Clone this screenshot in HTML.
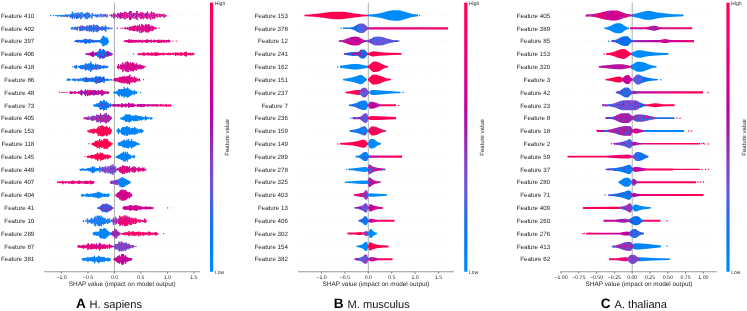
<!DOCTYPE html>
<html><head><meta charset="utf-8"><style>
html,body{margin:0;padding:0;background:#fff;}
svg{display:block;font-family:"Liberation Sans",sans-serif;text-rendering:geometricPrecision;}
#wrap{width:747px;height:311px;overflow:hidden;will-change:transform;}
</style></head><body>
<div id="wrap"><svg width="747" height="311" viewBox="0 0 747 311">
<defs><linearGradient id="cbar" x1="0" x2="0" y1="0" y2="1"><stop offset="0.00" stop-color="#ff0051"/><stop offset="0.10" stop-color="#f90067"/><stop offset="0.20" stop-color="#e9007c"/><stop offset="0.30" stop-color="#d5008f"/><stop offset="0.40" stop-color="#bb00a0"/><stop offset="0.50" stop-color="#9b23ad"/><stop offset="0.60" stop-color="#8443c6"/><stop offset="0.70" stop-color="#6359da"/><stop offset="0.80" stop-color="#236cea"/><stop offset="0.90" stop-color="#007cf5"/><stop offset="1.00" stop-color="#008bfb"/></linearGradient>
<linearGradient id="g0" gradientUnits="userSpaceOnUse" x1="304.5" x2="418.0" y1="0" y2="0"><stop offset="0.000" stop-color="#ff0051"/><stop offset="0.555" stop-color="#ff0051"/><stop offset="0.559" stop-color="#008bfb"/><stop offset="1.000" stop-color="#008bfb"/></linearGradient>
<linearGradient id="g1" gradientUnits="userSpaceOnUse" x1="343.0" x2="448.0" y1="0" y2="0"><stop offset="0.000" stop-color="#0084f9"/><stop offset="0.071" stop-color="#0084f9"/><stop offset="0.076" stop-color="#0080f7"/><stop offset="0.081" stop-color="#0080f7"/><stop offset="0.086" stop-color="#007cf5"/><stop offset="0.090" stop-color="#007cf5"/><stop offset="0.095" stop-color="#0078f3"/><stop offset="0.105" stop-color="#0078f3"/><stop offset="0.110" stop-color="#0074f0"/><stop offset="0.114" stop-color="#0074f0"/><stop offset="0.119" stop-color="#0070ed"/><stop offset="0.129" stop-color="#0070ed"/><stop offset="0.133" stop-color="#236cea"/><stop offset="0.138" stop-color="#236cea"/><stop offset="0.143" stop-color="#3b68e7"/><stop offset="0.148" stop-color="#3b68e7"/><stop offset="0.152" stop-color="#4b63e3"/><stop offset="0.162" stop-color="#4b63e3"/><stop offset="0.167" stop-color="#585edf"/><stop offset="0.171" stop-color="#585edf"/><stop offset="0.176" stop-color="#6359da"/><stop offset="0.181" stop-color="#6359da"/><stop offset="0.186" stop-color="#6c54d6"/><stop offset="0.195" stop-color="#6c54d6"/><stop offset="0.200" stop-color="#754fd1"/><stop offset="0.205" stop-color="#754fd1"/><stop offset="0.210" stop-color="#7d49cb"/><stop offset="0.219" stop-color="#7d49cb"/><stop offset="0.224" stop-color="#8443c6"/><stop offset="0.229" stop-color="#8443c6"/><stop offset="0.233" stop-color="#8b3cc0"/><stop offset="0.238" stop-color="#8b3cc0"/><stop offset="0.243" stop-color="#9135ba"/><stop offset="0.243" stop-color="#9135ba"/><stop offset="0.248" stop-color="#e00086"/><stop offset="0.300" stop-color="#e00086"/><stop offset="0.305" stop-color="#e50081"/><stop offset="0.410" stop-color="#e50081"/><stop offset="0.414" stop-color="#e9007c"/><stop offset="0.524" stop-color="#e9007c"/><stop offset="0.529" stop-color="#ee0077"/><stop offset="0.633" stop-color="#ee0077"/><stop offset="0.638" stop-color="#f20072"/><stop offset="0.743" stop-color="#f20072"/><stop offset="0.748" stop-color="#f5006c"/><stop offset="0.852" stop-color="#f5006c"/><stop offset="0.857" stop-color="#f90067"/><stop offset="0.967" stop-color="#f90067"/><stop offset="0.971" stop-color="#fc0062"/><stop offset="1.000" stop-color="#fc0062"/></linearGradient>
<linearGradient id="g2" gradientUnits="userSpaceOnUse" x1="339.5" x2="398.0" y1="0" y2="0"><stop offset="0.000" stop-color="#e9007c"/><stop offset="0.009" stop-color="#e9007c"/><stop offset="0.017" stop-color="#c80098"/><stop offset="0.453" stop-color="#c80098"/><stop offset="0.462" stop-color="#6359da"/><stop offset="1.000" stop-color="#6359da"/></linearGradient>
<linearGradient id="g3" gradientUnits="userSpaceOnUse" x1="344.0" x2="401.5" y1="0" y2="0"><stop offset="0.000" stop-color="#6359da"/><stop offset="0.026" stop-color="#6359da"/><stop offset="0.035" stop-color="#0074f0"/><stop offset="0.409" stop-color="#0074f0"/><stop offset="0.417" stop-color="#ff0051"/><stop offset="1.000" stop-color="#ff0051"/></linearGradient>
<linearGradient id="g4" gradientUnits="userSpaceOnUse" x1="340.0" x2="388.0" y1="0" y2="0"><stop offset="0.000" stop-color="#008bfb"/><stop offset="0.583" stop-color="#008bfb"/><stop offset="0.594" stop-color="#ff0051"/><stop offset="1.000" stop-color="#ff0051"/></linearGradient>
<linearGradient id="g5" gradientUnits="userSpaceOnUse" x1="345.5" x2="400.5" y1="0" y2="0"><stop offset="0.000" stop-color="#ff0051"/><stop offset="0.255" stop-color="#ff0051"/><stop offset="0.264" stop-color="#754fd1"/><stop offset="0.427" stop-color="#754fd1"/><stop offset="0.436" stop-color="#008bfb"/><stop offset="1.000" stop-color="#008bfb"/></linearGradient>
<linearGradient id="g6" gradientUnits="userSpaceOnUse" x1="349.5" x2="396.0" y1="0" y2="0"><stop offset="0.000" stop-color="#0084f9"/><stop offset="0.398" stop-color="#0084f9"/><stop offset="0.409" stop-color="#e9007c"/><stop offset="0.409" stop-color="#e9007c"/><stop offset="0.419" stop-color="#9b23ad"/><stop offset="0.419" stop-color="#9b23ad"/><stop offset="0.430" stop-color="#a31daa"/><stop offset="0.441" stop-color="#a31daa"/><stop offset="0.452" stop-color="#ab15a7"/><stop offset="0.462" stop-color="#ab15a7"/><stop offset="0.473" stop-color="#b30ba3"/><stop offset="0.484" stop-color="#b30ba3"/><stop offset="0.495" stop-color="#bb00a0"/><stop offset="0.516" stop-color="#bb00a0"/><stop offset="0.527" stop-color="#c2009c"/><stop offset="0.538" stop-color="#c2009c"/><stop offset="0.548" stop-color="#c80098"/><stop offset="0.559" stop-color="#c80098"/><stop offset="0.570" stop-color="#cf0093"/><stop offset="0.581" stop-color="#cf0093"/><stop offset="0.591" stop-color="#d5008f"/><stop offset="0.613" stop-color="#d5008f"/><stop offset="0.624" stop-color="#da008a"/><stop offset="0.634" stop-color="#da008a"/><stop offset="0.645" stop-color="#e00086"/><stop offset="0.645" stop-color="#e00086"/><stop offset="0.656" stop-color="#f5006c"/><stop offset="0.667" stop-color="#f5006c"/><stop offset="0.677" stop-color="#f90067"/><stop offset="0.731" stop-color="#f90067"/><stop offset="0.742" stop-color="#fc0062"/><stop offset="0.806" stop-color="#fc0062"/><stop offset="0.817" stop-color="#fe005c"/><stop offset="0.882" stop-color="#fe005c"/><stop offset="0.892" stop-color="#ff0057"/><stop offset="0.957" stop-color="#ff0057"/><stop offset="0.968" stop-color="#ff0051"/><stop offset="1.000" stop-color="#ff0051"/></linearGradient>
<linearGradient id="g7" gradientUnits="userSpaceOnUse" x1="352.5" x2="396.0" y1="0" y2="0"><stop offset="0.000" stop-color="#6359da"/><stop offset="0.161" stop-color="#6359da"/><stop offset="0.172" stop-color="#754fd1"/><stop offset="0.356" stop-color="#754fd1"/><stop offset="0.368" stop-color="#ff0051"/><stop offset="1.000" stop-color="#ff0051"/></linearGradient>
<linearGradient id="g8" gradientUnits="userSpaceOnUse" x1="349.5" x2="386.0" y1="0" y2="0"><stop offset="0.000" stop-color="#0084f9"/><stop offset="0.493" stop-color="#0084f9"/><stop offset="0.507" stop-color="#ff0051"/><stop offset="1.000" stop-color="#ff0051"/></linearGradient>
<linearGradient id="g9" gradientUnits="userSpaceOnUse" x1="340.0" x2="381.0" y1="0" y2="0"><stop offset="0.000" stop-color="#ff0051"/><stop offset="0.671" stop-color="#ff0051"/><stop offset="0.683" stop-color="#008bfb"/><stop offset="1.000" stop-color="#008bfb"/></linearGradient>
<linearGradient id="g10" gradientUnits="userSpaceOnUse" x1="355.5" x2="402.0" y1="0" y2="0"><stop offset="0.000" stop-color="#0084f9"/><stop offset="0.280" stop-color="#0084f9"/><stop offset="0.290" stop-color="#bb00a0"/><stop offset="0.301" stop-color="#bb00a0"/><stop offset="0.312" stop-color="#c2009c"/><stop offset="0.355" stop-color="#c2009c"/><stop offset="0.366" stop-color="#c80098"/><stop offset="0.398" stop-color="#c80098"/><stop offset="0.409" stop-color="#cf0093"/><stop offset="0.441" stop-color="#cf0093"/><stop offset="0.452" stop-color="#d5008f"/><stop offset="0.484" stop-color="#d5008f"/><stop offset="0.495" stop-color="#da008a"/><stop offset="0.527" stop-color="#da008a"/><stop offset="0.538" stop-color="#e00086"/><stop offset="0.570" stop-color="#e00086"/><stop offset="0.581" stop-color="#e50081"/><stop offset="0.624" stop-color="#e50081"/><stop offset="0.634" stop-color="#e9007c"/><stop offset="0.667" stop-color="#e9007c"/><stop offset="0.677" stop-color="#ee0077"/><stop offset="0.710" stop-color="#ee0077"/><stop offset="0.720" stop-color="#f20072"/><stop offset="0.753" stop-color="#f20072"/><stop offset="0.763" stop-color="#f5006c"/><stop offset="0.796" stop-color="#f5006c"/><stop offset="0.806" stop-color="#f90067"/><stop offset="0.839" stop-color="#f90067"/><stop offset="0.849" stop-color="#fc0062"/><stop offset="0.892" stop-color="#fc0062"/><stop offset="0.903" stop-color="#fe005c"/><stop offset="0.935" stop-color="#fe005c"/><stop offset="0.946" stop-color="#ff0057"/><stop offset="0.978" stop-color="#ff0057"/><stop offset="0.989" stop-color="#ff0051"/><stop offset="1.000" stop-color="#ff0051"/></linearGradient>
<linearGradient id="g11" gradientUnits="userSpaceOnUse" x1="348.5" x2="385.0" y1="0" y2="0"><stop offset="0.000" stop-color="#008bfb"/><stop offset="0.521" stop-color="#008bfb"/><stop offset="0.534" stop-color="#754fd1"/><stop offset="0.534" stop-color="#754fd1"/><stop offset="0.548" stop-color="#7d49cb"/><stop offset="0.562" stop-color="#7d49cb"/><stop offset="0.575" stop-color="#8443c6"/><stop offset="0.589" stop-color="#8443c6"/><stop offset="0.603" stop-color="#8b3cc0"/><stop offset="0.616" stop-color="#8b3cc0"/><stop offset="0.630" stop-color="#9135ba"/><stop offset="0.644" stop-color="#9135ba"/><stop offset="0.658" stop-color="#962db3"/><stop offset="0.671" stop-color="#962db3"/><stop offset="0.685" stop-color="#9b23ad"/><stop offset="0.699" stop-color="#9b23ad"/><stop offset="0.712" stop-color="#a31daa"/><stop offset="0.726" stop-color="#a31daa"/><stop offset="0.740" stop-color="#ab15a7"/><stop offset="0.753" stop-color="#ab15a7"/><stop offset="0.767" stop-color="#b30ba3"/><stop offset="0.781" stop-color="#b30ba3"/><stop offset="0.795" stop-color="#bb00a0"/><stop offset="0.808" stop-color="#bb00a0"/><stop offset="0.822" stop-color="#c2009c"/><stop offset="0.836" stop-color="#c2009c"/><stop offset="0.849" stop-color="#c80098"/><stop offset="0.849" stop-color="#c80098"/><stop offset="0.863" stop-color="#cf0093"/><stop offset="0.877" stop-color="#cf0093"/><stop offset="0.890" stop-color="#d5008f"/><stop offset="0.904" stop-color="#d5008f"/><stop offset="0.918" stop-color="#da008a"/><stop offset="0.932" stop-color="#da008a"/><stop offset="0.945" stop-color="#e00086"/><stop offset="0.959" stop-color="#e00086"/><stop offset="0.973" stop-color="#e50081"/><stop offset="0.986" stop-color="#e50081"/><stop offset="1.000" stop-color="#e9007c"/><stop offset="1.000" stop-color="#e9007c"/></linearGradient>
<linearGradient id="g12" gradientUnits="userSpaceOnUse" x1="346.0" x2="380.5" y1="0" y2="0"><stop offset="0.000" stop-color="#008bfb"/><stop offset="0.623" stop-color="#008bfb"/><stop offset="0.638" stop-color="#8b3cc0"/><stop offset="0.638" stop-color="#8b3cc0"/><stop offset="0.652" stop-color="#9135ba"/><stop offset="0.652" stop-color="#9135ba"/><stop offset="0.667" stop-color="#962db3"/><stop offset="0.667" stop-color="#962db3"/><stop offset="0.681" stop-color="#9b23ad"/><stop offset="0.681" stop-color="#9b23ad"/><stop offset="0.696" stop-color="#a31daa"/><stop offset="0.710" stop-color="#a31daa"/><stop offset="0.725" stop-color="#ab15a7"/><stop offset="0.725" stop-color="#ab15a7"/><stop offset="0.739" stop-color="#b30ba3"/><stop offset="0.739" stop-color="#b30ba3"/><stop offset="0.754" stop-color="#bb00a0"/><stop offset="0.754" stop-color="#bb00a0"/><stop offset="0.768" stop-color="#c2009c"/><stop offset="0.768" stop-color="#c2009c"/><stop offset="0.783" stop-color="#c80098"/><stop offset="0.783" stop-color="#c80098"/><stop offset="0.797" stop-color="#cf0093"/><stop offset="0.797" stop-color="#cf0093"/><stop offset="0.812" stop-color="#d5008f"/><stop offset="0.812" stop-color="#d5008f"/><stop offset="0.826" stop-color="#da008a"/><stop offset="0.826" stop-color="#da008a"/><stop offset="0.841" stop-color="#e00086"/><stop offset="0.841" stop-color="#e00086"/><stop offset="0.855" stop-color="#e50081"/><stop offset="0.855" stop-color="#e50081"/><stop offset="0.870" stop-color="#e9007c"/><stop offset="0.884" stop-color="#e9007c"/><stop offset="0.899" stop-color="#ee0077"/><stop offset="0.899" stop-color="#ee0077"/><stop offset="0.913" stop-color="#f20072"/><stop offset="0.913" stop-color="#f20072"/><stop offset="0.928" stop-color="#f5006c"/><stop offset="0.928" stop-color="#f5006c"/><stop offset="0.942" stop-color="#f90067"/><stop offset="0.942" stop-color="#f90067"/><stop offset="0.957" stop-color="#fc0062"/><stop offset="0.957" stop-color="#fc0062"/><stop offset="0.971" stop-color="#fe005c"/><stop offset="0.971" stop-color="#fe005c"/><stop offset="0.986" stop-color="#ff0057"/><stop offset="0.986" stop-color="#ff0057"/><stop offset="1.000" stop-color="#ff0051"/><stop offset="1.000" stop-color="#ff0051"/></linearGradient>
<linearGradient id="g13" gradientUnits="userSpaceOnUse" x1="354.0" x2="387.0" y1="0" y2="0"><stop offset="0.000" stop-color="#e9007c"/><stop offset="0.258" stop-color="#e9007c"/><stop offset="0.273" stop-color="#9135ba"/><stop offset="0.424" stop-color="#9135ba"/><stop offset="0.439" stop-color="#008bfb"/><stop offset="1.000" stop-color="#008bfb"/></linearGradient>
<linearGradient id="g14" gradientUnits="userSpaceOnUse" x1="354.5" x2="382.5" y1="0" y2="0"><stop offset="0.000" stop-color="#6359da"/><stop offset="0.482" stop-color="#6359da"/><stop offset="0.500" stop-color="#c80098"/><stop offset="1.000" stop-color="#c80098"/></linearGradient>
<linearGradient id="g15" gradientUnits="userSpaceOnUse" x1="358.5" x2="394.5" y1="0" y2="0"><stop offset="0.000" stop-color="#007cf5"/><stop offset="0.278" stop-color="#007cf5"/><stop offset="0.292" stop-color="#d5008f"/><stop offset="0.514" stop-color="#d5008f"/><stop offset="0.528" stop-color="#f5006c"/><stop offset="0.597" stop-color="#f5006c"/><stop offset="0.611" stop-color="#f90067"/><stop offset="0.681" stop-color="#f90067"/><stop offset="0.694" stop-color="#fc0062"/><stop offset="0.778" stop-color="#fc0062"/><stop offset="0.792" stop-color="#fe005c"/><stop offset="0.861" stop-color="#fe005c"/><stop offset="0.875" stop-color="#ff0057"/><stop offset="0.958" stop-color="#ff0057"/><stop offset="0.972" stop-color="#ff0051"/><stop offset="1.000" stop-color="#ff0051"/></linearGradient>
<linearGradient id="g16" gradientUnits="userSpaceOnUse" x1="347.5" x2="377.0" y1="0" y2="0"><stop offset="0.000" stop-color="#ff0051"/><stop offset="0.220" stop-color="#ff0051"/><stop offset="0.237" stop-color="#fe005c"/><stop offset="0.492" stop-color="#fe005c"/><stop offset="0.508" stop-color="#ff0051"/><stop offset="0.508" stop-color="#ff0051"/><stop offset="0.525" stop-color="#9135ba"/><stop offset="0.695" stop-color="#9135ba"/><stop offset="0.712" stop-color="#008bfb"/><stop offset="1.000" stop-color="#008bfb"/></linearGradient>
<linearGradient id="g17" gradientUnits="userSpaceOnUse" x1="356.5" x2="388.5" y1="0" y2="0"><stop offset="0.000" stop-color="#008bfb"/><stop offset="0.359" stop-color="#008bfb"/><stop offset="0.375" stop-color="#ff0051"/><stop offset="1.000" stop-color="#ff0051"/></linearGradient>
<linearGradient id="g18" gradientUnits="userSpaceOnUse" x1="354.5" x2="392.5" y1="0" y2="0"><stop offset="0.000" stop-color="#754fd1"/><stop offset="0.355" stop-color="#754fd1"/><stop offset="0.368" stop-color="#e00086"/><stop offset="0.382" stop-color="#e00086"/><stop offset="0.395" stop-color="#d5008f"/><stop offset="0.605" stop-color="#d5008f"/><stop offset="0.618" stop-color="#f20072"/><stop offset="0.645" stop-color="#f20072"/><stop offset="0.658" stop-color="#f5006c"/><stop offset="0.711" stop-color="#f5006c"/><stop offset="0.724" stop-color="#f90067"/><stop offset="0.776" stop-color="#f90067"/><stop offset="0.789" stop-color="#fc0062"/><stop offset="0.842" stop-color="#fc0062"/><stop offset="0.855" stop-color="#fe005c"/><stop offset="0.895" stop-color="#fe005c"/><stop offset="0.908" stop-color="#ff0057"/><stop offset="0.961" stop-color="#ff0057"/><stop offset="0.974" stop-color="#ff0051"/><stop offset="1.000" stop-color="#ff0051"/></linearGradient>
<linearGradient id="g19" gradientUnits="userSpaceOnUse" x1="586.0" x2="683.5" y1="0" y2="0"><stop offset="0.000" stop-color="#c80098"/><stop offset="0.041" stop-color="#c80098"/><stop offset="0.046" stop-color="#cf0093"/><stop offset="0.446" stop-color="#cf0093"/><stop offset="0.451" stop-color="#c80098"/><stop offset="0.451" stop-color="#c80098"/><stop offset="0.456" stop-color="#cf0093"/><stop offset="0.472" stop-color="#cf0093"/><stop offset="0.477" stop-color="#008bfb"/><stop offset="1.000" stop-color="#008bfb"/></linearGradient>
<linearGradient id="g20" gradientUnits="userSpaceOnUse" x1="630.0" x2="692.0" y1="0" y2="0"><stop offset="0.000" stop-color="#e00086"/><stop offset="0.056" stop-color="#e00086"/><stop offset="0.065" stop-color="#e50081"/><stop offset="0.185" stop-color="#e50081"/><stop offset="0.194" stop-color="#e9007c"/><stop offset="0.266" stop-color="#e9007c"/><stop offset="0.274" stop-color="#9b23ad"/><stop offset="0.484" stop-color="#9b23ad"/><stop offset="0.492" stop-color="#f20072"/><stop offset="0.565" stop-color="#f20072"/><stop offset="0.573" stop-color="#f5006c"/><stop offset="0.685" stop-color="#f5006c"/><stop offset="0.694" stop-color="#f90067"/><stop offset="0.815" stop-color="#f90067"/><stop offset="0.823" stop-color="#fc0062"/><stop offset="0.935" stop-color="#fc0062"/><stop offset="0.944" stop-color="#fe005c"/><stop offset="1.000" stop-color="#fe005c"/></linearGradient>
<linearGradient id="g21" gradientUnits="userSpaceOnUse" x1="611.5" x2="694.0" y1="0" y2="0"><stop offset="0.000" stop-color="#008bfb"/><stop offset="0.030" stop-color="#008bfb"/><stop offset="0.036" stop-color="#0074f0"/><stop offset="0.255" stop-color="#0074f0"/><stop offset="0.261" stop-color="#9135ba"/><stop offset="0.279" stop-color="#9135ba"/><stop offset="0.285" stop-color="#962db3"/><stop offset="0.327" stop-color="#962db3"/><stop offset="0.333" stop-color="#9b23ad"/><stop offset="0.376" stop-color="#9b23ad"/><stop offset="0.382" stop-color="#a31daa"/><stop offset="0.418" stop-color="#a31daa"/><stop offset="0.424" stop-color="#ab15a7"/><stop offset="0.467" stop-color="#ab15a7"/><stop offset="0.473" stop-color="#b30ba3"/><stop offset="0.509" stop-color="#b30ba3"/><stop offset="0.515" stop-color="#bb00a0"/><stop offset="0.558" stop-color="#bb00a0"/><stop offset="0.564" stop-color="#c2009c"/><stop offset="0.588" stop-color="#c2009c"/><stop offset="0.594" stop-color="#e00086"/><stop offset="0.703" stop-color="#e00086"/><stop offset="0.709" stop-color="#d5008f"/><stop offset="0.745" stop-color="#d5008f"/><stop offset="0.752" stop-color="#da008a"/><stop offset="0.788" stop-color="#da008a"/><stop offset="0.794" stop-color="#e00086"/><stop offset="0.836" stop-color="#e00086"/><stop offset="0.842" stop-color="#e50081"/><stop offset="0.879" stop-color="#e50081"/><stop offset="0.885" stop-color="#e9007c"/><stop offset="0.927" stop-color="#e9007c"/><stop offset="0.933" stop-color="#ee0077"/><stop offset="0.976" stop-color="#ee0077"/><stop offset="0.982" stop-color="#f20072"/><stop offset="1.000" stop-color="#f20072"/></linearGradient>
<linearGradient id="g22" gradientUnits="userSpaceOnUse" x1="606.0" x2="668.0" y1="0" y2="0"><stop offset="0.000" stop-color="#ff0051"/><stop offset="0.403" stop-color="#ff0051"/><stop offset="0.411" stop-color="#008bfb"/><stop offset="1.000" stop-color="#008bfb"/></linearGradient>
<linearGradient id="g23" gradientUnits="userSpaceOnUse" x1="599.0" x2="656.5" y1="0" y2="0"><stop offset="0.000" stop-color="#ab15a7"/><stop offset="0.548" stop-color="#ab15a7"/><stop offset="0.557" stop-color="#008bfb"/><stop offset="1.000" stop-color="#008bfb"/></linearGradient>
<linearGradient id="g24" gradientUnits="userSpaceOnUse" x1="605.5" x2="658.0" y1="0" y2="0"><stop offset="0.000" stop-color="#ff0051"/><stop offset="0.314" stop-color="#ff0051"/><stop offset="0.324" stop-color="#c80098"/><stop offset="0.505" stop-color="#c80098"/><stop offset="0.514" stop-color="#754fd1"/><stop offset="0.514" stop-color="#754fd1"/><stop offset="0.524" stop-color="#6c54d6"/><stop offset="0.552" stop-color="#6c54d6"/><stop offset="0.562" stop-color="#6359da"/><stop offset="0.590" stop-color="#6359da"/><stop offset="0.600" stop-color="#585edf"/><stop offset="0.619" stop-color="#585edf"/><stop offset="0.629" stop-color="#4b63e3"/><stop offset="0.657" stop-color="#4b63e3"/><stop offset="0.667" stop-color="#3b68e7"/><stop offset="0.695" stop-color="#3b68e7"/><stop offset="0.705" stop-color="#236cea"/><stop offset="0.733" stop-color="#236cea"/><stop offset="0.743" stop-color="#0070ed"/><stop offset="0.762" stop-color="#0070ed"/><stop offset="0.771" stop-color="#0074f0"/><stop offset="0.800" stop-color="#0074f0"/><stop offset="0.810" stop-color="#0078f3"/><stop offset="0.838" stop-color="#0078f3"/><stop offset="0.848" stop-color="#007cf5"/><stop offset="0.876" stop-color="#007cf5"/><stop offset="0.886" stop-color="#0080f7"/><stop offset="0.905" stop-color="#0080f7"/><stop offset="0.914" stop-color="#0084f9"/><stop offset="0.943" stop-color="#0084f9"/><stop offset="0.952" stop-color="#0087fa"/><stop offset="0.981" stop-color="#0087fa"/><stop offset="0.990" stop-color="#008bfb"/><stop offset="1.000" stop-color="#008bfb"/></linearGradient>
<linearGradient id="g25" gradientUnits="userSpaceOnUse" x1="616.0" x2="703.0" y1="0" y2="0"><stop offset="0.000" stop-color="#236cea"/><stop offset="0.178" stop-color="#236cea"/><stop offset="0.184" stop-color="#9b23ad"/><stop offset="0.259" stop-color="#9b23ad"/><stop offset="0.264" stop-color="#bb00a0"/><stop offset="0.293" stop-color="#bb00a0"/><stop offset="0.299" stop-color="#c2009c"/><stop offset="0.339" stop-color="#c2009c"/><stop offset="0.345" stop-color="#c80098"/><stop offset="0.385" stop-color="#c80098"/><stop offset="0.391" stop-color="#cf0093"/><stop offset="0.431" stop-color="#cf0093"/><stop offset="0.437" stop-color="#d5008f"/><stop offset="0.477" stop-color="#d5008f"/><stop offset="0.483" stop-color="#da008a"/><stop offset="0.523" stop-color="#da008a"/><stop offset="0.529" stop-color="#e00086"/><stop offset="0.569" stop-color="#e00086"/><stop offset="0.575" stop-color="#e50081"/><stop offset="0.609" stop-color="#e50081"/><stop offset="0.615" stop-color="#e9007c"/><stop offset="0.655" stop-color="#e9007c"/><stop offset="0.661" stop-color="#ee0077"/><stop offset="0.701" stop-color="#ee0077"/><stop offset="0.707" stop-color="#f20072"/><stop offset="0.747" stop-color="#f20072"/><stop offset="0.753" stop-color="#f5006c"/><stop offset="0.793" stop-color="#f5006c"/><stop offset="0.799" stop-color="#f90067"/><stop offset="0.839" stop-color="#f90067"/><stop offset="0.845" stop-color="#fc0062"/><stop offset="0.885" stop-color="#fc0062"/><stop offset="0.891" stop-color="#fe005c"/><stop offset="0.931" stop-color="#fe005c"/><stop offset="0.937" stop-color="#ff0057"/><stop offset="0.977" stop-color="#ff0057"/><stop offset="0.983" stop-color="#ff0051"/><stop offset="1.000" stop-color="#ff0051"/></linearGradient>
<linearGradient id="g26" gradientUnits="userSpaceOnUse" x1="602.0" x2="674.5" y1="0" y2="0"><stop offset="0.000" stop-color="#9135ba"/><stop offset="0.097" stop-color="#9135ba"/><stop offset="0.103" stop-color="#754fd1"/><stop offset="0.517" stop-color="#754fd1"/><stop offset="0.524" stop-color="#0074f0"/><stop offset="0.586" stop-color="#0074f0"/><stop offset="0.593" stop-color="#ff0051"/><stop offset="1.000" stop-color="#ff0051"/></linearGradient>
<linearGradient id="g27" gradientUnits="userSpaceOnUse" x1="605.5" x2="674.5" y1="0" y2="0"><stop offset="0.000" stop-color="#9b23ad"/><stop offset="0.384" stop-color="#9b23ad"/><stop offset="0.391" stop-color="#9135ba"/><stop offset="0.717" stop-color="#9135ba"/><stop offset="0.725" stop-color="#236cea"/><stop offset="1.000" stop-color="#236cea"/></linearGradient>
<linearGradient id="g28" gradientUnits="userSpaceOnUse" x1="597.0" x2="684.0" y1="0" y2="0"><stop offset="0.000" stop-color="#bb00a0"/><stop offset="0.103" stop-color="#bb00a0"/><stop offset="0.109" stop-color="#9b23ad"/><stop offset="0.408" stop-color="#9b23ad"/><stop offset="0.414" stop-color="#d5008f"/><stop offset="0.534" stop-color="#d5008f"/><stop offset="0.540" stop-color="#0084f9"/><stop offset="1.000" stop-color="#0084f9"/></linearGradient>
<linearGradient id="g29" gradientUnits="userSpaceOnUse" x1="614.0" x2="700.0" y1="0" y2="0"><stop offset="0.000" stop-color="#4b63e3"/><stop offset="0.215" stop-color="#4b63e3"/><stop offset="0.221" stop-color="#bb00a0"/><stop offset="0.297" stop-color="#bb00a0"/><stop offset="0.302" stop-color="#e50081"/><stop offset="0.331" stop-color="#e50081"/><stop offset="0.337" stop-color="#e9007c"/><stop offset="0.407" stop-color="#e9007c"/><stop offset="0.413" stop-color="#ee0077"/><stop offset="0.488" stop-color="#ee0077"/><stop offset="0.494" stop-color="#f20072"/><stop offset="0.564" stop-color="#f20072"/><stop offset="0.570" stop-color="#f5006c"/><stop offset="0.645" stop-color="#f5006c"/><stop offset="0.651" stop-color="#f90067"/><stop offset="0.721" stop-color="#f90067"/><stop offset="0.727" stop-color="#fc0062"/><stop offset="0.802" stop-color="#fc0062"/><stop offset="0.808" stop-color="#fe005c"/><stop offset="0.878" stop-color="#fe005c"/><stop offset="0.884" stop-color="#ff0057"/><stop offset="0.959" stop-color="#ff0057"/><stop offset="0.965" stop-color="#ff0051"/><stop offset="1.000" stop-color="#ff0051"/></linearGradient>
<linearGradient id="g30" gradientUnits="userSpaceOnUse" x1="567.5" x2="648.5" y1="0" y2="0"><stop offset="0.000" stop-color="#ff0051"/><stop offset="0.463" stop-color="#ff0051"/><stop offset="0.469" stop-color="#f20072"/><stop offset="0.796" stop-color="#f20072"/><stop offset="0.802" stop-color="#6359da"/><stop offset="0.809" stop-color="#6359da"/><stop offset="0.815" stop-color="#585edf"/><stop offset="0.827" stop-color="#585edf"/><stop offset="0.833" stop-color="#4b63e3"/><stop offset="0.846" stop-color="#4b63e3"/><stop offset="0.852" stop-color="#3b68e7"/><stop offset="0.870" stop-color="#3b68e7"/><stop offset="0.877" stop-color="#236cea"/><stop offset="0.889" stop-color="#236cea"/><stop offset="0.895" stop-color="#0070ed"/><stop offset="0.907" stop-color="#0070ed"/><stop offset="0.914" stop-color="#0074f0"/><stop offset="0.926" stop-color="#0074f0"/><stop offset="0.932" stop-color="#0078f3"/><stop offset="0.944" stop-color="#0078f3"/><stop offset="0.951" stop-color="#007cf5"/><stop offset="0.969" stop-color="#007cf5"/><stop offset="0.975" stop-color="#0080f7"/><stop offset="0.988" stop-color="#0080f7"/><stop offset="0.994" stop-color="#0084f9"/><stop offset="1.000" stop-color="#0084f9"/></linearGradient>
<linearGradient id="g31" gradientUnits="userSpaceOnUse" x1="605.5" x2="700.0" y1="0" y2="0"><stop offset="0.000" stop-color="#007cf5"/><stop offset="0.286" stop-color="#007cf5"/><stop offset="0.291" stop-color="#bb00a0"/><stop offset="0.423" stop-color="#bb00a0"/><stop offset="0.429" stop-color="#f5006c"/><stop offset="0.471" stop-color="#f5006c"/><stop offset="0.476" stop-color="#f90067"/><stop offset="0.524" stop-color="#f90067"/><stop offset="0.529" stop-color="#fc0062"/><stop offset="0.577" stop-color="#fc0062"/><stop offset="0.582" stop-color="#fe005c"/><stop offset="0.630" stop-color="#fe005c"/><stop offset="0.635" stop-color="#ff0057"/><stop offset="0.683" stop-color="#ff0057"/><stop offset="0.688" stop-color="#ff0051"/><stop offset="1.000" stop-color="#ff0051"/></linearGradient>
<linearGradient id="g32" gradientUnits="userSpaceOnUse" x1="618.5" x2="696.0" y1="0" y2="0"><stop offset="0.000" stop-color="#0084f9"/><stop offset="0.174" stop-color="#0084f9"/><stop offset="0.181" stop-color="#9b23ad"/><stop offset="0.239" stop-color="#9b23ad"/><stop offset="0.245" stop-color="#f20072"/><stop offset="0.245" stop-color="#f20072"/><stop offset="0.252" stop-color="#f5006c"/><stop offset="0.381" stop-color="#f5006c"/><stop offset="0.387" stop-color="#f90067"/><stop offset="0.516" stop-color="#f90067"/><stop offset="0.523" stop-color="#fc0062"/><stop offset="0.652" stop-color="#fc0062"/><stop offset="0.658" stop-color="#fe005c"/><stop offset="0.794" stop-color="#fe005c"/><stop offset="0.800" stop-color="#ff0057"/><stop offset="0.929" stop-color="#ff0057"/><stop offset="0.935" stop-color="#ff0051"/><stop offset="1.000" stop-color="#ff0051"/></linearGradient>
<linearGradient id="g33" gradientUnits="userSpaceOnUse" x1="608.5" x2="703.5" y1="0" y2="0"><stop offset="0.000" stop-color="#007cf5"/><stop offset="0.247" stop-color="#007cf5"/><stop offset="0.253" stop-color="#bb00a0"/><stop offset="0.326" stop-color="#bb00a0"/><stop offset="0.332" stop-color="#e50081"/><stop offset="0.363" stop-color="#e50081"/><stop offset="0.368" stop-color="#e9007c"/><stop offset="0.437" stop-color="#e9007c"/><stop offset="0.442" stop-color="#ee0077"/><stop offset="0.511" stop-color="#ee0077"/><stop offset="0.516" stop-color="#f20072"/><stop offset="0.584" stop-color="#f20072"/><stop offset="0.589" stop-color="#f5006c"/><stop offset="0.663" stop-color="#f5006c"/><stop offset="0.668" stop-color="#f90067"/><stop offset="0.737" stop-color="#f90067"/><stop offset="0.742" stop-color="#fc0062"/><stop offset="0.811" stop-color="#fc0062"/><stop offset="0.816" stop-color="#fe005c"/><stop offset="0.884" stop-color="#fe005c"/><stop offset="0.889" stop-color="#ff0057"/><stop offset="0.958" stop-color="#ff0057"/><stop offset="0.963" stop-color="#ff0051"/><stop offset="1.000" stop-color="#ff0051"/></linearGradient>
<linearGradient id="g34" gradientUnits="userSpaceOnUse" x1="583.0" x2="651.0" y1="0" y2="0"><stop offset="0.000" stop-color="#ff0051"/><stop offset="0.544" stop-color="#ff0051"/><stop offset="0.551" stop-color="#9135ba"/><stop offset="0.721" stop-color="#9135ba"/><stop offset="0.728" stop-color="#008bfb"/><stop offset="1.000" stop-color="#008bfb"/></linearGradient>
<linearGradient id="g35" gradientUnits="userSpaceOnUse" x1="603.5" x2="660.5" y1="0" y2="0"><stop offset="0.000" stop-color="#c80098"/><stop offset="0.193" stop-color="#c80098"/><stop offset="0.202" stop-color="#9b23ad"/><stop offset="0.430" stop-color="#9b23ad"/><stop offset="0.439" stop-color="#0074f0"/><stop offset="0.684" stop-color="#0074f0"/><stop offset="0.693" stop-color="#f90067"/><stop offset="1.000" stop-color="#f90067"/></linearGradient>
<linearGradient id="g36" gradientUnits="userSpaceOnUse" x1="586.0" x2="644.0" y1="0" y2="0"><stop offset="0.000" stop-color="#e9007c"/><stop offset="0.043" stop-color="#e9007c"/><stop offset="0.052" stop-color="#e50081"/><stop offset="0.138" stop-color="#e50081"/><stop offset="0.147" stop-color="#e00086"/><stop offset="0.233" stop-color="#e00086"/><stop offset="0.241" stop-color="#da008a"/><stop offset="0.328" stop-color="#da008a"/><stop offset="0.336" stop-color="#d5008f"/><stop offset="0.422" stop-color="#d5008f"/><stop offset="0.431" stop-color="#cf0093"/><stop offset="0.517" stop-color="#cf0093"/><stop offset="0.526" stop-color="#c80098"/><stop offset="0.569" stop-color="#c80098"/><stop offset="0.578" stop-color="#bb00a0"/><stop offset="0.733" stop-color="#bb00a0"/><stop offset="0.741" stop-color="#236cea"/><stop offset="1.000" stop-color="#236cea"/></linearGradient>
<linearGradient id="g37" gradientUnits="userSpaceOnUse" x1="612.5" x2="661.0" y1="0" y2="0"><stop offset="0.000" stop-color="#9b23ad"/><stop offset="0.041" stop-color="#9b23ad"/><stop offset="0.052" stop-color="#9135ba"/><stop offset="0.412" stop-color="#9135ba"/><stop offset="0.423" stop-color="#0084f9"/><stop offset="1.000" stop-color="#0084f9"/></linearGradient>
<linearGradient id="g38" gradientUnits="userSpaceOnUse" x1="609.0" x2="670.0" y1="0" y2="0"><stop offset="0.000" stop-color="#f90067"/><stop offset="0.131" stop-color="#f90067"/><stop offset="0.139" stop-color="#e9007c"/><stop offset="0.295" stop-color="#e9007c"/><stop offset="0.303" stop-color="#8443c6"/><stop offset="0.467" stop-color="#8443c6"/><stop offset="0.475" stop-color="#0084f9"/><stop offset="1.000" stop-color="#0084f9"/></linearGradient></defs>
<rect width="747" height="311" fill="#fff"/>
<line x1="44.3" x2="200.2" y1="15.45" y2="15.45" stroke="#e8e8e8" stroke-width="0.4" stroke-dasharray="0.8 1.0"/>
<line x1="44.3" x2="200.2" y1="28.28" y2="28.28" stroke="#e8e8e8" stroke-width="0.4" stroke-dasharray="0.8 1.0"/>
<line x1="44.3" x2="200.2" y1="41.11" y2="41.11" stroke="#e8e8e8" stroke-width="0.4" stroke-dasharray="0.8 1.0"/>
<line x1="44.3" x2="200.2" y1="53.94" y2="53.94" stroke="#e8e8e8" stroke-width="0.4" stroke-dasharray="0.8 1.0"/>
<line x1="44.3" x2="200.2" y1="66.77" y2="66.77" stroke="#e8e8e8" stroke-width="0.4" stroke-dasharray="0.8 1.0"/>
<line x1="44.3" x2="200.2" y1="79.60" y2="79.60" stroke="#e8e8e8" stroke-width="0.4" stroke-dasharray="0.8 1.0"/>
<line x1="44.3" x2="200.2" y1="92.43" y2="92.43" stroke="#e8e8e8" stroke-width="0.4" stroke-dasharray="0.8 1.0"/>
<line x1="44.3" x2="200.2" y1="105.26" y2="105.26" stroke="#e8e8e8" stroke-width="0.4" stroke-dasharray="0.8 1.0"/>
<line x1="44.3" x2="200.2" y1="118.09" y2="118.09" stroke="#e8e8e8" stroke-width="0.4" stroke-dasharray="0.8 1.0"/>
<line x1="44.3" x2="200.2" y1="130.92" y2="130.92" stroke="#e8e8e8" stroke-width="0.4" stroke-dasharray="0.8 1.0"/>
<line x1="44.3" x2="200.2" y1="143.75" y2="143.75" stroke="#e8e8e8" stroke-width="0.4" stroke-dasharray="0.8 1.0"/>
<line x1="44.3" x2="200.2" y1="156.58" y2="156.58" stroke="#e8e8e8" stroke-width="0.4" stroke-dasharray="0.8 1.0"/>
<line x1="44.3" x2="200.2" y1="169.41" y2="169.41" stroke="#e8e8e8" stroke-width="0.4" stroke-dasharray="0.8 1.0"/>
<line x1="44.3" x2="200.2" y1="182.24" y2="182.24" stroke="#e8e8e8" stroke-width="0.4" stroke-dasharray="0.8 1.0"/>
<line x1="44.3" x2="200.2" y1="195.07" y2="195.07" stroke="#e8e8e8" stroke-width="0.4" stroke-dasharray="0.8 1.0"/>
<line x1="44.3" x2="200.2" y1="207.90" y2="207.90" stroke="#e8e8e8" stroke-width="0.4" stroke-dasharray="0.8 1.0"/>
<line x1="44.3" x2="200.2" y1="220.73" y2="220.73" stroke="#e8e8e8" stroke-width="0.4" stroke-dasharray="0.8 1.0"/>
<line x1="44.3" x2="200.2" y1="233.56" y2="233.56" stroke="#e8e8e8" stroke-width="0.4" stroke-dasharray="0.8 1.0"/>
<line x1="44.3" x2="200.2" y1="246.39" y2="246.39" stroke="#e8e8e8" stroke-width="0.4" stroke-dasharray="0.8 1.0"/>
<line x1="44.3" x2="200.2" y1="259.22" y2="259.22" stroke="#e8e8e8" stroke-width="0.4" stroke-dasharray="0.8 1.0"/>
<line x1="114.45" x2="114.45" y1="2.62" y2="271.75" stroke="#999999" stroke-width="0.8"/>
<path d="M74.1 14.09h0M64.92 15.45h0M75.36 13.41h0M72.06 18.85h0M102.44 80.7h0M91.81 79.05h0M101.37 81.25h0M87.32 80.7h0M89.42 79.05h0M125.11 243.85h0M124.09 245.75h0M117.56 247.03h0M121.8 244.48h0M127.23 245.75h0M124.61 246.39h0M127.41 245.12h0M123.92 248.93h0M122.33 245.12h0M120.13 245.75h0M126.01 243.85h0M122.22 247.03h0M128.96 243.85h0M113.84 246.39h0M124.06 244.48h0" stroke="#008bfb" stroke-width="1.36" stroke-linecap="round" fill="none"/>
<path d="M53.51 15.45h0M50.61 15.45h0M104.68 41.43h0M106.35 42.39h0M102.56 42.72h0M103.07 38.22h0M107.57 42.07h0M103.95 43.04h0M106.32 42.07h0M102.81 44.64h0M102.82 41.43h0M102.8 41.75h0M103.49 44.96h0M101.52 42.07h0M103.45 43.04h0M102.4 42.07h0M103.08 43.68h0M105.71 40.47h0M102.19 42.39h0M106.93 41.43h0M105.46 42.72h0M106.13 38.86h0M104.21 36.94h0M101.53 41.75h0M103.9 38.22h0M103.84 37.26h0M105.55 39.5h0M106.91 40.15h0M105.77 42.07h0M106.67 44.32h0M106.29 37.9h0M101.03 41.43h0M105.82 38.54h0M105 41.75h0M102.9 44.32h0M101.19 42.39h0M103.53 36.94h0M102.48 38.86h0M103.16 42.07h0M104.87 39.18h0M105.68 43.36h0M103.27 42.39h0M102.87 45.28h0M100.76 40.47h0M100.64 41.75h0M106.85 43.68h0M106.35 40.47h0M101.94 38.54h0M103.51 39.83h0M104.8 44.96h0M103.71 36.41h0M102.5 43.68h0M101.66 41.11h0M105.92 43.68h0M104.76 38.86h0M100.96 40.79h0M130.71 93.95h0M134.2 90.91h0M136.18 93.44h0M121.08 92.43h0M120.6 90.4h0M130.54 91.42h0M119.64 90.91h0M124.13 96.99h0M120.57 90.91h0M128.15 93.44h0M128.52 90.91h0M126.68 92.94h0M125.76 95.47h0M128.7 90.4h0M115.08 91.92h0M115.8 92.94h0M121.41 93.95h0M118.42 94.96h0M131.43 92.43h0M130.51 91.92h0M122.1 90.91h0M120.02 93.44h0M123.63 89.39h0M126.72 90.91h0M128.87 92.94h0M119.44 92.43h0M129.66 93.44h0M134.13 91.42h0M128.84 90.4h0M124.63 91.42h0M134.05 94.46h0M134.3 90.4h0M136.06 92.94h0M128.95 94.46h0M125.15 94.46h0M132.33 91.92h0M125.01 89.9h0M128.59 89.39h0M125.3 93.44h0M127.71 93.44h0M119.11 93.44h0M122.98 90.4h0M126.46 91.42h0M126.08 93.95h0M126.51 94.46h0M123.23 94.46h0M121.41 94.96h0M126.05 92.43h0M124.09 97.33h0M119.53 91.42h0M126.48 95.47h0M130.49 93.44h0M130 93.95h0M128.58 94.96h0M128.54 93.95h0M121.81 94.96h0M128.53 88.88h0M133.78 91.92h0M131.87 93.95h0M123.64 94.96h0M134.06 92.43h0M126.6 91.92h0M126.8 94.96h0M122.81 92.94h0M119.43 91.92h0M124.27 94.46h0M126.2 94.46h0M129.16 93.44h0M126.04 91.92h0M122.33 94.96h0M124.32 89.39h0M131.35 92.94h0M129.17 95.47h0M123.95 94.96h0M122.98 92.43h0M122.02 91.92h0M127.5 94.96h0M135.1 91.92h0M119.63 94.96h0M125.47 90.4h0M116.96 91.92h0M127.19 88.88h0M132.32 93.44h0M121.45 93.44h0M130.07 94.96h0M141.87 119.38h0M143.26 118.09h0M126.64 116.8h0M132.47 116.8h0M139.24 118.73h0M151.03 117.45h0M135.37 120.66h0M122.19 118.09h0M128.25 119.38h0M136.91 118.09h0M126.28 120.02h0M136.87 116.16h0M131.25 120.02h0M135.8 115.52h0M127.25 117.45h0M129.83 117.45h0M126.05 120.66h0M126.9 120.66h0M128.32 116.16h0M134.74 116.8h0M126.97 119.38h0M146.54 118.73h0M136.34 119.38h0M129.56 116.8h0M126.65 116.16h0M140.48 117.45h0M125.85 120.66h0M123.56 119.38h0M138.9 116.8h0M130.09 119.38h0M121.55 118.09h0M123.4 118.09h0M130.2 120.66h0M129.85 115.52h0M128.85 115.52h0M134.53 120.02h0M145.8 118.09h0M128.5 121.3h0M128.86 118.73h0M126.16 118.73h0M130.03 121.3h0M129.36 119.38h0M136.45 118.09h0M146.15 119.38h0M128.89 118.09h0M136.13 118.73h0M139.15 118.09h0M130.27 117.45h0M147.84 118.09h0M129.8 121.95h0M145.45 116.16h0M133.92 120.02h0M134.04 118.73h0M133.84 120.66h0M148.21 117.45h0M136.95 120.02h0M139.91 116.8h0M123.02 118.73h0M135.26 120.02h0M128.32 116.8h0M129 120.66h0M130.91 118.09h0M133.73 116.8h0M150.42 118.73h0M145.34 117.45h0M125.72 114.88h0M138.48 118.09h0M131.05 118.73h0M138.78 118.73h0M135.64 116.8h0M122.68 119.38h0M145.42 120.02h0M135.98 120.66h0M140.79 119.38h0M146.27 117.45h0M133.32 116.16h0M151.11 118.09h0M130.98 116.8h0M127.31 120.66h0M137.92 116.16h0M134.2 119.38h0M131.81 118.09h0M126.81 114.88h0M121.47 118.73h0M125.01 128.32h0M128.08 128.32h0M121.75 128.32h0M122.28 132.65h0M133.61 129.19h0M132.02 133.52h0M126.26 132.65h0M125.43 131.79h0M118.44 129.19h0M125.7 130.05h0M129.48 130.92h0M127.67 130.05h0M130.79 130.92h0M124.18 131.79h0M118.54 130.05h0M129.63 134.39h0M126.36 133.52h0M125.19 132.65h0M133.23 130.05h0M138.49 130.92h0M142.46 130.92h0M135.43 130.05h0M135.5 128.32h0M123.14 130.92h0M119.17 131.79h0M124.71 130.92h0M131.23 129.19h0M132.07 131.79h0M130.15 130.92h0M139.05 132.65h0M131.82 133.52h0M130.18 132.65h0M120.51 131.79h0M141.71 130.92h0M124.04 132.65h0M140.84 130.05h0M124.49 133.52h0M125.17 129.19h0M118.08 130.92h0M135.11 130.92h0M127.75 128.32h0M124.07 127.45h0M123.07 129.19h0M140.71 131.79h0M140.35 130.92h0M135.66 131.79h0M129.52 129.19h0M124.84 133.52h0M127.34 130.05h0M134.67 134.39h0M126.21 131.79h0M137.39 130.05h0M118.81 130.05h0M128.76 129.19h0M132.14 128.32h0M126.8 132.65h0M124.91 134.39h0M131.91 132.65h0M134.56 130.05h0M131.52 130.05h0M136.17 130.92h0M122.86 132.65h0M117.74 131.79h0M127.8 135.25h0M126.16 130.05h0M123.39 133.52h0M126.82 130.92h0M134.92 132.65h0M129.3 130.05h0M137.34 129.19h0M127.09 126.59h0M122.78 127.45h0M122.32 131.79h0M129.73 130.05h0M127.33 133.52h0M140.1 130.05h0M135.73 133.52h0M126.55 127.45h0M132.93 131.79h0M121.5 133.52h0M131.66 130.92h0M136.28 131.79h0M136.1 130.05h0M131.81 129.19h0M139.37 131.79h0M125.55 130.92h0M141.73 130.05h0M130.89 133.52h0M133.09 131.79h0M133.22 129.19h0M122.93 131.79h0M141.3 131.79h0M121.56 129.19h0M130.58 144.48h0M124.29 141.55h0M131.28 143.02h0M130.14 143.75h0M129.01 143.02h0M126.99 146.68h0M120.2 143.75h0M128.4 143.75h0M122.81 146.68h0M124.67 146.68h0M123.81 145.22h0M135.43 144.48h0M135.36 143.02h0M120.98 145.22h0M131.94 143.75h0M118.64 144.48h0M123.67 142.28h0M124.73 145.95h0M120.15 144.48h0M122.56 144.48h0M131.89 141.55h0M120.57 143.75h0M127.95 144.48h0M122.05 143.02h0M134.94 142.28h0M129.57 142.28h0M124.23 145.95h0M137.58 144.48h0M127.89 141.55h0M135.6 143.75h0M130.7 143.02h0M139.08 144.48h0M130.04 146.68h0M132.86 143.02h0M120.68 144.48h0M122.72 143.02h0M119.84 143.02h0M123.68 141.55h0M131.43 145.95h0M127.01 140.09h0M128.25 143.75h0M119.65 143.75h0M126.4 147.41h0M127.7 145.22h0M131.47 145.22h0M119.24 144.48h0M137.88 143.75h0M136.71 143.02h0M123.36 143.02h0M125.27 143.02h0M131.11 143.75h0M124.33 143.75h0M136.67 143.75h0M126.37 142.28h0M125.37 142.28h0M132.04 146.68h0M129.55 143.75h0M124.91 144.48h0M130.1 142.28h0M120.92 142.28h0M132.04 144.48h0M126.76 144.48h0M134.56 145.22h0M135.23 144.48h0M123.51 140.82h0M123.2 141.55h0M123.2 140.82h0M126.22 145.22h0M138.95 143.75h0M122.88 145.95h0M119.81 145.22h0M133.52 143.75h0M128.68 140.09h0M128.11 140.09h0M126.93 143.75h0M126.6 145.95h0M132.22 145.95h0M125.6 144.48h0M133.33 146.68h0M124.66 145.22h0M128.03 142.28h0M120.76 154.39h0M121.68 156.58h0M121.51 155.48h0M119.3 157.68h0M123.68 159.32h0M130.25 157.68h0M126.82 155.48h0M125.07 155.48h0M129.61 157.68h0M124.55 155.48h0M129.35 156.58h0M126.79 154.94h0M120.07 156.58h0M123.27 156.03h0M125.61 158.77h0M127.15 153.29h0M123.47 155.48h0M119.35 155.48h0M125.85 159.32h0M122.84 154.94h0M126.02 157.68h0M116.99 156.58h0M129.79 155.48h0M126.16 157.68h0M122.48 159.32h0M120.44 155.48h0M125.89 156.03h0M124.57 157.68h0M120.8 154.94h0M120.98 156.58h0M120.01 158.22h0M121.34 156.03h0M127.35 160.96h0M123.68 156.58h0M133.92 157.13h0M127.04 152.2h0M122.11 158.22h0M122.13 153.84h0M129.31 156.03h0M122.91 153.84h0M127.5 152.75h0M118.25 156.58h0M125.28 152.75h0M127.86 157.13h0M117.87 156.03h0M122.93 156.58h0M134.04 156.58h0M130.4 157.13h0M123.44 156.58h0M129.29 157.13h0M133.69 156.58h0M121.19 159.32h0M125.36 158.77h0M120.01 157.68h0M133.36 156.58h0M125.44 157.13h0M128.74 157.68h0M121.09 158.77h0M126.84 158.22h0M120.54 158.22h0M125.52 153.29h0M122.94 153.29h0M118.3 157.13h0M132.09 156.03h0M123.74 159.87h0M128.39 156.03h0M123.47 158.22h0M119.43 156.58h0M126.71 156.58h0M123.38 158.77h0M122.55 154.94h0M119.9 156.03h0M125.64 158.22h0M128.55 155.48h0M121.92 154.94h0M125.25 156.58h0M126.53 154.39h0M122.41 181.18h0M123.25 181.53h0M128.49 183.3h0M123.66 181.18h0M126.03 182.95h0M128.39 181.53h0M121.72 182.95h0M118.99 181.89h0M120.14 183.3h0M126.99 182.95h0M122.33 185.78h0M125.86 180.47h0M124.51 178.7h0M119.11 181.53h0M125.35 184.01h0M119.55 181.18h0M129.52 181.53h0M120.29 178.7h0M122.01 183.3h0M127 180.12h0M123.13 179.41h0M127.56 182.59h0M119.61 182.24h0M121.7 181.89h0M125.34 180.47h0M129.69 182.59h0M125.59 183.65h0M125.6 185.07h0M121.61 180.47h0M122.85 182.95h0M124.54 179.76h0M122.74 186.48h0M123.5 185.42h0M124.05 179.41h0M122.51 186.84h0M119.39 182.95h0M129.82 182.59h0M120.38 181.53h0M126.5 181.53h0M122.17 185.07h0M121.7 178.7h0M119.44 183.65h0M120.44 182.95h0M125.66 184.01h0M123.01 186.13h0M122.22 180.83h0M128.33 182.59h0M124.35 184.36h0M122.55 178.35h0M121.84 184.36h0M124.68 182.59h0M118.32 182.95h0M123.77 185.07h0M118.67 181.53h0M121.91 178.7h0M122.33 187.03h0M121.04 179.76h0M123.54 183.65h0M124.22 183.3h0M126.71 183.65h0M122.92 180.12h0M127.27 180.47h0M123.54 179.41h0M126.2 184.01h0M127.33 182.24h0M126.99 181.18h0M122.93 179.76h0M120.24 178.35h0M129 182.24h0M121.97 186.13h0M124.97 183.65h0M122.81 184.36h0M123.59 181.89h0M121.49 181.53h0M123.91 180.12h0M121.25 184.36h0M124.39 180.47h0M121.56 179.41h0M124.56 185.42h0M124.53 186.13h0M127.92 182.24h0M119.21 182.59h0M127.18 184.01h0M123.33 179.76h0M100.15 196.24h0M100.16 197.4h0M96.96 194.49h0M90.26 195.65h0M92.84 196.82h0M105.05 195.07h0M99.19 196.82h0M85.73 195.07h0M108.79 195.07h0M107.51 194.49h0M106.55 195.65h0M91.01 196.24h0M102.06 194.49h0M90.88 194.49h0M95.99 196.24h0M100.28 195.65h0M99.5 193.9h0M97.54 194.49h0M86.79 194.49h0M93.63 195.07h0M97.47 197.4h0M95.44 196.82h0M93.53 195.65h0M97.46 195.65h0M90.68 194.49h0M102.86 195.07h0M103.32 195.65h0M100.19 195.07h0M101.33 193.9h0M98.25 195.65h0M95.88 195.65h0M83.54 195.07h0M95.06 196.24h0M101 196.24h0M100.84 195.07h0M96.7 194.49h0M90.47 195.07h0M86.96 195.65h0M92 195.07h0M100.73 196.24h0M88.06 196.24h0M81.79 195.65h0M96.38 196.24h0M101.05 193.9h0M94.34 195.65h0M87.96 195.65h0M102.53 194.49h0M95.22 194.49h0M105.26 196.24h0M95.07 193.32h0M102.4 195.07h0M84.89 195.65h0M90.43 196.24h0M98.26 195.07h0M84.67 195.07h0M98.88 193.9h0M93.29 196.24h0M94.79 195.65h0M88.67 196.24h0M87.78 194.49h0M93.77 193.9h0M98.81 192.74h0M93.21 194.49h0M81.5 195.65h0M108.48 195.65h0M97.87 197.99h0M93.2 193.9h0M93.37 193.9h0M106.12 195.07h0M104.49 195.65h0M99.18 195.65h0M97.46 196.82h0M106.61 194.49h0M100.96 194.49h0M94.39 195.07h0M94.08 195.07h0M98.24 195.07h0M90.12 195.07h0M81.4 195.07h0M99.6 221.62h0M94.5 225.17h0M102.47 218.95h0M104 223.39h0M95.62 225.63h0M89.19 220.73h0M100.62 218.95h0M97.31 219.84h0M96.14 221.62h0M102.65 218.07h0M97.51 217.18h0M91.84 223.39h0M95.46 218.07h0M97.59 224.28h0M101.58 216.29h0M99.96 221.62h0M108.35 219.84h0M87.91 223.39h0M98.2 222.51h0M91.33 218.07h0M96.01 222.51h0M105.05 220.73h0M95.09 220.73h0M94.88 220.73h0M98.01 225.17h0M101.27 223.39h0M100.2 224.28h0M108.59 220.73h0M90.27 221.62h0M97.68 222.51h0M94.55 218.95h0M99.57 220.73h0M96.11 217.18h0M91.67 223.39h0M94.01 218.07h0M88.14 221.62h0M95.8 218.95h0M107.53 223.39h0M100.97 218.07h0M109.77 222.51h0M99.89 225.17h0M102.41 223.39h0M93.33 221.62h0M94.2 218.95h0M98.22 219.84h0M93.89 220.73h0M99.67 224.28h0M107.22 221.62h0M96.15 219.84h0M101.5 225.63h0M103.53 224.28h0M87.75 222.51h0M105.14 218.95h0M98.93 224.28h0M96.77 222.51h0M95.61 219.84h0M91.4 221.62h0M103.96 218.07h0M94.54 221.62h0M108.03 222.51h0M103.92 221.62h0M97.45 223.39h0M104.48 223.39h0M104.02 219.84h0M105.13 223.39h0M91.83 222.51h0M92.49 221.62h0M100.19 218.07h0M107.87 219.84h0M95.06 223.39h0M106.55 220.73h0M90.92 221.62h0M104.53 220.73h0M101.13 221.62h0M98.6 218.95h0M103.34 219.84h0M99 223.39h0M109.34 220.73h0M102.84 220.73h0M109.57 220.73h0M97.09 222.51h0M94.24 219.84h0M87.95 219.84h0M107.22 219.84h0M98.68 225.17h0M99.95 219.84h0M91.8 219.84h0M91.62 218.95h0M97.64 220.73h0M101.2 236.26h0M99.78 231.94h0M101.71 235.18h0M98.01 233.56h0M103.94 233.56h0M102.51 235.18h0M104.71 231.94h0M104.45 229.24h0M110.57 234.64h0M103.39 233.02h0M95.54 233.56h0M106.12 234.64h0M104.36 237.34h0M101.7 231.94h0M96.65 233.56h0M104.7 233.56h0M107.15 235.72h0M105.57 232.48h0M104.01 230.32h0M99.21 232.48h0M107.15 236.26h0M94.64 234.1h0M106.12 229.24h0M103.03 236.8h0M109.73 233.02h0M95.26 233.02h0M98.85 234.64h0M104.14 231.94h0M106.13 233.56h0M104.52 236.8h0M97.1 234.1h0M100.66 229.78h0M105 232.48h0M103.32 232.48h0M108.83 232.48h0M102.22 230.86h0M100.12 230.32h0M103.23 234.64h0M100.77 234.1h0M100.39 235.72h0M100.21 235.18h0M103.21 237.88h0M106.67 234.64h0M93.27 233.56h0M107.07 234.64h0M104.54 235.72h0M103.78 234.64h0M106.3 230.86h0M102.96 233.56h0M99.52 234.64h0M101.48 233.02h0M96.17 233.02h0M104.07 228.7h0M101.25 236.8h0M106.53 232.48h0M94.19 233.02h0M96.13 234.1h0M100.92 237.34h0M101.97 236.8h0M98.27 234.1h0M104.84 234.1h0M102.09 229.78h0M105.57 231.4h0M100.09 234.1h0M102.6 230.32h0M104.54 234.64h0M102.34 231.94h0M100.87 231.94h0M95.17 232.48h0M104.01 234.1h0M107.27 232.48h0M104.16 228.7h0M98.02 234.64h0M101.75 229.78h0M103.7 230.86h0M94.6 262.75h0M101.72 258.63h0M104.55 259.81h0M97.44 258.63h0M93.86 260.4h0M103.63 259.81h0M98.27 260.99h0M103.76 258.63h0M83.46 258.63h0M97.79 257.45h0M106.83 259.22h0M92.76 257.45h0M95.64 260.99h0M110.09 259.81h0M85.73 258.63h0M91.04 258.04h0M108.97 258.63h0M100.52 258.63h0M82.54 258.63h0M84.46 258.63h0M90.48 260.4h0M90.67 259.81h0M96.36 259.22h0M101.25 258.63h0M90.62 258.04h0M102.99 260.4h0M95.5 258.63h0M89.32 259.81h0M99.96 260.4h0M98.11 259.81h0M97.32 258.04h0M102.38 260.4h0M87.8 258.63h0M95.86 259.22h0M82.82 259.81h0M99.78 260.99h0M107.71 258.04h0M101.95 260.4h0M92.08 259.22h0M98.96 259.22h0M99.41 259.22h0M101.2 259.81h0M88.51 259.22h0M86.07 258.04h0M105.07 258.63h0M85.24 259.22h0M95.35 259.22h0M94.09 259.22h0M99.44 260.4h0M87.13 259.81h0M106.31 259.81h0M87.91 257.45h0M101.22 258.04h0M86.46 260.4h0M92.76 260.4h0M83.16 259.81h0M98.49 261.57h0M103.65 258.63h0M95.85 260.4h0M99.34 258.63h0M100.25 259.81h0M97.77 260.99h0M105.24 260.4h0M107.22 258.63h0M109.22 259.22h0M99.45 259.81h0M107.07 259.81h0M97.96 258.04h0M98.9 259.81h0M92.67 260.99h0M85.78 259.81h0M100.87 261.57h0M101.64 258.04h0M110.16 259.22h0M102.46 260.99h0M109.81 258.63h0M92.3 258.63h0M84 259.22h0M95.04 259.81h0M105.87 259.22h0M88.3 260.99h0M102.77 258.04h0M94.44 256.87h0M90.73 259.22h0M101.48 259.81h0M91.93 258.04h0M93.71 259.22h0M87.47 259.81h0M97.02 258.63h0M98.57 256.28h0M103.83 258.04h0M96.8 258.63h0M93.69 259.81h0M88.59 259.81h0M98.79 258.04h0M91.36 258.63h0M98.67 262.75h0" stroke="#0084f9" stroke-width="1.36" stroke-linecap="round" fill="none"/>
<path d="M59.14 15.45h0M75.29 41.11h0M92.02 64.72h0M94.42 68.82h0M101.18 67.45h0M88.83 67.45h0M83.87 66.09h0M93.92 66.09h0M92.17 66.09h0M97.13 67.45h0M85.91 68.82h0M89.12 67.45h0M89.08 68.82h0M91.76 68.14h0M87.42 65.4h0M95.65 66.09h0M76.26 66.09h0M85.64 69.5h0M104.18 66.09h0M83.15 67.45h0M88.78 65.4h0M76.09 67.45h0M94.2 67.45h0M105.87 66.77h0M85.04 68.82h0M82.79 66.77h0M84.08 68.14h0M88.17 65.4h0M103.52 66.77h0M98.58 66.77h0M93.45 68.14h0M85.54 66.09h0M85.45 70.18h0M95.67 64.72h0M75.25 67.45h0M99.45 66.77h0M104.4 66.77h0M96.86 65.4h0M81.18 68.14h0M91.13 70.87h0M89.61 64.04h0M97.4 68.82h0M86.27 68.82h0M88.2 66.09h0M82.03 66.09h0M99.06 66.09h0M83.34 67.45h0M96.85 67.45h0M103.22 66.77h0M91.85 66.77h0M82.48 65.4h0M102.36 66.09h0M76.64 65.4h0M88.51 68.14h0M102.28 66.77h0M85.89 64.04h0M100.09 67.45h0M89.73 65.4h0M97.19 66.77h0M88.18 68.14h0M88.37 66.09h0M89.73 68.14h0M107.68 66.09h0M72.77 66.77h0M87.17 66.77h0M91.2 63.36h0M85.14 66.77h0M84.32 66.09h0M81.61 67.45h0M89.23 64.72h0M90.09 68.14h0M80.54 66.77h0M75.85 68.14h0M86.23 67.45h0M87.52 68.14h0M99.57 65.4h0M74.07 79.6h0M70.7 79.6h0M109.75 80.15h0M78.58 79.6h0M78.59 80.15h0M76.72 79.6h0M74.69 79.6h0M110.18 79.6h0M81.14 79.6h0M77.57 80.15h0M77.25 79.6h0M110.42 79.6h0M102.98 104.86h0M101.98 108.08h0M100.83 103.65h0M101.29 102.44h0M106.51 107.68h0M101.73 104.45h0M102.3 108.48h0M101.18 102.84h0M98.36 104.05h0M102.3 103.65h0M104.62 104.05h0M102.23 106.47h0M100.43 105.26h0M103.6 104.86h0M106.24 101.64h0M106.53 102.44h0M105 104.86h0M97.93 106.07h0M102.76 105.66h0M100.31 106.87h0M101.95 102.04h0M104.25 105.26h0M97.1 106.47h0M107.55 103.25h0M103.79 100.46h0M104.5 109.29h0M103.69 107.27h0M107.69 106.47h0M98.59 105.26h0M101.17 108.88h0M98.41 106.07h0M104.11 100.83h0M103.57 109.29h0M105.28 105.66h0M98.66 105.66h0M106.56 102.84h0M95.42 105.66h0M100.93 101.64h0M105.8 102.44h0M103.61 106.47h0M107.51 106.07h0M102.03 102.44h0M101.54 104.86h0M103.63 102.04h0M109.81 106.07h0M100.81 105.26h0M104.8 108.48h0M99.59 104.45h0M101.59 105.26h0M99.41 105.66h0M106.88 106.47h0M99.74 102.84h0M101.11 102.44h0M95.68 105.26h0M103.7 102.84h0M104.51 108.08h0M104.63 106.87h0M110.14 105.66h0M103.9 108.88h0M101.79 103.65h0M105.48 103.25h0M97.21 105.26h0M102.11 102.04h0M108.31 105.26h0M101.4 106.47h0M103.57 110.06h0M106.3 106.87h0M106.34 103.25h0M102.93 108.08h0M96.93 106.07h0M94.96 106.07h0M102 107.68h0M106.52 102.04h0M101.53 108.48h0M100.2 106.47h0M100.31 104.45h0M101.03 106.87h0M102.19 107.68h0M103.6 110.06h0M102.7 103.25h0M105.21 106.47h0M101.4 106.87h0M100.78 106.47h0M81.86 170.1h0M94.88 170.1h0M90.96 170.1h0M82.43 170.1h0M96.47 168.72h0M92.56 170.79h0M95.37 169.41h0M97.03 168.72h0M92.27 171.48h0M90.55 168.03h0M109.59 167.34h0M99.85 171.48h0M114 167.34h0M93.36 171.48h0M96.87 170.1h0M89.75 170.1h0M80.48 169.41h0M100.67 168.72h0M89.34 170.1h0M98.18 168.72h0M93.29 168.03h0M80.02 169.41h0M93.86 170.1h0M90.66 169.41h0M94.89 168.72h0M93.76 167.34h0M96.06 170.1h0M89.59 168.72h0M93.43 172.17h0M91.99 170.79h0M88.96 168.72h0M92.08 168.03h0M93.12 170.79h0M91.79 170.1h0M94.46 168.72h0M92.23 172.86h0M83.49 169.41h0M100.66 170.1h0M92.05 169.41h0M99.85 167.34h0M109.59 171.48h0M84.6 169.41h0M94.43 169.41h0" stroke="#007cf5" stroke-width="1.36" stroke-linecap="round" fill="none"/>
<path d="M77.18 16.81h0M81.39 16.81h0M74.3 18.17h0M80.57 18.85h0M81.13 13.41h0M83.83 15.45h0M78.72 14.77h0M65.66 16.13h0M73.15 16.81h0M83.47 14.77h0M80.94 12.73h0M78.84 13.41h0M80.78 15.45h0M85.09 17.49h0M78.89 15.45h0M75.27 15.45h0M75.14 16.13h0M85.09 16.81h0M61.77 16.13h0M72.52 17.49h0M75.85 13.41h0M60.03 15.45h0M85.43 14.77h0M77.39 16.13h0M70.8 16.13h0M76.4 18.17h0M84.51 14.77h0M75.87 16.81h0M78.34 12.73h0M79.44 15.45h0M76.33 16.13h0M82.82 16.81h0M83.32 14.09h0M63.2 16.13h0M95.79 15.45h0M74.02 15.45h0M86.24 16.81h0M71.74 14.09h0M96.95 15.45h0M83.19 16.13h0M112.02 28.28h0M71.54 28.85h0M84.36 40.79h0M98.87 40.79h0M98.33 41.43h0M79.98 41.11h0M85.03 40.15h0M77.91 40.47h0M85.95 43.04h0M86.44 41.11h0M76.48 41.43h0M81.19 41.43h0M90.79 41.43h0M93.22 41.43h0M79.3 41.75h0M97.21 41.75h0M99.85 42.07h0M84.56 42.07h0M86.32 41.75h0M90.08 42.07h0M87.87 41.43h0M95.4 40.79h0M85.85 40.15h0M90.03 40.47h0M87.99 41.75h0M77.44 40.15h0M83.99 41.11h0M87.27 41.11h0M87.1 39.83h0M93.93 41.75h0M80.01 41.43h0M93.48 40.79h0M81.81 41.11h0M91.64 41.43h0M93.81 40.79h0M78.32 41.11h0M90.93 41.11h0M84.53 42.39h0M96.95 40.79h0M97.07 41.43h0M78.79 40.47h0M82.62 41.11h0M95.24 41.43h0M90.02 42.72h0M95.02 41.75h0M84.84 41.43h0M86.55 42.07h0M111.19 55.36h0M103.31 54.65h0M95.8 53.94h0M101.6 55.36h0M105.52 53.23h0M100.32 56.42h0M106.19 52.88h0M99.26 54.29h0M98.2 56.07h0M105.7 56.42h0M98.15 53.59h0M102.8 55.71h0M104.86 51.46h0M102.86 53.94h0M102.83 53.23h0M102.82 56.42h0M102.36 54.29h0M99.99 57.13h0M102.13 52.88h0M96 54.29h0M98.61 53.59h0M95.1 55.36h0M103.77 51.1h0M102.67 51.81h0M106.11 52.17h0M102.41 50.39h0M105.04 51.81h0M97.88 55.71h0M103.37 49.68h0M100.13 57.49h0M105.26 53.94h0M96.81 52.88h0M100.72 53.94h0M98.73 52.17h0M96.51 55.36h0M100.85 55.36h0M102.78 52.52h0M98.29 52.52h0M95.82 52.88h0M99.07 55.71h0M102.45 53.94h0M105.56 53.59h0M100.47 55.71h0M102.51 53.59h0M101.98 52.17h0M98.6 56.78h0M100.97 51.46h0M101.1 52.88h0M99.19 51.46h0M111.12 54.65h0M95.95 52.52h0M103.1 57.13h0M102.04 55h0M98.19 55.36h0M98.24 80.7h0M100.05 82.35h0M92.82 80.15h0M93.64 80.15h0M105.38 79.6h0M101.39 80.15h0M107.8 79.05h0M95.64 79.6h0M98.66 78.5h0M85.24 81.25h0M87.35 79.6h0M95.58 78.5h0M88.9 81.25h0M93.93 79.05h0M82.37 79.6h0M100.45 80.7h0M94.8 79.6h0M102.38 77.95h0M102.44 81.8h0M99.39 77.4h0M103.23 80.7h0M95.43 77.4h0M92.18 79.05h0M99.8 81.8h0M95.5 80.15h0M89.76 79.6h0M100.2 80.15h0M86.22 77.95h0M107 79.6h0M98.46 79.6h0M103.66 77.4h0M91.91 79.6h0M96.39 76.85h0M104.31 80.7h0M96.2 83.44h0M88.27 80.15h0M90.03 78.5h0M97.51 78.5h0M82.75 78.5h0M86.45 80.7h0M86.09 78.5h0M98.78 79.05h0M95.02 80.15h0M85.76 80.15h0M102.8 80.15h0M93.21 81.25h0M100.24 77.4h0M86.06 81.8h0M97.08 77.4h0M100.75 78.5h0M96.28 81.8h0M105.94 79.6h0M96.16 81.25h0M84.3 79.6h0M84.61 79.6h0M104.94 79.6h0M95.97 78.5h0M86.31 79.05h0M98.72 80.15h0M92.44 77.95h0M95.24 81.25h0M97.38 80.15h0M103.65 80.15h0M83.55 79.6h0M94.55 105.26h0M93.92 105.26h0" stroke="#0074f0" stroke-width="1.36" stroke-linecap="round" fill="none"/>
<path d="M87.76 18.17h0M87.26 14.77h0M89.54 14.77h0M86.29 14.09h0M87.7 17.49h0M89 14.77h0M87.9 13.41h0M89.53 16.13h0M89.2 13.41h0M91.62 17.49h0M92.74 14.77h0M86.29 17.49h0M92.62 13.41h0M89.75 16.81h0M92.06 18.17h0M87.38 26.57h0M91.8 31.13h0M90.17 28.28h0M75.84 28.28h0M97.75 27.71h0M95.66 27.71h0M74.03 28.85h0M87.48 26h0M103.95 29.42h0M99.34 27.14h0M92.25 28.28h0M105.93 31.13h0M78.85 27.14h0M87.93 27.71h0M110.25 28.28h0M90.22 26.57h0M74.04 28.28h0M82.55 29.99h0M83.61 29.42h0M92.93 27.71h0M87.82 29.42h0M72.71 28.28h0M79.81 28.85h0M83.83 27.71h0M89.42 27.71h0M104.27 27.71h0M94.79 29.42h0M75.03 27.14h0M97.33 25.43h0M85.91 29.42h0M86.64 27.14h0M92.88 27.14h0M105.29 28.85h0M82.19 28.85h0M86.45 26.57h0M87.73 29.99h0M105.89 29.42h0M86.35 29.99h0M81.11 28.85h0M89.63 26h0M103.87 28.28h0M76.7 27.71h0M91.2 29.99h0M90.97 26h0M96.87 28.85h0M84.92 28.85h0M98.02 27.14h0M97.88 28.28h0M98.95 28.85h0M72.74 27.71h0M80.38 29.42h0M98.62 28.28h0M105.68 28.28h0M86.93 28.28h0M93.54 31.13h0M85.15 28.85h0M91.75 26.57h0M98.87 29.42h0M94.58 26.57h0M106.43 27.71h0M90.71 28.28h0M85.26 29.42h0M81.91 29.42h0M97.41 26h0M94.15 28.28h0M100.89 28.28h0M100.35 29.42h0M99.92 28.85h0M80.52 27.71h0M88.43 28.28h0M82.04 27.71h0M80.06 29.99h0M90.2 29.42h0M104.57 28.85h0M92.01 28.85h0M96.77 120.02h0M103.37 120.66h0M94.99 116.16h0M101.83 116.16h0M106.44 119.38h0M90.46 118.09h0M109.65 118.09h0M99.82 120.66h0M108.22 117.45h0M98.15 120.02h0M103.64 120.66h0M110.3 118.73h0M97.45 120.02h0M106.76 121.95h0M92.98 116.16h0M90.69 119.38h0M108.43 118.73h0M105.48 116.16h0M99.45 120.02h0M97.78 208.28h0M102.28 208.28h0M105.49 206.77h0M106.45 209.78h0M104.76 205.64h0M104.07 205.64h0M106.12 206.77h0M107.72 210.16h0M101.61 209.78h0M106.62 208.65h0M104.4 209.78h0M111.03 209.03h0M105.39 206.39h0M102.7 209.03h0M105.21 209.03h0M106.69 206.02h0M102.65 210.54h0M111.34 207.52h0M104.27 209.41h0M103.52 207.52h0M108.52 209.03h0M111.09 207.9h0M103.21 208.65h0M101.22 206.39h0M102.69 211.67h0M109.76 209.78h0M103.8 206.77h0M107.3 206.02h0M111.7 208.65h0M107.31 211.29h0M108.16 208.28h0M102.52 204.51h0M102.04 208.65h0M108.66 207.9h0M101.1 207.15h0M104.32 206.02h0M105.85 209.03h0M101.14 208.65h0M100.55 207.15h0M102.48 208.28h0M110.62 207.15h0M105.91 209.41h0M108.7 205.64h0M110.18 207.52h0M106.29 208.28h0M100.67 209.41h0M105.67 209.78h0M106.75 211.67h0M109.08 210.91h0M108.03 207.52h0M105.28 208.65h0M109.09 209.41h0M106.53 206.77h0M108.88 209.03h0M107.38 209.41h0M108.93 208.28h0" stroke="#236cea" stroke-width="1.36" stroke-linecap="round" fill="none"/>
<path d="M105.58 14.77h0M107.18 16.13h0M100.25 14.77h0M101.81 16.13h0M101.62 16.81h0M106.59 16.81h0M100.22 16.13h0M99.7 16.81h0M100.21 15.45h0" stroke="#4b63e3" stroke-width="1.36" stroke-linecap="round" fill="none"/>
<path d="M100.15 91.42h0M89.69 91.92h0M101.61 94.96h0M101.96 92.43h0M79.4 92.94h0M85.55 94.96h0M85.94 91.92h0M88.01 93.95h0M86.81 92.43h0M93.24 92.43h0M80.06 91.92h0M92.2 92.43h0M91.59 90.91h0M84.23 91.42h0M103.91 92.43h0M78.6 92.94h0" stroke="#6359da" stroke-width="1.36" stroke-linecap="round" fill="none"/>
<path d="M111.25 168.03h0M113.62 170.79h0M114.53 170.1h0M115.6 172.17h0M105.19 169.41h0M112.74 168.72h0M112.84 167.34h0M104.82 168.03h0M110.4 170.1h0M111.91 168.03h0M116.73 170.1h0M105.87 170.79h0M108.68 167.34h0M102.78 168.03h0M110.31 168.72h0M115.9 170.1h0M114.17 168.03h0M112.33 172.86h0M107.99 168.03h0M107.21 169.41h0M114.08 169.41h0M113.26 165.28h0M113.3 169.41h0M102.53 169.41h0M100.8 168.72h0M112.13 165.96h0M114.94 169.41h0M112.5 171.48h0M113.33 171.48h0M114.93 168.72h0M102.07 170.79h0M110.59 167.34h0M115.8 171.48h0M108.06 168.03h0M107.95 166.65h0M112.85 164.61h0M101.56 170.79h0M109.81 169.41h0M103.13 168.72h0M102.48 168.72h0M112.39 170.1h0M113.12 165.96h0M101.57 170.1h0M112.18 167.34h0M105.76 168.72h0M106.07 170.1h0M111.08 167.34h0M106.14 168.72h0M116.61 169.41h0M105.59 167.34h0M107.36 170.1h0M111.06 166.65h0M111.78 170.1h0M102.59 171.48h0M111.44 169.41h0M107.55 169.41h0M111.57 172.17h0M103.35 170.1h0M111.37 167.34h0M103.33 170.79h0M107.42 168.72h0M115.28 166.65h0M109.02 172.86h0M104.03 169.41h0M115.48 170.1h0M115.61 181.53h0M117.62 181.18h0M114.28 180.83h0M117.68 184.01h0M115.63 183.3h0M116.52 181.89h0M116.45 180.83h0M112.29 182.95h0M117.19 181.18h0M117.49 182.95h0M114.66 182.24h0M112.85 182.24h0M116.03 180.47h0M112.6 181.89h0M115.38 184.01h0M117.04 182.59h0M114.38 183.65h0M116.66 182.24h0M111.07 183.3h0M111.04 182.59h0M117.32 183.3h0M111.43 182.24h0M117.44 182.95h0M117.39 182.24h0M114.9 183.65h0M117.55 181.89h0M115.46 182.95h0M111.25 181.18h0M103.19 218.95h0M103.38 218.07h0M92.2 220.73h0M94.04 223.39h0M109.43 221.62h0M101.43 218.95h0M101.54 220.73h0M91.87 221.62h0M98.49 218.07h0M126.94 258.04h0M130.62 259.22h0M119.42 263.34h0M122.97 258.63h0M125.45 259.81h0M126.5 260.4h0M114.58 259.22h0M119.9 257.45h0M128.1 260.4h0" stroke="#754fd1" stroke-width="1.36" stroke-linecap="round" fill="none"/>
<path d="M74.9 66.09h0M100.49 65.4h0M84.56 65.4h0M94.57 68.14h0M92.63 69.5h0M74.8 66.77h0M93.12 65.4h0M92.84 66.77h0M103.1 68.14h0M88.63 69.5h0M82.27 68.82h0M95.89 65.4h0M127.33 197.4h0M128.36 193.32h0M119.89 198.57h0M116.73 195.65h0M119.66 197.99h0M126.13 192.15h0M118.66 195.07h0M122.64 196.82h0M115.76 217.18h0M116.66 218.95h0M114.4 220.73h0M115.93 223.39h0M113.39 218.95h0M116.68 222.51h0M117.44 220.73h0M111.79 220.73h0M113.54 221.62h0M114.13 221.62h0M113.26 224.28h0M116.2 218.95h0M114.46 222.51h0M116.36 219.84h0M122.38 244.48h0M122.24 243.85h0M132.43 246.39h0M128.85 246.39h0M121.43 250.21h0M119.19 250.21h0M120.78 243.85h0M125.52 247.66h0M128.36 246.39h0M122.81 245.75h0M118.99 246.39h0M122.69 249.57h0M118.38 245.12h0M123.75 246.39h0M121.47 243.21h0M121.08 242.57h0M121.78 249.57h0M132.94 247.03h0M114.93 245.75h0M126.77 247.03h0M123.64 247.66h0M125.48 243.21h0M120.56 246.39h0M118.87 246.39h0M112.9 246.39h0M117.41 245.75h0M123.39 247.66h0M118.98 245.12h0M120.12 245.12h0M124.79 244.48h0M120.1 247.03h0M123.76 243.21h0M125.01 248.3h0M121.66 247.66h0M114.77 245.75h0M116.96 244.48h0M116.48 245.75h0M125.58 249.57h0M119.39 247.03h0M119.52 250.79h0M128.17 246.39h0M122.88 248.3h0M124.74 245.12h0M116.67 248.93h0M126.2 249.57h0M127.33 247.03h0M121.47 242.57h0M124.66 245.12h0M129.14 248.93h0M124.43 244.48h0M123.6 248.3h0M125.5 250.21h0M123.31 246.39h0M124.34 247.03h0M116.09 246.39h0M123.24 247.03h0M129.28 245.75h0M126.53 245.12h0M117.92 245.75h0M128.07 245.75h0M121.79 246.39h0M119.47 248.93h0M129.89 246.39h0M121.66 250.79h0M127.24 247.66h0M124.36 247.66h0" stroke="#8443c6" stroke-width="1.36" stroke-linecap="round" fill="none"/>
<path d="M131.08 17.49h0M113.56 17.49h0M136.7 17.49h0M135.97 17.49h0M72.69 18.17h0M123.95 16.13h0M118.04 15.45h0M159.86 15.45h0M161.27 16.13h0M155.96 14.77h0M74.59 16.81h0M110.95 15.45h0M122.98 17.49h0M130.08 19.15h0M128.2 16.81h0M129.75 11.75h0M114.18 16.13h0M134.54 15.45h0M156.36 14.77h0M126.93 17.49h0M157.18 14.09h0M134.29 14.09h0M132.57 16.81h0M133.21 17.49h0M146.58 13.41h0M81.76 17.49h0M147.97 18.85h0M157.75 16.13h0M138.84 15.45h0M148.06 13.41h0M143.8 16.13h0M136.14 16.13h0M139.74 14.09h0M150.67 18.17h0M148.19 14.09h0M72.48 16.13h0M113.22 14.77h0M79.43 28.28h0M79.19 27.71h0M87.99 28.85h0M103.96 27.14h0M98.97 28.28h0M97.96 30.56h0M87.42 30.56h0M91.83 29.42h0M89.37 25.43h0M101.44 27.71h0M80.8 28.28h0M99.24 27.71h0M105.82 26h0M85.99 28.85h0M81.45 28.28h0M105.73 30.56h0M98.3 26.57h0M73.47 28.85h0M128.37 63.36h0M141.47 65.4h0M133.37 69.5h0M133.67 66.09h0M137.55 65.4h0M133.95 64.04h0M123.76 67.45h0M127.62 66.77h0M139.28 66.77h0M125.14 68.14h0M121.08 67.45h0M137.24 68.82h0M126.11 68.14h0M132.04 70.18h0M122.82 71.55h0M128.73 62.67h0M140.8 65.4h0M113.94 79.6h0M126.55 76.85h0M128.42 79.05h0M132.09 81.25h0M135.15 80.7h0M123.19 80.7h0M106.76 103.65h0M102.05 104.05h0M140.72 105.26h0M116.12 105.26h0M153.63 105.26h0M152.09 106.07h0M110.67 105.66h0M156.6 105.66h0M112.82 106.07h0M143.29 105.66h0M105.97 103.65h0M141.41 104.86h0M154.31 105.66h0M97.71 104.45h0M133.38 104.86h0M129.86 105.26h0M104.38 106.07h0M113.01 104.86h0M105.6 105.26h0M97.56 117.45h0M104.83 117.45h0M96.67 119.38h0M103.29 119.38h0M97.74 121.3h0M87.17 119.38h0M108.1 118.09h0M101.31 118.73h0M95.11 116.8h0M107.99 118.73h0M103.77 120.02h0M99.43 116.8h0M104.62 120.02h0M106.87 116.16h0M100.68 113.59h0M109.46 118.09h0M111.01 118.73h0M106.93 115.52h0M98.89 118.73h0M95.82 118.09h0M105.92 117.45h0M105.03 113.59h0M95.03 117.45h0M100.79 119.38h0M88.36 117.45h0M89.74 118.09h0M105.08 120.02h0M97.45 118.73h0M97.88 116.8h0M98.7 120.66h0M88.94 119.38h0M104.69 118.09h0M107.77 120.02h0M103.17 118.09h0M108.58 116.16h0M93.05 118.73h0M107.37 117.45h0M100.1 120.66h0M101.49 118.09h0M108.97 120.02h0M105.94 120.66h0M97.74 120.66h0M103.49 121.3h0M110.85 116.8h0M102.27 118.09h0M104.51 118.73h0M100.5 115.52h0M84.42 118.09h0M102.91 116.16h0M109.94 119.38h0M93.25 118.73h0M103.94 118.73h0M101.8 118.73h0M105.78 121.3h0M108.85 120.66h0M105.02 120.66h0M91.89 118.09h0M107.76 117.45h0M107.25 116.8h0M92.84 117.45h0M98.81 119.38h0M93.78 116.8h0M108.68 119.38h0M110.22 119.38h0M94.16 118.73h0M91.2 117.45h0M93.12 116.8h0M140.11 207.15h0M126.33 207.9h0M146.94 207.15h0M140.49 208.65h0M147.27 207.9h0M138.01 209.03h0M129.5 209.41h0M127.63 209.41h0M127.47 209.03h0M129.98 208.65h0M134.13 208.65h0" stroke="#9135ba" stroke-width="1.36" stroke-linecap="round" fill="none"/>
<path d="M154.82 28.85h0M143.36 29.99h0M136.68 27.14h0M125.91 28.28h0M139.6 25.43h0M141.75 30.56h0M139.66 27.14h0M139.32 26h0M149.01 31.13h0M127.23 28.85h0M148.67 31.13h0M141.32 32.18h0M152.4 29.99h0M127.91 28.28h0M132.86 28.28h0M138.17 27.71h0M132.59 26.57h0M148.94 26.57h0M152.34 27.14h0M141.06 28.28h0M148.12 26.57h0M136.75 30.56h0M148.43 27.71h0M141.68 29.99h0M151.65 41.11h0M89.21 39.5h0M87.11 41.43h0M166.5 40.79h0M88.74 42.39h0M77.72 42.07h0M158.78 42.07h0M96.34 41.75h0M88.43 41.11h0M145.48 40.47h0M159.37 40.79h0M166.6 40.47h0M151.31 41.43h0M74.94 79.05h0M119.08 170.1h0M132.63 170.1h0M135.53 169.41h0M134.9 169.41h0M124.02 165.96h0M144.01 168.03h0M120.17 168.03h0M124.55 168.03h0M145.46 169.41h0M121.41 170.79h0M100.58 208.28h0M101.21 206.77h0M103.33 206.39h0M103.06 206.02h0M101.77 207.9h0M103.99 207.9h0M102.68 206.77h0M104.56 209.78h0M106.67 211.29h0M107.22 209.78h0M103.4 208.28h0M105.61 205.64h0M107.89 207.9h0M102.99 208.65h0M102.51 209.78h0M103.61 206.77h0M106.28 208.65h0M127.16 225.17h0M119.93 224.28h0M118.58 223.39h0M121.83 220.73h0M127.92 218.07h0M140.69 221.62h0M125.52 217.18h0M134.75 220.73h0M127.83 218.95h0M127.97 222.51h0M121.63 218.07h0M115.18 231.4h0M116.61 230.86h0M114.31 231.4h0M117.02 233.56h0M115.05 234.1h0M113.34 234.1h0M118.96 233.02h0M110.8 234.1h0M115.06 233.56h0M116.55 231.94h0M113.55 233.02h0M113.06 235.18h0M115.78 234.1h0M112.81 233.02h0M114.06 233.02h0M114.15 234.64h0M112.32 234.64h0M111.35 234.1h0M115.24 230.32h0M115.46 235.18h0M113.78 235.18h0M117.29 235.72h0M111.75 233.02h0M115.36 233.02h0M119.77 234.1h0M116.73 237.88h0M117.67 235.18h0M114.07 232.48h0M112.91 231.4h0M117.79 231.94h0M112.96 233.56h0M120.08 234.64h0M117.44 232.48h0M116.81 233.02h0M113.74 232.48h0M118.46 232.48h0M118.1 234.1h0M113.08 235.72h0M100.05 246.39h0M96.36 244.48h0M98.69 247.03h0M84.8 246.39h0M86.72 245.12h0M97.4 247.66h0M107.4 247.66h0M107.97 247.03h0M102.94 246.39h0M91.62 246.39h0M111.03 246.39h0M100.95 245.75h0M107.95 247.03h0M99.5 247.03h0M103.25 245.75h0M90.92 245.75h0M95.87 248.3h0M88.38 245.75h0" stroke="#9b23ad" stroke-width="1.36" stroke-linecap="round" fill="none"/>
<path d="M114.05 14.09h0M112.88 15.45h0M113.07 16.13h0M114.03 18.17h0M101.22 79.6h0M94.66 79.05h0M102.18 79.05h0M92.08 80.7h0M103.66 79.6h0M103.71 77.95h0M83.91 80.15h0M104.11 82.35h0M96.98 79.05h0M82.06 79.05h0M95.55 81.8h0M101.07 80.15h0M90.31 80.7h0M104.06 167.34h0M112.91 174.21h0M103.01 169.41h0M110.8 168.72h0M106.57 170.79h0M110.58 172.17h0" stroke="#ab15a7" stroke-width="1.36" stroke-linecap="round" fill="none"/>
<path d="M116.49 16.13h0M121.24 18.17h0M126.15 12.73h0M120.17 17.49h0M124.88 12.73h0M117.82 13.41h0M120.37 16.81h0M125.83 18.17h0M127.21 16.13h0M121.01 16.13h0M117.5 17.49h0M126.38 14.09h0M122.37 15.45h0M120.27 16.13h0M125.94 17.49h0M119.18 16.81h0M119.91 18.17h0M120.05 15.45h0M117.67 14.77h0M92.27 52.88h0M94.55 53.94h0M109.82 55h0M106.96 52.52h0M108.7 55.36h0M100.35 50.04h0M100.29 49.34h0M106.84 55.71h0M96.25 54.29h0M95.39 53.59h0M106.06 52.52h0M93.6 54.29h0M88.61 53.94h0M107.98 51.46h0M110.82 53.23h0M86.87 53.59h0M107.27 55.71h0M91.27 53.59h0M99.49 49.68h0M109.12 54.29h0M93.24 52.52h0M90.2 53.23h0M90.59 55h0M92.69 53.94h0M91.35 55.36h0M90.39 54.29h0M110.01 52.88h0M91.85 55h0M92.33 52.52h0M105.11 54.29h0M100.34 56.78h0M98.64 54.65h0M91.61 54.65h0M92.43 56.07h0M94.67 54.65h0M92.63 53.59h0M104.32 55h0M93.28 56.42h0M105.54 55.71h0M91.7 54.29h0M100.52 54.65h0M93.57 54.65h0M92.29 52.17h0M99.52 52.17h0M89.13 54.29h0M102.72 94.96h0M98.31 91.42h0M92.81 91.92h0M102.94 91.42h0M104.99 91.92h0M85.57 90.4h0M97.17 93.95h0M91.54 91.92h0M80.25 91.42h0M97.34 91.92h0M81.59 93.44h0M93.1 91.92h0M87.89 94.46h0M71.2 92.94h0M98.56 93.44h0M94.71 92.94h0M89.87 90.91h0M77.15 92.94h0M107.02 91.92h0M81.26 92.43h0M84.97 90.91h0M87.39 95.47h0M101.59 91.92h0M75.98 92.43h0M100.19 92.43h0M70.91 92.94h0M95.05 93.95h0M89.77 92.94h0M104.33 91.92h0M93.18 93.95h0M87.29 92.43h0M87.16 93.95h0M94.69 94.46h0M81.68 91.92h0M98.71 92.43h0M82.8 91.92h0M88.28 92.43h0M72.82 92.43h0M81.22 93.95h0M79.56 92.43h0M90.22 93.95h0M90.78 92.94h0M89.85 92.43h0M76.26 92.94h0M95.24 90.91h0M102.09 90.91h0M85.52 94.46h0M102.54 91.92h0M85.41 92.43h0M104.53 92.43h0M85.41 95.47h0M94.31 93.95h0M105.81 91.92h0M88.91 94.46h0M72.88 92.94h0M85.39 93.95h0M93.91 93.44h0M71.57 93.44h0M86.73 91.92h0M89.91 94.46h0M85.39 89.9h0M82.99 93.44h0M115.91 219.84h0M155.69 232.48h0M148.91 235.18h0M134.35 232.48h0M122.62 263.72h0M127.73 259.81h0M127.18 258.04h0M121.64 254.72h0M115.55 259.81h0M126.87 259.81h0M119.12 258.04h0M121.12 258.63h0M125.86 261.57h0M122.42 261.57h0M124.96 258.04h0M123.94 260.4h0M122.21 262.16h0M123.22 259.22h0M125.18 256.87h0M125.75 260.4h0M116.53 259.81h0M125.13 260.99h0M125.8 258.04h0M124.94 259.81h0M126.41 260.99h0M124.15 259.81h0M123.27 254.72h0M117.46 258.04h0M121.72 259.81h0M119.12 262.75h0M127.33 260.99h0M120.28 259.22h0M115.01 259.22h0M117.71 258.63h0M117.5 259.81h0M125.37 263.34h0M122.49 256.28h0M114.47 258.63h0M125.12 255.69h0M121.91 260.4h0M123.2 258.04h0M116.91 259.22h0M115.31 258.63h0M123.15 263.72h0M117.39 257.45h0M121.65 256.28h0M121.77 257.45h0M119.45 260.99h0M119.72 260.99h0M121.02 259.81h0M125.64 257.45h0M118.75 259.22h0M120.43 258.04h0M119.69 260.4h0M118.36 257.45h0M120.63 260.99h0M120.2 261.57h0M125.93 256.28h0M121.61 258.04h0M119.73 256.87h0M120.33 258.63h0M125.09 258.63h0M122.81 258.04h0M117.47 262.16h0M125.73 258.63h0M128.57 259.81h0M131.42 259.81h0M128.4 259.81h0M122.99 254.72h0M126.19 258.04h0M121.62 261.57h0M125.07 260.4h0" stroke="#bb00a0" stroke-width="1.36" stroke-linecap="round" fill="none"/>
<path d="M136.65 14.09h0M129.72 16.81h0M129.14 12.73h0M131.26 12.05h0M137.74 13.41h0M130.83 13.41h0M129.74 11.75h0M129.79 15.45h0M136.05 18.17h0M131.71 16.81h0M131.18 18.85h0M136.71 16.13h0M128.29 16.13h0M127.88 14.09h0M129.61 14.77h0M134.36 104.86h0M123.26 106.07h0M121.3 106.87h0M131.95 104.86h0M129.39 104.45h0M123.46 105.66h0M121.24 104.86h0M131.05 104.45h0M128.6 103.25h0M133.5 104.45h0M116.82 105.26h0M147.35 104.86h0M144.01 104.86h0M121.06 105.26h0M124.39 105.66h0M144.95 104.86h0M150.08 105.26h0M115.75 105.66h0M129.11 106.47h0M140.76 104.86h0M139.02 105.26h0M138.94 106.47h0M142.52 104.86h0M114.09 106.07h0M128.95 106.07h0M130.76 104.86h0M127.05 104.86h0M122.16 105.26h0M145.44 105.26h0M122.56 106.47h0M140.56 104.45h0M146.44 105.26h0M123.19 104.86h0M113.75 105.66h0M126.29 105.26h0M119.77 105.26h0M146.55 105.66h0M147.74 104.86h0M132.19 104.86h0M118.19 105.66h0M141.65 105.66h0M128.86 106.47h0M132.74 105.66h0M115.7 105.26h0M144.61 105.66h0M117.27 105.66h0M148.8 105.66h0M147.61 106.07h0M113.43 105.66h0M136.24 105.66h0M122.23 105.66h0M127.21 104.45h0M128.85 103.65h0M126.48 105.66h0M120.13 105.66h0M127.5 105.26h0M138.87 104.86h0M112.01 104.86h0M142.58 106.07h0M142.81 105.66h0M117.13 196.82h0M123.22 197.4h0M122.62 199.15h0M126.45 196.24h0M129.64 192.15h0M128.35 196.24h0M126.69 192.15h0M125.68 197.4h0M122.5 195.65h0M123.23 190.17h0M126.56 194.49h0M119.58 193.32h0M121.13 191.57h0M130.11 195.65h0M122.45 194.49h0M128.85 196.24h0M124.92 198.57h0M122.33 199.15h0M129.77 194.49h0M128.09 196.82h0M122.43 196.24h0M123.32 199.97h0M122.3 191.57h0M121.93 194.49h0M117.22 193.9h0M121.46 197.4h0M119.97 193.9h0M127.84 196.24h0M120.17 196.82h0M129.16 195.07h0M116.13 195.65h0M127.91 197.4h0M125.13 197.4h0M121.37 193.9h0M124.55 195.07h0M122.89 190.41h0M122.94 199.73h0M122.53 190.99h0M116.49 195.07h0M126.26 195.07h0M117.92 195.65h0M121.12 190.99h0M124.92 196.24h0M119.23 192.74h0M116.88 196.24h0M123.14 191.57h0M116.99 194.49h0M124.7 196.24h0M130.36 196.24h0M130.45 195.07h0M124.43 195.65h0M118.44 192.74h0M121.49 196.24h0M123.52 195.65h0M125.3 192.74h0M128.67 195.07h0M124.8 199.15h0M128.51 195.65h0M123.19 194.49h0M121.37 197.4h0M119.01 195.07h0M122.57 197.4h0M122.16 195.65h0M120.43 193.32h0M126.23 192.74h0M124.3 190.99h0M125.65 195.07h0M122.11 190.99h0M126.99 192.15h0M125.34 199.73h0M122.84 192.15h0" stroke="#c80098" stroke-width="1.36" stroke-linecap="round" fill="none"/>
<path d="M143.01 13.41h0M147.83 18.17h0M140.46 17.49h0M140.28 14.77h0M141.77 15.45h0M147.7 15.45h0M144.57 14.77h0M141.12 14.09h0M149.23 17.49h0M147.44 12.73h0M140.97 18.85h0M147.27 16.13h0M142.8 16.81h0M141.2 16.13h0M142.1 14.09h0M139.92 15.45h0M145.69 14.77h0M146.67 18.17h0M131.58 64.72h0M134.18 65.4h0M133.44 66.77h0M131.25 68.14h0M139.73 66.77h0M127.21 66.09h0M122.56 70.18h0M120.64 66.09h0M120.49 65.4h0M130.58 68.14h0M130.62 66.77h0M132.47 68.14h0M132.82 70.87h0M130.86 69.5h0M133.68 68.82h0M129.34 68.82h0M142.38 67.45h0M128.43 64.04h0M121.36 66.77h0M122.81 64.72h0M125.66 63.36h0M128.51 68.14h0M129.43 69.5h0M127.05 67.45h0M135.99 66.09h0M132.82 66.09h0M137.9 66.09h0M141.79 66.09h0M132.87 67.45h0M129.24 68.14h0M141.64 68.14h0M132.18 68.82h0M124.9 67.45h0M131.12 65.4h0M131.13 66.77h0M127.08 71.55h0M137.3 65.4h0M141.18 68.82h0M125.28 62.67h0M142 68.14h0M117.52 67.45h0M118.06 68.14h0M121.52 65.4h0M124.32 65.4h0M127.2 61.99h0M138.29 65.4h0M122.44 65.4h0M120.97 66.09h0M132.89 66.77h0M119.59 66.77h0M133.78 63.36h0M130.72 67.45h0M134.99 66.09h0M134.34 68.82h0M122.46 66.77h0M130.6 68.82h0M121.04 68.82h0M136.01 66.77h0M123.59 68.82h0M118.62 68.82h0M128.66 71.55h0M122.39 69.5h0M136.24 67.45h0M119.28 66.77h0M139.2 67.45h0M132.53 65.4h0M127.18 64.04h0M126.59 70.18h0M148.24 207.52h0M131.98 208.65h0M130.29 209.03h0M142.15 207.52h0M143.63 207.9h0M135.22 208.65h0M138.07 208.65h0M135.59 205.64h0M132.92 207.52h0M123.01 207.9h0M140.74 207.9h0M145.73 208.28h0M133.86 207.9h0M129.82 207.52h0M129.93 209.78h0M125.77 208.28h0M130.92 208.28h0M127.6 209.03h0M135.35 206.39h0M138.96 208.28h0M135.65 209.03h0M137.81 209.03h0M145.82 207.9h0M129.53 209.78h0M127.81 206.77h0M124.29 209.03h0M125.71 206.77h0M138.31 209.41h0M131.56 206.77h0M150.06 207.9h0M137.06 209.03h0M144.86 207.9h0M139.17 207.9h0M133.86 209.03h0M126.09 207.52h0M142.77 207.9h0M149.79 207.9h0M129.58 208.65h0M138.66 207.52h0M128.64 207.52h0M145.48 208.65h0M126.81 207.15h0M131.57 208.28h0M136.65 206.77h0M152.39 208.28h0M123.43 208.65h0M128.46 207.15h0M131.23 207.15h0M133.21 208.28h0M149.34 207.52h0M142.32 208.28h0M134.56 207.9h0M129.13 207.15h0M140.39 206.39h0M142.81 208.65h0M148.64 207.9h0M130.24 206.02h0M135.76 206.77h0M146.66 208.28h0M132.57 209.41h0M124.65 206.77h0M137.57 207.9h0M134.69 207.52h0M123.43 207.9h0M131.18 207.52h0M130.45 207.52h0M136.58 206.77h0M132.04 209.03h0M136.25 207.52h0M151.92 207.9h0M127.39 208.28h0M149.7 207.15h0M134.87 206.39h0M137.15 207.15h0M128.07 207.15h0M130.98 208.65h0M140.88 208.28h0M134.14 206.39h0M121.22 244.48h0M119.45 243.85h0M130.02 247.03h0M117.51 244.48h0M127.47 246.39h0M114.94 247.03h0M114.93 247.66h0M131.51 245.75h0M119.26 249.57h0M114.46 246.39h0M127.89 247.66h0" stroke="#d5008f" stroke-width="1.36" stroke-linecap="round" fill="none"/>
<path d="M150.74 17.49h0M150.67 14.09h0M150.96 19.15h0M149.91 14.77h0M154.78 13.41h0M157.22 16.81h0M153.82 15.45h0M145.52 29.99h0M146.87 25.43h0M148.35 28.85h0M142.83 31.7h0M149.42 26h0M148.67 24.38h0M147.13 26.57h0M152.8 29.42h0M149.13 29.42h0M151.18 27.71h0M143.44 27.14h0M147.4 27.14h0M131.3 27.71h0M151.31 27.14h0M137.59 28.28h0M151.68 28.28h0M129.61 27.71h0M150.05 28.28h0M145.04 27.14h0M136.28 29.42h0M132.09 29.99h0M134.12 30.56h0M150.57 27.14h0M141.84 24.86h0M132.86 29.99h0M149 27.14h0M147.85 30.56h0M153.65 28.28h0M139.01 29.99h0M148.16 24.86h0M138.66 27.71h0M132.49 27.71h0M145.44 29.42h0M141.72 31.7h0M134.56 26h0M127.91 28.85h0M141.64 27.71h0M139.53 24.86h0M137.32 31.13h0M138.78 28.28h0M133.23 30.56h0M137.26 28.85h0M143.08 25.43h0M142.23 27.14h0M145.01 28.85h0M147.77 31.13h0M148.31 25.43h0M153.52 28.85h0M152.18 30.56h0M134.22 26.57h0M136.3 28.85h0M141.76 41.75h0M129.05 41.11h0M130.79 40.47h0M139.69 41.11h0M131.27 40.47h0M138.82 40.15h0M129.77 41.43h0M130.36 41.11h0M140.45 41.43h0M136.87 40.47h0M142.06 40.15h0M130.84 40.79h0M131.83 42.07h0M138.33 40.79h0M124.53 40.79h0M129.71 40.79h0M138.81 41.11h0M131.16 40.15h0M127.65 40.79h0M129.03 39.83h0M135.52 42.07h0M129.41 41.75h0M132.64 41.11h0M134.26 41.43h0M129.01 42.07h0M124.28 41.43h0M126.88 40.79h0M138.6 42.07h0M127.83 41.11h0M124.5 41.11h0M139.55 80.15h0M124.44 80.7h0M129.3 77.4h0M119.06 77.95h0M123.98 78.5h0M124.17 82.89h0M129.14 79.6h0M127.7 80.7h0M125.43 80.7h0M123.89 80.15h0M127.55 77.95h0M131.34 80.7h0M132.55 79.6h0M129.49 76.85h0M135.61 78.5h0M126.4 80.7h0M139.09 79.6h0M119.34 80.15h0M126.15 81.25h0M125.77 78.5h0M119.17 79.05h0M134.72 78.5h0M116.18 78.5h0M129 82.35h0M114.53 80.15h0M122.67 81.25h0M122.61 81.8h0M122.48 82.35h0M124.63 77.4h0M123.71 82.89h0M115.29 79.6h0M135.14 79.6h0M118.8 81.25h0M115.25 78.5h0M121.82 82.89h0M127.6 81.8h0M136.15 80.15h0M122.42 76.85h0M131.12 80.15h0M135.77 81.25h0M122.39 80.15h0M127.22 80.15h0M118.5 80.15h0M131.98 80.15h0M125.64 80.7h0M126.12 79.6h0M121.94 79.6h0M113.63 80.15h0M121.29 77.95h0M116.72 80.15h0M134.21 80.15h0M133.14 79.05h0M134.45 80.7h0M123.18 79.6h0M124.26 77.95h0M132.71 80.15h0M121.6 78.5h0M131.61 81.8h0M138.58 80.15h0M121.02 80.7h0M136.92 79.6h0M134.34 81.8h0M132.28 81.8h0M119.75 81.8h0M132.63 77.95h0M120.84 79.6h0M127.3 81.25h0M119.57 77.4h0M115.67 79.6h0M124.15 81.25h0M128.25 80.15h0M126.95 80.15h0M133.56 79.6h0M132.2 79.6h0M129.9 75.76h0M123.37 81.25h0M128.11 167.34h0M129.2 170.79h0M124.76 167.34h0M132.85 168.72h0M130.86 168.72h0M126.83 168.72h0M139.73 170.1h0M122.68 165.96h0M130.48 170.1h0M138.14 170.1h0M125.78 166.65h0M125.31 170.79h0M118.16 169.41h0M122.64 167.34h0M122.92 166.65h0M131.17 170.1h0M123.82 166.65h0M132.72 169.41h0M126.78 166.65h0M145.85 170.1h0M127.51 172.17h0M122.38 168.72h0M126.61 170.1h0M133.15 169.41h0M133.91 170.79h0M140.41 168.72h0M126.86 169.41h0M123.72 167.34h0M134.96 170.1h0M129.51 169.41h0M132.3 167.34h0M131.31 168.72h0M128.5 169.41h0M138.66 170.79h0M142.02 169.41h0M123.25 171.48h0M124.63 172.17h0M119.96 171.48h0M137.23 169.41h0M130.47 170.79h0M137.76 168.72h0M125.72 171.48h0M121.16 171.48h0M128.96 168.72h0M126.41 167.34h0M139.03 168.03h0M129.42 171.48h0M129.63 166.65h0M127.67 168.72h0M118.16 170.1h0M127.24 166.65h0M122.66 170.79h0M145.54 169.41h0M129.64 168.03h0M125.01 169.41h0M117.79 170.1h0M117.34 168.72h0M123.88 172.17h0M132.11 168.03h0M128.41 170.79h0M128.04 171.48h0" stroke="#e00086" stroke-width="1.36" stroke-linecap="round" fill="none"/>
<path d="M164.01 17.49h0M165.44 15.45h0M164.04 16.81h0M162.22 15.45h0M163.53 14.77h0M162.61 14.77h0M163.74 15.45h0M155.69 27.71h0M156.18 28.28h0M147.6 41.43h0M145.5 40.79h0M152.95 41.11h0M166.39 41.11h0M149.45 41.75h0M159 40.15h0M146.56 42.39h0M155.44 40.47h0M159.71 41.11h0M164.24 41.11h0M157.89 42.07h0M168.25 41.11h0M148.01 40.15h0M148.27 40.79h0M168.6 40.47h0M162.47 40.79h0M161.02 40.79h0M151.43 40.47h0M158.94 41.75h0M169.95 41.11h0M159.52 41.43h0M167.72 40.79h0M160.56 41.75h0M143.28 41.43h0M159.55 41.11h0M157.73 41.11h0M147.31 39.83h0M146.48 40.15h0M146.97 40.79h0M150.18 40.79h0M148.94 41.75h0M146.19 41.43h0M143.43 40.79h0M161.51 42.39h0M167.12 40.79h0M154.44 40.79h0M155.32 105.26h0M153.69 104.86h0M150.71 104.86h0M156.03 104.86h0M66.91 182.24h0M75.69 181.89h0M77.56 181.89h0M90.61 183.65h0M80.93 182.24h0M68.17 182.24h0M62.56 181.53h0M62.64 181.18h0M84.99 181.53h0M77.77 181.89h0M73.79 183.3h0M74.14 181.53h0M93.2 182.95h0M78.95 182.95h0M85.96 182.95h0M71.24 182.59h0M83.53 182.24h0M73.31 182.95h0M74.38 182.59h0M83.37 181.89h0M92.62 182.59h0M74.19 181.89h0M71.49 182.95h0M76.71 182.59h0M77.8 182.59h0M72.15 181.18h0M70.29 182.59h0M88.57 182.95h0M70.97 182.24h0M93.75 181.89h0M86.51 181.89h0M91.03 181.53h0M89.14 182.59h0M64.94 182.59h0M87.04 183.3h0M72.1 183.65h0M85.59 182.24h0M64.57 182.24h0M87.41 182.95h0M85.79 182.24h0M79.68 182.24h0M88.85 182.24h0M76.75 182.24h0M80.1 181.89h0M73.44 181.18h0M90.41 182.95h0M79.34 182.59h0M73.69 181.89h0M71.85 181.89h0M73.97 181.53h0M83.42 182.24h0M90.59 181.89h0M81.46 182.24h0M91.37 183.65h0M69.07 182.59h0M78.71 182.59h0M84.62 182.24h0M83.51 182.59h0M66.72 182.59h0M59.88 182.24h0M68.82 182.59h0M79.89 181.53h0M60.34 181.89h0M85.21 183.3h0M83.9 181.89h0M140.18 220.73h0M126.44 219.84h0M136.66 219.84h0M120.75 222.51h0M132.92 219.84h0M124.5 218.95h0M138.86 219.84h0M135.34 218.95h0M118.77 219.84h0M133.23 223.39h0M123.13 217.18h0M135.74 220.73h0M121.93 224.28h0M131.63 224.28h0M123.6 218.07h0M123.59 221.62h0M138.16 219.84h0M120.86 221.62h0M125.36 220.73h0M127.22 218.07h0M124.03 221.62h0M123 222.51h0M124.45 224.28h0M133.42 222.51h0M133.91 222.51h0M125.13 218.95h0M135.6 221.62h0M127.1 223.39h0M120.77 219.84h0M120.07 221.62h0M126.12 218.95h0M130.31 221.62h0M134.14 223.39h0M119.17 222.51h0M145.49 219.84h0M123.79 220.73h0M132.57 221.62h0M124.19 218.07h0M134.51 221.62h0M119.86 222.51h0M120.36 224.28h0M120.59 222.51h0M128.08 217.18h0M124.26 222.51h0M125.71 219.84h0M126.18 217.18h0M122.21 219.84h0M144.85 220.73h0M136.24 221.62h0M136.77 221.62h0M123.26 222.51h0M145.11 222.51h0M118.82 219.84h0M132.51 222.51h0M123 219.84h0M126.35 218.95h0M126.64 222.51h0M127.61 219.84h0M120.3 223.39h0M126.45 223.39h0M125.65 225.63h0M122.62 224.28h0M119.61 219.84h0M119.76 220.73h0M138.7 221.62h0M121.26 223.39h0M144.32 221.62h0M127.27 219.84h0M121.42 218.95h0M140.18 221.62h0M125.06 217.18h0M128.26 223.39h0M131.63 220.73h0M110.29 246.39h0M93.95 245.12h0M81.8 245.75h0M104.48 247.03h0M87.9 249.57h0M104.09 247.66h0M90.75 245.12h0M108.08 245.75h0M84.99 245.75h0M88.15 243.85h0M111.51 246.39h0M99.97 247.03h0M92.4 247.03h0M110.16 247.03h0M92.03 247.03h0M81.73 247.66h0M89.76 245.75h0M98.45 245.12h0M91.58 248.93h0M86.27 247.66h0M88.67 247.03h0M95.53 245.75h0M106.87 245.12h0M105.39 246.39h0M104.34 246.39h0M93.92 245.75h0M78.58 246.39h0M98.78 245.75h0M96.52 247.03h0M100.75 248.93h0M81.06 247.03h0M91.57 247.66h0M97.19 245.75h0M96.61 246.39h0M94.99 245.75h0M109.32 247.03h0M100.61 243.85h0M101.5 246.39h0M92.72 247.66h0M105.34 245.12h0M103.6 247.66h0M98.92 247.66h0M108.67 246.39h0M93.6 246.39h0M79.93 245.75h0M89.54 246.39h0M107 247.03h0M81.58 246.39h0M94.01 247.03h0M82.62 246.39h0M80.17 246.39h0M105.46 248.3h0M88.34 244.48h0M103 248.3h0M95.4 246.39h0M80.24 246.39h0M100.28 247.66h0M88.87 248.3h0M93.76 248.3h0M96.59 245.12h0M104.48 245.12h0M80.9 246.39h0M111.95 247.03h0M97.25 247.03h0M98.71 247.66h0M84.78 247.03h0M87.89 248.3h0M87.75 245.75h0M88.97 245.75h0M102.55 245.75h0M91.17 244.48h0M83.48 246.39h0M107.96 245.12h0M87.39 246.39h0M98.99 246.39h0M91.68 248.3h0M90.78 248.93h0M91.43 247.03h0M86.25 247.03h0" stroke="#e9007c" stroke-width="1.36" stroke-linecap="round" fill="none"/>
<path d="M173 41.11h0M160.55 54.65h0M158.9 53.59h0M156.36 52.88h0M159.91 53.94h0M141.03 54.29h0M144.05 53.94h0M154.63 53.23h0M152.33 54.29h0M156.19 53.59h0M139.5 53.94h0M154.3 53.23h0M149.83 53.94h0M144.43 53.59h0M156.4 53.94h0M157.92 55h0M154.22 54.65h0M150.67 53.94h0M142.61 53.59h0M155.66 55h0M149.64 54.29h0M168.63 54.29h0M142.68 54.65h0M140.54 53.94h0M148.4 53.94h0M155.07 53.59h0M164.94 54.29h0M165.08 53.59h0M140.92 53.59h0M145.17 54.29h0M151.41 53.23h0M157.72 52.88h0M146.28 53.59h0M169.25 53.59h0M147.28 54.65h0M149.91 53.59h0M143.5 55h0M152.85 54.65h0M167.94 54.65h0M157.53 53.94h0M151.91 54.29h0M138.94 54.29h0M157.8 53.59h0M159.77 54.29h0M157.56 54.29h0M162.86 53.59h0M145.24 53.94h0M150.58 54.65h0M160.91 54.29h0M167.95 53.59h0M160.36 104.45h0M160.62 105.66h0M164.22 106.07h0M162.04 105.26h0M165.29 105.26h0M166.07 104.45h0M157.98 105.26h0M159.81 105.26h0M157.54 105.66h0M159.86 105.66h0M59.41 182.59h0M57.86 181.89h0M58.56 182.24h0" stroke="#f20072" stroke-width="1.36" stroke-linecap="round" fill="none"/>
<path d="M192.92 54.65h0M184.4 53.59h0M184.8 53.59h0M177.3 54.29h0M186.44 53.59h0M181.47 54.29h0M186.59 52.17h0M175.43 54.29h0M184.8 53.94h0M178 53.23h0M184.64 52.88h0M177.37 53.94h0M186.62 55h0M188.54 54.29h0M179.59 53.59h0M170.14 53.59h0M171.07 54.65h0M176.24 54.65h0M180.51 52.88h0M176.83 53.59h0M190.49 53.94h0M172.47 53.94h0M175.76 53.94h0M184.67 55.36h0M173.53 53.94h0M181.98 52.88h0M180.35 55.36h0M178.02 52.88h0M190.11 53.23h0M188.53 54.65h0M186.28 52.52h0M179.94 54.29h0M184.71 54.65h0M179.1 54.29h0M185.83 55.71h0M143.5 79.6h0M85.57 91.92h0M104.11 93.44h0M98.39 92.94h0M103.27 92.43h0M88.54 93.44h0M98.33 90.4h0M100.7 92.94h0M61.84 92.43h0M102.44 91.42h0M70.23 91.92h0M82.3 92.43h0M101.32 93.44h0M80.52 90.91h0M96.48 91.42h0M168.56 105.26h0M166.35 106.07h0M166.31 105.26h0M101.6 116.8h0M102.05 119.38h0M85.93 118.09h0M86.69 118.73h0M99.64 118.73h0M109.63 118.73h0M92.6 120.02h0M108.46 116.8h0M95.05 118.73h0M99.89 119.38h0M109.82 120.02h0M107.79 121.3h0M85.32 118.09h0M100.59 114.23h0M107.4 119.38h0M107.28 118.09h0M95.97 118.09h0M91.45 183.3h0M79.22 183.3h0M155.76 233.56h0M133.36 234.1h0M156.32 233.02h0M138.71 233.02h0M126.58 233.02h0M155.3 233.56h0M124.15 234.1h0M143.34 234.1h0M150.02 234.64h0M147.94 233.56h0M150.01 232.48h0M146.68 233.56h0M126.78 234.1h0M136.93 233.56h0M145.71 233.56h0M131.58 233.02h0M136.14 234.64h0M134.73 234.64h0M123.59 234.1h0M137.22 234.1h0M127.83 233.56h0M153.21 233.56h0M131.74 235.18h0M154.55 234.1h0M142.45 234.1h0M129.27 231.94h0M128.9 233.02h0M148.87 232.48h0M132.01 231.94h0M155.53 233.02h0M140.55 234.1h0M128.85 234.1h0M146.55 234.1h0M129.12 235.18h0M150.62 234.64h0M140.82 234.1h0M124 234.64h0M147.3 234.1h0M135.72 233.56h0M144.79 233.02h0M127.5 233.02h0M122.91 234.1h0M133.2 231.94h0M129.1 232.48h0M155.69 234.64h0M128.58 233.56h0M134.17 232.48h0M124.13 233.56h0M152.87 234.64h0M133.79 233.02h0M128.8 234.64h0M156.68 234.1h0M148.98 233.56h0M149.91 234.1h0M130.22 233.56h0M142.82 233.02h0M135.03 233.02h0M154.09 233.56h0M136.36 232.48h0M123.34 260.99h0M116.79 258.04h0M128.01 258.04h0M123.8 259.22h0M122.76 262.75h0M124.71 259.22h0M118.4 259.81h0M125.89 259.81h0M123.35 260.4h0M119.28 262.16h0M121.52 259.22h0M131.29 259.22h0M117.86 260.99h0M117.35 261.57h0" stroke="#f90067" stroke-width="1.36" stroke-linecap="round" fill="none"/>
<path d="M151.81 16.81h0M148.98 16.13h0M130.4 18.85h0M124.04 14.77h0M144.54 16.81h0M123.37 15.45h0M141.72 16.81h0M124.34 13.41h0M156.2 16.81h0M142.43 12.73h0M135.84 16.81h0M143.61 17.49h0M136.99 15.45h0M147.34 29.42h0M148.89 29.99h0M147.86 26.57h0M148.51 31.7h0M145.62 30.56h0M131.61 27.14h0M141.03 28.85h0M137.46 26h0M139.73 66.09h0M118.16 66.09h0M126.71 70.18h0M125.18 64.72h0M134.57 68.14h0M121.94 66.77h0M132.85 64.04h0M135.03 66.77h0M130.82 66.09h0M118.68 78.5h0M119.52 79.05h0M127.66 82.89h0M128.63 78.5h0M118.55 80.7h0M130.21 78.5h0M127.71 76.85h0M134.67 77.4h0M124.15 169.41h0M127.66 169.41h0M127.29 170.1h0M121.92 172.86h0M120.56 170.79h0M133.07 170.1h0M122.6 168.03h0M138.96 168.72h0M135.93 170.1h0M128.46 193.32h0M129.32 196.24h0M122.11 198.57h0M127.96 195.65h0M119.93 199.15h0M117.13 193.32h0M119.9 197.99h0M121.69 195.07h0M119.24 193.9h0M130.24 195.07h0M122.86 199.73h0M123.09 196.82h0M122.29 199.73h0M119.12 193.32h0M131.63 195.07h0" stroke="#fe005c" stroke-width="1.36" stroke-linecap="round" fill="none"/>
<path d="M104.43 129.19h0M90.35 130.92h0M103.65 128.32h0M106.91 128.32h0M106.83 127.45h0M103.09 135.25h0M105.23 131.79h0M104.33 127.45h0M106.23 129.19h0M106.91 134.39h0M111.01 131.79h0M108.31 129.19h0M103.88 134.39h0M103.52 128.32h0M98.76 133.52h0M94.69 131.79h0M100.51 130.05h0M99.05 126.59h0M104.1 135.25h0M103.14 129.19h0M98.39 130.92h0M102.6 129.19h0M110.67 133.52h0M100.11 128.32h0M100.07 134.39h0M105.55 133.52h0M98.62 135.25h0M108.02 131.79h0M96.1 131.79h0M106.64 130.92h0M109.33 128.32h0M100.01 130.05h0M107.76 130.05h0M106.88 135.82h0M96.85 129.19h0M91.13 130.05h0M94.78 130.92h0M105.61 130.92h0M100.07 129.19h0M104.31 133.52h0M98.68 127.45h0M98.69 128.32h0M101.77 130.92h0M107.89 129.19h0M102.42 127.45h0M93.31 130.92h0M88.81 130.92h0M101.9 134.39h0M100.28 134.39h0M101.77 127.45h0M104.21 130.92h0M97.43 130.92h0M103.2 130.05h0M103.39 131.79h0M100 130.92h0M107.72 133.52h0M107.42 130.92h0M103.09 134.39h0M96.81 131.79h0M92.16 130.92h0M98.2 132.65h0M103.21 126.59h0M106.35 127.45h0M101.56 129.19h0M108.06 131.79h0M107.24 135.25h0M107.43 130.05h0M107.31 127.45h0M98.84 130.05h0M106.74 130.05h0M92 130.05h0M103.88 130.05h0M107.21 132.65h0M106.67 131.79h0M97.51 130.92h0M109.4 131.79h0M101.57 132.65h0M91.82 130.92h0M91.78 131.79h0M100.32 133.52h0M93.13 133.52h0M111.25 130.05h0M106.32 132.65h0M100.63 127.45h0M100.37 130.92h0M100.87 130.05h0M105.51 127.45h0M96.57 132.65h0M89.88 131.79h0M97.45 143.02h0M105.79 141.55h0M103.98 145.22h0M110.53 144.48h0M97.57 145.22h0M103.46 145.95h0M106.08 145.22h0M94.64 143.75h0M108.69 142.28h0M104.55 144.48h0M106.49 144.48h0M100.96 143.02h0M103.18 144.48h0M101.8 145.95h0M100.32 145.22h0M109.25 143.75h0M93.23 143.75h0M102.13 142.28h0M104.86 139.45h0M101.61 145.22h0M98.29 144.48h0M99.38 143.75h0M105.28 144.48h0M101.8 146.68h0M107.63 147.41h0M103.79 143.75h0M106.37 140.09h0M97.23 143.75h0M96.8 143.02h0M110.61 143.02h0M97.69 143.75h0M106.24 144.48h0M102.57 142.28h0M100.7 142.28h0M107.51 140.09h0M106.79 147.41h0M105.03 142.28h0M100.45 141.55h0M108.56 145.22h0M104.62 141.55h0M106.96 145.95h0M105.23 148.05h0M105.13 144.48h0M95.51 144.48h0M101.16 143.75h0M104.44 140.82h0M110.99 143.75h0M97.49 145.95h0M106.78 139.45h0M95.49 141.55h0M107.39 143.02h0M95.18 144.48h0M100.39 144.48h0M104.71 139.45h0M93.35 143.75h0M106.5 140.82h0M109.38 144.48h0M95.44 145.95h0M103.65 145.22h0M101.88 145.22h0M107.36 139.45h0M102.53 145.22h0M104.12 144.48h0M96.42 145.22h0M108.83 142.28h0M101.4 145.95h0M105.12 145.22h0M105.18 139.45h0M102.93 143.75h0M99.55 143.02h0M108.58 144.48h0M102.9 145.95h0M108.67 143.75h0M98.67 145.22h0M110.2 143.75h0M104.32 140.09h0M106.31 145.22h0M93.7 144.48h0M104.33 145.22h0M96.32 141.55h0M112.13 143.75h0M101.24 144.48h0M99.45 141.55h0M97.38 146.68h0M108.06 141.55h0M106.07 143.75h0M101.33 143.02h0M109.72 142.28h0M104.76 143.75h0M99.43 144.48h0M98.58 143.02h0M104.8 148.05h0M106.1 145.95h0M96.66 143.75h0M108.98 145.95h0M105.15 147.41h0M99.51 145.22h0M107.16 143.75h0M103.6 143.02h0M105.27 148.05h0M105.49 142.28h0M105.13 143.02h0M106.03 157.13h0M93.92 157.13h0M91.04 157.13h0M90.33 156.03h0M97.7 158.77h0M95.5 154.94h0M101.72 157.68h0M98 155.48h0M96.9 156.58h0M92.96 157.68h0M92.1 157.68h0M97.39 156.58h0M100.3 158.22h0M93.1 155.48h0M101.06 158.22h0M105.39 158.22h0M107.63 155.48h0M99.17 155.48h0M100.69 156.58h0M101.57 158.77h0M95.19 154.94h0M95.26 156.03h0M100.26 153.29h0M110.2 156.03h0M94.92 157.68h0M105.12 156.03h0M97.98 158.22h0M91.36 157.13h0M98.57 156.03h0M106.17 156.58h0M97.2 156.03h0M90.22 156.58h0M90.77 157.13h0M102.46 154.94h0M99.67 156.58h0M100.81 154.39h0M105.49 156.58h0M105.89 156.03h0M101.87 156.58h0M96.38 157.68h0M102.89 154.39h0M97.72 153.29h0M100.85 159.32h0M105.56 155.48h0M104.77 156.58h0M99.15 158.22h0M96.8 155.48h0M92.38 156.03h0M99.27 155.48h0M104.14 157.13h0M102.29 154.39h0M97.31 153.84h0M102.09 154.94h0M106.98 156.58h0M109.36 156.58h0M96.99 157.68h0M102.82 158.22h0M96.72 156.03h0M103.54 155.48h0M95.82 157.13h0M108.2 157.13h0M103.1 158.77h0M97.96 157.68h0M99.99 157.68h0M95.76 158.22h0M106.35 157.68h0M95.28 155.48h0M93.82 156.03h0M107.59 157.68h0M105.68 156.03h0M102.46 157.13h0M99.91 154.94h0M107.81 157.68h0M104.91 157.13h0M99.72 157.13h0M101.57 157.13h0M99.18 156.58h0M102.57 156.58h0M90.22 157.13h0M105.24 154.94h0M107.74 154.94h0M88.75 157.13h0M108.63 156.58h0M102.95 157.13h0M94.77 156.03h0M106.3 156.58h0M106.79 157.13h0M97.73 158.22h0M107.97 158.77h0M92.03 155.48h0M108.16 156.03h0M106.37 155.48h0M100.9 157.68h0M97.36 155.48h0M100.72 156.03h0M138.12 220.73h0M130.72 223.39h0M135.23 218.07h0M119.75 221.62h0M139.9 222.51h0M122.37 223.39h0M129.18 222.51h0M124.69 224.28h0M128.34 220.73h0M133.87 220.73h0M125.55 223.39h0M138.26 221.62h0M136.75 220.73h0" stroke="#ff0051" stroke-width="1.36" stroke-linecap="round" fill="none"/>
<path d="M80.98 18.17h0M77.8 14.09h0M81.31 15.45h0M95.99 80.7h0M104.49 81.25h0M93.77 78.5h0M93.56 80.7h0M87.09 81.25h0M125.86 248.93h0M123.93 247.03h0M120.71 245.75h0M126.37 246.39h0M127.68 245.12h0M118.22 248.3h0M130.54 247.03h0M116.67 247.66h0M121.54 250.79h0M117.61 248.3h0M125.33 244.48h0M124.77 249.57h0" stroke="#008bfb" stroke-width="1.36" stroke-linecap="round" fill="none"/>
<path d="M57.82 16.13h0M106.46 39.18h0M103.33 45.61h0M103.62 36.41h0M102 39.83h0M108.17 41.43h0M101.86 43.36h0M106.58 41.43h0M107.08 39.5h0M107.72 41.75h0M104.39 39.18h0M105.69 44.32h0M101.98 41.75h0M107.37 38.86h0M102.61 43.04h0M103.47 42.72h0M107.62 42.72h0M104.07 42.39h0M106.3 43.36h0M107.61 39.18h0M102.53 41.43h0M105.68 41.11h0M104.42 44h0M103.18 38.86h0M104.36 38.54h0M104.19 43.36h0M103.31 38.54h0M103.78 37.9h0M106.21 44h0M101.75 39.83h0M101.62 39.5h0M105.74 41.43h0M105.19 40.79h0M106.63 41.75h0M103.09 40.79h0M102.37 38.22h0M107.65 39.83h0M104.9 44h0M105.23 38.54h0M105.42 38.22h0M104.4 44.32h0M106.93 41.11h0M107.14 38.54h0M106.5 43.04h0M104.57 43.68h0M104.46 40.47h0M105.29 43.04h0M104.4 42.07h0M105.97 42.72h0M102.92 39.5h0M102.97 39.18h0M102.77 44h0M106.58 40.15h0M135.4 92.43h0M122.01 91.42h0M136.37 92.94h0M122.71 89.9h0M118.37 93.95h0M130.21 91.92h0M122.87 94.46h0M120.32 92.43h0M134.82 93.44h0M128.4 91.92h0M122.41 93.95h0M120.87 91.92h0M129.82 90.4h0M125.77 95.98h0M124.7 92.43h0M128.46 92.43h0M124.16 92.94h0M123.3 91.42h0M126.77 92.43h0M135.76 91.92h0M118.13 92.43h0M121.96 89.9h0M127.99 95.47h0M124.35 95.47h0M127.89 96.48h0M116.48 91.92h0M128.94 93.95h0M121.7 94.46h0M126.15 93.44h0M122.12 95.47h0M119.37 89.39h0M116.89 93.44h0M129.62 92.94h0M118.38 89.9h0M132.53 92.43h0M127.72 89.39h0M119.9 91.42h0M121.18 90.91h0M128.73 96.48h0M127.56 96.99h0M134.02 92.94h0M129.8 94.46h0M124.9 90.91h0M128.73 89.9h0M124.12 95.98h0M121.36 94.46h0M124.18 96.48h0M134.24 93.95h0M127.83 93.95h0M122.41 90.91h0M124.39 88.88h0M127.39 92.43h0M130.75 90.91h0M127.85 94.46h0M118.24 91.42h0M127.86 95.98h0M124.25 90.4h0M130.38 90.91h0M119.07 90.4h0M125.23 92.43h0M125.99 89.9h0M126.54 90.4h0M135.06 92.43h0M118.28 91.92h0M128.03 92.94h0M127.22 91.42h0M127.27 92.94h0M127.82 89.9h0M118.64 90.91h0M130.56 94.46h0M114.05 92.43h0M122.32 93.44h0M133.08 92.43h0M120.08 91.92h0M131.13 92.43h0M122.39 91.42h0M125.16 91.92h0M126.09 90.4h0M123.44 89.9h0M121.67 90.4h0M120.39 93.95h0M117.22 91.42h0M119.13 95.47h0M123.42 92.43h0M124.45 90.91h0M124.4 88.38h0M127.54 91.92h0M126.61 117.45h0M127.77 116.16h0M139.73 118.73h0M140.68 118.73h0M132.75 118.09h0M125.37 119.38h0M126.33 115.52h0M135.32 119.38h0M128.37 120.66h0M128.03 115.52h0M145.86 118.73h0M149.08 118.09h0M126.82 121.3h0M132.37 118.73h0M134.33 116.8h0M137.51 116.8h0M124.68 116.8h0M151.2 118.73h0M132.97 119.38h0M125 118.73h0M125.37 118.73h0M126.86 118.73h0M129.24 120.02h0M133.46 117.45h0M132.06 119.38h0M125.31 118.09h0M140.16 119.38h0M137.82 117.45h0M135.58 118.09h0M143.41 117.45h0M137.74 120.66h0M137.47 119.38h0M124.96 117.45h0M128.49 118.09h0M131.79 119.38h0M141.86 116.8h0M123.95 119.38h0M130.99 116.16h0M134.13 118.73h0M133.19 118.73h0M133.71 116.16h0M140.11 117.45h0M125.32 120.02h0M131.5 116.8h0M123.54 118.73h0M126.22 119.38h0M133.12 116.8h0M125.96 116.8h0M129.38 116.16h0M124.11 120.02h0M125.74 116.16h0M133.34 120.66h0M134.3 118.09h0M129.59 114.88h0M124.19 118.73h0M128.64 116.8h0M147.63 118.09h0M128.8 116.16h0M124.51 116.16h0M146.48 118.09h0M141.77 118.09h0M148.12 118.73h0M127.88 116.8h0M145.25 118.73h0M130.44 118.73h0M125.69 121.3h0M126.39 121.3h0M140.39 116.8h0M125.92 117.45h0M131.34 120.66h0M151.96 118.73h0M152.1 118.09h0M135.66 118.73h0M125.08 119.38h0M144.66 118.09h0M136.9 118.73h0M141.1 118.73h0M127.05 115.52h0M146.8 117.45h0M145.07 118.09h0M134 119.38h0M130.68 119.38h0M127.18 120.02h0M133.2 117.45h0M142.75 118.09h0M129.47 120.66h0M130.4 116.8h0M127.92 119.38h0M150.98 118.09h0M130.53 116.16h0M134.86 116.16h0M128.07 120.02h0M120.87 118.73h0M136.78 116.8h0M137.52 120.02h0M127.38 120.02h0M138.05 118.73h0M137.52 130.92h0M132.74 128.32h0M118.48 128.32h0M134.85 131.79h0M121.38 130.05h0M138.18 130.05h0M131.91 128.32h0M122.64 128.32h0M129.57 133.52h0M127.08 135.25h0M135.75 130.92h0M131.97 130.05h0M128.92 133.52h0M132.3 130.92h0M122.06 130.92h0M126.34 129.19h0M119.63 130.92h0M118.22 133.52h0M140.24 130.92h0M126.69 131.79h0M124.25 132.65h0M116.7 130.92h0M128.32 130.05h0M131.75 134.39h0M129.51 128.32h0M132.91 130.92h0M123.86 134.39h0M127.89 127.45h0M126.78 135.25h0M118.37 131.79h0M129.31 127.45h0M134.62 131.79h0M136.62 131.79h0M128.23 130.92h0M124.63 128.32h0M126.65 128.32h0M126.71 130.05h0M134.57 132.65h0M133.21 132.65h0M125.13 127.45h0M127.44 128.32h0M140.38 130.05h0M122.39 130.05h0M130.22 133.52h0M125.27 132.65h0M131.62 131.79h0M133.5 128.32h0M125.03 130.05h0M141.44 129.19h0M132.35 132.65h0M118.9 131.79h0M141.83 132.65h0M120.1 131.79h0M136.66 130.92h0M140.17 131.79h0M133.68 130.05h0M137.01 133.52h0M126.39 129.19h0M118.81 130.92h0M122.77 134.39h0M141.66 131.79h0M126.69 133.52h0M127.93 130.92h0M128.12 133.52h0M124.96 135.25h0M124.56 130.05h0M127.06 130.92h0M137.09 130.92h0M127.18 129.19h0M132.96 130.05h0M126.35 130.92h0M134 133.52h0M126.08 128.32h0M128.1 129.19h0M128.6 130.05h0M133.91 131.79h0M121.87 132.65h0M124.56 129.19h0M117.6 130.05h0M135.31 132.65h0M131.08 130.92h0M127.19 132.65h0M123.34 132.65h0M129.65 132.65h0M127.35 127.45h0M130.04 128.32h0M130.15 129.19h0M127.88 129.19h0M136.76 133.52h0M139.65 130.05h0M117.15 130.92h0M129.34 131.79h0M136.28 144.48h0M122.26 145.95h0M130.16 145.22h0M127.86 143.02h0M121.78 142.28h0M127.16 147.41h0M124.19 142.28h0M126.14 144.48h0M131.57 140.09h0M134.34 144.48h0M128.83 145.22h0M128.74 146.68h0M128.32 144.48h0M135.94 143.02h0M118.82 143.02h0M120.89 144.48h0M125.27 142.28h0M127.65 143.02h0M130.91 144.48h0M119.47 143.02h0M128.05 145.22h0M133.03 146.68h0M133.86 143.02h0M130.97 145.22h0M130.62 142.28h0M133.37 145.22h0M128.9 141.55h0M131.7 147.41h0M127.13 143.02h0M121.65 144.48h0M127.31 145.22h0M130.76 145.22h0M124.47 144.48h0M133.62 142.28h0M126.5 143.02h0M129 142.28h0M125.45 143.75h0M132.25 142.28h0M124.39 140.82h0M128.35 148.05h0M127.86 140.82h0M125.04 143.75h0M137.92 144.48h0M133.53 145.95h0M125.56 143.02h0M119.33 145.22h0M127.88 146.68h0M131.65 139.45h0M128.4 140.82h0M132.86 144.48h0M121.47 145.22h0M123.22 143.75h0M129.74 144.48h0M128.96 145.95h0M122.15 142.28h0M132.95 145.22h0M119.5 144.48h0M125.13 141.55h0M135.05 143.75h0M131.35 140.82h0M123.55 145.22h0M131.37 144.48h0M137.32 143.75h0M130.87 145.95h0M126.72 141.55h0M127.76 142.28h0M130.91 142.28h0M124.75 143.02h0M130.2 145.95h0M134.01 145.22h0M126.01 143.02h0M129.52 143.02h0M136.48 144.48h0M129.5 145.95h0M137.36 143.75h0M125.7 145.95h0M135.48 145.22h0M125.66 145.22h0M128.67 145.95h0M127.69 144.48h0M132.22 145.22h0M126.84 142.28h0M129.7 145.22h0M126.75 143.75h0M122.88 143.02h0M124.54 140.09h0M124.17 144.48h0M132.42 144.48h0M122.25 153.29h0M125.63 154.39h0M122.42 156.03h0M118.38 156.03h0M124.93 155.48h0M118.8 156.58h0M128.83 154.94h0M127.41 159.87h0M121.01 156.03h0M129.82 158.22h0M122.25 158.77h0M128.88 156.58h0M127.52 157.13h0M124.27 158.22h0M123.81 158.22h0M125.74 157.13h0M128.37 158.77h0M131.35 157.13h0M123.79 153.29h0M122.4 155.48h0M127.73 155.48h0M121.71 157.13h0M116.29 157.13h0M127.11 159.32h0M122.34 157.13h0M124.84 158.22h0M121.01 157.13h0M124.31 156.58h0M130.14 156.58h0M123.84 158.77h0M127.08 157.68h0M127.73 156.03h0M123.69 152.2h0M121.35 157.68h0M126.37 156.03h0M126.05 158.22h0M125.47 160.41h0M121.81 158.77h0M122.44 154.39h0M118.56 157.68h0M120.29 157.13h0M124.2 157.13h0M132.26 157.13h0M125.73 154.94h0M125.03 157.13h0M123.67 152.75h0M122.6 159.32h0M131.07 156.58h0M128.15 157.13h0M117.21 156.58h0M118.53 155.48h0M128.36 155.48h0M124.2 154.39h0M124.04 160.41h0M116.86 157.13h0M118.7 155.48h0M127.41 154.94h0M127.58 157.68h0M118.3 158.22h0M126.2 159.32h0M122.23 157.68h0M124.06 156.03h0M120.41 156.58h0M125.29 159.32h0M128.62 158.22h0M120.31 157.68h0M121.86 155.48h0M124.18 154.94h0M121.63 158.22h0M125.38 152.2h0M124.95 156.58h0M130.35 155.48h0M126.48 157.13h0M127.19 158.77h0M122.72 157.68h0M127.75 156.58h0M123.98 157.68h0M125.2 160.96h0M124.38 158.77h0M130.14 156.03h0M122.91 158.77h0M122.41 159.87h0M126.51 155.48h0M121.69 157.68h0M120.38 154.94h0M130.42 158.22h0M125.15 158.22h0M122.01 156.03h0M117.65 157.13h0M132.16 156.58h0M125.57 153.84h0M121.45 154.94h0M125.35 154.94h0M122.68 158.22h0M128.69 156.03h0M127.51 160.41h0M127.2 156.58h0M127 157.68h0M121.84 182.24h0M124.05 182.95h0M123.12 179.06h0M120.12 185.78h0M123.87 178.7h0M124.02 181.53h0M120.21 181.18h0M120.63 183.3h0M119.78 182.59h0M120.49 185.07h0M122.51 182.95h0M126.05 181.18h0M120.25 184.36h0M120.92 184.36h0M121.09 180.47h0M126.3 180.47h0M119.01 180.83h0M121.24 183.65h0M125.14 181.18h0M119.73 181.53h0M124.03 185.78h0M123.76 182.24h0M125.25 183.3h0M124.66 184.72h0M126.23 180.83h0M122.27 180.12h0M121.51 180.12h0M123.84 181.53h0M122.41 185.42h0M119.79 180.12h0M123.3 186.13h0M122.36 178h0M123.18 181.89h0M126.96 181.53h0M121.2 180.83h0M125.3 181.89h0M121.23 183.3h0M130.13 182.24h0M126.07 181.89h0M122.53 179.76h0M128.26 181.53h0M124.74 182.24h0M125.02 182.95h0M127.28 180.83h0M122.97 182.24h0M123.79 180.83h0M122.93 184.01h0M123.92 184.01h0M125.19 184.36h0M122.11 184.72h0M120.16 186.48h0M126.91 183.3h0M121.95 179.06h0M126.76 181.89h0M123.44 184.36h0M122.48 181.89h0M126.43 181.18h0M119.94 186.13h0M123.52 182.59h0M124.16 179.06h0M126.62 182.24h0M120.01 180.83h0M126.55 182.95h0M120.59 181.89h0M118.35 182.59h0M123.06 183.65h0M122.2 182.59h0M121.22 185.42h0M120.45 180.12h0M122.22 180.47h0M122.09 179.41h0M121.48 185.78h0M120.2 185.07h0M127.85 182.95h0M121.75 181.18h0M121.18 184.72h0M121.83 181.53h0M120.33 182.95h0M125.69 182.59h0M127.47 184.36h0M118.58 181.89h0M120.46 182.59h0M122.93 184.72h0M120.19 184.72h0M123.09 183.3h0M124.11 180.12h0M119.69 179.76h0M103.55 196.24h0M103.98 195.65h0M92.52 195.65h0M86.67 194.49h0M95.56 193.9h0M106.75 196.24h0M92.67 195.07h0M97.59 193.9h0M102.01 196.24h0M89.19 195.65h0M108.06 195.07h0M90.06 194.49h0M96.83 196.24h0M82.36 194.49h0M102.6 195.65h0M97.76 196.24h0M102.06 193.9h0M98.77 195.07h0M109.21 195.07h0M100.73 194.49h0M93.58 194.49h0M84.78 195.07h0M95.01 195.07h0M98.16 195.65h0M94.97 196.82h0M105.29 195.07h0M99.83 194.49h0M103.68 194.49h0M101.49 195.07h0M96.15 193.32h0M103.88 194.49h0M97.92 196.82h0M98.48 197.4h0M91.19 193.9h0M98.64 196.24h0M101.89 193.32h0M104.34 195.07h0M96.55 195.07h0M101.33 196.24h0M87.25 195.07h0M94.88 193.9h0M89.47 195.07h0M95.56 195.65h0M97.93 194.49h0M97.52 196.24h0M83.93 195.07h0M97.76 192.74h0M91.02 195.07h0M85.81 195.65h0M93.87 195.65h0M107.3 196.24h0M82.47 195.07h0M104.58 193.9h0M89.81 195.65h0M96.8 195.07h0M96.19 196.82h0M98.77 194.49h0M101.77 196.82h0M103.28 195.07h0M94.27 193.9h0M88.2 195.07h0M101.61 194.49h0M96.44 193.9h0M95.67 195.07h0M88.62 194.49h0M108.79 194.49h0M91 195.65h0M89.04 195.07h0M99.83 193.9h0M95.77 194.49h0M83.61 195.65h0M104.7 194.49h0M98 197.4h0M99.89 218.07h0M100.02 223.39h0M87.94 220.73h0M106.77 221.62h0M104.88 222.51h0M95.52 223.39h0M90.1 220.73h0M102.33 218.95h0M103.41 221.62h0M89.63 220.73h0M89.48 221.62h0M94.46 224.28h0M104.17 220.73h0M85.83 221.62h0M93.25 219.84h0M111.08 220.73h0M109.51 219.84h0M109.11 219.84h0M98.27 217.18h0M106.42 222.51h0M101.76 218.07h0M97.82 218.07h0M99.49 219.84h0M103 219.84h0M99.31 225.63h0M100.99 225.17h0M96.03 216.29h0M101.59 225.17h0M109.94 218.95h0M95.76 220.73h0M98.96 218.07h0M102.21 220.73h0M104.12 218.95h0M103.61 222.51h0M94.03 222.51h0M96.28 221.62h0M110.95 221.62h0M91.15 222.51h0M108.96 221.62h0M97.83 219.84h0M108.56 221.62h0M94.44 222.51h0M99.06 219.84h0M86.06 219.84h0M105.1 219.84h0M100.68 219.84h0M98.16 224.28h0M98.95 220.73h0M94.87 218.07h0M98.88 222.51h0M102.73 222.51h0M88.92 221.62h0M94.69 223.39h0M98.98 217.18h0M98.81 216.29h0M98.76 218.95h0M88.12 220.73h0M99.52 222.51h0M98.29 220.73h0M94.34 219.84h0M97.69 216.29h0M100.78 217.18h0M98.6 221.62h0M97.33 223.39h0M92.12 218.95h0M100.3 231.4h0M101.01 231.4h0M107.09 233.02h0M105.39 234.64h0M104.37 235.18h0M105.77 234.1h0M108.46 233.02h0M101.1 230.32h0M94.34 233.56h0M101.82 231.4h0M98.31 232.48h0M108.74 235.18h0M105.1 235.72h0M96.41 234.64h0M105.92 235.72h0M103.14 235.18h0M104.01 232.48h0M102.39 236.26h0M99.7 233.56h0M99.76 233.02h0M101.77 235.72h0M97.28 233.56h0M107.37 231.4h0M106.78 234.1h0M100.39 229.78h0M108.36 234.64h0M93.51 234.64h0M106.26 231.4h0M100.33 231.94h0M105.13 231.94h0M107.46 231.94h0M101.14 235.72h0M94.47 234.64h0M102.05 236.8h0M109.37 233.56h0M98.75 234.1h0M98.63 233.02h0M105.75 235.18h0M100.58 236.26h0M98.08 231.94h0M106.37 235.72h0M99.48 236.26h0M103.87 233.02h0M99.39 235.18h0M104.39 233.02h0M105.25 233.02h0M103.46 235.72h0M106.08 236.26h0M107.8 233.56h0M105.5 230.86h0M103.09 237.34h0M93.78 233.56h0M100.45 236.8h0M102.49 234.64h0M104.44 238.46h0M106.26 235.18h0M104.73 228.66h0M98.86 233.56h0M100.57 234.64h0M100.37 237.34h0M107.01 235.18h0M103.96 237.34h0M100.27 232.48h0M104.67 230.32h0M103.58 231.4h0M105.56 233.02h0M103.67 229.78h0M104.47 231.4h0M101.59 237.88h0M105.56 229.78h0M103.49 236.8h0M107.12 230.86h0M101.05 233.02h0M105.77 237.88h0M101.29 235.18h0M106.93 233.56h0M100.63 234.64h0M102.98 236.26h0M102.09 234.1h0M105.74 231.94h0M93.47 233.02h0M97.66 232.48h0M104.94 231.4h0M104.28 236.26h0M108.83 231.94h0M109.5 234.1h0M102.34 233.56h0M96.11 233.56h0M97.33 234.1h0M94.07 234.1h0M100.68 230.86h0M103.33 234.1h0M105.3 234.1h0M101.17 233.56h0M103.08 235.72h0M104.19 230.86h0M103.97 259.22h0M84.53 259.22h0M108.01 260.99h0M93.01 259.81h0M93.4 258.63h0M98.87 260.4h0M108.09 260.4h0M96.41 259.81h0M88.62 258.63h0M95.53 258.04h0M102.67 259.22h0M100.98 259.22h0M94.49 259.22h0M105.66 259.22h0M92.1 260.99h0M107.89 258.63h0M92.45 259.22h0M104.31 260.4h0M94.28 260.4h0M103.79 260.4h0M98.55 260.4h0M101.06 260.99h0M109.11 259.81h0M87.13 259.22h0M104.85 260.4h0M87.79 260.4h0M99.64 261.57h0M109.89 260.4h0M98.42 259.81h0M104.17 260.99h0M103.36 260.4h0M102.48 258.63h0M103.96 257.45h0M98.31 258.63h0M94.56 261.57h0M87.46 259.22h0M94.78 260.99h0M91.04 260.4h0M97.85 260.4h0M102.87 258.63h0M101.93 258.63h0M95.41 259.22h0M100.43 259.22h0M101.68 260.99h0M104.55 259.22h0M89.51 258.63h0M82.95 259.22h0M94.84 259.81h0M105.92 258.63h0M94.41 260.4h0M99.18 258.63h0M102.68 261.57h0M94.44 257.45h0M97.19 260.4h0M101.83 258.04h0M83.25 259.22h0M99.79 257.45h0M93.07 259.22h0M109.11 259.22h0M100.19 258.63h0M97.5 258.04h0M101.02 257.45h0M99.74 256.87h0M91.54 259.81h0M89.15 260.4h0M88.09 259.81h0M88.1 260.4h0M91.14 259.22h0M96.3 259.81h0M108.75 260.4h0M86.25 259.81h0M90.98 259.81h0M98.64 262.16h0M82.28 259.22h0M99.81 258.04h0M94.07 258.63h0M105.95 259.81h0M101.05 260.4h0M92.3 259.81h0M94.6 258.63h0" stroke="#0084f9" stroke-width="1.36" stroke-linecap="round" fill="none"/>
<path d="M57.95 15.45h0M74.89 41.43h0M98.87 68.14h0M100.32 66.77h0M90.92 69.5h0M98.65 65.4h0M98.19 66.77h0M79.34 66.09h0M82.73 65.4h0M84.85 66.09h0M94.22 66.77h0M81.45 66.77h0M87.22 64.72h0M91.01 68.82h0M84.32 68.82h0M103.21 67.45h0M86.89 69.5h0M90.94 68.14h0M85.65 66.77h0M97.12 68.14h0M82.2 66.77h0M100.9 66.77h0M86.38 65.4h0M83.96 65.4h0M105.12 66.77h0M98.63 68.82h0M107.75 66.77h0M93.45 68.82h0M95.51 68.14h0M86.68 68.14h0M86.04 68.14h0M95.71 64.04h0M87.68 67.45h0M81 68.82h0M86.8 69.5h0M93.2 68.82h0M95.47 65.4h0M99.57 68.14h0M86.15 64.72h0M86.41 64.04h0M89.04 70.18h0M105.09 66.09h0M95.14 68.82h0M92.74 66.09h0M99.72 67.45h0M92.09 68.82h0M75.36 66.09h0M89.06 69.5h0M80.72 67.45h0M106.54 67.45h0M94.36 65.4h0M99.93 68.82h0M104.83 67.45h0M76.31 66.77h0M96.91 68.14h0M90.86 66.09h0M89.58 66.09h0M83.91 66.77h0M92.51 66.77h0M100.27 66.09h0M75.51 66.77h0M91.39 64.04h0M91.24 68.82h0M88.54 64.72h0M90.29 65.4h0M77.01 66.77h0M103.86 67.45h0M101.64 67.45h0M88.62 66.77h0M81.46 66.09h0M78.09 80.7h0M108.51 79.6h0M80.36 78.5h0M67.36 79.6h0M74.84 80.7h0M80.02 80.7h0M69.8 79.6h0M73.11 79.6h0M73.41 79.05h0M77.71 79.6h0M68.01 79.05h0M67.71 80.15h0M81.35 80.15h0M75.67 80.15h0M68.76 80.15h0M70.07 79.6h0M111.21 79.6h0M67.22 80.15h0M80.18 79.05h0M108.51 80.15h0M68.38 79.6h0M74.52 80.15h0M104 100.46h0M101.84 103.25h0M97.46 105.26h0M98.4 106.47h0M99.79 104.05h0M102.63 104.86h0M100.06 107.27h0M109.41 105.26h0M104.81 104.45h0M108.62 105.66h0M100.72 106.07h0M108.78 107.27h0M96.22 105.26h0M110.31 104.45h0M100.66 108.48h0M108.36 104.45h0M104.76 106.47h0M100.59 108.08h0M105.13 106.07h0M104.26 108.08h0M102.78 104.45h0M100.83 105.66h0M104.54 102.44h0M110.2 104.05h0M104.67 107.27h0M105.11 107.68h0M106.05 104.05h0M103.05 102.44h0M109.49 104.86h0M108.03 104.45h0M100.37 107.68h0M107.69 106.87h0M105.37 103.65h0M106.23 106.07h0M104.13 101.64h0M105.24 108.08h0M104.37 101.64h0M109.01 105.66h0M102.97 106.87h0M103.53 108.48h0M107.04 104.86h0M100.69 107.68h0M103.79 107.68h0M100.71 103.25h0M106.25 106.47h0M101.77 104.05h0M102.34 105.26h0M107.53 103.65h0M104.87 105.26h0M100.63 104.86h0M96.18 104.45h0M107.67 105.66h0M100 108.48h0M101.08 107.27h0M104.28 103.25h0M101.8 105.66h0M96.53 105.66h0M102.38 107.27h0M96.81 104.05h0M111.39 105.26h0M106.4 104.45h0M99.34 105.26h0M104.67 102.84h0M99.55 106.07h0M103.4 106.47h0M103.07 104.05h0M98.44 104.86h0M103.99 104.45h0M106.38 109.29h0M104.4 107.68h0M87.21 168.72h0M98.47 169.41h0M92.77 166.65h0M110.76 171.48h0M81.66 169.41h0M93.1 167.34h0M99.62 170.1h0M99.65 166.65h0M96.05 169.41h0M97.57 168.72h0M92.82 168.72h0M86.26 170.1h0M98.77 170.1h0M93.53 171.48h0M104.04 168.72h0M88.56 168.72h0M97.18 169.41h0M80.87 170.1h0M94.11 168.03h0M99.49 170.79h0M81.79 169.41h0M88.63 170.79h0M90.57 170.79h0M89.16 169.41h0M84.15 169.41h0M94.35 168.03h0M110.87 172.86h0M100.72 169.41h0M110.79 169.41h0M90.34 170.1h0M92.74 167.34h0M88.88 170.1h0M82.79 169.41h0M89.84 169.41h0M113.54 172.17h0M99.75 169.41h0M93.26 168.72h0M90.47 168.72h0M136 246.39h0" stroke="#007cf5" stroke-width="1.36" stroke-linecap="round" fill="none"/>
<path d="M64.38 16.13h0M77 17.49h0M85.87 15.45h0M73.29 14.77h0M85.64 14.09h0M72.52 15.45h0M78.28 16.13h0M69.07 15.45h0M61.96 15.45h0M77.74 18.17h0M81.91 16.13h0M79.47 16.13h0M94.76 15.45h0M65.23 15.45h0M84.7 15.45h0M81.55 18.17h0M85.34 13.41h0M63.22 15.45h0M74.37 14.09h0M80.23 16.13h0M80.16 14.77h0M85.17 16.13h0M71.35 28.28h0M80.68 41.75h0M85.97 42.72h0M82.36 42.07h0M85.16 41.11h0M92.26 41.75h0M94.62 41.43h0M92.5 42.39h0M86.24 39.83h0M77.88 41.43h0M81.31 40.79h0M86.66 42.72h0M84.83 42.72h0M89.89 39.83h0M83.15 41.43h0M92.54 40.47h0M82.48 40.47h0M80.14 41.75h0M82.24 40.15h0M92.08 39.83h0M92.23 40.15h0M85.53 40.79h0M76.36 41.11h0M95.99 41.43h0M84.56 41.75h0M96.22 40.79h0M99.94 41.43h0M86.22 42.39h0M93.34 41.11h0M86.48 40.79h0M99.98 40.47h0M99.28 41.43h0M90.34 41.11h0M85.13 39.83h0M79.01 40.79h0M89.35 41.11h0M91.69 41.11h0M79.84 40.79h0M89.63 41.75h0M99.1 52.52h0M104.67 50.75h0M101.02 55h0M102.49 54.65h0M97.08 54.65h0M104.41 57.13h0M104.27 53.59h0M100.41 51.81h0M105.23 56.07h0M99.88 58.54h0M106.24 54.29h0M99.64 58.2h0M103.09 52.88h0M99.84 55.36h0M102.25 56.42h0M105.27 52.88h0M101.69 55.71h0M104.15 53.23h0M103.59 57.49h0M94.88 53.59h0M98.64 56.07h0M104.24 53.94h0M97.09 55h0M97.2 53.94h0M110.51 54.29h0M98.86 52.88h0M104.69 55.71h0M97.35 53.94h0M99.94 55.71h0M103.97 54.65h0M101.83 53.23h0M97.5 54.65h0M104.59 51.81h0M106.71 54.65h0M97.84 52.88h0M106.09 53.23h0M102.6 56.78h0M100.31 53.94h0M102.49 57.13h0M100.99 53.23h0M100.2 51.1h0M104.73 55.36h0M102.53 50.75h0M98.45 53.94h0M98.66 53.23h0M105.52 54.65h0M103.95 56.42h0M101.66 51.46h0M101.1 51.1h0M97.02 53.59h0M99.44 54.65h0M102.56 52.52h0M103.32 55h0M104.04 52.17h0M97.67 53.23h0M100.02 50.75h0M100.84 52.52h0M102.51 57.49h0M99.59 53.23h0M110.34 52.88h0M100.28 52.88h0M102.77 58.2h0M101.35 56.07h0M110.4 53.94h0M96.11 77.4h0M102.97 79.05h0M81.97 79.6h0M84.05 77.95h0M97 79.6h0M101.02 81.25h0M86.15 79.6h0M92.61 78.5h0M87.64 79.05h0M102.33 78.5h0M97.59 79.05h0M93.91 79.6h0M106.49 80.15h0M94.74 80.7h0M100.08 77.95h0M99.27 78.5h0M96.12 79.6h0M103.69 80.7h0M98.34 77.4h0M101.8 78.5h0M102.38 80.15h0M87.55 81.25h0M104.65 78.5h0M86.42 81.25h0M91.07 80.7h0M98.05 79.6h0M90.07 80.15h0M100.76 79.05h0M97.19 81.8h0M100.14 79.05h0M103.43 79.6h0M99.13 81.25h0M90.61 78.5h0M103.9 76.85h0M100.27 76.85h0M101.64 80.7h0M84.21 79.05h0M99.39 79.05h0M107.65 79.6h0M84.02 80.7h0M84.2 81.25h0M83.7 78.5h0M104.66 79.05h0M97.1 78.5h0M97.86 77.4h0M105.48 80.15h0M88.6 79.6h0M102.01 81.25h0M91.82 80.15h0" stroke="#0074f0" stroke-width="1.36" stroke-linecap="round" fill="none"/>
<path d="M93.36 15.45h0M91.11 16.13h0M88.58 16.13h0M89.2 17.49h0M87.28 14.09h0M91.9 16.13h0M87.02 16.13h0M88.68 16.81h0M87.53 12.73h0M87.06 18.85h0M94.89 28.85h0M96.62 26h0M72.07 27.71h0M109.33 28.28h0M102.55 27.71h0M98.37 29.99h0M96.05 27.14h0M91.44 28.28h0M93.46 26.57h0M104.76 27.14h0M72.2 28.28h0M101.6 27.71h0M83.44 28.85h0M100.62 28.28h0M94.04 28.85h0M101.93 30.56h0M93.33 26h0M105.93 27.71h0M88.35 26.57h0M77.36 28.85h0M95.05 29.99h0M80.68 30.56h0M90.73 27.14h0M94.78 27.14h0M82.58 27.14h0M91.59 30.56h0M96.5 30.56h0M103.73 28.85h0M96.79 25.43h0M105.53 27.14h0M85.17 27.14h0M74.68 29.42h0M97.89 26.57h0M98.28 30.56h0M96.48 26.57h0M90.61 27.71h0M80.97 27.14h0M102.01 29.42h0M94.97 30.56h0M93.39 25.43h0M92.22 29.42h0M85.15 27.71h0M101.05 29.42h0M90.22 29.99h0M75.08 27.71h0M98.08 29.99h0M91.46 27.14h0M79.7 28.28h0M87.47 27.71h0M87.05 29.42h0M93.79 29.42h0M89.41 29.42h0M96.32 28.85h0M105.89 29.99h0M89.02 28.28h0M107.81 28.28h0M97.07 28.28h0M89.11 27.14h0M89.43 31.13h0M93.32 28.28h0M79.77 27.14h0M88.14 27.14h0M76.4 29.42h0M90.06 29.99h0M93.34 24.86h0M108.95 28.85h0M95.42 27.71h0M92.95 28.85h0M82.33 27.71h0M88.68 117.45h0M105.55 119.38h0M107.65 115.52h0M105.16 116.8h0M93.97 117.45h0M106.48 117.45h0M107.87 120.66h0M87.93 119.38h0M85.64 118.73h0M100.91 120.66h0M103.05 120.02h0M106.47 113.59h0M105.56 114.88h0M99.67 118.09h0M100.08 119.38h0M91.6 116.8h0M105.87 204.13h0M106.18 211.67h0M99.61 208.28h0M108.66 207.15h0M106.62 209.03h0M104.7 207.15h0M102.91 205.64h0M107.42 208.28h0M105.02 204.51h0M112.8 208.28h0M108.73 210.16h0M105.86 207.52h0M107.05 209.41h0M106.13 210.54h0M99.27 208.28h0M106.7 206.39h0M104.73 209.41h0M110.13 208.28h0M106.37 211.29h0M108.74 206.39h0M109.75 206.39h0M107.47 208.65h0M108.01 210.91h0M102.74 206.39h0M107.84 210.54h0M100.75 207.9h0M108.11 209.41h0M110.01 209.03h0M106.08 210.91h0M102.91 207.15h0M110.79 206.77h0M108.1 207.9h0M98.08 207.9h0M109.45 208.65h0M104.63 210.54h0M105.7 205.26h0M105.34 207.52h0M110.15 209.41h0M102.92 210.91h0M103.77 205.26h0M105.26 210.91h0M105 209.03h0M101.81 205.64h0M109.33 207.52h0M101.94 206.77h0M106.97 207.9h0M107.43 207.52h0M107.43 210.91h0M108.32 205.64h0M106.61 207.15h0M106.75 207.52h0M109.47 208.28h0M109.13 206.02h0M101.86 210.54h0M104.59 211.29h0M104.82 205.26h0M106.1 204.51h0M108.45 208.65h0M110.52 207.9h0M106.98 204.13h0M102.14 207.52h0M107.71 206.77h0M107.75 207.15h0M100.26 206.39h0M104.64 208.28h0M104.97 207.9h0M104.79 206.02h0M109.59 206.02h0" stroke="#236cea" stroke-width="1.36" stroke-linecap="round" fill="none"/>
<path d="M101.25 14.09h0M97.84 14.77h0M105.67 15.45h0M97.94 16.13h0M107.03 15.45h0M103.05 15.45h0M101.91 14.77h0M103.88 15.45h0" stroke="#4b63e3" stroke-width="1.36" stroke-linecap="round" fill="none"/>
<path d="M99.74 91.92h0M89.97 94.96h0M88.46 92.94h0M100.32 93.44h0M88.11 91.92h0M96.03 93.44h0M101.72 92.94h0M105.38 92.43h0M99.05 91.92h0M93.3 92.94h0M93.2 94.96h0M98.26 94.46h0M99.71 92.94h0M97.51 92.43h0M103.51 93.44h0M80.17 92.43h0M80 92.94h0" stroke="#6359da" stroke-width="1.36" stroke-linecap="round" fill="none"/>
<path d="M102.44 167.34h0M109.99 169.41h0M105.89 172.17h0M108.87 168.03h0M115.2 170.79h0M105.45 171.48h0M109.12 169.41h0M104.26 168.03h0M113.85 170.1h0M102.63 168.03h0M101.61 168.03h0M108.1 168.72h0M111.6 170.79h0M105.54 168.03h0M103.43 168.03h0M112.13 168.03h0M102.39 170.1h0M108.72 168.72h0M108.78 170.1h0M108.93 166.65h0M108.22 171.48h0M108.68 171.48h0M105.71 172.86h0M110.16 171.48h0M107.83 171.48h0M107.42 172.17h0M112.05 168.72h0M108.03 169.41h0M112.57 170.79h0M104.8 170.1h0M114.31 168.72h0M111.16 172.17h0M111.56 182.95h0M117.44 181.53h0M111.61 181.53h0M112.87 182.95h0M117.58 184.36h0M117.43 180.83h0M113.07 183.3h0M114.32 182.24h0M117.56 180.12h0M112.21 181.18h0M117.48 182.59h0M112.96 182.59h0M113.19 181.18h0M114.39 182.59h0M112.63 181.53h0M112.12 183.3h0M116.43 182.95h0M114.23 182.95h0M116.73 182.59h0M115.75 183.65h0M116.15 181.18h0M116.69 180.47h0M112.32 181.89h0M115.18 182.59h0M114.16 181.53h0M114.9 181.53h0M111.51 181.89h0M116.24 184.36h0M115.33 181.89h0M117.87 180.83h0M113.76 182.95h0M115.98 182.59h0M111.83 181.53h0M95.06 218.95h0M92.79 222.51h0M99.81 218.95h0M106.18 220.73h0M98.52 225.17h0M108.08 220.73h0M97.91 218.95h0M122.07 258.63h0M127.31 258.63h0M126.87 257.45h0M128.74 258.63h0M123 260.99h0M118.63 259.81h0M126.4 259.81h0M129.07 258.63h0M122.28 263.72h0M122.79 263.72h0M120.85 258.04h0M120.21 260.4h0" stroke="#754fd1" stroke-width="1.36" stroke-linecap="round" fill="none"/>
<path d="M82.69 68.14h0M75.42 67.45h0M91.01 67.45h0M98.55 67.45h0M84.31 67.45h0M84.99 67.45h0M98.27 66.09h0M122.22 196.24h0M120.23 192.74h0M123.81 194.49h0M129.74 193.32h0M128.01 195.07h0M129.69 196.82h0M118.31 194.49h0M123.27 193.9h0M121.28 194.49h0M126.13 191.57h0M131.06 195.07h0M123.94 197.99h0M120.08 191.57h0M122.81 195.07h0M115.1 221.62h0M116.25 221.62h0M115.64 220.73h0M113.39 222.51h0M113.33 219.84h0M115.03 222.51h0M116.33 221.62h0M114.18 220.73h0M113.06 220.73h0M113.43 220.73h0M117.22 221.62h0M115.02 221.62h0M117.43 219.84h0M123.16 245.75h0M118.25 247.66h0M122.66 246.39h0M126.69 245.75h0M124.54 245.75h0M117.51 245.12h0M113.4 246.39h0M117.54 248.93h0M114.47 247.03h0M122.54 247.03h0M120.65 247.03h0M123.65 243.85h0M121.82 243.85h0M120.24 247.66h0M123.35 248.3h0M126.93 244.48h0M121.23 246.39h0M124.53 248.3h0M121.47 248.93h0M125.95 245.75h0M126.83 247.66h0M119.03 241.99h0M131.01 246.39h0M122.34 245.75h0M118.69 244.48h0M128.51 245.75h0M120.36 248.93h0M130.2 245.75h0M115.87 246.39h0M116.8 246.39h0M128.57 245.12h0M126.25 245.12h0M119.7 245.75h0M118 247.03h0M122.88 243.21h0M115.7 247.66h0M121.36 250.79h0M132.86 246.39h0M119.6 248.3h0M121.25 248.93h0M119.36 242.57h0M122.99 250.21h0M120.87 247.03h0M121.03 243.21h0M129.17 247.03h0M126.17 247.66h0M118.8 248.93h0M132.47 245.75h0M132.91 247.66h0M121.03 248.3h0M118.93 249.57h0M120.99 245.12h0M116.29 247.03h0M125.97 244.48h0M121.39 245.12h0M116.67 248.3h0M118.77 248.3h0M120.88 250.21h0M118.05 245.12h0M123.58 249.57h0M125.29 246.39h0M128.84 248.3h0M118.57 247.66h0M123.27 245.12h0M121.47 241.99h0M116.91 245.75h0M115.5 245.75h0M119.15 250.79h0M119.69 246.39h0M131.15 247.03h0" stroke="#8443c6" stroke-width="1.36" stroke-linecap="round" fill="none"/>
<path d="M152.59 13.41h0M115.67 16.13h0M157.72 15.45h0M118.1 16.13h0M140.5 15.45h0M146.05 14.09h0M124.87 18.85h0M150.55 16.81h0M136.53 14.77h0M125.91 13.41h0M109.76 15.45h0M71.86 14.77h0M149.51 16.13h0M118.72 14.77h0M143.72 13.41h0M145.85 16.13h0M77.68 15.45h0M151.86 14.09h0M124.84 17.49h0M143.02 14.09h0M78.35 17.49h0M131.87 18.17h0M147.35 12.05h0M114.12 15.45h0M130.15 12.73h0M135.35 16.81h0M123.13 14.09h0M126.23 15.45h0M123.22 16.13h0M153.48 14.09h0M135.13 14.77h0M156.05 16.13h0M131.2 16.13h0M129.95 14.77h0M80.23 17.49h0M76.98 28.28h0M96.06 29.42h0M95.81 26.57h0M82.41 26.57h0M82.45 26h0M77.68 27.14h0M101.63 28.85h0M93.29 29.42h0M93.39 31.7h0M96.56 27.71h0M97.87 29.42h0M96.52 29.42h0M99.37 29.42h0M98.58 27.71h0M125.74 66.77h0M133.41 64.72h0M129.65 66.09h0M127.88 70.18h0M133.47 65.4h0M128.85 64.72h0M138.75 67.45h0M126.24 69.5h0M127.84 71.55h0M129.97 64.72h0M128.58 65.4h0M129.69 68.14h0M125.87 77.4h0M120.29 77.4h0M127.29 77.4h0M139.4 79.05h0M134.57 76.85h0M131.24 82.35h0M123.7 81.8h0M127.61 79.05h0M135.42 79.05h0M121.74 77.4h0M119.22 79.6h0M135.54 81.8h0M129.28 79.05h0M122.54 77.95h0M108.03 107.27h0M103.74 103.65h0M109.73 104.86h0M135.8 105.66h0M124.58 104.45h0M133.5 105.66h0M133.34 105.26h0M161.48 105.66h0M107.03 107.27h0M102.37 106.07h0M117.92 105.26h0M125.14 106.07h0M103.85 104.05h0M106.38 108.48h0M100.86 109.29h0M158.93 105.26h0M128.65 107.27h0M105.07 103.65h0M123.75 104.86h0M105.38 104.05h0M121.71 106.47h0M114.87 104.86h0M164.79 105.26h0M107.48 104.05h0M103.08 103.65h0M153.82 106.07h0M137.57 104.86h0M103.98 106.07h0M124.72 105.26h0M99.6 117.45h0M109.05 118.73h0M96.66 116.8h0M104.77 118.73h0M100.5 120.02h0M98.56 118.09h0M103.38 116.8h0M99.21 116.16h0M93.95 119.38h0M103.92 117.45h0M106.24 114.23h0M110.1 117.45h0M100.44 114.88h0M105.29 122.59h0M106.58 120.02h0M96.76 116.16h0M106.03 115.52h0M87.28 118.09h0M104.8 121.95h0M102.56 115.52h0M98.01 120.66h0M98.57 116.16h0M106.25 114.88h0M104.96 114.88h0M100.9 120.02h0M101.49 115.52h0M92.83 119.38h0M106.19 116.8h0M96.78 121.3h0M106.27 113.39h0M103.27 117.45h0M106.73 118.73h0M103.76 116.16h0M103.78 119.38h0M101.37 121.3h0M90.56 118.73h0M90.6 118.09h0M104.29 116.8h0M100.57 121.3h0M107.08 120.66h0M99.18 118.09h0M90.63 117.45h0M96.87 114.88h0M93.4 119.38h0M108.48 121.3h0M91.7 118.73h0M107.68 116.16h0M102.18 120.66h0M99.9 115.52h0M99.95 116.16h0M97.25 118.09h0M105.23 114.23h0M108.98 116.8h0M105.3 116.16h0M101.94 119.38h0M106.74 122.59h0M100.8 117.45h0M84 118.73h0M109.35 116.16h0M110.95 117.45h0M99.24 117.45h0M94.01 118.09h0M108.64 114.88h0M103.96 114.88h0M148.79 207.52h0M131.08 207.9h0M144.64 208.28h0M127.33 207.9h0M132.77 207.15h0M134.08 207.52h0M125.98 208.65h0M148.27 207.9h0M125.97 207.15h0" stroke="#9135ba" stroke-width="1.36" stroke-linecap="round" fill="none"/>
<path d="M149.21 27.71h0M144.87 28.28h0M150.58 27.71h0M139.42 28.28h0M129.48 28.85h0M129.93 27.14h0M134.61 29.99h0M130.7 28.28h0M144.85 30.56h0M139.07 30.56h0M126.9 28.28h0M131.42 27.71h0M142.17 31.13h0M137.77 28.85h0M142.94 27.71h0M142.11 26h0M135.14 27.14h0M139.93 27.71h0M135.89 28.28h0M152.57 28.85h0M140.74 27.14h0M158.89 40.47h0M92.13 40.79h0M77.9 41.75h0M162.59 41.43h0M147.44 41.75h0M97.94 41.11h0M77.52 40.79h0M75.99 40.79h0M168.57 42.07h0M143.8 41.75h0M77.13 40.79h0M85.4 43.04h0M93.82 41.11h0M82.59 42.07h0M125.88 170.1h0M127.23 168.03h0M122.61 169.41h0M122.24 166.65h0M124.59 166.65h0M144.29 170.1h0M121.98 170.79h0M143.11 169.41h0M127.81 169.41h0M129.85 169.41h0M106.01 206.39h0M102.1 210.16h0M108.62 210.16h0M103.97 209.03h0M102.7 206.02h0M109.2 209.78h0M105.98 206.02h0M101.63 208.28h0M104.07 206.39h0M103.21 207.15h0M105.74 208.28h0M104.58 206.77h0M110.91 206.02h0M103.26 205.64h0M108.61 204.89h0M111.72 207.52h0M103.48 209.41h0M111.16 208.65h0M110.43 206.77h0M103.14 205.26h0M106.47 207.9h0M127.47 218.95h0M123.81 218.95h0M132.94 222.51h0M143.2 221.62h0M123.05 220.73h0M145.01 221.62h0M119.57 217.18h0M110.93 233.02h0M115.27 237.34h0M115.78 234.64h0M119.99 233.02h0M114.7 229.24h0M119.08 233.56h0M115.09 235.18h0M118.42 233.02h0M114.85 229.78h0M114.27 231.94h0M119.61 233.56h0M116.1 229.78h0M114.75 230.86h0M116.53 237.34h0M118.68 234.1h0M114.98 237.88h0M113.07 234.64h0M116.15 230.32h0M115.69 233.56h0M117.57 233.56h0M116.75 232.48h0M116.75 233.02h0M112.5 233.56h0M115.12 235.72h0M116.12 231.4h0M116.15 236.8h0M114.37 234.1h0M114.9 236.26h0M117.9 232.48h0M104.85 245.75h0M102.24 247.03h0M101.73 245.12h0M78.2 246.39h0M91.64 244.48h0" stroke="#9b23ad" stroke-width="1.36" stroke-linecap="round" fill="none"/>
<path d="M111.47 14.77h0M115.58 14.77h0M113.91 13.41h0M111.77 15.45h0M111.74 16.81h0M103.54 78.5h0M99.25 79.6h0M89.83 79.05h0M95.47 80.7h0M105.85 166.65h0M109.93 168.72h0M103.92 170.1h0M108.15 170.79h0M107.68 172.86h0M105.97 169.41h0M114.57 171.48h0M112.33 182.24h0M113.57 183.65h0M113.59 182.59h0" stroke="#ab15a7" stroke-width="1.36" stroke-linecap="round" fill="none"/>
<path d="M122.61 13.41h0M125.53 14.09h0M122.22 16.13h0M126.21 15.45h0M121.1 13.41h0M118.7 15.45h0M121.74 14.09h0M123.57 13.41h0M124.81 12.05h0M120.08 13.41h0M120.65 17.49h0M117.81 14.09h0M124.98 16.81h0M108.23 53.59h0M91.52 53.94h0M106.2 53.59h0M93.91 55.36h0M92.3 54.65h0M86.99 54.29h0M98.61 51.81h0M91.02 53.23h0M91.08 55h0M95.78 53.23h0M103.13 50.04h0M101.32 57.49h0M109.33 53.23h0M108.06 54.65h0M109.51 54.65h0M109.33 53.59h0M107.63 53.94h0M92.18 55.71h0M107.27 54.65h0M111.75 53.59h0M107.99 52.17h0M99.43 53.59h0M110.66 55h0M106.76 55h0M108.9 52.88h0M93.25 53.59h0M94.51 54.29h0M90.97 52.88h0M107.18 52.88h0M107.33 55h0M93.06 55h0M104.72 57.49h0M112.19 54.29h0M92.64 55.36h0M101.08 51.81h0M107.23 56.07h0M86.92 93.44h0M95.64 93.95h0M83.28 91.92h0M107.89 93.44h0M97.03 93.95h0M108.54 92.94h0M90.59 93.44h0M91.35 91.42h0M83.61 92.94h0M94.15 90.4h0M70.46 93.44h0M98.99 92.94h0M84.98 93.44h0M80.54 93.95h0M98.21 90.91h0M89.86 91.42h0M98.6 91.92h0M93 90.91h0M82.59 92.43h0M91.02 92.43h0M89.37 91.42h0M100.67 92.43h0M77.79 92.43h0M74.17 92.94h0M78.6 91.42h0M101.2 94.46h0M89.58 90.91h0M78.64 91.92h0M104.84 92.94h0M84.1 92.94h0M73.78 92.43h0M100.5 91.42h0M85.59 92.94h0M74.57 91.92h0M87.73 94.96h0M81.59 90.4h0M106.98 92.94h0M93.89 92.94h0M93.22 91.42h0M92.51 93.95h0M82.08 90.91h0M91.1 93.95h0M95.44 91.92h0M72.18 92.43h0M86.4 92.43h0M95.87 92.43h0M93.4 94.46h0M74.69 92.94h0M102.28 92.94h0M97.18 93.44h0M77.12 92.43h0M87.89 93.44h0M71.22 91.92h0M94.36 90.91h0M96.41 92.94h0M101.45 93.95h0M87.52 90.91h0M102.82 91.92h0M89.02 92.43h0M84.08 92.43h0M107.75 91.92h0M90.3 91.92h0M81.25 91.42h0M115.25 218.95h0M112.65 221.62h0M131.85 233.56h0M123.51 233.56h0M128.59 234.64h0M133.52 233.02h0M141.14 234.64h0M135.17 234.64h0M124.79 233.56h0M151.1 234.1h0M125.78 262.75h0M123.11 263.72h0M123.53 256.87h0M116.26 259.22h0M122.35 255.69h0M122.28 260.4h0M126.43 259.22h0M123.23 259.81h0M119.14 257.45h0M119.99 261.57h0M129.92 259.81h0M125.76 256.87h0M121.88 263.34h0M125.29 262.75h0M123.16 255.1h0M129.89 259.22h0M121.98 255.69h0M116.61 258.63h0M131.21 258.63h0M123.65 258.04h0M115.09 258.63h0M126.8 258.63h0M123.3 255.69h0M128.06 260.99h0M118.75 260.4h0M120.44 259.81h0M120.77 259.22h0M127.14 260.4h0M116.27 258.04h0M126.95 259.22h0M130.74 258.63h0M125.27 258.04h0M125.19 257.45h0M123.35 258.63h0M123.04 256.87h0M119.58 259.81h0M117.95 259.81h0M124.26 258.04h0M116.24 260.99h0M121.05 260.4h0M121.46 259.81h0M122.86 256.28h0M122.12 262.75h0M122.82 263.34h0M121.65 262.75h0M122.98 255.69h0M121.56 256.87h0M124.86 258.63h0M121.17 260.99h0M124.35 260.99h0M124 259.81h0M122.79 262.16h0M117.01 260.4h0M122.61 255.1h0M118.51 259.22h0M125.5 262.16h0M117.98 259.22h0M118.5 256.87h0M127.93 259.22h0M122.2 263.34h0M121.89 260.99h0M123.8 261.57h0M120.75 260.4h0" stroke="#bb00a0" stroke-width="1.36" stroke-linecap="round" fill="none"/>
<path d="M133.15 14.09h0M130.64 14.09h0M135.27 14.09h0M137.93 16.13h0M137.68 16.81h0M130.58 17.49h0M127.91 14.77h0M131.49 14.09h0M138.07 16.81h0M130.73 12.05h0M131.77 15.45h0M136.62 11.75h0M134.73 13.41h0M136.87 12.05h0M136.4 15.45h0M130.65 16.13h0M130.98 13.41h0M132.46 16.13h0M137.73 19.15h0M136.44 13.41h0M137.49 14.77h0M132.93 15.45h0M130.38 11.75h0M133.23 15.45h0M129.42 14.09h0M131.61 14.77h0M138.52 105.66h0M138.61 105.26h0M115.68 104.86h0M125.77 105.26h0M121.54 105.66h0M133.29 104.05h0M141.12 106.47h0M117.5 104.86h0M129.64 105.26h0M116.08 104.86h0M125.55 104.86h0M144.95 104.45h0M121.53 104.05h0M134.54 105.26h0M137.69 105.26h0M148.71 104.86h0M133.67 105.66h0M117.98 105.66h0M128.35 104.86h0M121.14 105.66h0M139.84 105.26h0M129.02 105.66h0M119.58 104.86h0M147.19 105.66h0M140.47 105.66h0M137.29 105.26h0M129.91 104.86h0M123.32 105.26h0M144.1 106.47h0M128.4 105.26h0M118.54 104.86h0M128.02 105.66h0M131.33 105.26h0M114.25 105.26h0M144.02 105.26h0M139.65 104.86h0M135.35 105.26h0M143.65 106.07h0M132.14 104.05h0M138.74 106.07h0M132.42 105.26h0M149.45 105.26h0M129.56 104.05h0M129.95 105.66h0M112.57 105.26h0M137.85 104.45h0M118.34 106.07h0M143.04 105.26h0M121.3 104.86h0M143.76 104.45h0M119.04 105.26h0M148.72 105.26h0M125 104.86h0M141.6 105.26h0M128.8 105.66h0M114.86 105.26h0M113.99 104.45h0M132.65 106.47h0M117.52 106.07h0M120.33 192.15h0M123.13 196.24h0M126.27 198.57h0M126.58 195.65h0M127.23 196.24h0M123.08 193.32h0M120.82 192.74h0M121.67 193.9h0M126.86 193.9h0M127.8 193.32h0M118.76 196.24h0M121.85 197.99h0M127.02 195.65h0M125.87 197.99h0M125.35 196.82h0M125.24 191.57h0M121.49 192.15h0M126.12 196.82h0M125.94 194.49h0M119.06 194.49h0M118.58 193.9h0M119.35 196.82h0M129.41 195.07h0M117.54 194.49h0M123.13 190.99h0M119.6 192.74h0M124.23 198.57h0M120.63 196.24h0M123.94 197.4h0M126.06 197.99h0M125.05 192.15h0M122.19 197.99h0M120.4 193.9h0M123.05 198.57h0M127.95 194.49h0M127.21 194.49h0M123.99 192.15h0M129.49 197.99h0M124.46 192.15h0M127.24 195.07h0M118.9 196.24h0M125.07 190.41h0M119.7 195.07h0M131.12 194.49h0M120.58 197.99h0M126.87 192.74h0M125.28 197.99h0M125.72 192.74h0M122.95 195.65h0M118.27 196.24h0M126.51 195.07h0M126.24 199.15h0M122.23 193.32h0M117.35 195.07h0M127.49 193.9h0M129.51 195.65h0M125.07 195.07h0M126.14 193.32h0M119.89 193.32h0M127.47 194.49h0M124.67 196.82h0M121.92 192.74h0M121.97 197.4h0M124.42 197.99h0M125.63 196.82h0M129.64 192.74h0M117.67 193.9h0M121.63 193.32h0M121.01 196.24h0M122.46 198.57h0M124.28 196.24h0M125.94 190.99h0M124.29 195.07h0M121.14 190.41h0M129.88 193.9h0M129.95 194.49h0M120.02 195.07h0M125.91 193.9h0M118.72 196.82h0M119.84 196.24h0M119.01 195.65h0M129.32 193.9h0M126.53 197.4h0M124.57 193.9h0M123.78 192.74h0M123.42 192.15h0M128.16 192.74h0" stroke="#c80098" stroke-width="1.36" stroke-linecap="round" fill="none"/>
<path d="M143.01 17.49h0M139.01 16.81h0M142.21 17.49h0M146.85 16.13h0M145.79 13.41h0M145.36 14.09h0M145.88 15.45h0M142.07 14.77h0M138.53 14.09h0M142.87 16.13h0M141.41 16.13h0M148.26 15.45h0M145.56 15.45h0M140.15 13.41h0M143.06 14.77h0M139.98 17.49h0M146.66 14.77h0M147.87 16.81h0M141.53 13.41h0M117.27 66.77h0M130.53 70.87h0M132.27 65.4h0M133.47 70.87h0M126.36 65.4h0M133.47 64.04h0M124.16 66.77h0M123.2 64.72h0M125.77 67.45h0M136.3 66.77h0M140.01 64.72h0M134.09 69.5h0M126.18 63.36h0M134.47 66.77h0M127.61 66.09h0M132.38 64.04h0M128.22 70.87h0M120.69 66.77h0M124.01 69.5h0M125.94 64.04h0M133.74 67.45h0M134.45 67.45h0M140.48 68.14h0M125.49 65.4h0M128.14 66.77h0M137.93 66.77h0M125.75 64.04h0M127.81 70.87h0M132.39 69.5h0M130.95 70.18h0M134.77 65.4h0M135.14 69.5h0M124.66 68.82h0M123.44 65.4h0M124.16 68.14h0M118.45 64.72h0M126.47 64.72h0M134.73 67.45h0M130.36 63.36h0M132.67 63.36h0M141.32 67.45h0M143.27 68.14h0M125.3 68.82h0M136.79 64.72h0M125.43 70.87h0M127.92 69.5h0M131.61 70.18h0M132.35 64.72h0M121.93 67.45h0M132.11 66.09h0M130.92 65.4h0M125.13 66.77h0M136.57 68.82h0M136.02 66.09h0M125.98 68.82h0M133.85 66.09h0M124.04 66.09h0M138.62 66.09h0M128.65 68.82h0M122.85 70.87h0M118.46 65.4h0M140.67 67.45h0M124.32 68.82h0M136.03 209.78h0M149.48 208.28h0M147.92 207.15h0M143.12 208.28h0M129.62 208.28h0M136.08 209.41h0M145.32 208.28h0M126.47 208.28h0M127.88 207.9h0M141.57 207.9h0M150.57 208.65h0M129.14 206.39h0M151.75 207.52h0M133.75 206.39h0M136.57 207.9h0M135.52 207.15h0M125.5 209.41h0M141.54 208.65h0M140.15 207.52h0M142.58 207.52h0M133.35 209.41h0M130.83 206.39h0M134.17 209.78h0M137.97 208.65h0M134.84 206.77h0M136.51 210.16h0M137.13 207.52h0M132 207.15h0M133.19 206.77h0M132.76 206.39h0M130.07 205.64h0M135.77 207.52h0M126.64 207.15h0M137.76 207.15h0M130.1 206.77h0M148.44 208.65h0M135.99 209.03h0M129.75 207.9h0M127.46 208.65h0M129 206.77h0M148.63 208.65h0M132.85 208.28h0M140.32 209.41h0M134.05 209.41h0M131.47 208.65h0M147.43 208.28h0M133.71 206.02h0M124.18 208.28h0M125.1 207.52h0M137.66 208.28h0M126.82 207.52h0M151.62 208.28h0M144.11 207.52h0M125.41 209.03h0M132.38 207.9h0M151.2 207.9h0M138.11 206.77h0M136.96 209.41h0M124.3 208.65h0M134.12 207.15h0M139.44 208.28h0M130.92 207.9h0M137.16 208.65h0M143.08 207.9h0M135.5 207.9h0M136.34 207.15h0M133.32 209.03h0M128.25 209.03h0M131.15 209.78h0M131.41 206.39h0M138.39 208.28h0M130.9 207.15h0M134.5 209.03h0M146.09 207.52h0M150.46 207.52h0M129.83 209.41h0M130.29 210.16h0M124.6 207.52h0M115.69 244.48h0M134.08 246.39h0M130.27 247.66h0M121.24 247.66h0M122.79 247.66h0M126.44 247.03h0M125.1 245.75h0M125.51 247.03h0M120.07 248.93h0M126.18 248.93h0M126.97 246.39h0" stroke="#d5008f" stroke-width="1.36" stroke-linecap="round" fill="none"/>
<path d="M153.48 17.49h0M159.64 14.77h0M154.35 16.81h0M152.61 17.49h0M157.16 16.13h0M149.34 16.81h0M154.02 16.13h0M159.58 16.13h0M151.26 12.73h0M149.27 14.77h0M149.84 15.45h0M156.83 15.45h0M159.2 15.45h0M150.42 17.49h0M152.45 15.45h0M154.7 17.49h0M154.74 15.45h0M146.87 29.42h0M153.92 27.71h0M146.8 31.13h0M141.71 27.14h0M142.43 29.99h0M150.09 29.42h0M133.48 27.14h0M152.81 29.99h0M149.77 30.56h0M135.17 29.42h0M142.62 26.57h0M131.99 28.28h0M133.75 28.85h0M145.54 24.86h0M145.86 31.13h0M140.78 29.42h0M147.3 28.85h0M147.82 26h0M146.47 27.14h0M130.44 28.28h0M144.7 27.71h0M133.8 27.71h0M136.6 27.71h0M134.44 27.14h0M133.85 28.28h0M140.02 29.42h0M133.01 27.14h0M125.13 28.85h0M145.02 29.42h0M142.26 27.71h0M141.72 25.43h0M143.48 26h0M146.8 30.56h0M137.88 30.56h0M130.67 29.99h0M149.35 25.43h0M138.08 26h0M135.18 30.56h0M150.94 29.99h0M143.64 29.42h0M147.9 28.28h0M135.13 28.85h0M151.52 30.56h0M146.98 27.71h0M145.9 27.71h0M151.23 28.28h0M129.46 29.99h0M145.74 28.28h0M150.77 29.42h0M131.97 28.85h0M140.27 29.99h0M133.69 29.99h0M137.07 29.99h0M134.4 27.71h0M152.67 27.14h0M148.64 26h0M142.99 28.85h0M150.78 26.57h0M130.02 29.42h0M149.15 28.85h0M139.16 28.85h0M127.69 27.71h0M139.59 28.85h0M149.96 29.99h0M141.33 29.42h0M148.1 32.18h0M148.25 29.42h0M126.91 41.11h0M142.29 42.39h0M137.34 41.11h0M128.47 41.43h0M135.53 41.75h0M138.61 41.43h0M141.32 40.79h0M139.05 40.47h0M141.34 40.47h0M132.38 41.43h0M133.5 42.07h0M130.55 41.75h0M129.29 40.15h0M131.49 41.11h0M139.24 41.75h0M126.02 40.79h0M133.76 40.79h0M134.45 41.11h0M137.03 42.07h0M132.61 40.79h0M135.29 41.11h0M130.08 40.47h0M139.81 41.43h0M125.69 41.43h0M139.47 41.75h0M128.19 40.79h0M141.1 41.11h0M134.46 40.79h0M140.21 40.79h0M131.87 41.75h0M128.5 41.75h0M126.22 41.75h0M119.6 80.7h0M122.53 77.4h0M128.44 77.95h0M129.27 82.89h0M121.97 77.4h0M117.7 79.05h0M119.51 77.95h0M126.9 77.95h0M132.9 78.5h0M133.59 80.15h0M115.45 80.7h0M126.37 82.89h0M129.72 81.25h0M117.81 80.7h0M125.39 81.25h0M124.15 80.15h0M124.53 78.5h0M129.01 80.7h0M133.02 81.25h0M124.6 76.85h0M126.16 80.15h0M129.99 82.35h0M130.59 79.6h0M126.93 81.25h0M139.76 80.7h0M137.24 80.7h0M136.2 77.95h0M129.26 76.85h0M137.12 80.15h0M138.43 79.6h0M119.69 81.25h0M126.54 77.4h0M117.6 79.6h0M121.74 79.05h0M134 79.6h0M123.75 76.85h0M123.59 77.4h0M118.12 79.6h0M130.52 80.15h0M129.57 80.7h0M131.07 77.95h0M130.7 79.05h0M117.71 80.15h0M129.69 82.89h0M124.64 81.8h0M132.08 80.7h0M126 82.35h0M114.49 79.05h0M127.74 82.35h0M126.98 81.8h0M129.59 79.6h0M120.07 79.6h0M122.26 81.8h0M124.53 82.35h0M133.71 79.05h0M129.68 76.31h0M120.07 80.15h0M123.69 79.05h0M133.36 81.25h0M127.18 76.31h0M130.96 79.6h0M140.53 170.1h0M138.89 168.72h0M127.06 167.34h0M135.68 170.79h0M129.02 170.1h0M126.74 168.03h0M133.91 171.48h0M120.62 172.17h0M142.43 170.79h0M144.52 169.41h0M121.27 169.41h0M123.05 170.1h0M124.16 173.54h0M125.68 168.03h0M127.82 168.72h0M122.22 170.1h0M117.96 168.72h0M122.83 168.72h0M136.15 168.72h0M134.48 171.48h0M119.28 169.41h0M132.5 170.79h0M119.81 171.48h0M121.92 168.03h0M138.5 169.41h0M123.25 168.03h0M142.51 169.41h0M142.11 170.1h0M133.71 168.72h0M134.73 168.72h0M120.59 167.34h0M141.4 169.41h0M125.85 168.03h0M119.49 170.79h0M123.43 168.72h0M129.62 170.1h0M133.58 170.79h0M122.42 167.34h0M139.03 170.79h0M122.08 172.17h0M124.17 172.86h0M127.17 171.48h0M132.06 168.72h0M123.14 172.17h0M126.08 171.48h0M141.73 168.72h0M126.1 168.72h0M143.94 169.41h0M135.43 170.79h0M124.4 168.03h0M126.8 172.17h0M142.2 168.03h0M124.82 168.72h0M142.41 170.1h0M138.47 167.34h0M125.86 170.79h0M120.22 170.79h0M130.58 169.41h0M120.74 169.41h0M135.4 170.1h0M143.84 170.1h0M134.85 170.79h0M134.49 168.03h0M133.82 168.03h0" stroke="#e00086" stroke-width="1.36" stroke-linecap="round" fill="none"/>
<path d="M166.05 15.45h0M160.46 16.81h0M166.02 16.13h0M161.43 15.45h0M164.92 16.13h0M164.23 14.09h0M160.48 14.77h0M161.16 14.77h0M168.05 41.75h0M156.66 40.79h0M165.15 41.75h0M157.69 40.79h0M157.93 42.39h0M167.32 41.43h0M147.09 42.07h0M158.13 41.75h0M145.5 41.75h0M161.23 40.47h0M144.79 41.43h0M168.53 40.15h0M145.2 41.11h0M143.37 41.43h0M148.36 40.47h0M157.19 41.11h0M151.09 42.07h0M164.47 41.75h0M154.93 41.11h0M145.57 41.11h0M156.61 41.43h0M158.42 40.47h0M164.44 40.79h0M147.36 41.11h0M165.29 40.79h0M149.69 41.11h0M159.25 42.39h0M151.06 41.11h0M158.19 41.43h0M154.18 41.75h0M160.17 41.43h0M166.55 41.75h0M169.74 41.43h0M163.16 41.43h0M149.08 41.43h0M155.06 41.75h0M164.74 41.43h0M169.23 41.11h0M156.26 41.11h0M148.9 40.79h0M151.05 105.66h0M155.46 104.86h0M152.06 104.86h0M150.8 105.26h0M153.01 105.26h0M75.83 182.24h0M68.86 182.95h0M72.6 181.89h0M85.17 182.95h0M72.1 182.59h0M71.53 183.3h0M59.89 182.59h0M63.26 182.59h0M68.68 181.89h0M91.71 181.53h0M63.08 181.89h0M71.07 182.59h0M82.37 181.89h0M90.69 181.53h0M88.44 182.59h0M87.45 181.53h0M86.61 182.24h0M91.2 182.24h0M85.81 182.59h0M62.46 182.24h0M91.9 181.89h0M72.69 182.59h0M78.04 182.24h0M91.07 182.95h0M69.79 182.95h0M74.51 182.95h0M70.22 181.89h0M72.24 183.3h0M84.18 182.95h0M89.73 182.24h0M82.21 182.24h0M86.48 182.95h0M93.05 181.89h0M88.79 181.89h0M92.78 181.89h0M61.23 182.59h0M79.07 181.89h0M88.46 181.89h0M84.96 181.18h0M71.47 181.53h0M77.34 182.24h0M78.77 181.18h0M80.7 181.89h0M88.06 182.24h0M74.32 182.24h0M74.88 182.59h0M89.31 182.59h0M76.17 182.59h0M64.8 182.24h0M79.3 182.95h0M69.44 182.24h0M87.58 181.89h0M72.39 181.53h0M72.84 182.24h0M80.2 182.59h0M71.77 182.24h0M81 182.59h0M92.16 182.59h0M65.54 182.24h0M62.61 182.95h0M92.54 182.95h0M130.48 224.28h0M144.68 219.84h0M120.32 217.18h0M132.79 218.95h0M121.64 223.39h0M121.37 217.18h0M134.02 220.73h0M124.55 221.62h0M131.15 220.73h0M126.12 220.73h0M128.15 220.73h0M122.57 221.62h0M124.25 218.95h0M131.64 221.62h0M132.1 218.95h0M120.28 219.84h0M122.59 221.62h0M120.18 225.17h0M130.95 221.62h0M127.88 221.62h0M122.91 225.17h0M140.11 219.84h0M135.64 222.51h0M122.36 222.51h0M127.62 224.28h0M129.26 219.84h0M131.8 218.95h0M124.52 219.84h0M129.53 221.62h0M125.71 221.62h0M131.61 219.84h0M124.88 216.29h0M121.84 219.84h0M125.87 223.39h0M132.57 220.73h0M123.95 220.73h0M130.18 218.95h0M144.37 220.73h0M136.6 222.51h0M140.32 220.73h0M137.49 220.73h0M124.51 225.63h0M124.87 218.07h0M146.08 221.62h0M128.34 218.95h0M143.41 220.73h0M128.56 218.07h0M130.31 222.51h0M128.56 221.62h0M145.47 221.62h0M129.06 217.18h0M99.31 247.66h0M88.43 248.93h0M93.98 244.48h0M89.49 247.66h0M103.68 246.39h0M97.38 246.39h0M84.93 247.66h0M100.49 247.66h0M104 244.48h0M100.52 246.39h0M83.18 245.75h0M96.09 247.03h0M94.47 245.12h0M99.54 250.21h0M99.06 247.03h0M107.14 245.75h0M95.68 247.03h0M105.41 247.66h0M79.82 247.03h0M86.11 245.75h0M93.44 247.66h0M94.68 246.39h0M88.52 246.39h0M103.61 247.03h0M80.54 247.03h0M102.2 248.3h0M98.73 245.12h0M110.86 247.03h0M94.89 247.66h0M93.45 245.75h0M109.48 244.48h0M105.47 247.03h0M96.41 247.66h0M86.6 247.03h0M96.96 245.75h0M102.05 248.3h0M93.61 247.66h0M107.51 248.3h0M89.96 247.03h0M94.13 245.75h0M101.96 247.03h0M87.15 245.75h0M96.61 243.85h0M78.3 247.03h0M91.47 245.12h0M110.21 245.75h0M109.66 248.3h0M89.97 245.12h0M98.33 246.39h0M102.84 247.03h0M99.81 249.57h0M99.39 248.93h0M91.72 243.85h0M94.2 247.03h0M90.67 247.66h0M86.54 246.39h0M84.25 246.39h0M85.5 246.39h0M106.23 247.03h0M104.33 245.75h0M92.67 246.39h0M91.99 247.66h0M88.31 243.85h0M90.71 248.3h0M102.08 245.75h0M93.17 244.48h0M86.95 247.66h0M83.56 247.03h0M100.77 244.48h0M99.8 243.85h0M95.96 245.75h0M96.55 248.3h0M94.31 248.3h0M109.68 245.12h0M109.8 247.66h0M88.05 244.48h0M101.31 245.75h0M94.67 246.39h0" stroke="#e9007c" stroke-width="1.36" stroke-linecap="round" fill="none"/>
<path d="M149.57 54.65h0M141.43 54.65h0M160.42 53.59h0M155.53 53.23h0M145.64 53.59h0M159.88 54.29h0M142.11 53.59h0M167.03 53.59h0M139.86 54.29h0M151.9 54.65h0M154.06 54.29h0M157.84 54.29h0M148.52 52.88h0M144.58 55h0M152.99 53.59h0M155.13 53.94h0M155.5 54.65h0M163.84 53.23h0M159.37 54.65h0M146.54 53.94h0M152.2 55.36h0M156.12 55.36h0M158.44 53.94h0M139.49 53.59h0M157.65 53.23h0M158.43 54.65h0M157.06 54.65h0M142.21 53.94h0M151.31 53.94h0M142.07 54.29h0M143.67 52.88h0M139.06 53.94h0M162.6 53.23h0M150.25 54.29h0M157.3 53.59h0M157.76 53.23h0M142.92 53.23h0M143.06 54.29h0M162.58 105.26h0M158.09 104.86h0M157.39 105.66h0M161.19 105.26h0M163.27 105.26h0M163.75 104.86h0M163.93 105.66h0M161.17 104.86h0M156.95 105.26h0M165.98 105.66h0M156.43 105.26h0M160.06 104.86h0M163.89 105.26h0M164.43 105.66h0M162.62 105.66h0M161.72 104.86h0M57.87 182.24h0" stroke="#f20072" stroke-width="1.36" stroke-linecap="round" fill="none"/>
<path d="M192.85 53.94h0M189.91 53.94h0M184.16 53.94h0M178.96 53.23h0M185.18 53.23h0M186.44 54.29h0M173.19 54.65h0M180.84 55h0M180.57 53.59h0M185.88 54.65h0M175.5 54.65h0M182.11 53.23h0M185.28 52.52h0M179.65 53.94h0M191.06 55h0M170.09 54.29h0M181.55 53.94h0M170.95 53.94h0M185.75 52.88h0M183.43 54.29h0M181.06 54.65h0M170.77 53.23h0M176.59 53.23h0M138.17 53.94h0M176.42 54.29h0M174.58 53.94h0M192.93 54.29h0M138.46 54.65h0M191.35 53.94h0M174.94 52.88h0M175.46 55.36h0M173 53.23h0M181.89 53.59h0M193.45 53.59h0M187.13 53.94h0M190.36 54.65h0M178.72 53.94h0M190.28 54.29h0M179.16 53.59h0M181.94 55h0M193.2 53.59h0M170.84 54.29h0M193.8 53.94h0M189.4 54.29h0M177.9 53.59h0M178.94 54.65h0M95.99 92.94h0M101.69 90.91h0M90.88 91.42h0M101.29 90.4h0M72.47 92.94h0M81.86 93.95h0M84.82 93.44h0M102.32 90.4h0M88.89 91.42h0M169.32 105.26h0M168.89 104.86h0M166.62 106.47h0M168.38 106.07h0M170.11 105.66h0M106.3 116.16h0M110.58 118.09h0M108.3 118.09h0M87.64 118.73h0M84.13 118.09h0M100.33 118.73h0M94.9 118.09h0M104.43 117.45h0M106.59 118.09h0M107.11 121.3h0M92.01 120.02h0M93.5 117.45h0M101.46 120.66h0M92.15 182.24h0M155.48 234.1h0M141.09 233.56h0M140.67 233.02h0M145.45 234.1h0M145.47 233.56h0M122.09 233.56h0M149.02 234.64h0M137.92 233.56h0M131.3 234.1h0M149.85 233.02h0M138.94 231.94h0M136.75 234.1h0M134.43 233.56h0M143.35 233.56h0M127.09 234.64h0M129.1 235.72h0M143.53 233.02h0M154.22 233.02h0M143.08 234.64h0M143.99 234.64h0M121.34 233.56h0M133.65 233.56h0M155.92 235.18h0M127.34 234.1h0M140.37 233.02h0M138.36 233.02h0M143.76 234.1h0M146.68 233.02h0M157.44 233.56h0M138.63 233.56h0M156.39 233.56h0M156.81 234.1h0M137.3 234.64h0M148.85 231.94h0M139 235.72h0M153.51 233.56h0M132.5 234.1h0M130.37 234.1h0M134.55 233.02h0M150.68 233.02h0M150.08 233.56h0M134.75 235.18h0M133.46 234.64h0M157.7 234.1h0M142.01 233.02h0M126.02 233.56h0M134 234.1h0M155.01 234.1h0M147.51 233.02h0M124.77 234.1h0M130.99 234.64h0M151.46 233.56h0M150.49 233.56h0M121.55 259.22h0M117.3 260.99h0M121.29 261.57h0M126.31 260.4h0M117.85 257.45h0M116.15 258.63h0" stroke="#f90067" stroke-width="1.36" stroke-linecap="round" fill="none"/>
<path d="M131.95 12.73h0M145.38 16.81h0M153.13 12.73h0M153.2 13.41h0M149.29 16.81h0M122.56 14.77h0M126.22 14.77h0M126.22 16.81h0M139.39 26.57h0M138.84 27.14h0M125.15 27.71h0M150.69 28.85h0M146.64 29.99h0M145.86 28.85h0M129.27 66.09h0M128.79 66.09h0M128.13 70.18h0M119.15 67.45h0M136.97 66.09h0M137.08 67.45h0M136.43 69.5h0M124.2 64.04h0M143.87 66.09h0M127.9 63.36h0M123.99 70.18h0M127.39 64.72h0M136.51 64.72h0M118.49 67.45h0M128.22 81.25h0M131.45 79.05h0M132.94 80.7h0M120.37 81.8h0M133.72 80.7h0M134.25 79.05h0M126.35 78.5h0M125.55 80.15h0M130.32 170.1h0M122.08 169.41h0M123.22 169.41h0M127.53 170.79h0M135.43 167.34h0M124.5 170.1h0M138.17 170.79h0M124.29 194.49h0M125.04 190.99h0M117.8 196.82h0M127.35 197.99h0M118.52 197.4h0M126.23 196.24h0M129.2 195.65h0M120.58 194.49h0M123.68 196.24h0M120.07 196.24h0M117.2 195.65h0M128.54 194.49h0M122.56 192.74h0" stroke="#fe005c" stroke-width="1.36" stroke-linecap="round" fill="none"/>
<path d="M109.47 134.39h0M107.57 128.32h0M99.17 130.05h0M100.13 127.45h0M103.16 133.52h0M104.99 133.52h0M111.14 130.92h0M94.35 130.05h0M94.06 131.79h0M98.74 129.19h0M109.59 127.45h0M104.54 134.39h0M102.48 129.19h0M103.03 128.32h0M105.5 130.05h0M110.63 130.92h0M92.31 132.65h0M109.3 132.65h0M103.22 132.65h0M101.63 131.79h0M94.9 131.79h0M103.86 129.19h0M101.83 126.59h0M102.35 126.59h0M103.71 133.52h0M106.04 133.52h0M99.38 130.92h0M108.75 132.65h0M98.58 131.79h0M97.21 130.05h0M94.27 129.19h0M100.91 129.19h0M109.77 129.19h0M100.75 126.59h0M102.18 135.82h0M91.31 130.92h0M97.13 129.19h0M101.87 126.02h0M93.44 130.05h0M93.75 130.92h0M88.48 131.79h0M106.64 135.25h0M98.11 128.32h0M97.6 128.32h0M103.4 130.92h0M95.97 130.92h0M104.84 130.92h0M101.14 133.52h0M92.68 130.92h0M102.62 130.05h0M110.32 129.19h0M87.76 130.92h0M108.94 130.92h0M98.1 134.39h0M104.95 130.05h0M106.21 131.79h0M109.57 133.52h0M99.53 129.19h0M93.22 131.79h0M108.46 130.05h0M102.32 133.52h0M103.04 131.79h0M97.95 133.52h0M104.59 131.79h0M103.65 127.45h0M100 126.59h0M108.72 130.05h0M102.01 134.39h0M93.15 129.19h0M101.69 130.05h0M101.56 128.32h0M98.41 133.52h0M99.09 132.65h0M102.17 135.82h0M97.41 131.79h0M106.19 134.39h0M90.01 130.92h0M98.58 129.19h0M104.29 128.32h0M98.1 127.45h0M102.19 130.92h0M99.4 131.79h0M110.36 132.65h0M98.19 135.25h0M90.74 131.79h0M94.47 130.92h0M101.12 134.39h0M95.72 131.79h0M108.22 130.92h0M103.8 130.92h0M106.01 130.92h0M106.61 133.52h0M103 130.92h0M99.08 131.79h0M106.45 132.65h0M95.24 130.05h0M106.47 126.59h0M102.24 131.79h0M105.19 132.65h0M107.32 133.52h0M111.45 130.92h0M91.14 131.79h0M110.56 131.79h0M97.97 129.19h0M108.52 128.32h0M102.47 144.48h0M106.37 145.95h0M102.45 143.75h0M108.55 145.95h0M111.43 143.75h0M105.51 141.55h0M101.71 142.28h0M104.7 145.95h0M107.51 145.22h0M96.83 144.48h0M104.3 147.41h0M92.53 143.75h0M101.37 140.82h0M97.43 147.41h0M105.93 140.82h0M99.05 142.28h0M107.64 143.75h0M99.52 140.09h0M92.15 143.75h0M104.23 140.82h0M101.49 146.68h0M104.02 148.05h0M105.32 145.22h0M107.74 140.82h0M107.19 143.02h0M98.8 147.41h0M106.71 147.41h0M100 141.55h0M107.7 144.48h0M103.07 145.22h0M96.03 144.48h0M109.4 143.02h0M96.76 144.48h0M101.86 140.82h0M103.4 143.75h0M92.99 144.48h0M100.84 146.68h0M102.38 146.68h0M97.47 144.48h0M105.16 140.82h0M105.36 143.02h0M97.45 142.28h0M104.39 148.05h0M105.82 148.05h0M98.83 145.22h0M109.64 145.95h0M110.44 143.75h0M97.28 141.55h0M99.26 141.55h0M106.52 142.28h0M103.64 142.28h0M97.13 142.28h0M105.6 140.82h0M103.98 147.41h0M99.24 146.68h0M106.28 143.02h0M107.92 145.22h0M108.2 143.75h0M103.82 143.02h0M103.19 142.28h0M107.83 144.48h0M105.93 142.28h0M99.69 146.68h0M108.98 144.48h0M107.97 142.28h0M95.39 143.02h0M105.19 141.55h0M109.14 145.22h0M93.64 145.22h0M108.32 141.55h0M98.78 143.02h0M107.38 146.68h0M100.59 146.68h0M107.41 145.95h0M100.03 145.22h0M110.13 143.02h0M105.78 143.75h0M111.25 144.48h0M94.66 144.48h0M108.26 145.95h0M101.19 141.55h0M100.27 145.95h0M96.29 143.02h0M101.04 145.95h0M106.8 144.48h0M96.42 145.95h0M105.41 147.41h0M104.47 139.45h0M108.73 146.68h0M100.74 143.02h0M99.34 147.41h0M105.45 146.68h0M98.04 144.48h0M103.96 145.95h0M100.88 142.28h0M98.52 142.28h0M106.12 146.68h0M103.84 156.58h0M98.47 155.48h0M103.91 157.68h0M95.83 158.22h0M101.51 155.48h0M102.2 158.22h0M98.83 157.13h0M100.24 153.84h0M100.29 157.68h0M105.24 158.77h0M102.72 158.77h0M106.72 156.03h0M96.37 156.58h0M92.24 157.13h0M96.29 157.13h0M87.73 156.58h0M100.63 159.87h0M101.23 158.77h0M88.32 156.03h0M91.92 156.03h0M100.61 154.39h0M103.24 154.94h0M96.96 159.32h0M97.09 158.77h0M93.51 156.58h0M100.46 158.77h0M109.66 156.03h0M100.82 159.87h0M102.74 156.03h0M110.65 157.13h0M102.29 156.03h0M108.98 155.48h0M101.68 153.84h0M99.46 157.68h0M109.86 157.13h0M94.09 156.58h0M91.24 155.48h0M105.09 157.68h0M101.97 157.68h0M99.79 156.03h0M103.92 154.94h0M102.16 154.39h0M109.42 157.13h0M101.82 156.03h0M104.5 156.03h0M92.91 156.58h0M108.84 156.03h0M95.54 157.68h0M109.94 156.58h0M104.26 157.68h0M98.24 157.13h0M94.96 158.22h0M95.84 154.94h0M95.38 156.58h0M107.57 156.58h0M89.78 156.58h0M87.85 156.58h0M97.71 157.68h0M99.14 154.39h0M95.34 157.13h0M98.56 157.13h0M100.83 154.94h0M101.53 156.58h0M100.62 159.32h0M97.5 159.32h0M87.27 156.58h0M104.56 157.13h0M94.52 157.68h0M93.73 157.13h0M96.28 158.22h0M108.16 157.13h0M103.39 156.03h0M101.3 154.39h0M98.95 157.68h0M100.12 157.13h0M92.33 157.13h0M97.75 160.41h0M105.51 157.68h0M91.15 157.68h0M91.54 156.03h0M108.99 156.58h0M99.36 154.94h0M100.75 153.29h0M108.83 157.13h0M98.91 156.03h0M106.4 156.03h0M95.21 155.48h0M110.7 156.58h0M100.86 160.41h0M100 156.58h0M106.38 157.13h0M135.15 219.84h0M125.16 222.51h0M134.61 221.62h0M123.15 218.07h0M129.39 224.28h0M126 221.62h0M121.66 221.62h0M123.01 216.29h0M119.1 223.39h0M134.24 218.95h0M119.81 225.17h0M131.88 222.51h0M123.53 223.39h0M131.63 223.39h0M127.28 224.28h0M131.63 218.07h0M126.2 225.17h0M136.72 218.95h0" stroke="#ff0051" stroke-width="1.36" stroke-linecap="round" fill="none"/>
<path d="M82.31 14.77h0M69.82 16.81h0M60.7 15.45h0M74.4 14.77h0M67.4 16.81h0M93.41 79.6h0M86.41 80.15h0M103.87 81.8h0M99.18 80.15h0M98.79 77.95h0M89.1 79.6h0M103.7 81.25h0M115.97 247.03h0M115.05 246.39h0M119.56 245.12h0M126.87 248.93h0M124.07 245.12h0M121.31 248.3h0M128.38 247.03h0M121.53 241.99h0M117.45 247.66h0M119.21 247.66h0M115.71 248.93h0M114.97 245.12h0M128.23 247.66h0M125.77 245.75h0" stroke="#008bfb" stroke-width="1.36" stroke-linecap="round" fill="none"/>
<path d="M55.79 15.45h0M56.24 15.45h0M103.87 45.28h0M105.65 43.68h0M100.37 40.15h0M102.99 45.81h0M107.75 42.39h0M103.26 37.58h0M107.02 40.79h0M100.49 40.79h0M100.34 41.11h0M104.93 40.15h0M103.54 40.15h0M104.04 42.72h0M103.96 41.11h0M107.06 43.04h0M104.37 40.15h0M104.43 39.5h0M103.75 43.36h0M107.19 43.36h0M102.27 40.15h0M108.02 41.75h0M104.34 40.79h0M101.97 39.18h0M103.31 45.81h0M102.61 40.79h0M105.34 39.83h0M102.78 36.61h0M105.81 42.39h0M103.06 44h0M104.27 37.9h0M104.09 39.83h0M102.74 39.5h0M104.46 44.64h0M104.16 37.58h0M102 41.11h0M108.04 40.79h0M106.43 38.22h0M101.09 42.72h0M101.35 40.15h0M106.17 41.11h0M106.44 39.5h0M107.53 40.47h0M108.19 41.11h0M104.58 41.75h0M103.27 37.26h0M106.52 40.79h0M105.2 38.86h0M101.96 40.47h0M102.99 41.11h0M106.32 39.83h0M103.39 40.47h0M119.79 94.46h0M133.01 92.94h0M129.78 91.42h0M124.56 89.9h0M117.39 92.43h0M123.32 93.44h0M121.31 90.4h0M123.81 90.91h0M126.23 92.94h0M131.78 91.42h0M119.74 92.94h0M140.6 92.43h0M133.09 91.92h0M121.86 93.95h0M118.63 93.44h0M118.21 94.46h0M124.39 93.95h0M116.99 92.94h0M129.72 92.43h0M125.43 92.94h0M125.99 90.91h0M136.7 91.92h0M118.17 91.42h0M118.23 92.94h0M125.21 94.96h0M115.52 92.43h0M128.67 95.98h0M129.31 92.43h0M122.47 91.92h0M119.23 93.95h0M131.29 91.92h0M123.42 91.92h0M128.93 91.42h0M126.85 89.39h0M125.5 91.42h0M118.89 92.43h0M123.55 90.4h0M126.94 93.44h0M129.34 91.92h0M126.05 94.96h0M120.85 92.94h0M113.79 92.94h0M121.81 93.44h0M116.07 92.43h0M127.43 88.38h0M129.34 90.91h0M122.83 95.47h0M131.63 93.44h0M126.92 88.88h0M132.2 92.94h0M120.49 92.94h0M128.11 91.42h0M126.29 91.42h0M117.84 93.44h0M115.26 92.94h0M114.41 92.43h0M118.45 90.4h0M120.95 89.9h0M136.85 92.43h0M123.34 95.47h0M130.58 92.94h0M131.6 94.46h0M125.98 89.39h0M125 93.95h0M124.55 93.44h0M117.6 93.95h0M127.56 90.91h0M123.56 92.94h0M134.26 93.44h0M121.57 92.43h0M121.6 89.39h0M117.64 91.92h0M124.42 87.87h0M130.62 90.4h0M134.95 92.94h0M125.72 88.88h0M128.89 89.9h0M127.53 90.4h0M114.94 92.94h0M121 91.42h0M121.49 95.98h0M129.14 94.96h0M127.04 93.95h0M126.73 89.9h0M119.86 94.46h0M121.95 92.94h0M119.76 89.9h0M127.69 95.47h0M127.46 87.87h0M124.08 87.53h0M126.51 96.48h0M119.59 95.98h0M124.58 91.92h0M131.61 90.91h0M128.34 94.46h0M117.79 92.94h0M123.59 93.95h0M130.86 94.96h0M126.86 95.98h0M133.78 118.09h0M142.87 118.73h0M129.02 114.88h0M128.23 118.73h0M141.69 120.02h0M137.07 119.38h0M139.52 120.02h0M145.38 116.8h0M125.62 116.8h0M128.93 117.45h0M148.94 118.09h0M145.43 119.38h0M124.2 117.45h0M143.43 118.73h0M137.57 118.09h0M129.88 118.09h0M127.29 118.09h0M122.8 118.09h0M129.44 118.73h0M140.74 118.09h0M135.04 117.45h0M139.04 120.02h0M135.94 117.45h0M134.34 117.45h0M134.81 118.73h0M130.28 115.52h0M124.16 116.8h0M133.11 120.02h0M122.66 117.45h0M124.15 118.09h0M126.85 118.09h0M130.63 118.09h0M131.83 116.16h0M139.74 118.09h0M123.63 117.45h0M126.03 118.09h0M136.09 119.38h0M125.25 117.45h0M138.86 117.45h0M131.43 117.45h0M139.41 119.38h0M136.19 117.45h0M130.36 120.02h0M141.19 118.09h0M120.52 118.09h0M131.39 120.02h0M137.18 117.45h0M125.52 115.52h0M132.51 118.09h0M144.01 118.09h0M128.84 119.38h0M128.1 117.45h0M129.13 121.3h0M141.24 117.45h0M141.95 118.73h0M127.55 118.73h0M141.99 117.45h0M131.58 118.73h0M135.94 120.02h0M131.26 117.45h0M129.72 120.02h0M143.88 118.73h0M135.23 118.09h0M129.76 121.3h0M132.49 117.45h0M124.58 118.09h0M125.9 116.16h0M136 116.16h0M127.32 115.52h0M123.82 130.05h0M123.62 133.52h0M124.43 134.39h0M128.6 130.92h0M125.26 131.79h0M128.97 131.79h0M134.17 128.32h0M122.73 130.92h0M123.28 131.79h0M138.53 131.79h0M124.38 130.92h0M134.67 127.45h0M139.04 131.79h0M141.99 131.79h0M141.18 130.92h0M119.4 130.05h0M117.87 130.92h0M139.17 130.92h0M123.73 129.19h0M127.56 133.52h0M122.26 128.32h0M133.34 133.52h0M128.31 131.79h0M142.49 130.92h0M133.85 132.65h0M134.2 133.52h0M121.96 129.19h0M136.27 132.65h0M130.42 131.79h0M122.65 129.19h0M128.77 132.65h0M125.71 133.52h0M139.14 130.05h0M123.63 130.92h0M136.85 130.05h0M125.61 129.19h0M127.97 132.65h0M127 131.79h0M134.48 129.19h0M118.5 132.65h0M133.94 130.92h0M135.78 129.19h0M123.11 128.32h0M121.89 130.92h0M133.52 130.92h0M136.88 132.65h0M127.84 131.79h0M132.65 132.65h0M137.42 131.79h0M137.45 132.65h0M120.85 131.79h0M120.4 130.92h0M136.77 129.19h0M128.7 128.32h0M120.9 130.92h0M136.27 129.19h0M130.97 132.65h0M127.5 134.39h0M132.64 129.19h0M122.54 130.05h0M138.88 130.92h0M127.17 134.39h0M122.85 133.52h0M134.87 130.05h0M131.07 131.79h0M126.46 126.59h0M126.9 134.39h0M123.66 128.32h0M123.97 131.79h0M120.26 130.92h0M123.1 130.05h0M132.6 133.52h0M122.37 133.52h0M121.78 131.79h0M129.76 131.79h0M134.37 130.92h0M143.31 130.92h0M131.96 129.19h0M131.25 130.05h0M128.04 132.65h0M127.13 140.82h0M133.42 143.02h0M123.23 145.22h0M124.67 147.41h0M134.12 145.95h0M135.74 142.28h0M126.51 145.22h0M133.02 141.55h0M131.45 148.05h0M123.7 143.75h0M128.43 147.41h0M133.33 141.55h0M134.33 143.75h0M118.88 145.22h0M128.55 142.28h0M121.39 143.02h0M127.1 141.55h0M126.69 146.68h0M122.34 143.75h0M131.39 143.02h0M126.99 144.48h0M118.82 143.75h0M127.95 147.41h0M133.91 143.75h0M133.78 144.48h0M133.13 143.75h0M131.66 146.68h0M131.62 143.75h0M128.57 143.02h0M124.42 141.55h0M126.19 142.28h0M133.26 145.95h0M131.43 141.55h0M121.94 145.22h0M123.79 145.95h0M123.18 144.48h0M120.92 143.75h0M130.77 143.75h0M130.29 144.48h0M126.14 141.55h0M121.95 141.55h0M127.95 145.95h0M134 142.28h0M132.27 143.02h0M129.96 143.02h0M135.09 145.22h0M127.47 143.75h0M131.13 146.68h0M134.62 142.28h0M128.59 139.45h0M133.84 144.48h0M129.11 144.48h0M118.54 143.75h0M122.11 144.48h0M126.66 140.82h0M124.95 145.95h0M134.34 143.02h0M124.6 142.28h0M132.76 143.75h0M125.95 145.95h0M135.03 143.02h0M122.01 143.75h0M136.01 143.75h0M128.6 141.55h0M124.15 143.75h0M130.16 141.55h0M129.13 143.75h0M125.06 145.22h0M121.53 143.75h0M131.32 142.28h0M130.84 141.55h0M133 142.28h0M121.28 143.02h0M129.54 141.55h0M134.82 145.95h0M126.86 145.95h0M123.01 142.28h0M123.64 144.48h0M123.91 143.02h0M125.89 143.75h0M131.29 140.82h0M123.52 146.68h0M128.51 145.22h0M121.95 154.39h0M118.77 157.13h0M119.25 158.22h0M134.02 155.48h0M123.85 157.13h0M128.22 154.39h0M124.05 160.96h0M121.39 156.58h0M121.03 157.68h0M132.83 156.58h0M121.2 153.84h0M119.1 157.13h0M127.53 154.39h0M124.76 156.03h0M125.31 159.87h0M123.95 156.03h0M117.75 157.68h0M119.08 156.03h0M120.02 157.13h0M134.73 156.58h0M118.99 157.68h0M125.73 155.48h0M117.32 157.13h0M121.49 154.39h0M129.87 156.03h0M122.92 155.48h0M118.04 156.58h0M128.95 157.13h0M127.52 155.48h0M134.33 157.13h0M126.3 154.94h0M126.38 158.77h0M128.39 156.58h0M128.96 158.77h0M128.22 158.22h0M122.78 157.13h0M126.88 157.13h0M127.24 156.03h0M127.16 153.84h0M134.03 157.68h0M121.25 157.13h0M126.92 156.03h0M120.76 158.22h0M119.71 155.48h0M125.07 153.84h0M125.61 156.58h0M125.44 157.68h0M120.33 156.03h0M128.03 154.94h0M121.6 159.32h0M125.53 154.39h0M123.34 154.94h0M121.52 158.22h0M123.92 154.94h0M124.08 157.68h0M123.04 159.87h0M129.86 157.13h0M123.11 157.68h0M120.91 158.77h0M123.33 157.13h0M123.04 156.03h0M122.8 154.39h0M127.88 158.22h0M123.71 153.84h0M119.41 156.03h0M126.98 158.77h0M123.74 161.08h0M129.76 156.58h0M122.26 156.58h0M127.2 158.22h0M116.43 156.58h0M120.92 155.48h0M124.03 154.39h0M128.05 157.68h0M126.01 159.87h0M128.71 154.39h0M126.29 156.58h0M123.91 155.48h0M125.25 156.03h0M123.31 154.39h0M129.42 157.68h0M134.23 156.03h0M129.38 182.95h0M127.21 183.65h0M121.24 179.06h0M120.3 183.65h0M119.94 185.42h0M126.6 182.59h0M129.23 181.89h0M124.41 185.07h0M120.06 180.47h0M124.6 181.18h0M122.84 180.47h0M123.73 183.3h0M121.42 184.01h0M122.65 185.78h0M121.75 182.24h0M121.83 186.48h0M123.38 180.47h0M122.9 185.42h0M119.65 182.24h0M123.85 179.06h0M128.1 182.59h0M126.65 183.3h0M125.72 180.12h0M125.94 179.76h0M119.82 179.06h0M124.81 181.53h0M122.9 185.07h0M125.23 180.83h0M123.19 180.83h0M121 183.65h0M125.94 183.3h0M125.19 184.72h0M119.66 181.89h0M124.32 182.24h0M121.2 182.59h0M120.29 179.41h0M126.02 184.72h0M119.36 183.3h0M123.28 184.72h0M125.49 181.53h0M123.14 182.59h0M128.49 181.18h0M123.61 185.78h0M119.9 184.01h0M122.4 184.01h0M128.92 181.89h0M126.12 182.24h0M129.07 182.24h0M124.75 180.12h0M120.75 180.83h0M120.85 184.01h0M122.36 183.65h0M128.29 181.89h0M119.2 184.01h0M127.11 181.89h0M124.3 184.01h0M121.57 185.07h0M121.04 184.72h0M122.99 181.18h0M118.74 182.24h0M128.39 182.95h0M123.28 182.95h0M122.23 177.64h0M121.28 179.76h0M122.68 178.7h0M129.02 183.65h0M125.72 184.36h0M124.45 181.89h0M125.14 182.59h0M124.47 180.83h0M120.45 182.24h0M124.88 179.76h0M124.04 183.65h0M121.09 181.18h0M119 180.47h0M125.5 180.83h0M122.21 178.35h0M82.46 196.24h0M95.41 194.49h0M98.94 196.24h0M104.4 196.24h0M87.11 193.9h0M98.46 193.9h0M93.16 196.24h0M102.21 195.07h0M96.19 195.07h0M92.39 194.49h0M99.59 195.07h0M100.13 193.32h0M101.98 195.65h0M86.63 195.07h0M106.9 195.07h0M106.37 195.07h0M97.69 193.32h0M94.43 194.49h0M94.14 194.49h0M107.63 195.07h0M85.57 195.07h0M94.58 196.24h0M93.97 196.82h0M99.01 193.32h0M82.27 195.65h0M87.21 195.65h0M95.61 196.24h0M88.39 195.65h0M96.3 195.65h0M99.98 196.82h0M100.34 195.07h0M98.14 193.9h0M99.75 194.49h0M86.89 196.24h0M98.54 196.82h0M96.4 196.82h0M92.78 195.07h0M92.04 195.65h0M103.93 195.07h0M99.74 196.24h0M97.01 195.65h0M95.93 193.9h0M93.86 196.24h0M98.15 192.15h0M99.01 197.4h0M108.42 193.9h0M100.75 193.9h0M99.29 196.82h0M86.83 195.07h0M105.06 194.49h0M100.11 192.74h0M92.72 195.65h0M88.03 195.07h0M97.41 192.74h0M100.93 195.65h0M82.03 195.07h0M107.78 195.65h0M100.22 195.65h0M97.7 195.07h0M108.65 196.24h0M98.26 194.49h0M98.51 193.32h0M99.43 195.65h0M86.29 195.65h0M101.75 195.65h0M105.62 195.65h0M98.11 193.32h0M104.87 195.65h0M108.5 222.51h0M107.98 218.95h0M100.04 218.95h0M101.75 221.62h0M101.4 224.28h0M107.85 221.62h0M101.85 221.62h0M107.41 220.73h0M99.38 216.29h0M90.66 220.73h0M101.75 217.18h0M86.94 220.73h0M91.01 219.84h0M96.05 218.07h0M87.45 218.95h0M101.23 219.84h0M100.02 217.18h0M89.9 222.51h0M98.82 221.62h0M97.35 220.73h0M91.46 220.73h0M95.88 225.17h0M101.88 219.84h0M97.94 221.62h0M97.07 221.62h0M100.92 222.51h0M99.07 225.63h0M95.66 224.28h0M100.66 220.73h0M103.91 222.51h0M101.86 222.51h0M101.53 222.51h0M104.78 219.84h0M96.98 218.07h0M93.65 221.62h0M95.07 219.84h0M96.68 218.07h0M100.75 224.28h0M103.15 220.73h0M83.38 221.62h0M100.08 220.73h0M90.02 219.84h0M94.79 217.18h0M103.62 223.39h0M92.97 220.73h0M103.06 221.62h0M96.26 223.39h0M92.62 219.84h0M101.06 223.39h0M100.04 222.51h0M87.88 221.62h0M94.89 221.62h0M93.44 220.73h0M104.89 221.62h0M95 222.51h0M83.25 220.73h0M106.84 219.84h0M96.85 218.95h0M105.34 221.62h0M98.1 223.39h0M104.75 218.95h0M99.45 217.18h0M105.5 222.51h0M102.9 231.94h0M97.3 233.02h0M99.03 235.18h0M110.25 234.1h0M104.68 238.42h0M110.69 233.56h0M103.34 231.4h0M105.61 230.32h0M108.24 233.02h0M105.95 237.34h0M102.4 233.02h0M102.03 233.56h0M95.55 234.64h0M102.56 235.72h0M97.56 235.18h0M110.4 233.56h0M105.31 235.18h0M101.96 237.34h0M102.54 237.34h0M97.48 234.64h0M106.78 231.94h0M108.09 234.64h0M98.5 233.02h0M103.14 229.78h0M101.45 230.32h0M102.28 232.48h0M96.31 232.48h0M106.9 236.8h0M99.3 232.48h0M101.4 234.1h0M108.89 233.56h0M101.87 232.48h0M101.75 234.64h0M108.03 234.1h0M108.43 234.1h0M96.56 233.02h0M95.18 234.1h0M107.59 233.56h0M101.35 230.86h0M104.23 229.78h0M97.87 235.18h0M103.84 237.88h0M101.55 229.24h0M101.83 236.26h0M105.53 236.26h0M106.91 236.26h0M96.06 231.94h0M99.79 235.72h0M102.61 231.4h0M100.56 233.02h0M104.68 237.88h0M94.42 233.02h0M100.56 230.86h0M105.83 236.8h0M106.08 230.86h0M104.74 232.48h0M103.14 230.32h0M103.63 229.24h0M106.4 233.02h0M103.46 236.26h0M101.06 232.48h0M99.72 231.4h0M99.87 234.1h0M103.28 230.86h0M103.65 235.18h0M104.13 238.42h0M107.63 234.1h0M108.04 232.48h0M96.41 235.18h0M93.6 234.1h0M99.99 229.24h0M100.44 237.88h0M100 233.56h0M104.98 233.56h0M109.66 259.81h0M93.01 260.4h0M84.15 259.22h0M95.6 259.81h0M98.7 259.22h0M97.34 259.81h0M107.23 259.22h0M94.48 256.28h0M98.55 256.87h0M87.83 258.04h0M92.77 258.04h0M92.51 258.63h0M100.38 260.4h0M106.58 259.22h0M104.42 258.04h0M102.23 259.22h0M86.1 258.63h0M100.38 259.81h0M97.66 259.22h0M98.09 261.57h0M104.21 261.57h0M86.14 259.22h0M98.67 260.99h0M84.88 259.81h0M104.44 260.99h0M84.35 259.81h0M105.05 259.22h0M84.05 260.4h0M97.3 261.57h0M107.48 259.81h0M97.72 259.81h0M98.42 257.45h0M102.49 257.45h0M107.75 259.81h0M103.03 258.04h0M89.32 258.63h0M98.17 259.22h0M103.01 259.81h0M97.23 259.22h0M87.83 260.99h0M105.68 258.63h0M93.8 258.04h0M103.13 259.22h0M101.3 260.4h0M94.51 258.04h0M104.13 259.81h0M94.67 262.16h0M101.33 259.22h0M105.22 259.81h0M93.24 258.63h0M93.58 257.45h0M88.51 260.4h0M93.82 260.99h0M89.15 258.04h0M85.79 259.22h0M94.31 258.04h0M90.78 258.63h0M83.75 258.63h0M96.17 258.63h0M88.26 259.22h0M97.14 260.99h0M96.97 257.45h0M87.98 258.04h0M97.95 257.45h0M101.96 259.81h0M94.15 259.81h0M88.4 258.63h0M91.74 258.63h0M99.14 258.04h0M89.86 259.22h0M97.38 260.4h0M92.8 259.81h0M107.01 258.63h0M105.61 259.81h0M108.68 259.22h0M107.23 260.4h0M91.42 259.22h0M92.3 260.4h0M98.44 258.63h0M89.69 259.81h0M104.34 258.63h0M83.64 259.81h0M89.05 259.22h0M103.53 259.22h0M102.69 259.81h0M107.77 259.22h0M100.14 259.22h0" stroke="#0084f9" stroke-width="1.36" stroke-linecap="round" fill="none"/>
<path d="M85.23 68.14h0M87.1 67.45h0M99.18 66.09h0M95.28 67.45h0M95.06 66.77h0M95.66 66.77h0M90.87 61.99h0M90.6 64.04h0M80.03 66.77h0M91.01 66.77h0M90.37 66.77h0M93.67 66.77h0M80.87 68.14h0M94.94 66.09h0M88.48 64.04h0M96.31 66.09h0M80.7 65.4h0M91.26 67.45h0M89.76 67.45h0M100.79 68.14h0M78.37 66.77h0M93.43 64.72h0M89.16 66.77h0M79.21 67.45h0M107.29 67.45h0M88.74 68.82h0M86.76 66.09h0M90.86 62.67h0M97.19 66.09h0M85.1 65.4h0M91.43 64.72h0M87.56 68.82h0M95.54 68.14h0M81.96 68.14h0M96.82 66.77h0M86.08 67.45h0M90.58 71.55h0M92.15 65.4h0M96.17 69.5h0M83.72 68.14h0M90.5 70.18h0M87.44 66.09h0M101.62 66.77h0M91.33 65.4h0M80.38 66.09h0M102.55 67.45h0M90.36 64.72h0M91.41 69.5h0M76.61 68.14h0M106.67 66.77h0M91.37 66.09h0M103.44 66.09h0M92.39 67.45h0M84.06 66.77h0M100.3 68.14h0M85.59 64.72h0M83.03 66.09h0M93.65 65.4h0M86.14 65.4h0M79.36 66.77h0M97.43 64.72h0M74.5 66.77h0M89.94 66.09h0M93.42 67.45h0M96.56 68.82h0M88.09 66.77h0M105.4 67.45h0M91.06 65.4h0M93.11 68.14h0M82.32 67.45h0M93.12 67.45h0M94.13 66.09h0M85.25 64.72h0M72.7 80.15h0M111.77 80.15h0M73.08 80.15h0M75.94 79.6h0M69.04 79.05h0M79.25 79.6h0M70.15 80.15h0M79.2 80.15h0M67.62 79.6h0M79.85 79.6h0M72.48 79.6h0M79.88 80.15h0M104.2 101.23h0M99.76 103.65h0M103.26 102.84h0M105.24 106.87h0M109.96 105.26h0M101.5 107.27h0M107.13 106.87h0M103.3 103.25h0M97.09 105.66h0M99.9 106.07h0M96.29 104.86h0M108.41 106.07h0M101.67 102.84h0M103.27 107.68h0M105.65 102.84h0M104.58 103.25h0M108.29 104.05h0M107.37 104.45h0M105.68 104.45h0M108.55 104.86h0M106.2 105.66h0M98.09 104.86h0M108.75 106.87h0M107.55 105.26h0M108.59 103.65h0M98.58 104.45h0M100.02 103.25h0M103.77 106.87h0M96.72 104.86h0M101.93 106.07h0M97.47 105.66h0M94.87 105.66h0M103.09 105.26h0M100.18 102.44h0M100.96 104.05h0M110.68 104.86h0M99.72 108.08h0M98.2 103.65h0M107.03 104.05h0M104.37 105.66h0M106.25 104.86h0M103.03 106.07h0M100.52 101.23h0M98.94 104.86h0M101.06 102.04h0M103.67 102.44h0M107.31 105.66h0M106.39 107.27h0M103.37 107.27h0M108.32 106.47h0M107.02 106.07h0M95.88 106.07h0M104.31 108.48h0M107.59 104.86h0M111.66 105.66h0M102.63 106.87h0M111.15 105.26h0M106.49 105.26h0M105.09 108.88h0M97.2 104.45h0M103.46 105.66h0M102.41 108.08h0M101.16 104.45h0M106.55 108.88h0M102.45 102.84h0M98.9 106.87h0M106.05 108.08h0M104.23 105.66h0M104.54 102.04h0M94.07 168.72h0M93.05 170.1h0M85.05 169.41h0M99.14 170.1h0M109.4 170.1h0M84.42 170.1h0M92.88 169.41h0M99.46 168.72h0M113.23 170.1h0M94.9 168.03h0M92.36 168.03h0M92.22 172.17h0M104.04 170.79h0M91.99 168.72h0M88.49 169.41h0M94.63 170.1h0M99.91 172.17h0M96.2 169.41h0M87.47 169.41h0M92.74 169.41h0M96.26 170.1h0M94.59 170.79h0M85.18 170.1h0M91.14 169.41h0M99.23 168.72h0M87.36 170.1h0M82.86 168.72h0M90.82 171.48h0M99.95 168.03h0M95.38 170.79h0M85.99 169.41h0M94.63 171.48h0M93.69 170.79h0M97.66 170.1h0M97.69 169.41h0M84.13 170.1h0M96.62 170.79h0M93.76 169.41h0M98.87 169.41h0M92.51 170.1h0M86.78 169.41h0M81.08 170.1h0M112.85 173.54h0M110.32 172.86h0" stroke="#007cf5" stroke-width="1.36" stroke-linecap="round" fill="none"/>
<path d="M71.82 16.13h0M80.48 14.09h0M95.3 14.77h0M79.34 16.81h0M95.56 16.13h0M72.98 13.41h0M86.01 13.41h0M70.97 17.49h0M82.13 13.41h0M79.91 14.77h0M70.17 14.77h0M75.84 14.09h0M82.16 12.73h0M72.86 12.73h0M72.39 16.81h0M85.03 18.17h0M80.07 16.81h0M60.89 16.13h0M70.86 16.81h0M71 15.45h0M96.49 16.13h0M77.1 13.41h0M76.57 17.49h0M74.69 17.49h0M97.33 14.77h0M67.95 14.77h0M78.39 16.81h0M68.39 15.45h0M73.6 16.13h0M96.86 16.81h0M66.78 15.45h0M72.83 14.77h0M70.18 15.45h0M65.67 14.77h0M67.38 16.13h0M86.22 16.13h0M77.05 18.17h0M79.23 14.09h0M76.27 14.77h0M72.21 12.05h0M72.11 14.09h0M76.74 14.77h0M111.66 28.85h0M85.51 40.47h0M92.51 42.07h0M79.46 40.47h0M87.63 40.47h0M90.02 40.79h0M97.19 41.11h0M90.44 41.43h0M87.1 40.15h0M87.43 41.75h0M91.16 40.79h0M86.8 40.47h0M89.4 42.07h0M83.42 40.15h0M80.62 42.07h0M79.4 41.11h0M78.58 41.43h0M76.04 41.43h0M98.06 41.75h0M82.96 40.79h0M98.74 41.11h0M81.01 41.11h0M83.56 41.43h0M88.88 40.79h0M94.07 42.07h0M88.84 41.75h0M89.47 41.43h0M89.86 42.39h0M89.22 39.83h0M89.12 42.72h0M98.38 40.79h0M81.79 41.75h0M82.73 40.47h0M95.49 41.11h0M86.74 40.79h0M89.98 39.5h0M96.54 41.11h0M80.8 40.47h0M88.18 40.79h0M89.13 40.15h0M82.08 40.79h0M89.77 40.15h0M82.31 41.43h0M85.78 41.43h0M85.78 39.5h0M86.19 40.47h0M85.49 39.18h0M87.09 42.39h0M88.85 40.47h0M86 42.07h0M76.75 41.11h0M104 51.46h0M103.88 52.88h0M103.56 50.39h0M98.3 56.42h0M100.74 50.75h0M100.14 55h0M97.97 54.29h0M104.44 56.07h0M104.76 52.52h0M100.66 53.59h0M104.9 52.17h0M101.65 51.81h0M98.62 55.36h0M106.27 53.94h0M101.39 52.17h0M98.82 51.1h0M101.39 56.78h0M105.78 55h0M104.6 56.78h0M110.87 53.59h0M111.4 53.94h0M98.55 55h0M99.58 52.52h0M102.98 55.36h0M104.34 54.29h0M100.31 50.39h0M102.07 56.07h0M105.39 52.52h0M97.72 56.42h0M103.45 51.46h0M97.97 52.17h0M106.21 55.36h0M97.46 55h0M103.02 51.1h0M102.69 52.17h0M99.94 57.84h0M101.32 57.13h0M102.66 54.29h0M102.81 56.07h0M98.28 51.81h0M96 55h0M102.55 51.1h0M100.17 51.46h0M95.35 54.65h0M101.02 54.29h0M102.66 50.75h0M91.28 81.25h0M97.04 77.95h0M97.73 81.8h0M97.46 80.7h0M85.15 79.6h0M85.88 77.95h0M95.05 77.95h0M100.41 79.6h0M94.38 81.8h0M87.19 78.5h0M86.15 77.4h0M89.24 80.15h0M107.31 80.15h0M100.32 81.25h0M90.71 80.15h0M92.89 80.7h0M91.06 79.05h0M98.52 76.85h0M98.04 81.25h0M95.16 79.05h0M104.54 80.15h0M92.54 80.15h0M82.85 80.7h0M98.38 82.35h0M91.98 80.7h0M94.45 78.5h0M87.54 80.15h0M92.27 81.25h0M85.22 80.7h0M85.74 79.05h0M87.2 80.15h0M82.79 79.05h0M97.82 77.95h0M98.39 81.25h0M92.61 79.6h0M100.84 77.95h0M96.06 76.31h0M96.21 79.05h0M103.71 79.05h0M88.32 80.7h0M98.9 80.7h0M96.56 82.89h0M97.29 80.7h0M96.07 77.95h0M93.38 79.05h0M88.08 78.5h0M88.95 78.5h0M94.93 81.25h0M84.9 80.15h0M102.34 77.4h0M101.62 77.95h0M89.42 80.7h0M93.62 81.25h0M91.07 79.6h0M93.05 78.5h0M88.15 80.7h0M101.19 79.05h0M88.3 79.05h0M82.71 80.15h0M98.75 81.8h0M96.65 80.15h0M85.24 78.5h0M99.52 82.35h0M95.84 80.15h0M94.39 104.86h0M94.24 105.66h0" stroke="#0074f0" stroke-width="1.36" stroke-linecap="round" fill="none"/>
<path d="M90.5 15.45h0M92.22 16.81h0M87.84 16.81h0M90.43 15.45h0M92.29 15.45h0M86.68 18.17h0M91.62 14.09h0M86.94 14.77h0M89.18 15.45h0M87.92 15.45h0M88.65 14.09h0M89.5 14.09h0M97.27 31.13h0M94.83 31.13h0M84.65 27.14h0M80.19 26.57h0M88.59 27.71h0M77.32 28.28h0M87.18 27.14h0M95.74 29.99h0M103.9 27.71h0M83.11 28.85h0M102.51 28.28h0M91.6 26h0M108.75 27.71h0M87.48 29.99h0M104.84 28.28h0M93.46 30.56h0M103.24 29.42h0M79.3 28.85h0M79.66 29.42h0M94.61 28.28h0M99.13 29.99h0M83.51 26.57h0M102.04 29.99h0M104.45 29.42h0M84.08 29.99h0M99.03 28.85h0M92.3 27.71h0M84.25 29.42h0M76.86 28.85h0M100.14 27.71h0M86.81 28.85h0M85.55 28.28h0M95.59 28.28h0M75.08 28.85h0M77.29 29.42h0M89.1 28.85h0M102.2 26.57h0M89.79 26.57h0M101.95 28.28h0M72.1 28.85h0M98.51 27.14h0M102.11 27.14h0M103.18 28.85h0M104.29 29.99h0M97.44 31.7h0M101.01 28.85h0M88.59 29.42h0M91.66 28.85h0M106.66 28.28h0M85.96 28.28h0M84.04 29.99h0M96.47 31.13h0M81.17 29.42h0M91.22 27.71h0M82.69 28.28h0M75.25 28.28h0M96.74 27.14h0M105.87 26.57h0M89.85 30.56h0M81.24 27.71h0M80.93 26h0M79.83 30.56h0M92.92 29.99h0M106.22 28.85h0M101.16 27.14h0M90.56 30.56h0M84.07 27.71h0M90.63 28.85h0M83.1 29.42h0M95.24 26h0M96.88 29.99h0M86.49 27.71h0M88.16 30.56h0M84.52 28.28h0M83.67 28.28h0M89.65 28.85h0M93.86 27.71h0M91.71 25.43h0M81.42 29.99h0M91.76 119.38h0M101.23 118.09h0M95.76 118.73h0M105.97 114.23h0M94.86 120.02h0M103.88 116.8h0M97.37 115.52h0M109.2 120.66h0M85.42 117.45h0M102.54 116.16h0M103.43 115.52h0M109.07 119.38h0M102.67 116.8h0M99.04 207.52h0M100.36 206.77h0M111.02 209.78h0M110.69 208.65h0M109.96 209.41h0M104.87 207.52h0M104.47 208.65h0M107.3 206.39h0M102.07 207.15h0M103.18 209.78h0M102.89 207.9h0M110.73 206.39h0M107.69 205.64h0M105.78 210.54h0M106.55 204.51h0M101 207.52h0M110.72 210.16h0M104.14 207.15h0M108.51 206.02h0M103.93 208.28h0M103.98 210.54h0M106.27 207.15h0M103.51 210.54h0M107.37 209.03h0M108.86 205.26h0M109.75 207.15h0M105.23 210.16h0M108.54 209.78h0M104.97 206.39h0M107.75 209.78h0M107.68 205.26h0M103.85 204.89h0M98.57 207.9h0M99.46 207.9h0M107.17 205.64h0M104.39 208.65h0M106.79 204.89h0M98.95 208.65h0M104.91 210.91h0M103.61 209.03h0M108.09 207.15h0M101.3 207.9h0M99.76 207.9h0M108.14 206.39h0M98.8 208.28h0M107 210.54h0M107.94 205.26h0M109.7 207.9h0M102.1 209.03h0M112.99 207.9h0M109.8 206.77h0M102.98 211.29h0M104.99 204.89h0M111.57 208.28h0M105.07 211.67h0M100.27 208.65h0M105.9 205.26h0M107.68 204.89h0M102.09 209.41h0M105.68 207.15h0M102.19 209.78h0M111.41 207.15h0M105.84 210.16h0M110.9 208.28h0M104.4 210.16h0M103.28 210.16h0M102.58 207.52h0M105.21 207.9h0M100.26 207.52h0M106.92 205.26h0M105.73 209.41h0M104.38 210.91h0M108.68 206.77h0M106.27 204.89h0M106.88 210.16h0M108.16 206.77h0M103.87 207.52h0M106.62 212.04h0M102.37 210.16h0M100.96 209.03h0M108.47 210.54h0" stroke="#236cea" stroke-width="1.36" stroke-linecap="round" fill="none"/>
<path d="M104.72 15.45h0M104.99 14.77h0M103.71 14.77h0M104.77 16.13h0M101.79 15.45h0M100.73 14.09h0M98.23 15.45h0M97.79 16.81h0M103.25 16.81h0M103.88 16.13h0M106.17 16.13h0M107.59 16.81h0M106.93 14.77h0M99.15 15.45h0" stroke="#4b63e3" stroke-width="1.36" stroke-linecap="round" fill="none"/>
<path d="M84.42 93.95h0M98.91 90.91h0M98.23 93.95h0M94.17 91.92h0M97.79 91.42h0M87.31 92.94h0M93.16 90.4h0M83.17 92.94h0M85.12 91.42h0M82.25 92.94h0M95.79 90.91h0M95.17 91.92h0M94.72 91.42h0M94.42 92.43h0M82.22 91.42h0M94.22 94.46h0M108.94 92.43h0" stroke="#6359da" stroke-width="1.36" stroke-linecap="round" fill="none"/>
<path d="M111.01 165.28h0M109.31 168.03h0M112.3 166.65h0M112.91 168.03h0M110.72 173.54h0M114.71 168.03h0M106.13 168.03h0M101 169.41h0M115.28 168.03h0M113.82 166.65h0M108.45 170.1h0M107.52 170.79h0M101.34 170.1h0M106.43 169.41h0M115.6 169.41h0M109.38 170.79h0M105.19 168.72h0M111.89 166.65h0M111.27 170.79h0M113.05 172.17h0M104.92 170.79h0M112.4 172.17h0M105.48 170.1h0M113.97 170.79h0M110.82 170.1h0M111.57 171.48h0M113.93 172.17h0M101.82 169.41h0M112.76 171.48h0M112.09 169.41h0M115.65 170.79h0M113.64 168.03h0M104.66 170.79h0M109.16 172.17h0M113.04 170.79h0M112.89 172.86h0M110.34 168.03h0M113.66 167.34h0M110.28 166.65h0M102.05 168.72h0M115.2 170.1h0M116.24 169.41h0M107.95 167.34h0M104.36 170.1h0M104.38 172.17h0M112.7 166.65h0M111.12 165.96h0M113.23 169.41h0M115.6 168.72h0M104.4 168.72h0M109.01 170.79h0M115.79 167.34h0M104.5 169.41h0M113.26 181.89h0M114.52 181.18h0M116.69 183.65h0M117.83 184.72h0M110.36 182.24h0M116.94 184.01h0M117.47 183.65h0M114.9 180.83h0M113.48 181.53h0M114.59 181.89h0M116.25 181.53h0M117.58 182.24h0M116.56 183.3h0M117.53 181.53h0M113.41 183.3h0M114.32 181.89h0M113.62 182.24h0M115.19 183.3h0M115.68 181.18h0M118.19 183.65h0M118.03 180.47h0M118.05 179.76h0M114.71 181.18h0M110.86 181.89h0M118 183.3h0M111.74 182.59h0M116.35 184.01h0M114.26 183.3h0M91.42 219.84h0M96.65 218.95h0M99.76 223.39h0M86.05 220.73h0M96.73 220.73h0M102.52 223.39h0M129.8 258.63h0M117.42 258.63h0M124.8 260.4h0M124.27 260.4h0M128.72 259.22h0M122.69 256.87h0M129.24 259.22h0" stroke="#754fd1" stroke-width="1.36" stroke-linecap="round" fill="none"/>
<path d="M97.46 65.4h0M104.38 66.09h0M91.05 64.72h0M88.17 68.82h0M96.19 67.45h0M89.76 68.82h0M95.88 68.82h0M86.84 66.77h0M100.99 66.09h0M79.97 67.45h0M97.87 67.45h0M92.22 68.14h0M131.11 195.65h0M122.93 190.17h0M122.55 193.9h0M123.67 193.9h0M120.46 196.82h0M121.04 192.15h0M119.47 197.4h0M123.24 192.15h0M119.64 196.82h0M122.96 199.97h0M121.29 197.99h0M123.43 197.4h0M122.99 197.99h0M116.23 195.07h0M120.15 195.65h0M129.57 196.24h0M131.12 196.24h0M129.66 197.4h0M115.79 218.07h0M115.78 224.28h0M112.58 219.84h0M111.64 221.62h0M114.19 219.84h0M113.82 222.51h0M115.28 219.84h0M116.28 223.39h0M115.88 222.51h0M111.72 219.84h0M113.36 223.39h0M115.81 220.73h0M115.02 219.84h0M116.57 220.73h0M133.27 245.75h0M132.38 247.03h0M121.81 247.03h0M127.88 248.3h0M126.43 243.21h0M129.38 245.75h0M133.55 246.39h0M124.73 248.93h0M127.87 247.03h0M122.3 249.57h0M117.21 245.12h0M121.58 245.75h0M119.33 244.48h0M122.03 248.3h0M117.6 246.39h0M122.49 248.93h0M114.84 247.66h0M129.35 247.66h0M125.24 247.03h0M119.52 245.75h0M119.71 244.48h0M127.77 244.48h0M126.73 248.3h0M125.49 248.3h0M123.61 250.21h0M117.09 247.03h0M129.22 245.12h0M122.01 248.93h0M115.36 248.3h0M118.56 243.85h0M118.27 246.39h0M118.71 243.21h0M125.1 247.66h0M122.17 243.21h0M119.06 248.3h0M122.88 244.48h0M122.07 247.66h0M119.81 247.66h0M119.06 243.21h0M125.58 246.39h0M115.79 245.12h0M122.15 246.39h0M120.93 249.57h0M118.74 245.75h0M125.74 245.12h0M115.72 248.3h0M131.4 246.39h0M120.41 248.3h0M122.51 245.12h0M120.31 243.85h0M120.46 244.48h0M118.38 247.03h0M125.98 248.3h0M121.57 241.99h0" stroke="#8443c6" stroke-width="1.36" stroke-linecap="round" fill="none"/>
<path d="M129.93 19.15h0M66.47 16.13h0M83.06 15.45h0M152.22 16.13h0M112.05 16.13h0M76.39 15.45h0M147.27 14.77h0M123.74 16.81h0M136.65 12.73h0M81.5 14.09h0M144.27 15.45h0M135.07 16.13h0M160.65 16.13h0M129.02 15.45h0M76.72 14.09h0M137.16 19.15h0M153.55 16.81h0M69.31 16.13h0M143.96 14.09h0M138.97 16.13h0M132.61 14.77h0M129.93 11.75h0M143.5 18.85h0M159.65 16.81h0M164.23 16.13h0M120.65 12.73h0M84.4 16.13h0M97.24 28.85h0M77.69 27.71h0M108.19 28.85h0M86.42 30.56h0M83.81 27.14h0M82.33 30.56h0M77.45 29.99h0M80.73 26.57h0M103.1 27.14h0M94.78 25.43h0M89.79 27.14h0M121.08 68.14h0M136.46 65.4h0M127.01 64.72h0M126.86 63.36h0M140.9 66.77h0M136.43 63.36h0M128.01 64.04h0M123.16 68.14h0M120.81 64.72h0M140.46 66.09h0M132.78 70.18h0M136.23 68.14h0M129.38 65.4h0M142.34 66.77h0M122.81 68.82h0M123.82 64.72h0M120.37 68.14h0M137.33 68.14h0M130.47 64.04h0M122.95 79.05h0M128.04 81.8h0M115.77 80.15h0M128.45 77.4h0M129.51 83.9h0M120.84 81.25h0M123.76 82.35h0M123.15 78.5h0M122.36 81.25h0M141.78 106.07h0M125.53 105.66h0M132 106.07h0M125.19 106.47h0M170.93 104.86h0M143.33 104.86h0M105.29 107.27h0M148.02 105.66h0M100.38 104.86h0M170.48 105.26h0M100.33 105.66h0M110.41 106.47h0M105.73 104.86h0M107.32 105.26h0M103.67 109.69h0M102.09 104.45h0M98.59 121.3h0M96.78 120.66h0M88.79 116.8h0M100.33 122.59h0M98.36 117.45h0M106.29 121.3h0M101 116.8h0M100.19 121.95h0M93.41 120.02h0M92.17 118.73h0M87.92 118.09h0M92.05 117.45h0M96.81 115.52h0M102.57 118.73h0M96.93 117.45h0M107.69 116.8h0M101.21 116.16h0M97.77 116.16h0M100.54 117.45h0M88.73 118.09h0M98.57 115.52h0M92.15 119.38h0M93.3 116.16h0M107.94 119.38h0M106.54 122.79h0M108.82 120.02h0M110.92 118.09h0M97.28 121.95h0M106.39 120.66h0M105.79 118.09h0M102.58 121.3h0M94.02 116.8h0M105.1 121.3h0M91.6 120.02h0M105.73 120.02h0M108.5 115.52h0M99.25 116.8h0M103.15 115.52h0M101.47 117.45h0M96.54 118.73h0M104.2 119.38h0M104.08 118.09h0M106.06 118.73h0M87.13 117.45h0M104.54 116.16h0M98.59 118.73h0M99.08 120.02h0M100.04 116.8h0M111.71 118.09h0M105.62 116.8h0M92.39 116.8h0M93.4 118.09h0M102.07 117.45h0M92.95 118.09h0M100.12 118.09h0M91.81 118.09h0M109.57 116.8h0M87.82 118.73h0M106.02 121.95h0M95.73 117.45h0M106.46 115.52h0M105.21 119.38h0M97.77 118.09h0M89.04 118.73h0M97.34 119.38h0M110.34 117.45h0M98.58 119.38h0M98.05 116.8h0M104.89 118.09h0M136.96 208.28h0M135.32 208.28h0M141.41 207.52h0M128.31 207.9h0M127.94 206.39h0M145.19 207.9h0M125.53 207.9h0M136.28 208.65h0M137.57 206.77h0" stroke="#9135ba" stroke-width="1.36" stroke-linecap="round" fill="none"/>
<path d="M128.88 29.42h0M146.5 24.86h0M139.54 29.99h0M145.49 27.14h0M135.32 26.57h0M138.11 29.42h0M143.26 28.28h0M146.1 26.57h0M137.78 27.14h0M152.59 28.28h0M135.37 28.28h0M139.98 31.7h0M141.31 32.18h0M153.26 26.57h0M129.08 28.28h0M141.92 29.42h0M168.9 41.43h0M149.03 41.11h0M162.85 41.11h0M145.06 41.75h0M162.89 40.79h0M154.64 40.79h0M161.31 40.15h0M84.88 39.5h0M93.75 40.47h0M151.75 40.79h0M83.01 41.75h0M154.33 40.15h0M78.05 79.05h0M131.96 170.79h0M120.54 168.72h0M118.6 169.41h0M133.33 168.72h0M124.24 170.1h0M132.6 168.03h0M135.36 171.48h0M131.86 170.1h0M137.3 170.1h0M126.89 171.48h0M140.48 170.79h0M136.83 169.41h0M125.39 168.72h0M124.97 170.79h0M135.2 168.03h0M108.98 207.52h0M101.46 209.41h0M110.27 209.03h0M105.41 206.02h0M103.08 207.9h0M108.76 208.65h0M102.05 206.39h0M106.79 208.28h0M102.24 206.02h0M112.3 207.9h0M102.7 205.26h0M102.45 209.41h0M107.07 210.91h0M102.79 204.89h0M108.63 210.54h0M111.06 209.41h0M106.5 205.64h0M111.85 207.9h0M104.63 210.16h0M100.38 209.03h0M145.3 220.73h0M120.85 218.95h0M124.49 225.17h0M120.63 220.73h0M127.31 221.62h0M135.41 219.84h0M127.79 223.39h0M126.61 218.07h0M118.57 234.64h0M114.77 234.64h0M114.07 233.56h0M112.57 232.48h0M116.57 235.18h0M112.26 233.02h0M117.3 235.18h0M116.52 234.64h0M119.14 234.64h0M111.42 233.56h0M114.86 236.8h0M116.06 232.48h0M114.78 231.94h0M113.02 231.94h0M113.36 233.56h0M115.25 232.48h0M114.31 235.18h0M117.44 234.1h0M116.6 236.26h0M119.54 234.1h0M117.35 231.94h0M112.92 234.1h0M113.6 234.64h0M118.13 233.02h0M114.29 235.72h0M112.09 234.1h0M118.58 233.56h0M117.51 234.64h0M116.7 234.1h0M116.89 234.64h0M116.3 233.56h0M116.14 235.72h0M118.14 235.72h0M115.97 233.02h0M96.46 244.48h0M99.76 246.39h0M88.22 247.66h0M95.86 246.39h0M92.79 245.12h0M98.33 245.75h0M102.57 246.39h0M100.19 245.75h0M86.72 246.39h0M97.87 247.03h0" stroke="#9b23ad" stroke-width="1.36" stroke-linecap="round" fill="none"/>
<path d="M113.56 16.81h0M115.83 15.45h0M102.07 79.6h0M95.49 77.95h0M96.62 81.25h0M86.91 79.05h0M99.01 77.95h0M99.88 80.7h0M100 79.6h0M88.09 79.6h0M95.9 82.35h0M99.81 78.5h0M99.53 81.8h0M91.46 78.5h0M97.6 82.35h0M107.17 170.1h0M104.71 171.48h0M111.51 168.72h0M111.91 172.86h0M113.46 168.72h0M110.17 170.79h0M104.65 171.48h0M117.43 181.89h0M110.9 182.95h0M110.65 182.59h0M115.71 180.83h0M115.94 182.24h0M114.75 182.95h0" stroke="#ab15a7" stroke-width="1.36" stroke-linecap="round" fill="none"/>
<path d="M125.14 16.13h0M116.87 15.45h0M125.2 18.85h0M119.15 16.13h0M121.58 14.09h0M124.13 14.09h0M118.08 16.81h0M120.09 14.09h0M120.46 14.77h0M122.63 16.81h0M121.01 16.81h0M118.25 14.09h0M123.95 18.17h0M119.45 14.77h0M124.22 15.45h0M121.56 15.45h0M107.27 53.23h0M107.28 53.59h0M108.08 53.23h0M93.3 53.94h0M93.46 56.07h0M93.34 55.71h0M93.81 53.23h0M103.05 56.78h0M89.55 53.59h0M107.47 55.36h0M107.75 54.29h0M109.31 53.94h0M92.25 53.23h0M108.63 52.52h0M96.8 53.23h0M103.41 53.59h0M108.09 54.29h0M89.69 53.94h0M88.79 54.65h0M108.61 53.94h0M90.23 54.65h0M93.89 52.88h0M93.25 52.17h0M107.2 51.81h0M88.21 54.29h0M87.85 53.94h0M100.17 54.29h0M101.33 56.42h0M102.74 57.84h0M86.7 53.94h0M107.71 56.42h0M109.09 55h0M92.73 51.81h0M99.98 56.07h0M85.89 53.94h0M90.46 53.59h0M92.52 54.29h0M104.9 55.36h0M94.05 53.23h0M92.9 56.42h0M93.24 51.81h0M98.98 91.42h0M100.3 93.44h0M81.42 93.44h0M70.59 92.43h0M97.08 92.94h0M96.91 91.92h0M103.26 93.95h0M107.75 92.94h0M83.83 92.43h0M81.83 94.46h0M92.17 92.94h0M92.74 91.42h0M101.66 91.42h0M75.43 92.43h0M90.49 93.44h0M105.54 93.44h0M92.6 93.44h0M90.84 90.4h0M99.17 93.44h0M91.87 92.43h0M91.55 93.44h0M103.39 92.94h0M86.46 92.94h0M69.77 92.43h0M91.84 93.95h0M81.64 94.96h0M86.01 93.95h0M95.37 92.43h0M74.75 91.42h0M87.43 91.42h0M87.24 91.42h0M96.43 93.44h0M88.96 93.44h0M94.36 91.42h0M102.51 94.46h0M81.11 91.92h0M89.55 92.94h0M88.56 93.95h0M101.65 92.43h0M88.96 93.95h0M94.66 93.44h0M97.02 92.43h0M85.94 91.42h0M87.92 90.4h0M91.8 92.94h0M78.81 92.43h0M86.4 92.94h0M72.16 91.92h0M98.61 92.43h0M85.71 93.44h0M107.41 92.43h0M108.19 92.43h0M103.64 92.94h0M81.56 92.94h0M87.93 89.9h0M71.1 92.43h0M84.41 91.92h0M80.25 93.44h0M75 93.44h0M92.96 90.91h0M102.37 93.44h0M98.8 93.95h0M95.95 91.42h0M102.27 93.95h0M116.92 222.51h0M113.5 218.07h0M147.19 233.56h0M145.55 234.1h0M153.43 234.1h0M147.06 234.64h0M119.97 262.75h0M122.43 258.04h0M122.77 263.72h0M122.66 260.4h0M129.28 259.81h0M128.61 260.4h0M123.57 258.63h0M128.01 259.22h0M123.51 261.57h0M117.11 259.22h0M121.78 263.72h0M126.3 258.63h0M118.18 262.16h0M117.85 258.04h0M119.34 260.4h0M118.5 260.99h0M120.58 258.63h0M119.42 256.28h0M116.88 260.99h0M121.95 262.16h0M123.16 254.72h0M119.07 256.87h0M119.85 256.28h0M122.32 256.87h0M124.99 260.99h0M121.85 255.1h0M122.09 259.22h0M114.05 259.22h0M115.38 259.22h0M127.92 258.63h0M119.08 255.69h0M121.15 257.45h0M125.07 259.22h0M118.22 258.63h0M123.08 262.75h0M125.26 261.57h0M114.42 259.81h0M125.77 259.22h0M123.89 260.99h0M123.39 257.45h0M118.19 260.4h0M124.19 259.22h0M119.39 259.81h0M130.17 259.81h0M123.19 263.34h0M122.91 257.45h0M127.44 259.22h0M118.49 261.57h0M116.35 260.4h0M117.56 260.4h0M118.48 258.04h0M126.57 260.99h0M122.96 254.72h0M119.3 261.57h0M122.71 259.81h0M116.98 259.81h0M120.18 260.99h0M131.66 259.22h0M119.04 258.63h0M117.72 260.4h0M122.1 260.99h0M122.36 255.1h0M122.52 257.45h0M116.02 259.22h0M119.92 259.22h0M123.37 256.28h0M130.44 259.81h0M128.35 258.63h0M119.94 258.04h0M129.67 260.4h0M127.17 259.81h0M125.68 260.99h0M117.55 256.87h0M119.08 258.63h0M121.19 258.04h0M130.1 259.22h0M116.04 258.63h0M122.04 259.81h0M123 259.22h0" stroke="#bb00a0" stroke-width="1.36" stroke-linecap="round" fill="none"/>
<path d="M129.77 19.15h0M136.99 18.85h0M129.5 17.49h0M129.26 16.13h0M127.61 17.49h0M134.33 18.17h0M136.96 18.17h0M137.69 11.75h0M133.57 14.77h0M135.37 17.49h0M129.12 13.41h0M133.56 13.41h0M129.72 18.17h0M130.48 19.15h0M135.53 14.09h0M127.86 13.41h0M133.22 16.13h0M129.57 18.17h0M127.8 15.45h0M147.13 105.26h0M122.27 106.07h0M129.46 106.07h0M133.65 104.86h0M143.68 105.66h0M130.01 104.05h0M122.03 105.26h0M132.07 104.45h0M130.73 105.26h0M122.18 104.05h0M117.25 104.86h0M132.89 106.47h0M125.56 104.05h0M126.73 106.07h0M121.42 104.45h0M113.61 104.86h0M131.9 105.66h0M128.39 104.45h0M130.26 106.47h0M118.86 104.45h0M127.08 105.66h0M121.76 106.07h0M118.36 106.47h0M113.53 105.26h0M137.53 106.07h0M137.51 105.66h0M122.54 104.45h0M128.73 106.87h0M141.51 106.47h0M118.84 105.26h0M139.21 105.66h0M114.98 105.66h0M122.33 106.87h0M125.61 104.45h0M136.24 105.26h0M147.51 105.26h0M144.88 105.26h0M149.19 105.66h0M121.87 103.65h0M126.78 105.26h0M121.07 106.07h0M132.24 106.07h0M134.39 106.07h0M124.14 105.26h0M119.04 106.07h0M115.22 106.07h0M116.27 105.66h0M123.86 105.66h0M131.78 104.45h0M149.61 104.86h0M140.63 105.66h0M119.71 105.66h0M134.67 105.66h0M124.48 106.07h0M128.63 104.05h0M125.8 106.87h0M133.02 106.07h0M122.64 104.86h0M138.85 104.45h0M141.65 104.45h0M130.51 105.66h0M131.67 106.47h0M130.05 104.45h0M130.21 106.07h0M133.95 105.26h0M129.46 104.86h0M130.92 106.07h0M142.65 105.26h0M143.21 106.07h0M140.75 106.07h0M144.47 106.07h0M125.34 193.32h0M121.89 192.15h0M120.06 190.99h0M125.02 194.49h0M124.59 197.4h0M130.72 195.65h0M123.65 195.07h0M122.62 191.57h0M123.97 195.65h0M129.13 194.49h0M121.18 199.73h0M127.54 196.82h0M120.97 195.07h0M121.79 194.49h0M119.76 193.9h0M124.22 193.32h0M117.77 195.65h0M124.4 198.57h0M115.84 195.07h0M124.97 199.15h0M117.37 195.07h0M121.35 199.97h0M120.13 197.4h0M121.89 190.41h0M121.39 192.74h0M128.8 193.9h0M124.22 196.82h0M124.34 199.15h0M126.66 197.99h0M127.06 193.32h0M120.9 195.65h0M131.68 195.65h0M127.71 195.07h0M122.64 193.32h0M119.68 194.49h0M118.21 195.07h0M120.38 192.15h0M125 195.65h0M124.66 193.32h0M123.11 192.74h0M131.32 193.9h0M119.15 197.4h0M122.24 196.82h0M123.96 193.9h0M118.38 194.49h0M121.16 199.15h0M121.09 198.57h0M121.14 192.74h0M125.41 196.24h0M128.88 196.82h0M127.99 193.9h0M118.67 195.65h0M122.9 199.15h0M125.31 193.9h0M125.47 193.32h0M127.86 195.65h0M122.44 197.99h0M126.61 193.32h0M125.59 194.49h0M125.54 195.65h0M120.44 195.07h0M122.23 193.9h0M125.47 193.9h0M120.16 194.49h0M127.13 196.82h0M126.29 197.4h0M121.13 196.82h0M124.42 190.99h0M127.38 192.74h0M121.29 193.32h0M121.5 196.82h0M123.88 196.82h0M128.96 196.82h0M122.34 195.07h0M124.39 194.49h0M120.52 195.65h0" stroke="#c80098" stroke-width="1.36" stroke-linecap="round" fill="none"/>
<path d="M142.89 18.17h0M147.15 17.49h0M144.78 17.49h0M140.37 12.73h0M142.58 15.45h0M147.38 14.09h0M141 18.17h0M148.48 13.41h0M141.13 16.81h0M146.5 16.81h0M146.18 17.49h0M139.39 14.77h0M125.84 69.5h0M127.97 67.45h0M126.67 68.14h0M126.99 62.67h0M142.84 67.45h0M143.8 66.77h0M122.46 64.04h0M120.73 68.82h0M131.46 69.5h0M122.89 62.67h0M143.86 67.45h0M135.2 68.82h0M132.43 69.5h0M121.96 66.09h0M135.22 64.72h0M126.77 68.82h0M137.86 67.45h0M129.31 66.77h0M137.46 66.77h0M138.91 68.14h0M128.65 64.72h0M129.57 66.77h0M145.05 66.77h0M142.44 66.09h0M141.46 66.77h0M132.96 68.82h0M128.15 67.45h0M127.45 65.4h0M133.51 70.18h0M133.68 68.14h0M125.97 66.09h0M135.6 65.4h0M126.9 69.5h0M131.11 67.45h0M125.09 65.4h0M140.32 68.82h0M139.81 68.14h0M123.7 67.45h0M130.67 62.67h0M137.91 68.14h0M122.68 66.09h0M125.69 70.18h0M122.9 67.45h0M128.78 69.5h0M126.27 66.77h0M126.36 67.45h0M143.07 66.77h0M130.2 69.5h0M139.4 66.09h0M129.61 65.4h0M135.76 68.14h0M122.49 68.14h0M138.84 66.77h0M131.35 68.82h0M132.16 66.77h0M121.74 68.14h0M122.34 63.36h0M130.22 68.82h0M133.88 64.72h0M131.69 67.45h0M125.39 68.14h0M131.59 64.04h0M128.92 67.45h0M129.71 64.04h0M127.03 66.77h0M127.68 68.14h0M123.57 66.77h0M139.96 65.4h0M135.57 67.45h0M130.07 67.45h0M131.74 68.14h0M127.46 62.67h0M132.63 64.72h0M133.98 68.14h0M127.49 61.99h0M123.05 66.09h0M132.64 62.67h0M136.25 70.18h0M140.16 67.45h0M126.8 65.4h0M126.74 70.87h0M125.01 66.09h0M138.52 68.82h0M129.4 207.9h0M136.11 206.02h0M127.73 208.28h0M130.92 206.77h0M137.08 209.78h0M135.25 206.02h0M138.1 207.15h0M137.61 207.52h0M141.14 207.15h0M136.62 210.16h0M139.8 207.52h0M132.35 208.28h0M137.1 205.64h0M127.85 208.65h0M132.79 209.03h0M126.52 209.03h0M131.46 209.03h0M127.79 207.52h0M129.94 206.39h0M134.31 206.77h0M141.04 208.65h0M140.75 208.28h0M149.69 208.65h0M145.01 207.52h0M139.4 207.9h0M136.73 206.02h0M134.4 208.28h0M123.73 208.28h0M135 208.65h0M150.22 208.28h0M132.03 206.77h0M152.16 207.9h0M148.47 208.28h0M128.74 208.65h0M134.67 209.41h0M128.62 208.28h0M167.7 207.9h0M136.69 206.39h0M133.34 207.52h0M131.04 209.41h0M128.97 209.03h0M146.65 207.52h0M132.24 207.52h0M129.5 207.52h0M145.89 207.15h0M142.04 208.28h0M138.48 207.9h0M132.6 207.9h0M123.63 207.52h0M124.51 207.9h0M129.45 208.28h0M133.2 207.15h0M130.63 209.41h0M136.96 207.9h0M135.81 209.41h0M145.62 207.15h0M126.38 207.52h0M144.81 207.52h0M138.46 206.39h0M146.35 208.65h0M135.39 209.78h0M133.37 207.9h0M146.9 207.9h0M136.39 208.28h0M143.83 208.28h0M133.48 209.78h0M139.83 208.65h0M129.93 207.15h0M131.65 206.02h0M129.32 206.02h0M135.05 207.15h0M132.55 208.65h0M133.54 208.65h0M153.25 207.9h0M132.2 209.41h0M135.92 206.39h0M125.3 207.9h0M146.43 209.03h0M124.03 207.15h0M132.46 206.77h0M144.52 208.65h0M123.74 207.15h0M134.96 208.28h0M130.46 209.03h0M148.69 208.28h0M140.17 209.03h0M131.71 206.39h0M126.36 208.65h0M140.1 206.77h0M135.57 210.16h0M125.03 208.28h0M146.63 208.65h0M141.24 207.9h0M125.57 243.85h0M128.93 244.48h0M129.42 247.03h0M112.55 246.39h0M129.99 246.39h0M122.67 243.85h0" stroke="#d5008f" stroke-width="1.36" stroke-linecap="round" fill="none"/>
<path d="M155.01 18.17h0M157.6 14.77h0M151.3 12.05h0M155.67 15.45h0M153.84 14.77h0M151.45 13.41h0M153.07 18.17h0M154.31 14.77h0M159.61 14.09h0M151.22 16.13h0M151.73 14.77h0M151.08 14.77h0M154.83 14.09h0M150.04 14.09h0M153.79 16.13h0M152.34 18.17h0M151.58 15.45h0M138.31 26.57h0M149.35 29.99h0M139.72 32.18h0M140.73 27.71h0M124.99 28.28h0M134.5 28.28h0M129.44 27.14h0M130.27 28.85h0M147.66 27.71h0M137.01 29.42h0M140.36 28.28h0M132.78 28.85h0M127.49 28.28h0M153.9 27.14h0M151.87 28.85h0M152.24 26.57h0M147.89 29.99h0M144.64 26h0M135.59 26h0M138.8 29.42h0M141.82 31.13h0M130.58 28.85h0M145.73 26h0M136.46 27.14h0M138.54 26.57h0M130.89 27.14h0M148.5 27.14h0M145.52 31.7h0M132.85 29.42h0M140.91 28.85h0M142.32 30.56h0M146.31 26h0M143.54 31.13h0M139.46 31.13h0M145.39 26.57h0M133.48 26.57h0M142.97 30.56h0M141.23 26.57h0M130.98 29.42h0M141.78 24.38h0M153.44 29.42h0M134.03 29.42h0M146.48 31.7h0M133.9 29.42h0M154.99 28.28h0M145.64 25.43h0M131.56 29.42h0M151.81 26h0M150.34 28.85h0M146.68 28.28h0M137.46 26.57h0M149.37 28.28h0M148.54 28.28h0M134.94 29.99h0M143.4 26.57h0M146.46 28.85h0M152.33 29.42h0M126.04 28.85h0M136.77 28.28h0M153.18 27.71h0M137.32 27.71h0M144.58 29.99h0M139.38 30.56h0M142.66 28.28h0M141.87 24.38h0M138.35 29.99h0M152.08 27.71h0M132.93 41.75h0M127.82 41.43h0M126.7 40.47h0M133.09 40.47h0M128.77 40.15h0M138.2 41.43h0M127.9 41.75h0M125.73 41.11h0M135.23 41.75h0M132.65 42.07h0M142.06 41.11h0M131 42.07h0M141.32 42.07h0M131.47 40.15h0M136.84 41.75h0M141.32 41.43h0M136.34 41.43h0M133.38 41.43h0M135.54 41.43h0M129.7 42.07h0M128.56 40.47h0M129.78 41.11h0M133.88 41.75h0M128.7 42.39h0M136.08 40.79h0M131.42 40.79h0M130.6 41.43h0M136.95 41.11h0M135.29 40.47h0M131.2 41.43h0M142.39 41.11h0M126.77 41.43h0M133.69 40.47h0M136.38 40.79h0M133.23 41.11h0M129.42 80.15h0M136.24 79.6h0M129.61 83.9h0M134.62 82.35h0M120.62 78.5h0M135.66 79.05h0M116.65 79.6h0M126.46 82.35h0M117.57 78.5h0M129.22 81.25h0M128.3 82.35h0M131.93 77.95h0M120.14 82.35h0M123.56 77.95h0M125.22 79.05h0M132.18 77.4h0M129.76 77.4h0M131.01 77.4h0M127.81 83.44h0M129.09 80.15h0M133.53 78.5h0M130.41 80.7h0M131.78 79.05h0M118.72 80.7h0M134.14 77.95h0M114.92 79.05h0M128.89 81.8h0M139.52 79.6h0M134.37 81.25h0M131.61 78.5h0M127.21 79.6h0M128.51 80.7h0M125.87 77.95h0M128.2 78.5h0M121.35 80.15h0M121.8 79.05h0M119.78 78.5h0M129.94 75.3h0M114.82 79.6h0M124.85 79.6h0M120.23 79.05h0M121.49 81.8h0M135.88 80.7h0M120.39 77.95h0M122.91 80.15h0M128.73 76.31h0M124.29 79.6h0M125.7 81.8h0M119.35 78.5h0M130.01 75.3h0M136.67 80.15h0M122.22 78.5h0M124.39 76.31h0M121.81 77.95h0M120.87 80.15h0M131.08 81.25h0M129.49 83.44h0M117.9 81.25h0M129.9 78.5h0M131.87 78.5h0M129.77 77.95h0M129.19 77.95h0M115.8 79.05h0M125.05 78.5h0M130.07 79.05h0M124.76 79.05h0M129.78 81.8h0M121.28 79.6h0M118.25 79.05h0M116.12 81.25h0M126.34 79.6h0M123.45 79.6h0M135.4 80.15h0M125.27 77.95h0M127.68 78.5h0M126.01 79.05h0M115.99 80.7h0M121.49 81.25h0M123.4 80.7h0M137.04 79.05h0M126.94 79.05h0M122.8 171.48h0M137.92 169.41h0M123.2 170.79h0M127.88 168.03h0M129.18 168.72h0M140.54 169.41h0M120.34 167.34h0M124.03 168.72h0M134.78 167.34h0M126.21 169.41h0M143.57 168.72h0M135.86 169.41h0M119.72 168.72h0M125.66 170.1h0M120.09 169.41h0M124.08 171.48h0M139.88 169.41h0M139.22 170.1h0M125.25 169.41h0M119.63 170.1h0M121.55 172.17h0M122.78 173.54h0M137.17 168.72h0M123.25 170.1h0M121.05 170.1h0M143.39 170.1h0M132.85 171.48h0M129.02 168.03h0M119 168.72h0M119.2 168.03h0M117.24 169.41h0M126.18 172.17h0M132.28 171.48h0M124.38 170.79h0M129.43 167.34h0M128.35 170.1h0M142.66 168.72h0M122.4 171.48h0M124.77 172.86h0M120.68 168.03h0M121.61 167.34h0M131.66 169.41h0M128.39 170.79h0M133.69 166.65h0M121.29 168.72h0M133.67 169.41h0M124.17 167.34h0M143.86 170.79h0M120.02 170.1h0M131.87 169.41h0M141.98 170.79h0M123.12 172.17h0M124.97 171.48h0M127.53 167.34h0M126.53 170.79h0M138.74 168.03h0M134.25 167.34h0M134.11 172.17h0M129.65 172.17h0" stroke="#e00086" stroke-width="1.36" stroke-linecap="round" fill="none"/>
<path d="M155.3 28.85h0M155.74 28.28h0M166.16 42.07h0M150.28 40.47h0M164.2 41.43h0M167.69 41.43h0M161.36 41.75h0M164.97 41.11h0M163.14 40.47h0M160.97 41.43h0M154.43 42.07h0M152.43 41.43h0M158.1 40.15h0M144.18 41.11h0M152.93 41.43h0M169.66 40.79h0M160.68 41.11h0M163.68 40.47h0M153.67 40.47h0M154.24 41.11h0M163.91 42.07h0M166.14 41.43h0M147.47 42.07h0M146.85 41.75h0M147.17 41.43h0M147.36 40.47h0M144.53 40.79h0M155.45 41.43h0M163.1 41.75h0M154.21 41.43h0M167.2 41.11h0M161.84 41.11h0M147.64 41.11h0M151.21 40.15h0M160.7 42.07h0M150.01 41.43h0M151.36 41.75h0M151.07 40.79h0M159.65 40.79h0M152.52 105.26h0M155.29 105.66h0M151.49 105.26h0M152.42 105.66h0M154.04 104.45h0M81.8 182.95h0M66.85 182.24h0M67.67 181.89h0M90.35 182.59h0M87.72 182.59h0M89.49 181.89h0M79.99 182.95h0M85.77 181.89h0M79.72 181.89h0M60.43 182.59h0M93.52 182.24h0M68.78 182.24h0M63.25 182.24h0M66.46 181.89h0M60.99 182.24h0M86.43 182.59h0M70.22 182.24h0M87.82 183.3h0M90.28 183.3h0M91.02 181.18h0M78.63 183.3h0M82.31 182.59h0M79.06 181.53h0M64.42 182.59h0M90.93 181.89h0M75.3 182.24h0M90.52 182.24h0M65.52 181.89h0M78.59 182.24h0M87.16 182.24h0M63.6 182.24h0M73.75 182.95h0M61.62 182.24h0M65.9 182.95h0M93.25 182.59h0M80.57 182.24h0M92.67 182.24h0M73.04 181.89h0M81.98 182.59h0M63.07 183.3h0M62.94 183.65h0M92.11 182.95h0M85.63 182.59h0M72.02 182.24h0M77.56 182.59h0M72.04 182.95h0M81.47 181.89h0M76.6 181.89h0M90.17 181.18h0M93.81 182.24h0M91.23 182.59h0M86.97 181.53h0M79.62 181.18h0M91.97 183.3h0M77.08 182.95h0M93.76 182.59h0M85.49 181.89h0M83.51 182.59h0M73.54 182.24h0M83.04 182.95h0M78.44 182.95h0M60.72 181.89h0M68.06 182.59h0M132.96 220.73h0M118.94 221.62h0M133.07 221.62h0M119.96 218.07h0M118.44 220.73h0M125.01 223.39h0M126.59 221.62h0M127.11 216.29h0M125.78 218.07h0M129.25 221.62h0M127.2 217.18h0M125.25 224.28h0M133.3 221.62h0M121.4 222.51h0M119.35 218.95h0M139.28 220.73h0M121.15 218.07h0M128.87 220.73h0M118.3 221.62h0M126.24 222.51h0M118.43 218.95h0M133.32 218.95h0M142.45 221.62h0M129.38 218.95h0M123.44 219.84h0M118.79 222.51h0M120.48 218.95h0M127.87 225.17h0M128.64 219.84h0M141.49 220.73h0M138.53 220.73h0M124.02 219.84h0M133.57 219.84h0M122.07 218.95h0M134.02 219.84h0M124.98 222.51h0M125.62 225.17h0M122.04 220.73h0M142.77 220.73h0M135.51 223.39h0M119.68 218.95h0M132.44 219.84h0M130.31 219.84h0M125.05 220.73h0M127.21 222.51h0M130.76 219.84h0M121.99 224.28h0M124.39 223.39h0M121.3 220.73h0M130.41 218.07h0M122.75 223.39h0M122.89 218.95h0M128.45 222.51h0M126.89 220.73h0M135.96 220.73h0M129.38 223.39h0M120.06 218.07h0M129.61 220.73h0M119.56 216.29h0M146.17 220.73h0M129.27 218.07h0M125.01 215.83h0M127.22 220.73h0M122.21 217.18h0M142.43 220.73h0M90.52 247.03h0M101.39 247.66h0M105.21 245.75h0M106.96 246.39h0M83.07 247.03h0M99.56 243.21h0M98.53 248.3h0M84.02 247.03h0M93.47 245.12h0M100.96 247.03h0M79.34 247.03h0M111.03 245.75h0M99.4 245.75h0M91.73 245.75h0M83.24 247.66h0M83.39 248.3h0M90.27 246.39h0M99.39 244.48h0M87.83 248.93h0M109.25 247.66h0M89.06 247.03h0M93.03 246.39h0M104.12 248.3h0M96.01 247.66h0M101.3 247.03h0M98.86 248.3h0M88.22 246.39h0M94.4 247.66h0M106.27 246.39h0M101.68 247.66h0M78.87 247.03h0M102.56 245.12h0M106.84 247.66h0M104.88 246.39h0M83.86 245.12h0M93.41 247.03h0M91.9 246.39h0M102.83 247.66h0M107.73 246.39h0M85.51 247.03h0M103.04 245.12h0M96.19 245.12h0M94.11 244.48h0M83.72 247.66h0M99.3 248.3h0M87.56 245.75h0M83.88 245.75h0M88.56 247.66h0M102.68 247.66h0M81.48 247.03h0M100.71 248.3h0M99.4 245.12h0M109.69 246.39h0M83.12 245.12h0M92.72 245.75h0M88.74 245.12h0M93.43 248.3h0M85.13 246.39h0M78.26 245.75h0M111.64 245.75h0M103.63 245.75h0M105.68 245.75h0M78.93 245.75h0M109.67 245.75h0M85.24 247.03h0M110.27 246.39h0M87.75 247.03h0M91.86 245.12h0M90.78 246.39h0M105.03 247.66h0M89.12 246.39h0M82.45 247.03h0M87.94 245.12h0M91.95 245.75h0M96.42 248.93h0M82.12 246.39h0M94.86 247.03h0M87.39 247.03h0M89.94 248.3h0M90.65 247.03h0M107.45 245.75h0M106.15 246.39h0M107.99 246.39h0M106.62 247.03h0M104.58 247.03h0M102.16 246.39h0M100.99 245.12h0M100.45 245.12h0M79.61 246.39h0M97.68 246.39h0M92.69 248.3h0" stroke="#e9007c" stroke-width="1.36" stroke-linecap="round" fill="none"/>
<path d="M117.2 28.28h0M123 28.28h0M121 28.28h0M176.3 41.11h0M154.57 54.29h0M141.78 54.65h0M159.44 53.94h0M167.37 54.29h0M156.16 54.29h0M146.99 53.94h0M147.95 54.29h0M153.08 55h0M168.91 53.94h0M166.26 53.94h0M151.18 55h0M153.86 53.59h0M169.17 54.65h0M151.2 53.59h0M146.16 54.65h0M163.78 54.29h0M148.89 55h0M155.15 54.65h0M161.31 53.59h0M147.99 53.23h0M161.83 53.94h0M139.23 53.59h0M156.85 55h0M162.24 54.29h0M144.64 53.23h0M169.62 53.94h0M155.28 55h0M139.59 54.65h0M143.4 53.94h0M154.93 52.88h0M148.63 53.59h0M144.55 54.29h0M166.39 53.94h0M168.38 53.94h0M155 55.36h0M161.98 54.65h0M152.27 53.23h0M148.32 54.65h0M151.86 52.88h0M163.81 55h0M163.07 53.59h0M161.82 54.65h0M144.35 54.65h0M153.53 53.94h0M166.46 54.29h0M152.82 53.94h0M146.85 54.29h0M163.57 53.94h0M146.91 53.59h0M150.5 53.59h0M165.15 53.94h0M147.68 54.29h0M168.69 53.23h0M162.14 53.94h0M163.71 54.65h0M163.24 105.66h0M157.43 104.86h0M160.19 106.07h0M157.63 106.07h0M166.18 104.86h0M156.47 106.07h0M59.63 182.24h0" stroke="#f20072" stroke-width="1.36" stroke-linecap="round" fill="none"/>
<path d="M159 28.28h0M133.5 53.94h0M192.48 53.23h0M186.07 53.94h0M175.62 55h0M185.97 55.36h0M185.8 56.07h0M177.69 55h0M190.15 53.59h0M181.22 53.94h0M187.16 54.29h0M171.15 53.59h0M175.6 53.23h0M182.14 54.65h0M188.34 53.59h0M185.63 55.71h0M175.39 53.59h0M177.95 54.65h0M185.62 54.29h0M182.79 53.94h0M176.85 53.94h0M181.11 54.29h0M185.67 55h0M189.53 53.59h0M188.62 53.94h0M184.5 54.29h0M193.73 54.29h0M191.42 54.29h0M173.45 54.29h0M186.43 53.23h0M181.06 53.23h0M183.36 53.59h0M173.24 53.59h0M78.86 93.44h0M105.92 92.94h0M87.38 91.92h0M93.15 93.44h0M90.98 91.92h0M90.04 90.4h0M63.19 92.43h0M59.19 92.43h0M74.37 92.43h0M67 92.43h0M101.05 91.92h0M90.92 94.46h0M77.98 92.94h0M90.63 90.91h0M96.17 94.46h0M64.86 92.43h0M170.16 106.07h0M170.76 105.66h0M168.34 105.66h0M170.65 105.26h0M167.32 105.26h0M170.29 104.86h0M100.67 116.16h0M107.43 118.73h0M108.92 117.45h0M102.53 120.02h0M101.4 120.02h0M95.21 119.38h0M86.57 118.09h0M107.09 120.02h0M104.81 115.52h0M104.09 120.66h0M96.88 118.73h0M103.03 118.73h0M65.52 182.59h0M57.92 182.59h0M73.73 182.59h0M139.23 233.56h0M133.82 234.64h0M124.74 233.02h0M142.15 233.56h0M130.88 233.02h0M140.3 233.56h0M137.57 233.56h0M130 233.02h0M128.46 233.02h0M144.77 234.64h0M132.04 234.1h0M148.94 233.02h0M127.01 232.48h0M132.44 233.56h0M125.58 233.56h0M149.13 233.56h0M128.24 234.1h0M144.76 234.1h0M132 234.64h0M152.59 234.1h0M138.64 234.64h0M131.12 233.56h0M139.74 234.1h0M140.32 235.18h0M132.97 232.48h0M137.71 233.02h0M135.18 233.56h0M122.82 233.56h0M135.56 234.1h0M135.9 233.02h0M138.35 234.1h0M133.16 235.18h0M124.14 233.02h0M141.73 234.1h0M140.5 232.48h0M134.81 234.1h0M129.46 234.1h0M140.41 234.64h0M125.42 233.02h0M143.36 235.18h0M129.58 233.56h0M163.4 233.56h0M145.37 233.02h0M126.73 233.56h0M157.62 233.56h0M143.97 233.56h0M126.56 234.1h0M125.57 234.1h0M138.58 235.18h0M131.52 232.48h0M128.82 233.56h0M133.27 233.56h0M130.53 233.02h0M129 231.4h0M144.25 233.56h0M136.19 234.1h0M132.83 233.02h0M142.84 232.48h0M137.56 232.48h0M122.16 234.1h0M139.13 232.48h0M125.58 234.64h0M138.7 234.1h0M141.98 233.56h0M152.81 233.02h0M135.98 235.18h0M151.15 234.1h0M148.97 234.1h0M119.09 259.22h0M124.17 258.63h0M115.69 259.81h0M120.14 257.45h0M121.73 258.63h0M121.47 256.87h0M114.93 259.81h0M123.6 257.45h0M125.12 256.28h0M119.88 258.63h0M122.56 261.57h0M130.04 258.63h0M125.28 262.16h0M119.67 262.16h0M124.38 257.45h0M123.13 262.16h0M115.86 260.4h0M115.32 260.4h0" stroke="#f90067" stroke-width="1.36" stroke-linecap="round" fill="none"/>
<path d="M115.17 16.81h0M130.28 19.15h0M122.38 17.49h0M134.06 16.81h0M163.06 16.13h0M158.09 16.81h0M150.53 18.85h0M138.53 14.77h0M122.86 14.77h0M114.19 14.77h0M126.66 16.81h0M129.06 16.81h0M158.26 14.09h0M126.88 14.77h0M135.53 27.71h0M141.84 26h0M148.72 30.56h0M141.95 28.85h0M130.47 27.71h0M134.53 28.85h0M136.32 64.04h0M120.14 67.45h0M128.91 64.04h0M131.47 66.09h0M118.39 66.77h0M127.69 68.82h0M130.65 64.72h0M143.13 66.09h0M125.59 66.09h0M122.29 80.7h0M127.98 79.6h0M137.4 79.6h0M115.45 80.15h0M120.85 80.7h0M122.95 172.86h0M121.2 171.48h0M138.33 170.1h0M121.42 170.1h0M119.95 168.72h0M138.39 171.48h0M133.88 170.1h0M121.69 168.03h0M135.57 168.72h0M139.19 169.41h0M121.2 190.17h0M124.49 199.73h0M124.08 191.57h0M124.76 192.74h0M120.43 197.4h0M118.75 193.32h0M125.93 195.65h0M127.06 193.9h0M123.92 192.74h0M123.49 197.99h0M119.58 195.65h0M121.81 195.65h0M126.79 196.82h0M122.99 195.07h0M124.55 191.57h0M123.39 193.32h0M117.79 196.24h0M128.7 197.4h0" stroke="#fe005c" stroke-width="1.36" stroke-linecap="round" fill="none"/>
<path d="M100.4 131.79h0M108.76 133.52h0M105.42 128.32h0M98.67 130.92h0M105.45 134.39h0M105.78 132.65h0M90.57 130.05h0M102.9 132.65h0M104.3 132.65h0M102.53 133.52h0M107.89 130.92h0M110.44 130.05h0M110.07 130.92h0M88.37 130.92h0M99.52 132.65h0M101.65 135.82h0M101.86 135.25h0M107.47 134.39h0M101.07 128.32h0M97.58 132.65h0M107.18 128.32h0M95.51 130.05h0M101.98 135.25h0M90.05 130.05h0M102.89 134.39h0M108.89 131.79h0M103.09 135.82h0M89.89 132.65h0M107.59 132.65h0M102.06 128.32h0M101.76 133.52h0M100.44 135.25h0M100.72 129.19h0M103.27 127.45h0M93.14 132.65h0M101.07 127.45h0M100.73 128.32h0M102.17 132.65h0M92.2 131.79h0M94.77 132.65h0M98.21 130.05h0M104.06 132.65h0M106.82 129.19h0M104.73 129.19h0M109.72 131.79h0M105.52 131.79h0M96.83 130.92h0M100 135.25h0M108.65 129.19h0M108.06 133.52h0M100.25 133.52h0M109.8 130.05h0M97.96 130.05h0M100.06 131.79h0M109.82 132.65h0M97.04 132.65h0M96.56 130.05h0M106.17 130.05h0M107.09 131.79h0M101.05 130.92h0M105.95 128.32h0M109.37 130.92h0M105.44 129.19h0M109.48 130.05h0M109.24 129.19h0M102.3 126.02h0M94.57 132.65h0M104.47 130.05h0M100.12 132.65h0M107.42 129.19h0M97.64 131.79h0M96.03 130.05h0M103.99 131.79h0M101.36 132.65h0M98.97 134.39h0M95.53 130.92h0M91.9 130.05h0M102.26 130.05h0M100.96 131.79h0M100.64 132.65h0M108.38 132.65h0M99.67 139.45h0M104.83 146.68h0M102.18 141.55h0M108.66 143.02h0M99.94 144.48h0M102.39 145.95h0M100.09 143.75h0M98.84 145.95h0M98.94 144.48h0M105.47 145.95h0M103.73 140.82h0M95.33 145.22h0M99.46 140.82h0M94.44 143.02h0M97.94 145.22h0M102.16 143.75h0M107.54 141.55h0M106.13 140.09h0M89 143.75h0M102.05 143.02h0M95.26 143.75h0M104.84 143.75h0M102.91 143.02h0M102.54 143.02h0M110.74 145.22h0M97.1 145.22h0M102.42 141.55h0M102.13 144.48h0M104.32 143.02h0M103.48 141.55h0M103.97 141.55h0M101.61 144.48h0M94.39 145.22h0M109.67 145.22h0M99.54 148.05h0M104.1 146.68h0M108.98 143.02h0M97.99 143.75h0M108.06 143.02h0M104.3 148.05h0M103.91 142.28h0M110.07 144.48h0M100.27 145.95h0M104.42 142.28h0M99.15 140.82h0M101.65 147.41h0M106.64 148.05h0M95.2 143.75h0M104.98 140.09h0M96.28 146.68h0M98.21 143.02h0M100.04 143.02h0M103.61 144.48h0M93.94 143.75h0M106.13 147.41h0M96.12 143.75h0M107.39 142.28h0M101.69 141.55h0M106.13 143.02h0M96.47 142.28h0M106.73 143.75h0M104.65 146.68h0M92.14 144.48h0M98.61 143.75h0M109.65 143.75h0M101.48 140.09h0M107.58 148.05h0M95.06 143.02h0M103.54 146.68h0M97.59 140.82h0M106.83 141.55h0M103.81 139.45h0M106.96 146.68h0M101.77 143.75h0M106.74 146.68h0M93.47 143.02h0M107 140.82h0M100.16 142.28h0M107.09 142.28h0M99.12 143.75h0M99.73 145.95h0M95.55 142.28h0M107.15 145.22h0M103.78 140.09h0M101.18 145.22h0M105.25 145.95h0M99.34 142.28h0M93.97 144.48h0M100.33 143.75h0M106.38 141.55h0M101.48 156.03h0M91.2 156.58h0M92.37 156.58h0M103.5 158.77h0M102.31 157.68h0M94.94 156.58h0M101.4 154.94h0M102.48 155.48h0M97.41 154.39h0M103.84 158.77h0M87.55 157.13h0M99.05 158.77h0M99.87 158.22h0M102.83 154.94h0M106.74 157.68h0M95.76 156.03h0M101.26 158.22h0M103.09 156.58h0M103.26 157.68h0M100.87 156.58h0M102.06 157.13h0M92.23 156.58h0M98.75 154.94h0M104.15 156.03h0M99.91 155.48h0M107.78 158.22h0M102.9 157.68h0M101.8 158.77h0M100.69 154.94h0M100.48 157.13h0M97.41 157.13h0M94.59 155.48h0M96.32 155.48h0M90.82 156.03h0M105.33 157.13h0M104.51 156.58h0M90.78 156.58h0M102.52 158.22h0M93.01 156.03h0M103.6 156.58h0M97.81 156.58h0M99.53 156.03h0M101.84 155.48h0M97.15 153.84h0M104.03 158.22h0M96.07 156.58h0M98.59 154.94h0M107.74 155.48h0M102.67 159.32h0M93.22 157.13h0M97.58 156.03h0M95.15 158.77h0M108.13 156.58h0M104.29 155.48h0M94.32 157.13h0M85.1 156.58h0M96.85 154.94h0M110.55 156.58h0M88.21 157.13h0M107.24 157.13h0M93.41 156.03h0M91.83 158.22h0M94.16 157.68h0M98.27 158.22h0M103.73 155.48h0M100.74 156.03h0M107.46 156.03h0M102.65 153.84h0M103.54 158.22h0M94.84 157.13h0M97.26 154.94h0M97.65 159.87h0M96.12 156.03h0M101.14 153.84h0M103.46 157.13h0M101.44 159.32h0M96.04 155.48h0M88.47 156.58h0M109.15 157.68h0M95.82 158.77h0M98.31 156.58h0M96.21 157.68h0M91.43 156.58h0M100.86 155.48h0M89.46 157.13h0M96.9 158.22h0M88.95 156.58h0M100.63 155.48h0M99.41 158.22h0M98.68 157.68h0M100.85 157.13h0M98.37 158.77h0M97.87 156.03h0M97.08 157.13h0M97.17 154.39h0M102.82 155.48h0M94.42 156.58h0M96.61 154.94h0M126.34 224.28h0M144.63 218.95h0M119.15 220.73h0M125.27 216.29h0M119.79 223.39h0M125.23 218.07h0M130.2 220.73h0M126.13 219.84h0M122.12 218.07h0" stroke="#ff0051" stroke-width="1.36" stroke-linecap="round" fill="none"/>
<text x="34.3" y="17.6" font-size="6.20" text-anchor="end" font-weight="normal" fill="#262626" >Feature 410</text>
<text x="34.3" y="30.5" font-size="6.20" text-anchor="end" font-weight="normal" fill="#262626" >Feature 402</text>
<text x="34.3" y="43.3" font-size="6.20" text-anchor="end" font-weight="normal" fill="#262626" >Feature 397</text>
<text x="34.3" y="56.1" font-size="6.20" text-anchor="end" font-weight="normal" fill="#262626" >Feature 406</text>
<text x="34.3" y="69.0" font-size="6.20" text-anchor="end" font-weight="normal" fill="#262626" >Feature 418</text>
<text x="34.3" y="81.8" font-size="6.20" text-anchor="end" font-weight="normal" fill="#262626" >Feature 86</text>
<text x="34.3" y="94.6" font-size="6.20" text-anchor="end" font-weight="normal" fill="#262626" >Feature 48</text>
<text x="34.3" y="107.5" font-size="6.20" text-anchor="end" font-weight="normal" fill="#262626" >Feature 73</text>
<text x="34.3" y="120.3" font-size="6.20" text-anchor="end" font-weight="normal" fill="#262626" >Feature 405</text>
<text x="34.3" y="133.1" font-size="6.20" text-anchor="end" font-weight="normal" fill="#262626" >Feature 153</text>
<text x="34.3" y="145.9" font-size="6.20" text-anchor="end" font-weight="normal" fill="#262626" >Feature 118</text>
<text x="34.3" y="158.8" font-size="6.20" text-anchor="end" font-weight="normal" fill="#262626" >Feature 145</text>
<text x="34.3" y="171.6" font-size="6.20" text-anchor="end" font-weight="normal" fill="#262626" >Feature 449</text>
<text x="34.3" y="184.4" font-size="6.20" text-anchor="end" font-weight="normal" fill="#262626" >Feature 407</text>
<text x="34.3" y="197.3" font-size="6.20" text-anchor="end" font-weight="normal" fill="#262626" >Feature 404</text>
<text x="34.3" y="210.1" font-size="6.20" text-anchor="end" font-weight="normal" fill="#262626" >Feature 41</text>
<text x="34.3" y="222.9" font-size="6.20" text-anchor="end" font-weight="normal" fill="#262626" >Feature 10</text>
<text x="34.3" y="235.8" font-size="6.20" text-anchor="end" font-weight="normal" fill="#262626" >Feature 289</text>
<text x="34.3" y="248.6" font-size="6.20" text-anchor="end" font-weight="normal" fill="#262626" >Feature 87</text>
<text x="34.3" y="261.4" font-size="6.20" text-anchor="end" font-weight="normal" fill="#262626" >Feature 381</text>
<line x1="44.3" x2="200.2" y1="271.75" y2="271.75" stroke="#9a9a9a" stroke-width="1.2"/>
<line x1="61.45" x2="61.45" y1="271.75" y2="273.55" stroke="#333" stroke-width="0.6"/>
<text x="61.5" y="279.0" font-size="5.20" text-anchor="middle" font-weight="normal" fill="#262626" >−1.0</text>
<line x1="87.95" x2="87.95" y1="271.75" y2="273.55" stroke="#333" stroke-width="0.6"/>
<text x="88.0" y="279.0" font-size="5.20" text-anchor="middle" font-weight="normal" fill="#262626" >−0.5</text>
<line x1="114.45" x2="114.45" y1="271.75" y2="273.55" stroke="#333" stroke-width="0.6"/>
<text x="114.5" y="279.0" font-size="5.20" text-anchor="middle" font-weight="normal" fill="#262626" >0.0</text>
<line x1="140.95" x2="140.95" y1="271.75" y2="273.55" stroke="#333" stroke-width="0.6"/>
<text x="140.9" y="279.0" font-size="5.20" text-anchor="middle" font-weight="normal" fill="#262626" >0.5</text>
<line x1="167.45" x2="167.45" y1="271.75" y2="273.55" stroke="#333" stroke-width="0.6"/>
<text x="167.4" y="279.0" font-size="5.20" text-anchor="middle" font-weight="normal" fill="#262626" >1.0</text>
<line x1="193.95" x2="193.95" y1="271.75" y2="273.55" stroke="#333" stroke-width="0.6"/>
<text x="193.9" y="279.0" font-size="5.20" text-anchor="middle" font-weight="normal" fill="#262626" >1.5</text>
<text x="122.2" y="285.7" font-size="6.40" text-anchor="middle" font-weight="normal" fill="#262626" >SHAP value (impact on model output)</text>
<rect x="210.0" y="2.62" width="3.2" height="269.13" fill="url(#cbar)"/>
<text x="214.8" y="4.8" font-size="5.10" text-anchor="start" font-weight="normal" fill="#262626" >High</text>
<text x="214.9" y="273.9" font-size="5.00" text-anchor="start" font-weight="normal" fill="#262626" >Low</text>
<text x="0.0" y="0.0" font-size="6.00" text-anchor="middle" font-weight="normal" fill="#262626" transform="translate(229.3,137.4) rotate(-90)">Feature value</text>
<text x="76.0" y="307.9" font-size="13.60" text-anchor="start" font-weight="bold" fill="#000" >A</text>
<text x="89.6" y="307.7" font-size="11.10" text-anchor="start" font-weight="normal" fill="#111" >H. sapiens</text>
<line x1="297.9" x2="454.0" y1="15.45" y2="15.45" stroke="#e8e8e8" stroke-width="0.4" stroke-dasharray="0.8 1.0"/>
<line x1="297.9" x2="454.0" y1="28.28" y2="28.28" stroke="#e8e8e8" stroke-width="0.4" stroke-dasharray="0.8 1.0"/>
<line x1="297.9" x2="454.0" y1="41.11" y2="41.11" stroke="#e8e8e8" stroke-width="0.4" stroke-dasharray="0.8 1.0"/>
<line x1="297.9" x2="454.0" y1="53.94" y2="53.94" stroke="#e8e8e8" stroke-width="0.4" stroke-dasharray="0.8 1.0"/>
<line x1="297.9" x2="454.0" y1="66.77" y2="66.77" stroke="#e8e8e8" stroke-width="0.4" stroke-dasharray="0.8 1.0"/>
<line x1="297.9" x2="454.0" y1="79.60" y2="79.60" stroke="#e8e8e8" stroke-width="0.4" stroke-dasharray="0.8 1.0"/>
<line x1="297.9" x2="454.0" y1="92.43" y2="92.43" stroke="#e8e8e8" stroke-width="0.4" stroke-dasharray="0.8 1.0"/>
<line x1="297.9" x2="454.0" y1="105.26" y2="105.26" stroke="#e8e8e8" stroke-width="0.4" stroke-dasharray="0.8 1.0"/>
<line x1="297.9" x2="454.0" y1="118.09" y2="118.09" stroke="#e8e8e8" stroke-width="0.4" stroke-dasharray="0.8 1.0"/>
<line x1="297.9" x2="454.0" y1="130.92" y2="130.92" stroke="#e8e8e8" stroke-width="0.4" stroke-dasharray="0.8 1.0"/>
<line x1="297.9" x2="454.0" y1="143.75" y2="143.75" stroke="#e8e8e8" stroke-width="0.4" stroke-dasharray="0.8 1.0"/>
<line x1="297.9" x2="454.0" y1="156.58" y2="156.58" stroke="#e8e8e8" stroke-width="0.4" stroke-dasharray="0.8 1.0"/>
<line x1="297.9" x2="454.0" y1="169.41" y2="169.41" stroke="#e8e8e8" stroke-width="0.4" stroke-dasharray="0.8 1.0"/>
<line x1="297.9" x2="454.0" y1="182.24" y2="182.24" stroke="#e8e8e8" stroke-width="0.4" stroke-dasharray="0.8 1.0"/>
<line x1="297.9" x2="454.0" y1="195.07" y2="195.07" stroke="#e8e8e8" stroke-width="0.4" stroke-dasharray="0.8 1.0"/>
<line x1="297.9" x2="454.0" y1="207.90" y2="207.90" stroke="#e8e8e8" stroke-width="0.4" stroke-dasharray="0.8 1.0"/>
<line x1="297.9" x2="454.0" y1="220.73" y2="220.73" stroke="#e8e8e8" stroke-width="0.4" stroke-dasharray="0.8 1.0"/>
<line x1="297.9" x2="454.0" y1="233.56" y2="233.56" stroke="#e8e8e8" stroke-width="0.4" stroke-dasharray="0.8 1.0"/>
<line x1="297.9" x2="454.0" y1="246.39" y2="246.39" stroke="#e8e8e8" stroke-width="0.4" stroke-dasharray="0.8 1.0"/>
<line x1="297.9" x2="454.0" y1="259.22" y2="259.22" stroke="#e8e8e8" stroke-width="0.4" stroke-dasharray="0.8 1.0"/>
<line x1="368.30" x2="368.30" y1="2.62" y2="271.75" stroke="#999999" stroke-width="0.8"/>
<path d="M304.5 14.65L309.5 14.44L314 14.1L319 13.55L330 12.06L333.5 11.76L337 11.65L340.5 11.68L343.5 11.87L347 12.29L354.5 13.47L358.5 13.99L363 14.4L367.5 14.63L368 14.55L373 14.24L377 13.73L381 12.92L387.5 11.22L390 10.66L392.5 10.28L395 10.15L398 10.18L399 10.27L400.5 10.52L403 11.16L408 12.75L411 13.56L412.5 13.88L414.5 14.2L418 14.55L418 16.35L414.5 16.7L412.5 17.02L411 17.34L408 18.15L403 19.74L400.5 20.38L399 20.63L398 20.72L395 20.75L392.5 20.62L390 20.24L387.5 19.68L381 17.98L377 17.17L373 16.66L368 16.35L367.5 16.27L363 16.5L358.5 16.91L354.5 17.43L347 18.61L343.5 19.03L340.5 19.22L337 19.25L333.5 19.14L330 18.84L319 17.35L314 16.8L309.5 16.46L304.5 16.25 Z" fill="url(#g0)"/>
<circle cx="419.5" cy="15.4" r="0.75" fill="#008bfb"/>
<path d="M343 27.48L350.5 27.48L351.5 27.33L353 26.89L354 26.48L355 25.98L358 24.27L359 23.82L360 23.55L361 23.48L363 23.51L363.5 23.67L364 23.95L364.5 24.33L367 26.56L367.5 26.91L368.5 27.41L369 27.18L448 27.18L448 29.38L369 29.38L368.5 29.15L367.5 29.65L367 30L364.5 32.23L364 32.61L363.5 32.89L363 33.05L361 33.08L360 33.01L359 32.74L358 32.29L355 30.58L354 30.08L353 29.67L351.5 29.23L350.5 29.08L343 29.08 Z" fill="url(#g1)"/>
<circle cx="352.9" cy="28.5" r="0.6" fill="#9b23ad"/>
<circle cx="351.4" cy="28.3" r="0.6" fill="#9b23ad"/>
<circle cx="356.9" cy="25.7" r="0.6" fill="#9b23ad"/>
<circle cx="359.6" cy="24.5" r="0.6" fill="#9b23ad"/>
<circle cx="358.2" cy="25.3" r="0.6" fill="#9b23ad"/>
<circle cx="351.7" cy="28.2" r="0.6" fill="#9b23ad"/>
<circle cx="365.7" cy="26.4" r="0.6" fill="#9b23ad"/>
<circle cx="354.2" cy="28.6" r="0.6" fill="#9b23ad"/>
<circle cx="368.0" cy="28.4" r="0.6" fill="#9b23ad"/>
<circle cx="357.5" cy="31.4" r="0.6" fill="#9b23ad"/>
<circle cx="350.9" cy="28.5" r="0.6" fill="#9b23ad"/>
<circle cx="355.5" cy="26.8" r="0.6" fill="#9b23ad"/>
<circle cx="352.2" cy="28.1" r="0.6" fill="#9b23ad"/>
<circle cx="365.5" cy="26.7" r="0.6" fill="#9b23ad"/>
<circle cx="361.1" cy="29.5" r="0.6" fill="#9b23ad"/>
<circle cx="357.1" cy="28.6" r="0.6" fill="#008bfb"/>
<circle cx="351.2" cy="28.0" r="0.6" fill="#008bfb"/>
<circle cx="353.9" cy="28.7" r="0.6" fill="#008bfb"/>
<circle cx="358.1" cy="27.0" r="0.6" fill="#008bfb"/>
<circle cx="361.1" cy="27.9" r="0.6" fill="#008bfb"/>
<circle cx="355.7" cy="29.5" r="0.6" fill="#008bfb"/>
<circle cx="363.3" cy="26.2" r="0.6" fill="#008bfb"/>
<circle cx="360.9" cy="28.5" r="0.6" fill="#008bfb"/>
<circle cx="366.6" cy="29.0" r="0.6" fill="#008bfb"/>
<circle cx="355.5" cy="30.3" r="0.6" fill="#008bfb"/>
<circle cx="352.2" cy="28.2" r="0.6" fill="#008bfb"/>
<circle cx="364.4" cy="25.9" r="0.6" fill="#008bfb"/>
<circle cx="359.3" cy="24.5" r="0.6" fill="#008bfb"/>
<circle cx="362.7" cy="30.6" r="0.6" fill="#008bfb"/>
<circle cx="360.9" cy="31.5" r="0.6" fill="#008bfb"/>
<circle cx="393.8" cy="28.5" r="0.6" fill="#9135ba"/>
<circle cx="416.0" cy="28.4" r="0.6" fill="#9135ba"/>
<circle cx="405.0" cy="28.7" r="0.6" fill="#9135ba"/>
<circle cx="443.6" cy="28.2" r="0.6" fill="#9135ba"/>
<circle cx="421.5" cy="27.8" r="0.6" fill="#9135ba"/>
<circle cx="424.4" cy="28.5" r="0.6" fill="#9135ba"/>
<circle cx="447.5" cy="28.7" r="0.6" fill="#9135ba"/>
<circle cx="341.0" cy="28.2" r="0.75" fill="#0084f9"/>
<path d="M339.5 40.31L340.5 40.3L341.5 40.17L344 39.66L346 39.05L350.5 37.34L352 36.91L353.5 36.65L356 36.61L357 36.65L358 36.89L359 37.31L362 38.96L363.5 39.65L365 40.12L366 40.31L366.5 40.34L368 40.02L369.5 39.48L370.5 39L373.5 37.29L374.5 36.87L375.5 36.64L378 36.61L380 36.73L382 37.06L384 37.56L389 39L392 39.69L395 40.15L398 40.41L398 41.81L395 42.07L392 42.53L389 43.22L384 44.66L382 45.16L380 45.49L378 45.61L375.5 45.58L374.5 45.35L373.5 44.93L370.5 43.22L369.5 42.74L368 42.2L366.5 41.88L366 41.91L365 42.1L363.5 42.57L362 43.26L359 44.91L358 45.33L357 45.57L356 45.61L353.5 45.57L352 45.31L350.5 44.88L346 43.17L344 42.56L341.5 42.05L340.5 41.92L339.5 41.91 Z" fill="url(#g2)"/>
<circle cx="349.9" cy="42.2" r="0.6" fill="#fe005c"/>
<circle cx="340.0" cy="41.1" r="0.6" fill="#fe005c"/>
<circle cx="344.0" cy="40.4" r="0.6" fill="#fe005c"/>
<circle cx="341.0" cy="41.3" r="0.6" fill="#fe005c"/>
<circle cx="342.9" cy="40.8" r="0.6" fill="#fe005c"/>
<circle cx="350.1" cy="43.4" r="0.6" fill="#fe005c"/>
<circle cx="341.6" cy="41.1" r="0.6" fill="#fe005c"/>
<circle cx="354.4" cy="44.2" r="0.6" fill="#fe005c"/>
<circle cx="361.8" cy="42.3" r="0.6" fill="#fe005c"/>
<circle cx="347.0" cy="40.8" r="0.6" fill="#fe005c"/>
<circle cx="349.2" cy="43.2" r="0.6" fill="#fe005c"/>
<circle cx="365.5" cy="40.8" r="0.6" fill="#fe005c"/>
<circle cx="344.2" cy="40.6" r="0.6" fill="#fe005c"/>
<circle cx="345.8" cy="41.1" r="0.6" fill="#fe005c"/>
<circle cx="355.5" cy="39.2" r="0.6" fill="#fe005c"/>
<circle cx="339.5" cy="41.1" r="0.6" fill="#fe005c"/>
<circle cx="349.5" cy="41.5" r="0.6" fill="#fe005c"/>
<circle cx="365.4" cy="41.3" r="0.6" fill="#fe005c"/>
<circle cx="353.5" cy="42.0" r="0.6" fill="#fe005c"/>
<circle cx="357.9" cy="37.8" r="0.6" fill="#fe005c"/>
<circle cx="364.0" cy="41.5" r="0.6" fill="#fe005c"/>
<circle cx="363.3" cy="41.7" r="0.6" fill="#754fd1"/>
<circle cx="350.1" cy="40.5" r="0.6" fill="#754fd1"/>
<circle cx="342.2" cy="41.2" r="0.6" fill="#754fd1"/>
<circle cx="341.1" cy="40.8" r="0.6" fill="#754fd1"/>
<circle cx="345.1" cy="40.3" r="0.6" fill="#754fd1"/>
<circle cx="348.7" cy="38.9" r="0.6" fill="#754fd1"/>
<circle cx="339.4" cy="40.9" r="0.6" fill="#754fd1"/>
<circle cx="342.2" cy="41.0" r="0.6" fill="#754fd1"/>
<circle cx="340.1" cy="41.3" r="0.6" fill="#754fd1"/>
<circle cx="356.2" cy="38.3" r="0.6" fill="#754fd1"/>
<circle cx="346.3" cy="40.6" r="0.6" fill="#754fd1"/>
<circle cx="349.3" cy="38.9" r="0.6" fill="#754fd1"/>
<circle cx="362.6" cy="42.5" r="0.6" fill="#754fd1"/>
<circle cx="352.1" cy="41.0" r="0.6" fill="#754fd1"/>
<circle cx="341.7" cy="40.8" r="0.6" fill="#754fd1"/>
<circle cx="348.8" cy="39.8" r="0.6" fill="#754fd1"/>
<circle cx="392.5" cy="40.5" r="0.6" fill="#007cf5"/>
<circle cx="366.7" cy="41.4" r="0.6" fill="#007cf5"/>
<circle cx="382.9" cy="38.8" r="0.6" fill="#007cf5"/>
<circle cx="383.4" cy="38.1" r="0.6" fill="#007cf5"/>
<circle cx="382.9" cy="44.3" r="0.6" fill="#007cf5"/>
<circle cx="393.6" cy="41.4" r="0.6" fill="#007cf5"/>
<circle cx="374.4" cy="40.1" r="0.6" fill="#007cf5"/>
<circle cx="371.3" cy="42.3" r="0.6" fill="#007cf5"/>
<circle cx="383.0" cy="43.0" r="0.6" fill="#007cf5"/>
<circle cx="376.5" cy="38.9" r="0.6" fill="#007cf5"/>
<circle cx="392.0" cy="42.0" r="0.6" fill="#007cf5"/>
<circle cx="393.3" cy="41.5" r="0.6" fill="#007cf5"/>
<circle cx="392.2" cy="41.6" r="0.6" fill="#007cf5"/>
<circle cx="373.3" cy="41.2" r="0.6" fill="#007cf5"/>
<circle cx="377.4" cy="37.3" r="0.6" fill="#007cf5"/>
<circle cx="366.9" cy="41.0" r="0.6" fill="#007cf5"/>
<circle cx="374.3" cy="42.5" r="0.6" fill="#007cf5"/>
<circle cx="396.6" cy="41.1" r="0.6" fill="#007cf5"/>
<circle cx="396.0" cy="41.5" r="0.6" fill="#007cf5"/>
<circle cx="396.6" cy="41.0" r="0.6" fill="#007cf5"/>
<circle cx="373.1" cy="39.4" r="0.6" fill="#007cf5"/>
<circle cx="372.3" cy="39.5" r="0.6" fill="#007cf5"/>
<circle cx="386.0" cy="43.1" r="0.6" fill="#007cf5"/>
<circle cx="392.9" cy="41.1" r="0.6" fill="#007cf5"/>
<circle cx="386.9" cy="42.4" r="0.6" fill="#007cf5"/>
<circle cx="368.7" cy="41.3" r="0.6" fill="#ab15a7"/>
<circle cx="395.1" cy="41.4" r="0.6" fill="#ab15a7"/>
<circle cx="390.0" cy="41.1" r="0.6" fill="#ab15a7"/>
<circle cx="371.7" cy="42.4" r="0.6" fill="#ab15a7"/>
<circle cx="376.6" cy="43.5" r="0.6" fill="#ab15a7"/>
<circle cx="397.1" cy="41.1" r="0.6" fill="#ab15a7"/>
<circle cx="378.8" cy="44.7" r="0.6" fill="#ab15a7"/>
<circle cx="389.2" cy="40.0" r="0.6" fill="#ab15a7"/>
<circle cx="370.1" cy="40.2" r="0.6" fill="#ab15a7"/>
<circle cx="395.0" cy="41.4" r="0.6" fill="#ab15a7"/>
<circle cx="370.7" cy="42.2" r="0.6" fill="#ab15a7"/>
<circle cx="397.4" cy="41.2" r="0.6" fill="#ab15a7"/>
<circle cx="377.2" cy="41.5" r="0.6" fill="#ab15a7"/>
<circle cx="370.2" cy="39.8" r="0.6" fill="#ab15a7"/>
<circle cx="397.1" cy="41.2" r="0.6" fill="#ab15a7"/>
<circle cx="382.9" cy="44.0" r="0.6" fill="#ab15a7"/>
<circle cx="399.0" cy="41.1" r="0.75" fill="#007cf5"/>
<path d="M344 53.04L346 53L351 52.24L353.5 51.99L355.5 51.95L356.5 52.05L357.5 52.23L358 52.03L360 50.47L361 49.8L361.5 49.58L362 49.46L362.5 49.44L364 49.45L364.5 49.64L365 50.06L367 52.44L367.5 52.9L368 53.04L371.5 51.67L372.5 51.43L373.5 51.34L379 52.01L385 52.48L392.5 52.82L401.5 53.04L401.5 54.84L392.5 55.06L385 55.4L379 55.87L373.5 56.54L372.5 56.45L371.5 56.21L368 54.84L367.5 54.98L367 55.44L365 57.82L364.5 58.24L364 58.43L363.5 58.44L362 58.42L361.5 58.3L361 58.08L360 57.41L358 55.85L357.5 55.65L356.5 55.83L355.5 55.93L353.5 55.89L351 55.64L346 54.88L344 54.84 Z" fill="url(#g3)"/>
<circle cx="359.7" cy="55.6" r="0.6" fill="#bb00a0"/>
<circle cx="347.8" cy="53.6" r="0.6" fill="#bb00a0"/>
<circle cx="349.3" cy="53.4" r="0.6" fill="#bb00a0"/>
<circle cx="354.6" cy="53.2" r="0.6" fill="#bb00a0"/>
<circle cx="351.5" cy="53.0" r="0.6" fill="#bb00a0"/>
<circle cx="360.4" cy="53.0" r="0.6" fill="#bb00a0"/>
<circle cx="352.2" cy="54.2" r="0.6" fill="#bb00a0"/>
<circle cx="360.3" cy="53.4" r="0.6" fill="#bb00a0"/>
<circle cx="360.5" cy="54.0" r="0.6" fill="#bb00a0"/>
<circle cx="353.6" cy="54.0" r="0.6" fill="#bb00a0"/>
<circle cx="344.3" cy="53.9" r="0.6" fill="#bb00a0"/>
<circle cx="347.3" cy="53.3" r="0.6" fill="#bb00a0"/>
<circle cx="358.4" cy="52.8" r="0.6" fill="#bb00a0"/>
<circle cx="352.5" cy="54.6" r="0.6" fill="#bb00a0"/>
<circle cx="354.0" cy="53.4" r="0.6" fill="#bb00a0"/>
<circle cx="353.3" cy="54.1" r="0.6" fill="#bb00a0"/>
<circle cx="358.1" cy="52.8" r="0.6" fill="#bb00a0"/>
<circle cx="354.1" cy="53.2" r="0.6" fill="#bb00a0"/>
<circle cx="349.0" cy="54.4" r="0.6" fill="#f20072"/>
<circle cx="353.1" cy="54.1" r="0.6" fill="#f20072"/>
<circle cx="357.7" cy="54.9" r="0.6" fill="#f20072"/>
<circle cx="352.0" cy="54.2" r="0.6" fill="#f20072"/>
<circle cx="353.1" cy="54.0" r="0.6" fill="#f20072"/>
<circle cx="356.5" cy="53.8" r="0.6" fill="#f20072"/>
<circle cx="353.6" cy="53.9" r="0.6" fill="#f20072"/>
<circle cx="360.9" cy="55.4" r="0.6" fill="#f20072"/>
<circle cx="359.8" cy="56.6" r="0.6" fill="#f20072"/>
<circle cx="358.4" cy="54.2" r="0.6" fill="#ab15a7"/>
<circle cx="367.3" cy="54.3" r="0.6" fill="#ab15a7"/>
<circle cx="356.8" cy="53.0" r="0.6" fill="#ab15a7"/>
<circle cx="360.7" cy="51.1" r="0.6" fill="#ab15a7"/>
<circle cx="358.1" cy="52.7" r="0.6" fill="#ab15a7"/>
<circle cx="363.7" cy="56.2" r="0.6" fill="#ab15a7"/>
<circle cx="366.7" cy="52.9" r="0.6" fill="#ab15a7"/>
<circle cx="364.3" cy="55.2" r="0.6" fill="#ab15a7"/>
<circle cx="356.9" cy="54.9" r="0.6" fill="#ab15a7"/>
<circle cx="367.6" cy="53.6" r="0.6" fill="#ab15a7"/>
<circle cx="367.4" cy="53.8" r="0.6" fill="#ab15a7"/>
<circle cx="361.3" cy="57.7" r="0.6" fill="#ab15a7"/>
<circle cx="365.8" cy="52.5" r="0.6" fill="#ab15a7"/>
<circle cx="360.6" cy="54.0" r="0.6" fill="#ab15a7"/>
<circle cx="359.4" cy="52.4" r="0.6" fill="#ab15a7"/>
<circle cx="359.1" cy="54.9" r="0.6" fill="#f20072"/>
<circle cx="355.3" cy="54.1" r="0.6" fill="#f20072"/>
<circle cx="360.7" cy="50.7" r="0.6" fill="#f20072"/>
<circle cx="359.3" cy="54.6" r="0.6" fill="#f20072"/>
<circle cx="361.7" cy="50.6" r="0.6" fill="#f20072"/>
<circle cx="367.8" cy="54.2" r="0.6" fill="#f20072"/>
<path d="M340 65.77L343.5 65.35L351 64.26L353.5 64.04L355.5 63.97L357.5 64.04L359.5 64.28L365.5 65.39L368 65.77L368.5 65.59L369.5 64.77L371.5 62.89L372.5 62.12L373 61.84L373.5 61.66L374 61.57L376 61.57L377 61.67L378.5 62.15L379.5 62.64L382.5 64.34L384.5 65.25L386 65.72L388 66.07L388 67.47L386 67.82L384.5 68.29L382.5 69.2L379.5 70.9L378.5 71.39L377 71.87L376 71.97L374 71.97L373.5 71.88L373 71.7L372.5 71.42L371.5 70.65L369.5 68.77L368.5 67.95L368 67.77L365.5 68.15L359.5 69.26L357.5 69.5L355.5 69.57L353.5 69.5L351 69.28L343.5 68.19L340 67.77 Z" fill="url(#g4)"/>
<circle cx="337.7" cy="67.0" r="0.75" fill="#008bfb"/>
<path d="M343 78.88L347.5 78.31L351.5 77.57L353.5 77.09L355.5 76.52L357.5 75.83L359.5 75L361 75L361.5 75.01L362 75.14L362.5 75.39L363.5 76.17L365.5 77.99L366.5 78.66L367 78.9L367 80.3L366.5 80.54L365.5 81.21L363.5 83.03L362.5 83.81L362 84.06L361.5 84.19L361 84.2L359.5 84.2L357.5 83.37L355.5 82.68L353.5 82.11L351.5 81.63L347.5 80.89L343 80.32 Z" fill="#008bfb"/>
<path d="M368 78.76L369 77.95L371 75.95L372 75.11L372.5 74.82L373 74.65L375 74.6L376.5 74.69L377.5 74.88L378.5 75.16L380 75.69L384 77.34L386.5 78.15L388.5 78.59L391 78.9L391 80.3L388.5 80.61L386.5 81.05L384 81.86L380 83.51L378.5 84.04L377.5 84.32L376.5 84.51L375 84.6L373 84.55L372.5 84.38L372 84.09L371 83.25L369 81.25L368 80.44 Z" fill="#ff0051"/>
<path d="M345.5 91.71L349 91.29L354.5 90.33L356.5 90.06L359 89.93L359.5 90.04L360 90.34L361.5 88.86L362.5 88.04L363 87.78L363.5 87.64L365 87.63L365.5 87.72L366 88.04L366.5 88.55L368 90.47L368.5 91.02L369 91.46L369.5 91.65L371 90.32L371.5 90.03L372 89.93L375 89.98L378 90.13L392 91.31L396 91.55L400.5 91.72L400.5 93.14L396 93.31L392 93.55L378 94.73L375 94.88L372 94.93L371.5 94.83L371 94.54L369.5 93.21L369 93.4L368.5 93.84L368 94.39L366.5 96.31L366 96.82L365.5 97.14L365 97.23L363.5 97.22L363 97.08L362.5 96.82L361.5 96L360 94.52L359.5 94.82L359 94.93L356.5 94.8L354.5 94.53L349 93.57L345.5 93.15 Z" fill="url(#g5)"/>
<circle cx="359.2" cy="91.5" r="0.6" fill="#008bfb"/>
<circle cx="358.5" cy="93.5" r="0.6" fill="#008bfb"/>
<circle cx="361.1" cy="90.5" r="0.6" fill="#008bfb"/>
<circle cx="362.8" cy="95.8" r="0.6" fill="#008bfb"/>
<circle cx="367.3" cy="91.4" r="0.6" fill="#008bfb"/>
<circle cx="359.7" cy="94.0" r="0.6" fill="#008bfb"/>
<circle cx="364.5" cy="94.2" r="0.6" fill="#008bfb"/>
<circle cx="359.0" cy="90.7" r="0.6" fill="#008bfb"/>
<circle cx="365.8" cy="91.8" r="0.6" fill="#008bfb"/>
<circle cx="358.8" cy="94.2" r="0.6" fill="#008bfb"/>
<circle cx="365.2" cy="95.0" r="0.6" fill="#008bfb"/>
<circle cx="359.0" cy="93.9" r="0.6" fill="#e9007c"/>
<circle cx="358.8" cy="93.9" r="0.6" fill="#e9007c"/>
<circle cx="363.2" cy="91.1" r="0.6" fill="#e9007c"/>
<circle cx="364.3" cy="96.1" r="0.6" fill="#e9007c"/>
<circle cx="361.1" cy="90.5" r="0.6" fill="#e9007c"/>
<circle cx="364.0" cy="90.2" r="0.6" fill="#e9007c"/>
<circle cx="359.2" cy="91.1" r="0.6" fill="#e9007c"/>
<circle cx="358.6" cy="91.2" r="0.6" fill="#e9007c"/>
<circle cx="361.6" cy="91.2" r="0.6" fill="#e9007c"/>
<circle cx="403.0" cy="92.5" r="0.75" fill="#008bfb"/>
<path d="M349.5 104.54L351.5 104.28L353.5 103.83L355.5 103.18L359.5 101.49L361 100.94L362.5 100.58L364 100.46L365.5 100.48L366 100.8L366.5 101.43L368 103.92L368.5 104.16L369.5 101.92L370 101.66L372 101.72L373.5 102.01L375 102.48L378 103.58L380 104.16L396 104.16L396 106.36L380 106.36L378 106.94L375 108.04L373.5 108.51L372 108.8L371 108.86L370 108.86L369.5 108.6L368.5 106.36L368 106.6L366.5 109.09L366 109.72L365.5 110.04L364 110.06L362.5 109.94L361 109.58L359.5 109.03L355.5 107.34L353.5 106.69L351.5 106.24L349.5 105.98 Z" fill="url(#g6)"/>
<circle cx="354.9" cy="105.3" r="0.6" fill="#9b23ad"/>
<circle cx="352.7" cy="105.1" r="0.6" fill="#9b23ad"/>
<circle cx="349.6" cy="105.2" r="0.6" fill="#9b23ad"/>
<circle cx="349.6" cy="105.4" r="0.6" fill="#9b23ad"/>
<circle cx="359.9" cy="103.1" r="0.6" fill="#9b23ad"/>
<circle cx="358.4" cy="107.7" r="0.6" fill="#9b23ad"/>
<circle cx="351.3" cy="105.6" r="0.6" fill="#9b23ad"/>
<circle cx="357.6" cy="105.2" r="0.6" fill="#9b23ad"/>
<circle cx="365.3" cy="104.3" r="0.6" fill="#9b23ad"/>
<circle cx="359.0" cy="106.4" r="0.6" fill="#9b23ad"/>
<circle cx="368.2" cy="105.0" r="0.6" fill="#9b23ad"/>
<circle cx="379.7" cy="105.6" r="0.6" fill="#6359da"/>
<circle cx="377.1" cy="105.0" r="0.6" fill="#6359da"/>
<circle cx="373.2" cy="102.7" r="0.6" fill="#6359da"/>
<circle cx="370.3" cy="102.6" r="0.6" fill="#6359da"/>
<circle cx="378.5" cy="104.8" r="0.6" fill="#6359da"/>
<circle cx="370.7" cy="102.7" r="0.6" fill="#6359da"/>
<circle cx="398.8" cy="105.4" r="0.75" fill="#fe005c"/>
<path d="M352.5 116.99L359.5 116.99L360 116.88L361 116.15L363.5 113.98L364 113.65L364.5 113.42L365 113.3L365.5 113.29L366.5 113.31L367 113.81L367.5 114.86L368 116.15L368.5 116.89L370.5 116.3L371.5 116.12L372 116.09L378 116.2L389.5 116.7L396 116.89L396 119.29L389.5 119.48L378 119.98L372 120.09L371.5 120.06L370.5 119.88L368.5 119.29L368 120.03L367.5 121.32L367 122.37L366.5 122.87L365.5 122.89L365 122.88L364.5 122.76L364 122.53L363.5 122.2L361 120.03L360 119.3L359.5 119.19L352.5 119.19 Z" fill="url(#g7)"/>
<circle cx="360.8" cy="118.6" r="0.6" fill="#d5008f"/>
<circle cx="355.2" cy="117.8" r="0.6" fill="#d5008f"/>
<circle cx="355.3" cy="118.0" r="0.6" fill="#d5008f"/>
<circle cx="354.0" cy="118.0" r="0.6" fill="#d5008f"/>
<circle cx="355.0" cy="118.6" r="0.6" fill="#d5008f"/>
<circle cx="368.2" cy="118.2" r="0.6" fill="#bb00a0"/>
<circle cx="361.3" cy="119.8" r="0.6" fill="#bb00a0"/>
<circle cx="361.9" cy="117.4" r="0.6" fill="#bb00a0"/>
<circle cx="359.0" cy="117.9" r="0.6" fill="#bb00a0"/>
<circle cx="363.5" cy="118.1" r="0.6" fill="#bb00a0"/>
<circle cx="360.9" cy="118.1" r="0.6" fill="#bb00a0"/>
<circle cx="359.0" cy="117.8" r="0.6" fill="#bb00a0"/>
<circle cx="359.9" cy="117.9" r="0.6" fill="#bb00a0"/>
<circle cx="359.4" cy="117.5" r="0.6" fill="#bb00a0"/>
<circle cx="361.9" cy="116.9" r="0.6" fill="#0084f9"/>
<circle cx="364.6" cy="118.3" r="0.6" fill="#0084f9"/>
<circle cx="366.1" cy="119.4" r="0.6" fill="#0084f9"/>
<circle cx="365.8" cy="121.4" r="0.6" fill="#0084f9"/>
<circle cx="362.7" cy="117.1" r="0.6" fill="#0084f9"/>
<circle cx="350.9" cy="118.3" r="0.75" fill="#0084f9"/>
<path d="M349.5 130.2L353 129.68L356.5 128.94L358.5 128.38L360 127.87L362 127.06L363.5 126.32L364.5 126.32L365 126.33L365.5 126.58L366 127.17L367.5 129.59L368 130.22L370 127.78L370.5 127.24L371 126.81L371.5 126.53L372 126.42L372.5 126.42L374 126.43L375.5 126.68L377 127.2L380.5 128.79L382 129.36L384 129.9L386 130.2L386 131.64L384 131.94L382 132.48L380.5 133.05L377 134.64L375.5 135.16L374 135.41L372.5 135.42L372 135.42L371.5 135.31L371 135.03L370.5 134.6L370 134.06L368 131.62L367.5 132.25L366 134.67L365.5 135.26L365 135.51L364.5 135.52L363.5 135.52L362 134.78L360 133.97L358.5 133.46L356.5 132.9L353 132.16L349.5 131.64 Z" fill="url(#g8)"/>
<circle cx="352.1" cy="131.2" r="0.6" fill="#f90067"/>
<circle cx="361.3" cy="128.1" r="0.6" fill="#f90067"/>
<circle cx="364.9" cy="134.1" r="0.6" fill="#f90067"/>
<circle cx="361.0" cy="132.3" r="0.6" fill="#f90067"/>
<circle cx="364.5" cy="128.0" r="0.6" fill="#f90067"/>
<circle cx="359.1" cy="130.9" r="0.6" fill="#f90067"/>
<circle cx="364.9" cy="133.4" r="0.6" fill="#f90067"/>
<circle cx="383.0" cy="131.0" r="0.6" fill="#236cea"/>
<circle cx="384.2" cy="131.1" r="0.6" fill="#236cea"/>
<circle cx="380.6" cy="130.0" r="0.6" fill="#236cea"/>
<circle cx="368.6" cy="130.3" r="0.6" fill="#236cea"/>
<circle cx="374.6" cy="127.8" r="0.6" fill="#236cea"/>
<path d="M340 143.03L347 142.57L352.5 141.96L355.5 141.47L358 140.96L360.5 140.33L362.5 139.72L363 139.65L364 139.65L364.5 139.69L365 139.92L365.5 140.34L367 142.08L368 143.05L369.5 140.05L370 139.32L370.5 138.97L371 138.95L372.5 138.99L373.5 139.27L374.5 139.77L377 141.42L378 141.99L379.5 142.63L381 142.99L381 144.51L379.5 144.87L378 145.51L377 146.08L374.5 147.73L373.5 148.23L372.5 148.51L371 148.55L370.5 148.53L370 148.18L369.5 147.45L368 144.45L367 145.42L365.5 147.16L365 147.58L364.5 147.81L364 147.85L363 147.85L362.5 147.78L360.5 147.17L358 146.54L355.5 146.03L352.5 145.54L347 144.93L340 144.47 Z" fill="url(#g9)"/>
<circle cx="338.0" cy="143.9" r="0.75" fill="#ff0051"/>
<path d="M355.5 155.78L358 155.78L358.5 155.7L360 154.91L362.5 153.13L363.5 152.52L364.5 152.15L365 152.08L366.5 152.08L367 152.39L367.5 153.1L368.5 155.11L369 155.38L402 155.38L402 157.78L369 157.78L368.5 158.05L367.5 160.06L367 160.77L366.5 161.08L365 161.08L364.5 161.01L363.5 160.64L362.5 160.03L360 158.25L358.5 157.46L358 157.38L355.5 157.38 Z" fill="url(#g10)"/>
<circle cx="364.1" cy="157.5" r="0.6" fill="#9b23ad"/>
<circle cx="364.8" cy="158.0" r="0.6" fill="#9b23ad"/>
<circle cx="363.3" cy="153.0" r="0.6" fill="#9b23ad"/>
<circle cx="366.7" cy="158.6" r="0.6" fill="#9b23ad"/>
<circle cx="363.5" cy="156.8" r="0.6" fill="#9b23ad"/>
<path d="M348.5 168.61L351.5 168.47L354 168.26L362 167.17L365 166.93L366 166.91L366.5 167.03L367 167.38L367.5 167.93L368 167.33L368.5 165.17L369 164.61L370 164.61L371 165.37L372.5 166.27L374 166.95L376 167.58L378 168.02L380 168.31L382.5 168.55L385 168.69L385 170.13L382.5 170.27L380 170.51L378 170.8L376 171.24L374 171.87L372.5 172.55L371 173.45L370 174.21L369 174.21L368.5 173.65L368 171.49L367.5 170.89L367 171.44L366.5 171.79L366 171.91L365 171.89L362 171.65L354 170.56L351.5 170.35L348.5 170.21 Z" fill="url(#g11)"/>
<circle cx="379.4" cy="168.8" r="0.6" fill="#f90067"/>
<circle cx="380.7" cy="169.1" r="0.6" fill="#f90067"/>
<circle cx="369.0" cy="167.4" r="0.6" fill="#f90067"/>
<circle cx="380.6" cy="169.1" r="0.6" fill="#f90067"/>
<circle cx="380.8" cy="169.9" r="0.6" fill="#f90067"/>
<circle cx="376.4" cy="169.1" r="0.6" fill="#f90067"/>
<circle cx="376.2" cy="169.9" r="0.6" fill="#f90067"/>
<circle cx="381.3" cy="169.5" r="0.6" fill="#f90067"/>
<circle cx="379.1" cy="168.8" r="0.6" fill="#f90067"/>
<circle cx="370.3" cy="167.5" r="0.6" fill="#f90067"/>
<circle cx="380.9" cy="169.2" r="0.6" fill="#f90067"/>
<circle cx="377.7" cy="168.4" r="0.6" fill="#f90067"/>
<circle cx="368.8" cy="167.4" r="0.6" fill="#f90067"/>
<circle cx="379.6" cy="169.7" r="0.6" fill="#f90067"/>
<circle cx="379.7" cy="169.1" r="0.6" fill="#f90067"/>
<circle cx="376.8" cy="169.3" r="0.6" fill="#f90067"/>
<circle cx="376.0" cy="168.4" r="0.6" fill="#f90067"/>
<circle cx="383.5" cy="169.2" r="0.6" fill="#007cf5"/>
<circle cx="385.0" cy="169.6" r="0.6" fill="#007cf5"/>
<circle cx="368.0" cy="169.3" r="0.6" fill="#007cf5"/>
<circle cx="382.2" cy="169.8" r="0.6" fill="#007cf5"/>
<circle cx="375.7" cy="168.7" r="0.6" fill="#007cf5"/>
<circle cx="371.4" cy="172.3" r="0.6" fill="#007cf5"/>
<circle cx="371.4" cy="169.9" r="0.6" fill="#007cf5"/>
<circle cx="370.2" cy="169.6" r="0.6" fill="#007cf5"/>
<circle cx="384.6" cy="169.2" r="0.6" fill="#007cf5"/>
<circle cx="382.2" cy="169.4" r="0.6" fill="#007cf5"/>
<circle cx="383.4" cy="169.5" r="0.6" fill="#007cf5"/>
<circle cx="371.8" cy="171.7" r="0.6" fill="#007cf5"/>
<circle cx="376.3" cy="168.3" r="0.6" fill="#007cf5"/>
<circle cx="367.8" cy="169.4" r="0.6" fill="#007cf5"/>
<circle cx="346.9" cy="169.4" r="0.75" fill="#008bfb"/>
<path d="M346 181.54L352 181.33L361.5 180.6L365 180.45L366 180.44L366.5 180.52L367 180.75L367.5 181.1L368 179.87L368.5 178.26L369 177.46L369.5 177.44L370 177.44L370.5 177.68L371.5 178.71L372.5 179.48L373.5 180.06L374.5 180.49L375.5 180.81L377 181.14L378.5 181.36L380.5 181.53L380.5 182.95L378.5 183.12L377 183.34L375.5 183.67L374.5 183.99L373.5 184.42L372.5 185L371.5 185.77L370.5 186.8L370 187.04L369.5 187.04L369 187.02L368.5 186.22L368 184.61L367.5 183.38L367 183.73L366.5 183.96L366 184.04L365 184.03L361.5 183.88L352 183.15L346 182.94 Z" fill="url(#g12)"/>
<circle cx="371.5" cy="180.1" r="0.6" fill="#fe005c"/>
<circle cx="372.0" cy="181.3" r="0.6" fill="#fe005c"/>
<circle cx="378.5" cy="181.9" r="0.6" fill="#fe005c"/>
<circle cx="377.3" cy="182.6" r="0.6" fill="#fe005c"/>
<circle cx="369.1" cy="185.9" r="0.6" fill="#fe005c"/>
<circle cx="376.8" cy="182.7" r="0.6" fill="#fe005c"/>
<circle cx="371.3" cy="181.5" r="0.6" fill="#fe005c"/>
<circle cx="372.6" cy="184.5" r="0.6" fill="#fe005c"/>
<circle cx="375.2" cy="181.9" r="0.6" fill="#fe005c"/>
<circle cx="373.1" cy="181.4" r="0.6" fill="#fe005c"/>
<circle cx="368.1" cy="180.7" r="0.6" fill="#fe005c"/>
<circle cx="378.4" cy="182.1" r="0.6" fill="#fe005c"/>
<circle cx="379.8" cy="182.1" r="0.6" fill="#fe005c"/>
<circle cx="371.0" cy="182.3" r="0.6" fill="#236cea"/>
<circle cx="370.0" cy="181.2" r="0.6" fill="#236cea"/>
<circle cx="380.0" cy="182.4" r="0.6" fill="#236cea"/>
<circle cx="378.1" cy="182.4" r="0.6" fill="#236cea"/>
<circle cx="379.5" cy="182.5" r="0.6" fill="#236cea"/>
<circle cx="374.7" cy="182.8" r="0.6" fill="#236cea"/>
<circle cx="368.1" cy="183.1" r="0.6" fill="#236cea"/>
<circle cx="345.3" cy="182.2" r="0.75" fill="#008bfb"/>
<path d="M354 194.37L356 194.09L360.5 193.17L361.5 193.08L362.5 193.12L363 193.05L364 192.16L365.5 190.27L366.5 190.29L367 190.79L367.5 191.84L368.5 194.37L369.5 193.45L370 193.27L374 193.4L382.5 194.11L387 194.37L387 195.77L382.5 196.03L374 196.74L370 196.87L369.5 196.69L368.5 195.77L367.5 198.3L367 199.35L366.5 199.85L366 199.87L365.5 199.87L364 197.98L363 197.09L362.5 197.02L361.5 197.06L360.5 196.97L356 196.05L354 195.77 Z" fill="url(#g13)"/>
<circle cx="366.4" cy="196.3" r="0.6" fill="#007cf5"/>
<circle cx="362.4" cy="193.8" r="0.6" fill="#007cf5"/>
<circle cx="367.9" cy="194.0" r="0.6" fill="#007cf5"/>
<circle cx="364.0" cy="194.3" r="0.6" fill="#007cf5"/>
<circle cx="362.5" cy="195.8" r="0.6" fill="#007cf5"/>
<circle cx="368.3" cy="195.0" r="0.6" fill="#007cf5"/>
<circle cx="365.6" cy="193.4" r="0.6" fill="#e9007c"/>
<circle cx="364.7" cy="194.4" r="0.6" fill="#e9007c"/>
<circle cx="361.4" cy="194.1" r="0.6" fill="#e9007c"/>
<circle cx="361.8" cy="196.3" r="0.6" fill="#e9007c"/>
<circle cx="364.2" cy="193.7" r="0.6" fill="#e9007c"/>
<circle cx="367.7" cy="197.8" r="0.6" fill="#e9007c"/>
<path d="M354.5 207.19L356.5 206.98L358 206.73L359.5 206.39L361 205.89L362 205.45L363 204.9L364 204.19L365 203.3L366 203.3L366.5 203.38L367 204.09L368 206.45L368.5 206.95L369 205.59L369.5 204.51L370 204.3L371 204.3L372 204.83L373.5 205.47L376 206.23L379 206.8L382.5 207.18L382.5 208.62L379 209L376 209.57L373.5 210.33L372 210.97L371 211.5L370 211.5L369.5 211.29L369 210.21L368.5 208.85L368 209.35L367 211.71L366.5 212.42L366 212.5L365 212.5L364 211.61L363 210.9L362 210.35L361 209.91L359.5 209.41L358 209.07L356.5 208.82L354.5 208.61 Z" fill="url(#g14)"/>
<circle cx="360.7" cy="206.9" r="0.6" fill="#bb00a0"/>
<circle cx="357.1" cy="207.5" r="0.6" fill="#bb00a0"/>
<circle cx="359.2" cy="207.2" r="0.6" fill="#bb00a0"/>
<circle cx="357.7" cy="207.6" r="0.6" fill="#bb00a0"/>
<circle cx="362.4" cy="209.6" r="0.6" fill="#bb00a0"/>
<circle cx="364.9" cy="207.2" r="0.6" fill="#bb00a0"/>
<circle cx="360.2" cy="208.0" r="0.6" fill="#bb00a0"/>
<circle cx="359.7" cy="207.6" r="0.6" fill="#bb00a0"/>
<circle cx="355.3" cy="207.8" r="0.6" fill="#bb00a0"/>
<circle cx="367.9" cy="207.2" r="0.6" fill="#bb00a0"/>
<circle cx="361.4" cy="208.3" r="0.6" fill="#bb00a0"/>
<circle cx="366.5" cy="205.6" r="0.6" fill="#bb00a0"/>
<circle cx="358.2" cy="207.6" r="0.6" fill="#bb00a0"/>
<circle cx="360.0" cy="207.8" r="0.6" fill="#bb00a0"/>
<circle cx="382.0" cy="208.1" r="0.6" fill="#fe005c"/>
<circle cx="380.9" cy="207.6" r="0.6" fill="#fe005c"/>
<circle cx="368.9" cy="208.7" r="0.6" fill="#fe005c"/>
<circle cx="381.2" cy="207.9" r="0.6" fill="#fe005c"/>
<circle cx="376.8" cy="207.0" r="0.6" fill="#fe005c"/>
<circle cx="374.0" cy="209.4" r="0.6" fill="#fe005c"/>
<circle cx="380.2" cy="208.2" r="0.6" fill="#fe005c"/>
<circle cx="382.3" cy="207.8" r="0.6" fill="#fe005c"/>
<circle cx="370.0" cy="205.8" r="0.6" fill="#fe005c"/>
<circle cx="375.9" cy="208.3" r="0.6" fill="#fe005c"/>
<circle cx="381.9" cy="208.0" r="0.6" fill="#fe005c"/>
<circle cx="377.7" cy="208.4" r="0.6" fill="#6359da"/>
<circle cx="374.9" cy="208.0" r="0.6" fill="#6359da"/>
<circle cx="369.0" cy="208.9" r="0.6" fill="#6359da"/>
<circle cx="371.7" cy="210.3" r="0.6" fill="#6359da"/>
<circle cx="377.6" cy="207.6" r="0.6" fill="#6359da"/>
<circle cx="370.2" cy="206.4" r="0.6" fill="#6359da"/>
<circle cx="377.5" cy="208.2" r="0.6" fill="#6359da"/>
<circle cx="370.0" cy="205.2" r="0.6" fill="#6359da"/>
<path d="M358.5 219.97L359.5 219.73L360.5 219.41L362 218.68L363 217.97L363.5 217.53L364.5 216.4L365 216.23L366 216.25L366.5 216.6L367 217.34L368 219.16L368.5 219.91L369 219.69L369.5 219.07L370 218.73L371 218.76L372.5 218.91L377.5 219.73L394.5 219.73L394.5 221.73L377.5 221.73L372.5 222.55L371 222.7L370 222.73L369.5 222.39L369 221.77L368.5 221.55L368 222.3L367 224.12L366.5 224.86L366 225.21L365 225.23L364.5 225.06L363.5 223.93L363 223.49L362 222.78L360.5 222.05L359.5 221.73L358.5 221.49 Z" fill="url(#g15)"/>
<circle cx="363.7" cy="221.2" r="0.6" fill="#9b23ad"/>
<circle cx="362.2" cy="219.9" r="0.6" fill="#9b23ad"/>
<circle cx="364.5" cy="217.0" r="0.6" fill="#9b23ad"/>
<circle cx="361.3" cy="220.6" r="0.6" fill="#9b23ad"/>
<circle cx="368.2" cy="221.0" r="0.6" fill="#9b23ad"/>
<circle cx="367.4" cy="220.6" r="0.6" fill="#9b23ad"/>
<circle cx="360.6" cy="220.3" r="0.6" fill="#9b23ad"/>
<circle cx="368.2" cy="221.2" r="0.6" fill="#9b23ad"/>
<path d="M347.5 232.56L354 232.56L358.5 232.17L361 232.06L361.5 232.09L362.5 232.56L363 232.52L365.5 231.26L366 231.11L366.5 231.06L367 231.17L367.5 231.47L368 231.88L368.5 232.03L369.5 229.96L370 229.24L370.5 229.06L371 229.06L371.5 229.13L372.5 230.44L373 230.94L374 231.7L374.5 231.99L375.5 232.43L377 232.86L377 234.26L375.5 234.69L374.5 235.13L374 235.42L373 236.18L372.5 236.68L371.5 237.99L371 238.06L370.5 238.06L370 237.88L369.5 237.16L368.5 235.09L368 235.24L367.5 235.65L367 235.95L366.5 236.06L366 236.01L365.5 235.86L363 234.6L362.5 234.56L361.5 235.03L361 235.06L358.5 234.95L354 234.56L347.5 234.56 Z" fill="url(#g16)"/>
<path d="M356.5 245.66L358 245.51L359.5 245.27L360.5 245.02L361.5 244.68L362.5 244.21L363.5 243.55L364.5 242.64L365 242.05L365.5 241.79L366.5 241.79L367 242.27L368 244.67L368.5 245.39L369 243.12L369.5 242.29L370.5 242.29L372 243.1L373.5 243.7L375.5 244.28L377.5 244.67L379.5 244.93L382 245.14L388.5 245.39L388.5 247.39L384.5 247.5L381.5 247.67L379 247.91L377 248.2L375 248.63L373.5 249.08L372 249.68L370.5 250.49L369.5 250.49L369 249.66L368.5 247.39L368 248.11L367 250.51L366.5 250.99L365.5 250.99L365 250.73L364.5 250.14L363.5 249.23L362.5 248.57L361.5 248.1L360.5 247.76L359.5 247.51L358 247.27L356.5 247.12 Z" fill="url(#g17)"/>
<path d="M354.5 258.51L356.5 258.3L358 258.05L359.5 257.71L361 257.21L362 256.77L363 256.22L364 255.51L365 254.62L366 254.62L366.5 254.68L367 255.33L368 257.59L368.5 258.22L369 258.22L370.5 257.15L371 257.02L372 257.06L373.5 257.27L378 258.22L392.5 258.22L392.5 260.22L378 260.22L373.5 261.17L372 261.38L371 261.42L370.5 261.29L369 260.22L368.5 260.22L368 260.85L367 263.11L366.5 263.76L366 263.82L365 263.82L364 262.93L363 262.22L362 261.67L361 261.23L359.5 260.73L358 260.39L356.5 260.14L354.5 259.93 Z" fill="url(#g18)"/>
<circle cx="358.7" cy="258.5" r="0.6" fill="#007cf5"/>
<circle cx="361.4" cy="259.8" r="0.6" fill="#007cf5"/>
<circle cx="360.3" cy="258.6" r="0.6" fill="#007cf5"/>
<circle cx="363.8" cy="261.9" r="0.6" fill="#007cf5"/>
<circle cx="357.6" cy="258.7" r="0.6" fill="#007cf5"/>
<circle cx="359.2" cy="259.1" r="0.6" fill="#007cf5"/>
<circle cx="364.0" cy="257.3" r="0.6" fill="#007cf5"/>
<circle cx="365.6" cy="261.2" r="0.6" fill="#007cf5"/>
<circle cx="361.5" cy="258.2" r="0.6" fill="#007cf5"/>
<circle cx="368.1" cy="258.8" r="0.6" fill="#007cf5"/>
<circle cx="366.0" cy="257.0" r="0.6" fill="#007cf5"/>
<circle cx="357.5" cy="259.5" r="0.6" fill="#007cf5"/>
<circle cx="358.6" cy="259.9" r="0.6" fill="#007cf5"/>
<circle cx="361.4" cy="258.1" r="0.6" fill="#007cf5"/>
<circle cx="357.5" cy="259.1" r="0.6" fill="#e9007c"/>
<circle cx="363.8" cy="262.1" r="0.6" fill="#e9007c"/>
<circle cx="356.5" cy="259.1" r="0.6" fill="#e9007c"/>
<circle cx="357.4" cy="259.8" r="0.6" fill="#e9007c"/>
<circle cx="356.4" cy="258.8" r="0.6" fill="#e9007c"/>
<circle cx="355.2" cy="259.2" r="0.6" fill="#e9007c"/>
<circle cx="367.1" cy="261.8" r="0.6" fill="#e9007c"/>
<circle cx="364.7" cy="262.8" r="0.6" fill="#e9007c"/>
<circle cx="367.5" cy="258.4" r="0.6" fill="#e9007c"/>
<circle cx="357.0" cy="259.7" r="0.6" fill="#e9007c"/>
<circle cx="364.9" cy="255.4" r="0.6" fill="#e9007c"/>
<circle cx="376.1" cy="259.0" r="0.6" fill="#6359da"/>
<circle cx="372.8" cy="258.7" r="0.6" fill="#6359da"/>
<circle cx="370.4" cy="257.7" r="0.6" fill="#6359da"/>
<circle cx="371.7" cy="258.7" r="0.6" fill="#6359da"/>
<circle cx="379.5" cy="258.8" r="0.6" fill="#6359da"/>
<circle cx="379.6" cy="258.9" r="0.6" fill="#6359da"/>
<text x="287.9" y="17.6" font-size="6.20" text-anchor="end" font-weight="normal" fill="#262626" >Feature 153</text>
<text x="287.9" y="30.5" font-size="6.20" text-anchor="end" font-weight="normal" fill="#262626" >Feature 378</text>
<text x="287.9" y="43.3" font-size="6.20" text-anchor="end" font-weight="normal" fill="#262626" >Feature 12</text>
<text x="287.9" y="56.1" font-size="6.20" text-anchor="end" font-weight="normal" fill="#262626" >Feature 241</text>
<text x="287.9" y="69.0" font-size="6.20" text-anchor="end" font-weight="normal" fill="#262626" >Feature 162</text>
<text x="287.9" y="81.8" font-size="6.20" text-anchor="end" font-weight="normal" fill="#262626" >Feature 151</text>
<text x="287.9" y="94.6" font-size="6.20" text-anchor="end" font-weight="normal" fill="#262626" >Feature 237</text>
<text x="287.9" y="107.5" font-size="6.20" text-anchor="end" font-weight="normal" fill="#262626" >Feature 7</text>
<text x="287.9" y="120.3" font-size="6.20" text-anchor="end" font-weight="normal" fill="#262626" >Feature 236</text>
<text x="287.9" y="133.1" font-size="6.20" text-anchor="end" font-weight="normal" fill="#262626" >Feature 159</text>
<text x="287.9" y="145.9" font-size="6.20" text-anchor="end" font-weight="normal" fill="#262626" >Feature 149</text>
<text x="287.9" y="158.8" font-size="6.20" text-anchor="end" font-weight="normal" fill="#262626" >Feature 289</text>
<text x="287.9" y="171.6" font-size="6.20" text-anchor="end" font-weight="normal" fill="#262626" >Feature 278</text>
<text x="287.9" y="184.4" font-size="6.20" text-anchor="end" font-weight="normal" fill="#262626" >Feature 325</text>
<text x="287.9" y="197.3" font-size="6.20" text-anchor="end" font-weight="normal" fill="#262626" >Feature 403</text>
<text x="287.9" y="210.1" font-size="6.20" text-anchor="end" font-weight="normal" fill="#262626" >Feature 13</text>
<text x="287.9" y="222.9" font-size="6.20" text-anchor="end" font-weight="normal" fill="#262626" >Feature 406</text>
<text x="287.9" y="235.8" font-size="6.20" text-anchor="end" font-weight="normal" fill="#262626" >Feature 302</text>
<text x="287.9" y="248.6" font-size="6.20" text-anchor="end" font-weight="normal" fill="#262626" >Feature 154</text>
<text x="287.9" y="261.4" font-size="6.20" text-anchor="end" font-weight="normal" fill="#262626" >Feature 382</text>
<line x1="297.9" x2="454.0" y1="271.75" y2="271.75" stroke="#9a9a9a" stroke-width="1.2"/>
<line x1="321.50" x2="321.50" y1="271.75" y2="273.55" stroke="#333" stroke-width="0.6"/>
<text x="321.5" y="279.0" font-size="5.20" text-anchor="middle" font-weight="normal" fill="#262626" >−1.0</text>
<line x1="344.90" x2="344.90" y1="271.75" y2="273.55" stroke="#333" stroke-width="0.6"/>
<text x="344.9" y="279.0" font-size="5.20" text-anchor="middle" font-weight="normal" fill="#262626" >−0.5</text>
<line x1="368.30" x2="368.30" y1="271.75" y2="273.55" stroke="#333" stroke-width="0.6"/>
<text x="368.3" y="279.0" font-size="5.20" text-anchor="middle" font-weight="normal" fill="#262626" >0.0</text>
<line x1="391.70" x2="391.70" y1="271.75" y2="273.55" stroke="#333" stroke-width="0.6"/>
<text x="391.7" y="279.0" font-size="5.20" text-anchor="middle" font-weight="normal" fill="#262626" >0.5</text>
<line x1="415.10" x2="415.10" y1="271.75" y2="273.55" stroke="#333" stroke-width="0.6"/>
<text x="415.1" y="279.0" font-size="5.20" text-anchor="middle" font-weight="normal" fill="#262626" >1.0</text>
<line x1="438.50" x2="438.50" y1="271.75" y2="273.55" stroke="#333" stroke-width="0.6"/>
<text x="438.5" y="279.0" font-size="5.20" text-anchor="middle" font-weight="normal" fill="#262626" >1.5</text>
<text x="376.0" y="285.7" font-size="6.40" text-anchor="middle" font-weight="normal" fill="#262626" >SHAP value (impact on model output)</text>
<rect x="464.2" y="2.62" width="3.2" height="269.13" fill="url(#cbar)"/>
<text x="468.9" y="4.8" font-size="5.10" text-anchor="start" font-weight="normal" fill="#262626" >High</text>
<text x="469.1" y="273.9" font-size="5.00" text-anchor="start" font-weight="normal" fill="#262626" >Low</text>
<text x="0.0" y="0.0" font-size="6.00" text-anchor="middle" font-weight="normal" fill="#262626" transform="translate(483.5,137.4) rotate(-90)">Feature value</text>
<text x="333.7" y="307.9" font-size="13.60" text-anchor="start" font-weight="bold" fill="#000" >B</text>
<text x="347.5" y="307.7" font-size="11.10" text-anchor="start" font-weight="normal" fill="#111" >M. musculus</text>
<line x1="560.6" x2="716.9" y1="15.45" y2="15.45" stroke="#e8e8e8" stroke-width="0.4" stroke-dasharray="0.8 1.0"/>
<line x1="560.6" x2="716.9" y1="28.28" y2="28.28" stroke="#e8e8e8" stroke-width="0.4" stroke-dasharray="0.8 1.0"/>
<line x1="560.6" x2="716.9" y1="41.11" y2="41.11" stroke="#e8e8e8" stroke-width="0.4" stroke-dasharray="0.8 1.0"/>
<line x1="560.6" x2="716.9" y1="53.94" y2="53.94" stroke="#e8e8e8" stroke-width="0.4" stroke-dasharray="0.8 1.0"/>
<line x1="560.6" x2="716.9" y1="66.77" y2="66.77" stroke="#e8e8e8" stroke-width="0.4" stroke-dasharray="0.8 1.0"/>
<line x1="560.6" x2="716.9" y1="79.60" y2="79.60" stroke="#e8e8e8" stroke-width="0.4" stroke-dasharray="0.8 1.0"/>
<line x1="560.6" x2="716.9" y1="92.43" y2="92.43" stroke="#e8e8e8" stroke-width="0.4" stroke-dasharray="0.8 1.0"/>
<line x1="560.6" x2="716.9" y1="105.26" y2="105.26" stroke="#e8e8e8" stroke-width="0.4" stroke-dasharray="0.8 1.0"/>
<line x1="560.6" x2="716.9" y1="118.09" y2="118.09" stroke="#e8e8e8" stroke-width="0.4" stroke-dasharray="0.8 1.0"/>
<line x1="560.6" x2="716.9" y1="130.92" y2="130.92" stroke="#e8e8e8" stroke-width="0.4" stroke-dasharray="0.8 1.0"/>
<line x1="560.6" x2="716.9" y1="143.75" y2="143.75" stroke="#e8e8e8" stroke-width="0.4" stroke-dasharray="0.8 1.0"/>
<line x1="560.6" x2="716.9" y1="156.58" y2="156.58" stroke="#e8e8e8" stroke-width="0.4" stroke-dasharray="0.8 1.0"/>
<line x1="560.6" x2="716.9" y1="169.41" y2="169.41" stroke="#e8e8e8" stroke-width="0.4" stroke-dasharray="0.8 1.0"/>
<line x1="560.6" x2="716.9" y1="182.24" y2="182.24" stroke="#e8e8e8" stroke-width="0.4" stroke-dasharray="0.8 1.0"/>
<line x1="560.6" x2="716.9" y1="195.07" y2="195.07" stroke="#e8e8e8" stroke-width="0.4" stroke-dasharray="0.8 1.0"/>
<line x1="560.6" x2="716.9" y1="207.90" y2="207.90" stroke="#e8e8e8" stroke-width="0.4" stroke-dasharray="0.8 1.0"/>
<line x1="560.6" x2="716.9" y1="220.73" y2="220.73" stroke="#e8e8e8" stroke-width="0.4" stroke-dasharray="0.8 1.0"/>
<line x1="560.6" x2="716.9" y1="233.56" y2="233.56" stroke="#e8e8e8" stroke-width="0.4" stroke-dasharray="0.8 1.0"/>
<line x1="560.6" x2="716.9" y1="246.39" y2="246.39" stroke="#e8e8e8" stroke-width="0.4" stroke-dasharray="0.8 1.0"/>
<line x1="560.6" x2="716.9" y1="259.22" y2="259.22" stroke="#e8e8e8" stroke-width="0.4" stroke-dasharray="0.8 1.0"/>
<line x1="632.20" x2="632.20" y1="2.62" y2="271.75" stroke="#999999" stroke-width="0.8"/>
<path d="M586 14.45L590 14.45L592.5 14.17L594.5 13.86L597 13.38L605 11.47L608 10.87L611 10.51L614.5 10.45L616 10.51L618 10.87L620 11.48L624 12.96L626.5 13.76L629 14.32L632 14.71L632.5 13.94L635 13.64L637 13.27L639 12.78L643 11.68L644.5 11.35L646 11.13L647.5 11.05L651 11.05L654.5 11.88L658 12.53L662 13.11L666 13.56L674 14.15L683.5 14.55L683.5 16.35L674 16.75L666 17.34L662 17.79L658 18.37L654.5 19.02L651 19.85L647.5 19.85L646 19.77L644.5 19.55L643 19.22L639 18.12L637 17.63L635 17.26L632.5 16.96L632 16.19L629 16.58L626.5 17.14L624 17.94L620 19.42L618 20.03L616 20.39L614.5 20.45L611 20.39L608 20.03L605 19.43L597 17.52L594.5 17.04L592.5 16.73L590 16.45L586 16.45 Z" fill="url(#g19)"/>
<circle cx="602.6" cy="17.3" r="0.6" fill="#fe005c"/>
<circle cx="624.2" cy="15.2" r="0.6" fill="#fe005c"/>
<circle cx="588.3" cy="15.4" r="0.6" fill="#fe005c"/>
<circle cx="603.3" cy="18.1" r="0.6" fill="#fe005c"/>
<circle cx="595.0" cy="15.1" r="0.6" fill="#fe005c"/>
<circle cx="627.7" cy="14.6" r="0.6" fill="#fe005c"/>
<circle cx="605.1" cy="17.6" r="0.6" fill="#fe005c"/>
<circle cx="621.7" cy="12.8" r="0.6" fill="#fe005c"/>
<circle cx="587.6" cy="15.0" r="0.6" fill="#fe005c"/>
<circle cx="628.8" cy="15.1" r="0.6" fill="#fe005c"/>
<circle cx="620.7" cy="18.1" r="0.6" fill="#fe005c"/>
<circle cx="601.8" cy="14.2" r="0.6" fill="#fe005c"/>
<circle cx="630.5" cy="15.5" r="0.6" fill="#fe005c"/>
<circle cx="598.2" cy="16.2" r="0.6" fill="#fe005c"/>
<circle cx="600.7" cy="14.4" r="0.6" fill="#fe005c"/>
<circle cx="586.2" cy="15.7" r="0.6" fill="#fe005c"/>
<circle cx="628.6" cy="15.6" r="0.6" fill="#fe005c"/>
<circle cx="629.9" cy="15.0" r="0.6" fill="#fe005c"/>
<circle cx="596.9" cy="15.4" r="0.6" fill="#fe005c"/>
<circle cx="630.5" cy="15.8" r="0.6" fill="#fe005c"/>
<circle cx="604.0" cy="13.8" r="0.6" fill="#fe005c"/>
<circle cx="606.0" cy="15.4" r="0.6" fill="#fe005c"/>
<circle cx="629.2" cy="15.0" r="0.6" fill="#fe005c"/>
<circle cx="623.3" cy="16.5" r="0.6" fill="#fe005c"/>
<circle cx="624.3" cy="16.4" r="0.6" fill="#fe005c"/>
<circle cx="614.2" cy="13.9" r="0.6" fill="#fe005c"/>
<circle cx="600.9" cy="14.8" r="0.6" fill="#fe005c"/>
<circle cx="622.4" cy="13.3" r="0.6" fill="#fe005c"/>
<circle cx="595.2" cy="16.0" r="0.6" fill="#fe005c"/>
<circle cx="597.5" cy="14.0" r="0.6" fill="#fe005c"/>
<circle cx="587.6" cy="15.5" r="0.6" fill="#fe005c"/>
<circle cx="601.1" cy="17.9" r="0.6" fill="#fe005c"/>
<circle cx="627.1" cy="16.5" r="0.6" fill="#fe005c"/>
<circle cx="598.3" cy="13.9" r="0.6" fill="#fe005c"/>
<circle cx="590.5" cy="15.4" r="0.6" fill="#fe005c"/>
<circle cx="619.0" cy="15.0" r="0.6" fill="#fe005c"/>
<circle cx="596.9" cy="15.2" r="0.6" fill="#fe005c"/>
<circle cx="614.8" cy="17.0" r="0.6" fill="#fe005c"/>
<circle cx="620.8" cy="17.6" r="0.6" fill="#fe005c"/>
<circle cx="616.9" cy="12.2" r="0.6" fill="#fe005c"/>
<circle cx="625.1" cy="14.8" r="0.6" fill="#fe005c"/>
<circle cx="612.4" cy="14.3" r="0.6" fill="#fe005c"/>
<circle cx="620.3" cy="13.5" r="0.6" fill="#fe005c"/>
<circle cx="597.5" cy="14.6" r="0.6" fill="#fe005c"/>
<circle cx="593.1" cy="16.1" r="0.6" fill="#fe005c"/>
<circle cx="612.9" cy="13.9" r="0.6" fill="#fe005c"/>
<circle cx="604.4" cy="18.8" r="0.6" fill="#fe005c"/>
<circle cx="609.6" cy="13.1" r="0.6" fill="#fe005c"/>
<circle cx="623.6" cy="16.1" r="0.6" fill="#fe005c"/>
<circle cx="632.1" cy="15.3" r="0.6" fill="#fe005c"/>
<circle cx="608.1" cy="18.1" r="0.6" fill="#fe005c"/>
<circle cx="625.1" cy="16.8" r="0.6" fill="#fe005c"/>
<circle cx="587.9" cy="15.2" r="0.6" fill="#fe005c"/>
<circle cx="591.5" cy="15.0" r="0.6" fill="#fe005c"/>
<circle cx="631.2" cy="15.5" r="0.6" fill="#fe005c"/>
<circle cx="629.3" cy="15.3" r="0.6" fill="#fe005c"/>
<circle cx="626.3" cy="15.3" r="0.6" fill="#fe005c"/>
<circle cx="598.1" cy="16.4" r="0.6" fill="#fe005c"/>
<circle cx="630.0" cy="15.1" r="0.6" fill="#fe005c"/>
<circle cx="613.7" cy="16.5" r="0.6" fill="#fe005c"/>
<circle cx="596.1" cy="15.1" r="0.6" fill="#fe005c"/>
<circle cx="592.6" cy="15.0" r="0.6" fill="#fe005c"/>
<circle cx="597.9" cy="15.8" r="0.6" fill="#fe005c"/>
<circle cx="616.3" cy="12.9" r="0.6" fill="#fe005c"/>
<circle cx="586.5" cy="15.3" r="0.6" fill="#fe005c"/>
<circle cx="617.5" cy="12.8" r="0.6" fill="#fe005c"/>
<circle cx="600.5" cy="14.0" r="0.6" fill="#fe005c"/>
<circle cx="623.0" cy="15.7" r="0.6" fill="#fe005c"/>
<circle cx="588.9" cy="15.1" r="0.6" fill="#fe005c"/>
<circle cx="604.4" cy="15.8" r="0.6" fill="#fe005c"/>
<circle cx="615.7" cy="11.8" r="0.6" fill="#fe005c"/>
<circle cx="593.6" cy="15.8" r="0.6" fill="#fe005c"/>
<circle cx="605.1" cy="13.9" r="0.6" fill="#fe005c"/>
<circle cx="600.3" cy="17.6" r="0.6" fill="#fe005c"/>
<circle cx="600.5" cy="15.8" r="0.6" fill="#fe005c"/>
<circle cx="602.6" cy="15.0" r="0.6" fill="#fe005c"/>
<circle cx="626.2" cy="16.8" r="0.6" fill="#fe005c"/>
<circle cx="602.9" cy="13.6" r="0.6" fill="#fe005c"/>
<circle cx="619.9" cy="13.4" r="0.6" fill="#fe005c"/>
<circle cx="586.3" cy="15.9" r="0.6" fill="#fe005c"/>
<circle cx="605.7" cy="17.8" r="0.6" fill="#fe005c"/>
<circle cx="604.9" cy="18.1" r="0.6" fill="#fe005c"/>
<circle cx="607.4" cy="12.8" r="0.6" fill="#fe005c"/>
<circle cx="586.7" cy="15.5" r="0.6" fill="#9135ba"/>
<circle cx="615.8" cy="19.1" r="0.6" fill="#9135ba"/>
<circle cx="590.1" cy="15.6" r="0.6" fill="#9135ba"/>
<circle cx="603.2" cy="15.5" r="0.6" fill="#9135ba"/>
<circle cx="592.8" cy="15.1" r="0.6" fill="#9135ba"/>
<circle cx="610.2" cy="19.2" r="0.6" fill="#9135ba"/>
<circle cx="591.1" cy="15.4" r="0.6" fill="#9135ba"/>
<circle cx="623.4" cy="17.5" r="0.6" fill="#9135ba"/>
<circle cx="595.2" cy="14.6" r="0.6" fill="#9135ba"/>
<circle cx="629.9" cy="15.9" r="0.6" fill="#9135ba"/>
<circle cx="608.4" cy="11.7" r="0.6" fill="#9135ba"/>
<circle cx="629.1" cy="15.3" r="0.6" fill="#9135ba"/>
<circle cx="628.0" cy="15.6" r="0.6" fill="#9135ba"/>
<circle cx="624.3" cy="14.2" r="0.6" fill="#9135ba"/>
<circle cx="622.5" cy="14.0" r="0.6" fill="#9135ba"/>
<circle cx="604.8" cy="17.9" r="0.6" fill="#9135ba"/>
<circle cx="624.6" cy="14.3" r="0.6" fill="#9135ba"/>
<circle cx="596.1" cy="15.2" r="0.6" fill="#9135ba"/>
<circle cx="610.1" cy="14.4" r="0.6" fill="#9135ba"/>
<circle cx="591.7" cy="15.1" r="0.6" fill="#9135ba"/>
<circle cx="619.7" cy="18.3" r="0.6" fill="#9135ba"/>
<circle cx="587.9" cy="15.5" r="0.6" fill="#9135ba"/>
<circle cx="621.2" cy="12.6" r="0.6" fill="#9135ba"/>
<circle cx="625.0" cy="14.2" r="0.6" fill="#9135ba"/>
<circle cx="613.9" cy="15.9" r="0.6" fill="#9135ba"/>
<circle cx="615.2" cy="13.7" r="0.6" fill="#9135ba"/>
<circle cx="605.5" cy="16.0" r="0.6" fill="#9135ba"/>
<circle cx="605.8" cy="16.6" r="0.6" fill="#9135ba"/>
<circle cx="606.8" cy="15.0" r="0.6" fill="#9135ba"/>
<circle cx="587.1" cy="15.6" r="0.6" fill="#9135ba"/>
<circle cx="608.8" cy="13.2" r="0.6" fill="#9135ba"/>
<circle cx="621.5" cy="17.1" r="0.6" fill="#9135ba"/>
<circle cx="607.3" cy="12.9" r="0.6" fill="#9135ba"/>
<circle cx="608.0" cy="12.2" r="0.6" fill="#9135ba"/>
<circle cx="592.0" cy="15.4" r="0.6" fill="#9135ba"/>
<circle cx="590.3" cy="15.4" r="0.6" fill="#9135ba"/>
<circle cx="609.7" cy="11.5" r="0.6" fill="#9135ba"/>
<circle cx="615.6" cy="11.7" r="0.6" fill="#9135ba"/>
<circle cx="620.1" cy="17.4" r="0.6" fill="#9135ba"/>
<circle cx="609.8" cy="11.6" r="0.6" fill="#9135ba"/>
<circle cx="609.4" cy="14.4" r="0.6" fill="#9135ba"/>
<circle cx="630.2" cy="15.1" r="0.6" fill="#9135ba"/>
<circle cx="625.9" cy="16.8" r="0.6" fill="#9135ba"/>
<circle cx="620.0" cy="17.6" r="0.6" fill="#9135ba"/>
<circle cx="595.0" cy="16.6" r="0.6" fill="#9135ba"/>
<circle cx="608.9" cy="19.3" r="0.6" fill="#9135ba"/>
<circle cx="628.6" cy="15.0" r="0.6" fill="#9135ba"/>
<circle cx="622.7" cy="17.6" r="0.6" fill="#9135ba"/>
<circle cx="589.0" cy="15.3" r="0.6" fill="#9135ba"/>
<circle cx="621.2" cy="13.3" r="0.6" fill="#9135ba"/>
<circle cx="627.7" cy="15.0" r="0.6" fill="#9135ba"/>
<circle cx="623.9" cy="14.0" r="0.6" fill="#9135ba"/>
<circle cx="609.4" cy="19.1" r="0.6" fill="#9135ba"/>
<circle cx="595.7" cy="14.8" r="0.6" fill="#9135ba"/>
<circle cx="609.5" cy="13.9" r="0.6" fill="#9135ba"/>
<path d="M604.5 27.55L606 27.37L607 27.18L609 26.57L610.5 25.92L614 24.08L615.5 23.51L616.5 23.31L617 23.28L620 23.28L620.5 23.31L621 23.44L622 23.93L624.5 25.83L626 26.76L627.5 27.32L629 27.58L629 28.98L627.5 29.24L626 29.8L624.5 30.73L622 32.63L621 33.12L620.5 33.25L620 33.28L617 33.28L616.5 33.25L615.5 33.05L614 32.48L610.5 30.64L609 29.99L607 29.38L606 29.19L604.5 29.01 Z" fill="#008bfb"/>
<path d="M630 27.28L646.5 27.28L647.5 27.12L652 25.96L653 25.82L654 25.78L655 25.86L656 26.04L659.5 27.06L660.5 27.28L692 27.28L692 29.28L660.5 29.28L659.5 29.5L656 30.52L655 30.7L654 30.78L653 30.74L652 30.6L647.5 29.44L646.5 29.28L630 29.28 Z" fill="url(#g20)"/>
<circle cx="632.1" cy="28.0" r="0.6" fill="#8443c6"/>
<circle cx="639.9" cy="28.7" r="0.6" fill="#8443c6"/>
<circle cx="672.3" cy="28.7" r="0.6" fill="#8443c6"/>
<circle cx="640.4" cy="28.6" r="0.6" fill="#8443c6"/>
<circle cx="637.0" cy="28.3" r="0.6" fill="#8443c6"/>
<circle cx="669.6" cy="28.1" r="0.6" fill="#8443c6"/>
<circle cx="684.4" cy="28.3" r="0.6" fill="#8443c6"/>
<circle cx="666.1" cy="28.7" r="0.6" fill="#8443c6"/>
<circle cx="636.3" cy="28.8" r="0.6" fill="#8443c6"/>
<circle cx="669.2" cy="28.2" r="0.6" fill="#8443c6"/>
<circle cx="679.7" cy="28.0" r="0.6" fill="#8443c6"/>
<circle cx="691.8" cy="28.4" r="0.6" fill="#8443c6"/>
<circle cx="652.4" cy="29.3" r="0.6" fill="#8443c6"/>
<circle cx="657.5" cy="27.4" r="0.6" fill="#8443c6"/>
<circle cx="676.3" cy="27.8" r="0.6" fill="#8443c6"/>
<circle cx="681.1" cy="28.0" r="0.6" fill="#8443c6"/>
<circle cx="669.8" cy="28.8" r="0.6" fill="#8443c6"/>
<circle cx="666.5" cy="28.4" r="0.6" fill="#8443c6"/>
<circle cx="650.3" cy="26.8" r="0.6" fill="#f90067"/>
<circle cx="645.6" cy="27.9" r="0.6" fill="#f90067"/>
<circle cx="655.5" cy="28.0" r="0.6" fill="#f90067"/>
<circle cx="653.7" cy="29.9" r="0.6" fill="#f90067"/>
<circle cx="647.2" cy="28.0" r="0.6" fill="#f90067"/>
<circle cx="656.1" cy="26.6" r="0.6" fill="#f90067"/>
<circle cx="645.0" cy="28.1" r="0.6" fill="#f90067"/>
<circle cx="646.8" cy="28.1" r="0.6" fill="#f90067"/>
<circle cx="648.8" cy="28.5" r="0.6" fill="#f90067"/>
<circle cx="655.0" cy="27.1" r="0.6" fill="#f90067"/>
<circle cx="655.6" cy="28.2" r="0.6" fill="#f90067"/>
<circle cx="647.3" cy="28.9" r="0.6" fill="#f90067"/>
<circle cx="649.1" cy="27.5" r="0.6" fill="#f90067"/>
<path d="M611.5 40.11L614.5 40.08L615.5 39.83L616.5 39.5L617.5 39.09L621 37.25L622 36.8L623 36.47L623.5 36.37L624.5 36.31L627.5 36.33L628 36.53L628.5 36.92L630 38.61L631 39.57L631.5 39.91L632.5 40.31L633 39.91L660 39.91L663 39.29L664 39.16L665 39.11L666 39.16L667 39.29L670 39.91L694 39.91L694 42.31L670 42.31L667 42.93L666 43.06L665 43.11L664 43.06L663 42.93L660 42.31L633 42.31L632.5 41.91L631.5 42.31L631 42.65L630 43.61L628.5 45.3L628 45.69L627.5 45.89L624.5 45.91L623.5 45.85L623 45.75L622 45.42L621 44.97L617.5 43.13L616.5 42.72L615.5 42.39L614.5 42.14L611.5 42.11 Z" fill="url(#g21)"/>
<circle cx="614.0" cy="41.2" r="0.6" fill="#9b23ad"/>
<circle cx="630.3" cy="41.9" r="0.6" fill="#9b23ad"/>
<circle cx="620.4" cy="39.6" r="0.6" fill="#9b23ad"/>
<circle cx="612.2" cy="41.3" r="0.6" fill="#9b23ad"/>
<circle cx="623.8" cy="39.8" r="0.6" fill="#9b23ad"/>
<circle cx="625.6" cy="40.6" r="0.6" fill="#9b23ad"/>
<circle cx="631.7" cy="41.4" r="0.6" fill="#9b23ad"/>
<circle cx="617.2" cy="42.2" r="0.6" fill="#9b23ad"/>
<circle cx="612.9" cy="41.1" r="0.6" fill="#9b23ad"/>
<circle cx="620.5" cy="39.5" r="0.6" fill="#9b23ad"/>
<circle cx="613.2" cy="41.4" r="0.6" fill="#9b23ad"/>
<circle cx="612.3" cy="41.2" r="0.6" fill="#9b23ad"/>
<circle cx="631.8" cy="40.8" r="0.6" fill="#9b23ad"/>
<circle cx="616.2" cy="41.3" r="0.6" fill="#9b23ad"/>
<circle cx="622.6" cy="42.2" r="0.6" fill="#9b23ad"/>
<circle cx="629.1" cy="39.0" r="0.6" fill="#9b23ad"/>
<circle cx="662.0" cy="40.7" r="0.6" fill="#9b23ad"/>
<circle cx="657.8" cy="41.7" r="0.6" fill="#9b23ad"/>
<circle cx="669.5" cy="41.5" r="0.6" fill="#9b23ad"/>
<circle cx="657.1" cy="41.6" r="0.6" fill="#9b23ad"/>
<circle cx="668.9" cy="41.0" r="0.6" fill="#9b23ad"/>
<circle cx="668.9" cy="41.0" r="0.6" fill="#9b23ad"/>
<circle cx="660.6" cy="40.5" r="0.6" fill="#9b23ad"/>
<circle cx="660.7" cy="40.4" r="0.6" fill="#9b23ad"/>
<circle cx="662.4" cy="41.7" r="0.6" fill="#9b23ad"/>
<circle cx="668.1" cy="41.9" r="0.6" fill="#9b23ad"/>
<circle cx="668.4" cy="40.6" r="0.6" fill="#9b23ad"/>
<circle cx="665.9" cy="40.9" r="0.6" fill="#9b23ad"/>
<circle cx="608.6" cy="41.2" r="0.75" fill="#008bfb"/>
<path d="M606 53.24L609 52.9L611.5 52.38L614 51.64L618.5 49.99L620 49.52L622 49.08L623.5 48.94L624.5 49.02L625.5 49.4L626.5 50.02L629.5 52.25L631 53.05L631.5 52.64L636 50.68L637.5 50.26L639 50.14L641 50.19L643.5 50.78L646.5 51.34L649.5 51.79L653 52.19L660 52.71L668 53.04L668 54.84L660 55.17L653 55.69L649.5 56.09L646.5 56.54L643.5 57.1L641 57.69L639 57.74L637.5 57.62L636 57.2L631.5 55.24L631 54.83L629.5 55.63L626.5 57.86L625.5 58.48L624.5 58.86L623.5 58.94L622 58.8L620 58.36L618.5 57.89L614 56.24L611.5 55.5L609 54.98L606 54.64 Z" fill="url(#g22)"/>
<circle cx="604.1" cy="53.9" r="0.75" fill="#ff0051"/>
<circle cx="668.0" cy="53.8" r="0.75" fill="#008bfb"/>
<path d="M599 66.05L613.5 64.49L617 64.25L620.5 64.17L622 64.24L624 64.51L630.5 65.97L631 64.97L632 64.62L633 64.14L635.5 62.62L636.5 62.11L637.5 61.81L640 61.77L641.5 61.88L643.5 62.33L645 62.84L649 64.4L651.5 65.2L654 65.75L656.5 66.05L656.5 67.49L654 67.79L651.5 68.34L649 69.14L645 70.7L643.5 71.21L641.5 71.66L640 71.77L637.5 71.73L636.5 71.43L635.5 70.92L633 69.4L632 68.92L631 68.57L630.5 67.57L624 69.03L622 69.3L620.5 69.37L617 69.29L613.5 69.05L599 67.49 Z" fill="url(#g23)"/>
<circle cx="619.5" cy="68.7" r="0.6" fill="#f90067"/>
<circle cx="605.8" cy="67.5" r="0.6" fill="#f90067"/>
<circle cx="599.3" cy="66.6" r="0.6" fill="#f90067"/>
<circle cx="606.4" cy="67.3" r="0.6" fill="#f90067"/>
<circle cx="629.2" cy="67.1" r="0.6" fill="#f90067"/>
<circle cx="609.3" cy="67.8" r="0.6" fill="#f90067"/>
<circle cx="609.4" cy="66.1" r="0.6" fill="#f90067"/>
<circle cx="628.0" cy="67.0" r="0.6" fill="#f90067"/>
<circle cx="621.1" cy="67.5" r="0.6" fill="#f90067"/>
<circle cx="630.3" cy="66.8" r="0.6" fill="#f90067"/>
<circle cx="625.8" cy="67.3" r="0.6" fill="#f90067"/>
<circle cx="626.4" cy="66.6" r="0.6" fill="#f90067"/>
<circle cx="622.1" cy="67.1" r="0.6" fill="#f90067"/>
<circle cx="608.7" cy="66.0" r="0.6" fill="#f90067"/>
<circle cx="618.8" cy="65.0" r="0.6" fill="#f90067"/>
<circle cx="628.1" cy="66.2" r="0.6" fill="#f90067"/>
<circle cx="599.7" cy="66.6" r="0.6" fill="#f90067"/>
<circle cx="628.7" cy="66.5" r="0.6" fill="#f90067"/>
<circle cx="603.4" cy="66.1" r="0.6" fill="#f90067"/>
<circle cx="600.1" cy="66.9" r="0.6" fill="#f90067"/>
<circle cx="619.2" cy="67.6" r="0.6" fill="#f90067"/>
<circle cx="622.5" cy="65.0" r="0.6" fill="#f90067"/>
<circle cx="617.8" cy="66.2" r="0.6" fill="#f90067"/>
<circle cx="625.1" cy="67.8" r="0.6" fill="#f90067"/>
<circle cx="627.5" cy="65.9" r="0.6" fill="#f90067"/>
<path d="M605.5 78.89L609 78.48L611 78.1L616 76.98L617.5 76.74L619 76.61L620 76.63L620.5 76.78L621 77.04L622.5 78.07L625.5 75.61L626 75.33L626.5 75.16L627 75.1L628.5 75.11L629 75.34L629.5 75.79L631 77.71L631.5 78.26L632 78.7L632.5 78.62L633 78.26L634 77.34L635.5 75.73L636.5 74.9L637 74.67L637.5 74.6L639 74.6L639.5 74.78L641.5 75.83L643 76.46L645 77.12L647 77.62L649.5 78.09L652 78.43L655 78.71L658 78.9L658 80.3L655 80.49L652 80.77L649.5 81.11L647 81.58L645 82.08L643 82.74L641.5 83.37L639.5 84.42L639 84.6L637.5 84.6L637 84.53L636.5 84.3L635.5 83.47L634 81.86L633 80.94L632.5 80.58L632 80.5L631.5 80.94L631 81.49L629.5 83.41L629 83.86L628.5 84.09L627 84.1L626.5 84.04L626 83.87L625.5 83.59L622.5 81.13L621 82.16L620.5 82.42L620 82.57L619 82.59L617.5 82.46L616 82.22L611 81.1L609 80.72L605.5 80.31 Z" fill="url(#g24)"/>
<circle cx="660.7" cy="79.7" r="0.75" fill="#008bfb"/>
<path d="M616 91.73L617.5 91.44L619 90.91L620.5 90.13L623 88.5L624 87.94L625 87.56L626 87.43L628 87.47L628.5 87.7L629 88.1L629.5 88.63L631 90.41L631.5 90.92L632 91.24L633 90.95L634 90.83L635.5 90.9L638.5 91.32L639 91.33L703 91.33L703 93.53L639 93.53L638.5 93.54L635.5 93.96L634 94.03L633 93.91L632 93.62L631.5 93.94L631 94.45L629.5 96.23L629 96.76L628.5 97.16L628 97.39L626 97.43L625 97.3L624 96.92L623 96.36L620.5 94.73L619 93.95L617.5 93.42L616 93.13 Z" fill="url(#g25)"/>
<circle cx="631.2" cy="93.8" r="0.6" fill="#9b23ad"/>
<circle cx="617.8" cy="92.1" r="0.6" fill="#9b23ad"/>
<circle cx="617.9" cy="91.8" r="0.6" fill="#9b23ad"/>
<circle cx="630.1" cy="94.1" r="0.6" fill="#9b23ad"/>
<circle cx="626.5" cy="95.4" r="0.6" fill="#9b23ad"/>
<circle cx="626.5" cy="90.5" r="0.6" fill="#9b23ad"/>
<circle cx="617.7" cy="92.0" r="0.6" fill="#9b23ad"/>
<circle cx="628.6" cy="89.9" r="0.6" fill="#9b23ad"/>
<circle cx="621.3" cy="92.1" r="0.6" fill="#9b23ad"/>
<circle cx="616.3" cy="92.3" r="0.6" fill="#9b23ad"/>
<circle cx="620.7" cy="93.2" r="0.6" fill="#9b23ad"/>
<circle cx="622.1" cy="91.4" r="0.6" fill="#9b23ad"/>
<circle cx="632.0" cy="92.4" r="0.6" fill="#9b23ad"/>
<circle cx="708.0" cy="92.6" r="0.75" fill="#ff0051"/>
<path d="M602 104.26L609.5 104.25L611.5 103.95L613 103.61L614.5 103.16L619.5 101.22L621 100.72L622.5 100.38L624 100.26L635.5 100.29L636 100.39L637 100.77L638 101.33L639.5 102.32L640 102.57L644 104.06L644.5 104.21L645 104.26L648.5 104.26L653 103.45L654.5 103.29L655.5 103.26L658 103.41L663.5 104.23L664 104.26L674.5 104.26L674.5 106.26L664 106.26L663.5 106.29L658 107.11L655.5 107.26L654.5 107.23L653 107.07L648.5 106.26L645 106.26L644.5 106.31L640 107.95L639.5 108.2L637.5 109.49L636.5 109.96L635.5 110.23L635 110.26L624 110.26L623 110.21L622 110.05L620.5 109.65L615 107.53L613 106.91L611.5 106.57L609.5 106.27L602 106.26 Z" fill="url(#g26)"/>
<circle cx="628.6" cy="101.0" r="0.6" fill="#bb00a0"/>
<circle cx="619.8" cy="104.8" r="0.6" fill="#bb00a0"/>
<circle cx="635.2" cy="103.9" r="0.6" fill="#bb00a0"/>
<circle cx="632.3" cy="105.6" r="0.6" fill="#bb00a0"/>
<circle cx="611.3" cy="105.8" r="0.6" fill="#bb00a0"/>
<circle cx="605.9" cy="105.6" r="0.6" fill="#bb00a0"/>
<circle cx="609.3" cy="104.8" r="0.6" fill="#bb00a0"/>
<circle cx="610.7" cy="105.6" r="0.6" fill="#bb00a0"/>
<circle cx="644.0" cy="104.6" r="0.6" fill="#bb00a0"/>
<circle cx="623.1" cy="105.2" r="0.6" fill="#bb00a0"/>
<circle cx="636.3" cy="102.6" r="0.6" fill="#bb00a0"/>
<circle cx="623.3" cy="103.9" r="0.6" fill="#bb00a0"/>
<circle cx="637.8" cy="103.6" r="0.6" fill="#bb00a0"/>
<circle cx="642.6" cy="104.7" r="0.6" fill="#bb00a0"/>
<circle cx="611.2" cy="105.5" r="0.6" fill="#bb00a0"/>
<circle cx="623.4" cy="101.8" r="0.6" fill="#bb00a0"/>
<circle cx="629.4" cy="101.5" r="0.6" fill="#bb00a0"/>
<circle cx="635.9" cy="107.0" r="0.6" fill="#bb00a0"/>
<circle cx="635.8" cy="106.4" r="0.6" fill="#bb00a0"/>
<circle cx="617.3" cy="104.7" r="0.6" fill="#bb00a0"/>
<circle cx="619.0" cy="107.9" r="0.6" fill="#bb00a0"/>
<circle cx="605.7" cy="105.6" r="0.6" fill="#bb00a0"/>
<circle cx="603.1" cy="105.0" r="0.6" fill="#bb00a0"/>
<circle cx="613.3" cy="106.3" r="0.6" fill="#bb00a0"/>
<circle cx="623.6" cy="104.2" r="0.6" fill="#bb00a0"/>
<circle cx="640.0" cy="104.1" r="0.6" fill="#bb00a0"/>
<circle cx="621.8" cy="105.5" r="0.6" fill="#bb00a0"/>
<circle cx="634.4" cy="107.5" r="0.6" fill="#bb00a0"/>
<circle cx="629.8" cy="103.9" r="0.6" fill="#bb00a0"/>
<circle cx="616.0" cy="103.8" r="0.6" fill="#bb00a0"/>
<circle cx="638.3" cy="106.3" r="0.6" fill="#bb00a0"/>
<circle cx="633.9" cy="102.3" r="0.6" fill="#bb00a0"/>
<circle cx="620.9" cy="107.5" r="0.6" fill="#bb00a0"/>
<circle cx="626.9" cy="101.9" r="0.6" fill="#bb00a0"/>
<circle cx="621.9" cy="108.6" r="0.6" fill="#0084f9"/>
<circle cx="612.2" cy="104.7" r="0.6" fill="#0084f9"/>
<circle cx="615.0" cy="106.0" r="0.6" fill="#0084f9"/>
<circle cx="638.3" cy="103.1" r="0.6" fill="#0084f9"/>
<circle cx="608.7" cy="105.0" r="0.6" fill="#0084f9"/>
<circle cx="616.0" cy="105.4" r="0.6" fill="#0084f9"/>
<circle cx="608.9" cy="105.1" r="0.6" fill="#0084f9"/>
<circle cx="610.1" cy="105.8" r="0.6" fill="#0084f9"/>
<circle cx="633.3" cy="101.7" r="0.6" fill="#0084f9"/>
<circle cx="643.4" cy="104.6" r="0.6" fill="#0084f9"/>
<circle cx="618.5" cy="108.3" r="0.6" fill="#0084f9"/>
<circle cx="636.2" cy="107.3" r="0.6" fill="#0084f9"/>
<circle cx="620.7" cy="102.9" r="0.6" fill="#0084f9"/>
<circle cx="629.4" cy="101.7" r="0.6" fill="#0084f9"/>
<circle cx="610.9" cy="105.1" r="0.6" fill="#0084f9"/>
<circle cx="603.5" cy="105.2" r="0.6" fill="#0084f9"/>
<circle cx="636.0" cy="106.9" r="0.6" fill="#0084f9"/>
<circle cx="623.5" cy="106.4" r="0.6" fill="#0084f9"/>
<circle cx="621.9" cy="102.2" r="0.6" fill="#0084f9"/>
<circle cx="628.0" cy="104.4" r="0.6" fill="#0084f9"/>
<circle cx="633.9" cy="108.9" r="0.6" fill="#0084f9"/>
<circle cx="620.5" cy="105.8" r="0.6" fill="#0084f9"/>
<circle cx="634.2" cy="104.6" r="0.6" fill="#0084f9"/>
<circle cx="611.8" cy="105.7" r="0.6" fill="#0084f9"/>
<circle cx="639.8" cy="106.5" r="0.6" fill="#0084f9"/>
<circle cx="632.1" cy="108.4" r="0.6" fill="#0084f9"/>
<circle cx="631.2" cy="106.5" r="0.6" fill="#0084f9"/>
<circle cx="621.5" cy="103.7" r="0.6" fill="#0084f9"/>
<circle cx="629.0" cy="101.6" r="0.6" fill="#0084f9"/>
<circle cx="620.0" cy="107.4" r="0.6" fill="#0084f9"/>
<circle cx="632.7" cy="106.4" r="0.6" fill="#0084f9"/>
<circle cx="612.8" cy="105.1" r="0.6" fill="#0084f9"/>
<circle cx="621.6" cy="106.3" r="0.6" fill="#0084f9"/>
<circle cx="619.6" cy="106.5" r="0.6" fill="#0084f9"/>
<path d="M605.5 117.09L611 117.09L612.5 116.87L614 116.45L615 116.08L619.5 113.92L620.5 113.56L621.5 113.35L622.5 113.29L628 113.29L628.5 113.3L629 113.43L629.5 113.7L630.5 114.57L632 116.29L632.5 116.6L634.5 115.33L635.5 114.82L636 114.64L637 114.49L641 114.49L642.5 114.56L644 114.77L651 116.37L653 116.69L655 116.89L655.5 117.19L674.5 117.19L674.5 118.99L655.5 118.99L655 119.29L653 119.49L651 119.81L644 121.41L642.5 121.62L641 121.69L637 121.69L636 121.54L635.5 121.36L634.5 120.85L632.5 119.58L632 119.89L630.5 121.61L629.5 122.48L629 122.75L628.5 122.88L628 122.89L622.5 122.89L621.5 122.83L620.5 122.62L619.5 122.26L615 120.1L614 119.73L612.5 119.31L611 119.09L605.5 119.09 Z" fill="url(#g27)"/>
<circle cx="631.1" cy="116.5" r="0.6" fill="#f20072"/>
<circle cx="623.5" cy="120.5" r="0.6" fill="#f20072"/>
<circle cx="616.2" cy="118.1" r="0.6" fill="#f20072"/>
<circle cx="632.3" cy="117.2" r="0.6" fill="#f20072"/>
<circle cx="620.4" cy="115.4" r="0.6" fill="#f20072"/>
<circle cx="627.0" cy="121.9" r="0.6" fill="#f20072"/>
<circle cx="619.8" cy="115.0" r="0.6" fill="#f20072"/>
<circle cx="621.3" cy="118.4" r="0.6" fill="#f20072"/>
<circle cx="625.2" cy="118.2" r="0.6" fill="#f20072"/>
<circle cx="623.1" cy="120.9" r="0.6" fill="#f20072"/>
<circle cx="619.8" cy="117.4" r="0.6" fill="#f20072"/>
<circle cx="631.6" cy="117.0" r="0.6" fill="#f20072"/>
<circle cx="624.3" cy="117.2" r="0.6" fill="#f20072"/>
<circle cx="626.5" cy="114.8" r="0.6" fill="#f20072"/>
<circle cx="632.6" cy="117.8" r="0.6" fill="#f20072"/>
<circle cx="607.1" cy="117.9" r="0.6" fill="#f20072"/>
<circle cx="616.5" cy="115.9" r="0.6" fill="#f20072"/>
<circle cx="617.0" cy="117.7" r="0.6" fill="#f20072"/>
<circle cx="624.7" cy="116.8" r="0.6" fill="#f20072"/>
<circle cx="612.8" cy="117.6" r="0.6" fill="#f20072"/>
<circle cx="625.9" cy="121.9" r="0.6" fill="#f20072"/>
<circle cx="620.0" cy="115.9" r="0.6" fill="#f20072"/>
<circle cx="627.5" cy="117.2" r="0.6" fill="#f20072"/>
<circle cx="611.3" cy="117.7" r="0.6" fill="#f20072"/>
<circle cx="626.9" cy="120.8" r="0.6" fill="#f20072"/>
<circle cx="622.9" cy="117.8" r="0.6" fill="#f20072"/>
<circle cx="621.0" cy="115.8" r="0.6" fill="#f20072"/>
<circle cx="632.0" cy="117.7" r="0.6" fill="#007cf5"/>
<circle cx="623.1" cy="120.8" r="0.6" fill="#007cf5"/>
<circle cx="627.9" cy="117.8" r="0.6" fill="#007cf5"/>
<circle cx="613.6" cy="118.2" r="0.6" fill="#007cf5"/>
<circle cx="608.9" cy="118.4" r="0.6" fill="#007cf5"/>
<circle cx="615.3" cy="119.3" r="0.6" fill="#007cf5"/>
<circle cx="612.9" cy="117.9" r="0.6" fill="#007cf5"/>
<circle cx="612.5" cy="118.0" r="0.6" fill="#007cf5"/>
<circle cx="610.6" cy="117.6" r="0.6" fill="#007cf5"/>
<circle cx="625.3" cy="116.2" r="0.6" fill="#007cf5"/>
<circle cx="612.2" cy="117.8" r="0.6" fill="#007cf5"/>
<circle cx="618.7" cy="117.6" r="0.6" fill="#007cf5"/>
<circle cx="623.0" cy="119.5" r="0.6" fill="#007cf5"/>
<circle cx="615.5" cy="119.6" r="0.6" fill="#007cf5"/>
<circle cx="629.0" cy="114.4" r="0.6" fill="#007cf5"/>
<circle cx="628.3" cy="121.6" r="0.6" fill="#007cf5"/>
<circle cx="650.0" cy="117.1" r="0.6" fill="#f90067"/>
<circle cx="651.1" cy="118.4" r="0.6" fill="#f90067"/>
<circle cx="632.3" cy="117.1" r="0.6" fill="#f90067"/>
<circle cx="653.9" cy="118.3" r="0.6" fill="#f90067"/>
<circle cx="637.8" cy="115.6" r="0.6" fill="#f90067"/>
<circle cx="635.3" cy="116.6" r="0.6" fill="#f90067"/>
<circle cx="649.9" cy="117.7" r="0.6" fill="#f90067"/>
<circle cx="635.5" cy="120.3" r="0.6" fill="#f90067"/>
<circle cx="650.2" cy="117.1" r="0.6" fill="#f90067"/>
<circle cx="652.5" cy="118.3" r="0.6" fill="#f90067"/>
<circle cx="650.0" cy="118.6" r="0.6" fill="#f90067"/>
<circle cx="652.6" cy="118.6" r="0.6" fill="#f90067"/>
<circle cx="651.3" cy="117.4" r="0.6" fill="#f90067"/>
<circle cx="647.9" cy="118.2" r="0.6" fill="#f90067"/>
<circle cx="649.1" cy="117.9" r="0.6" fill="#f90067"/>
<circle cx="652.3" cy="118.2" r="0.6" fill="#f90067"/>
<circle cx="638.1" cy="116.4" r="0.6" fill="#f90067"/>
<circle cx="635.2" cy="118.1" r="0.6" fill="#f90067"/>
<circle cx="633.3" cy="118.0" r="0.6" fill="#f90067"/>
<circle cx="635.3" cy="118.0" r="0.6" fill="#f90067"/>
<circle cx="643.5" cy="118.3" r="0.6" fill="#f90067"/>
<circle cx="651.8" cy="117.1" r="0.6" fill="#f90067"/>
<circle cx="651.3" cy="118.0" r="0.6" fill="#f90067"/>
<circle cx="644.9" cy="119.0" r="0.6" fill="#f90067"/>
<circle cx="651.3" cy="117.8" r="0.6" fill="#f90067"/>
<circle cx="641.6" cy="120.9" r="0.6" fill="#f90067"/>
<circle cx="633.7" cy="118.5" r="0.6" fill="#f90067"/>
<circle cx="646.6" cy="116.0" r="0.6" fill="#f90067"/>
<circle cx="646.0" cy="119.0" r="0.6" fill="#f90067"/>
<circle cx="653.4" cy="117.8" r="0.6" fill="#f90067"/>
<circle cx="654.6" cy="118.1" r="0.6" fill="#f90067"/>
<circle cx="643.1" cy="120.5" r="0.6" fill="#f90067"/>
<circle cx="632.8" cy="118.7" r="0.6" fill="#f90067"/>
<circle cx="646.4" cy="117.4" r="0.6" fill="#f90067"/>
<circle cx="651.8" cy="117.8" r="0.6" fill="#008bfb"/>
<circle cx="642.9" cy="118.2" r="0.6" fill="#008bfb"/>
<circle cx="649.7" cy="117.2" r="0.6" fill="#008bfb"/>
<circle cx="642.0" cy="117.6" r="0.6" fill="#008bfb"/>
<circle cx="644.7" cy="119.9" r="0.6" fill="#008bfb"/>
<circle cx="638.7" cy="120.1" r="0.6" fill="#008bfb"/>
<circle cx="641.3" cy="118.1" r="0.6" fill="#008bfb"/>
<circle cx="638.2" cy="118.1" r="0.6" fill="#008bfb"/>
<circle cx="654.4" cy="118.3" r="0.6" fill="#008bfb"/>
<circle cx="650.2" cy="117.6" r="0.6" fill="#008bfb"/>
<circle cx="639.3" cy="116.8" r="0.6" fill="#008bfb"/>
<circle cx="645.5" cy="118.8" r="0.6" fill="#008bfb"/>
<circle cx="650.0" cy="116.8" r="0.6" fill="#008bfb"/>
<circle cx="648.6" cy="119.4" r="0.6" fill="#008bfb"/>
<circle cx="644.5" cy="115.6" r="0.6" fill="#008bfb"/>
<circle cx="638.9" cy="115.0" r="0.6" fill="#008bfb"/>
<circle cx="636.4" cy="120.7" r="0.6" fill="#008bfb"/>
<circle cx="646.0" cy="118.8" r="0.6" fill="#008bfb"/>
<circle cx="650.1" cy="119.3" r="0.6" fill="#008bfb"/>
<circle cx="646.1" cy="118.6" r="0.6" fill="#008bfb"/>
<circle cx="646.4" cy="119.0" r="0.6" fill="#008bfb"/>
<circle cx="645.7" cy="119.0" r="0.6" fill="#008bfb"/>
<circle cx="636.9" cy="119.1" r="0.6" fill="#008bfb"/>
<circle cx="642.5" cy="119.7" r="0.6" fill="#008bfb"/>
<circle cx="634.3" cy="116.6" r="0.6" fill="#008bfb"/>
<circle cx="632.9" cy="118.8" r="0.6" fill="#008bfb"/>
<circle cx="653.0" cy="118.4" r="0.6" fill="#008bfb"/>
<circle cx="640.5" cy="120.1" r="0.6" fill="#008bfb"/>
<circle cx="650.1" cy="118.3" r="0.6" fill="#008bfb"/>
<circle cx="637.9" cy="116.9" r="0.6" fill="#008bfb"/>
<circle cx="641.7" cy="117.0" r="0.6" fill="#008bfb"/>
<circle cx="641.9" cy="119.0" r="0.6" fill="#008bfb"/>
<circle cx="653.5" cy="117.3" r="0.6" fill="#008bfb"/>
<circle cx="645.1" cy="115.7" r="0.6" fill="#008bfb"/>
<circle cx="677.0" cy="117.9" r="0.75" fill="#e9007c"/>
<circle cx="680.0" cy="118.2" r="0.75" fill="#e9007c"/>
<path d="M597 129.92L606.5 129.92L608.5 129.7L611 129.3L613 128.86L619.5 127.01L621.5 126.53L623.5 126.22L625.5 126.12L630.5 126.16L631 126.63L631.5 127.47L632.5 129.45L633 129.55L634 128.78L634.5 128.51L635 128.42L636 128.46L637.5 128.67L643.5 130.13L644 129.92L684 129.92L684 131.92L644 131.92L643.5 131.71L637.5 133.17L636 133.38L635 133.42L634.5 133.33L634 133.06L633 132.29L632.5 132.39L631.5 134.37L631 135.21L630.5 135.68L630 135.72L625 135.72L624 135.67L622.5 135.49L620 134.96L614.5 133.37L612.5 132.86L610.5 132.44L608 132.07L606.5 131.92L597 131.92 Z" fill="url(#g28)"/>
<circle cx="617.5" cy="133.3" r="0.6" fill="#f90067"/>
<circle cx="612.9" cy="129.4" r="0.6" fill="#f90067"/>
<circle cx="610.7" cy="131.1" r="0.6" fill="#f90067"/>
<circle cx="630.7" cy="135.0" r="0.6" fill="#f90067"/>
<circle cx="613.9" cy="130.6" r="0.6" fill="#f90067"/>
<circle cx="600.3" cy="131.1" r="0.6" fill="#f90067"/>
<circle cx="604.3" cy="130.6" r="0.6" fill="#f90067"/>
<circle cx="597.2" cy="130.4" r="0.6" fill="#f90067"/>
<circle cx="621.5" cy="128.0" r="0.6" fill="#f90067"/>
<circle cx="631.8" cy="129.3" r="0.6" fill="#f90067"/>
<circle cx="628.3" cy="127.7" r="0.6" fill="#f90067"/>
<circle cx="597.2" cy="131.1" r="0.6" fill="#f90067"/>
<circle cx="605.4" cy="131.2" r="0.6" fill="#f90067"/>
<circle cx="603.4" cy="130.5" r="0.6" fill="#f90067"/>
<circle cx="624.8" cy="132.8" r="0.6" fill="#f90067"/>
<circle cx="627.7" cy="132.9" r="0.6" fill="#f90067"/>
<circle cx="599.7" cy="131.0" r="0.6" fill="#f90067"/>
<circle cx="622.4" cy="130.6" r="0.6" fill="#f90067"/>
<circle cx="630.5" cy="128.8" r="0.6" fill="#f90067"/>
<circle cx="631.7" cy="132.2" r="0.6" fill="#f90067"/>
<circle cx="597.0" cy="130.4" r="0.6" fill="#f90067"/>
<circle cx="620.3" cy="133.2" r="0.6" fill="#f90067"/>
<circle cx="599.5" cy="130.7" r="0.6" fill="#f90067"/>
<circle cx="623.2" cy="128.2" r="0.6" fill="#f90067"/>
<circle cx="627.9" cy="130.8" r="0.6" fill="#f90067"/>
<circle cx="598.8" cy="130.8" r="0.6" fill="#f90067"/>
<circle cx="617.5" cy="130.6" r="0.6" fill="#f90067"/>
<circle cx="621.2" cy="128.2" r="0.6" fill="#f90067"/>
<circle cx="625.6" cy="129.7" r="0.6" fill="#f90067"/>
<circle cx="620.1" cy="131.8" r="0.6" fill="#f90067"/>
<circle cx="611.8" cy="130.6" r="0.6" fill="#f90067"/>
<circle cx="625.2" cy="134.7" r="0.6" fill="#f90067"/>
<circle cx="625.2" cy="131.5" r="0.6" fill="#f90067"/>
<circle cx="607.2" cy="130.4" r="0.6" fill="#f90067"/>
<circle cx="632.1" cy="131.7" r="0.6" fill="#f90067"/>
<circle cx="626.7" cy="129.5" r="0.6" fill="#f90067"/>
<circle cx="618.7" cy="133.9" r="0.6" fill="#007cf5"/>
<circle cx="626.9" cy="131.8" r="0.6" fill="#007cf5"/>
<circle cx="607.8" cy="130.8" r="0.6" fill="#007cf5"/>
<circle cx="628.9" cy="129.9" r="0.6" fill="#007cf5"/>
<circle cx="621.5" cy="131.7" r="0.6" fill="#007cf5"/>
<circle cx="629.2" cy="133.6" r="0.6" fill="#007cf5"/>
<circle cx="606.9" cy="130.4" r="0.6" fill="#007cf5"/>
<circle cx="606.2" cy="130.8" r="0.6" fill="#007cf5"/>
<circle cx="618.0" cy="132.8" r="0.6" fill="#007cf5"/>
<circle cx="628.9" cy="127.0" r="0.6" fill="#007cf5"/>
<circle cx="626.9" cy="133.6" r="0.6" fill="#007cf5"/>
<circle cx="628.2" cy="131.5" r="0.6" fill="#007cf5"/>
<circle cx="606.6" cy="131.3" r="0.6" fill="#007cf5"/>
<circle cx="626.0" cy="132.5" r="0.6" fill="#007cf5"/>
<circle cx="629.9" cy="129.6" r="0.6" fill="#007cf5"/>
<circle cx="599.7" cy="131.0" r="0.6" fill="#007cf5"/>
<circle cx="625.6" cy="128.3" r="0.6" fill="#007cf5"/>
<circle cx="623.9" cy="134.6" r="0.6" fill="#007cf5"/>
<circle cx="605.1" cy="131.0" r="0.6" fill="#007cf5"/>
<circle cx="621.3" cy="130.7" r="0.6" fill="#007cf5"/>
<circle cx="604.1" cy="130.7" r="0.6" fill="#007cf5"/>
<circle cx="623.9" cy="133.4" r="0.6" fill="#007cf5"/>
<circle cx="613.3" cy="129.5" r="0.6" fill="#007cf5"/>
<circle cx="626.0" cy="133.3" r="0.6" fill="#007cf5"/>
<circle cx="605.1" cy="131.0" r="0.6" fill="#007cf5"/>
<circle cx="629.2" cy="134.2" r="0.6" fill="#007cf5"/>
<circle cx="615.6" cy="130.8" r="0.6" fill="#007cf5"/>
<circle cx="618.1" cy="129.1" r="0.6" fill="#007cf5"/>
<circle cx="603.6" cy="130.6" r="0.6" fill="#007cf5"/>
<circle cx="688.7" cy="131.0" r="0.75" fill="#f90067"/>
<circle cx="691.6" cy="130.9" r="0.75" fill="#f90067"/>
<path d="M614 143.02L618.5 142.55L620.5 142.22L622.5 141.77L624 141.35L625.5 140.82L627 140.16L628.5 139.34L629 139.15L630 139.15L630.5 139.25L631 139.74L631.5 140.55L632.5 142.51L633 141.92L633.5 141.55L634.5 141.9L636 142.31L637.5 142.61L639.5 142.9L700 142.9L700 144.6L639.5 144.6L637.5 144.89L636 145.19L634.5 145.6L633.5 145.95L633 145.58L632.5 144.99L631.5 146.95L631 147.76L630.5 148.25L630 148.35L629 148.35L628.5 148.16L627 147.34L625.5 146.68L624 146.15L622.5 145.73L620.5 145.28L618.5 144.95L614 144.48 Z" fill="url(#g29)"/>
<circle cx="624.4" cy="143.3" r="0.6" fill="#bb00a0"/>
<circle cx="623.5" cy="142.5" r="0.6" fill="#bb00a0"/>
<circle cx="614.5" cy="144.0" r="0.6" fill="#bb00a0"/>
<circle cx="620.8" cy="142.9" r="0.6" fill="#bb00a0"/>
<circle cx="625.7" cy="145.1" r="0.6" fill="#bb00a0"/>
<circle cx="616.6" cy="143.8" r="0.6" fill="#bb00a0"/>
<circle cx="620.2" cy="143.8" r="0.6" fill="#bb00a0"/>
<circle cx="614.0" cy="143.5" r="0.6" fill="#bb00a0"/>
<circle cx="632.6" cy="144.3" r="0.6" fill="#bb00a0"/>
<circle cx="622.9" cy="144.0" r="0.6" fill="#bb00a0"/>
<circle cx="618.6" cy="144.1" r="0.6" fill="#bb00a0"/>
<circle cx="621.8" cy="145.0" r="0.6" fill="#bb00a0"/>
<circle cx="628.3" cy="146.2" r="0.6" fill="#bb00a0"/>
<circle cx="632.1" cy="142.9" r="0.6" fill="#bb00a0"/>
<circle cx="614.3" cy="143.6" r="0.6" fill="#bb00a0"/>
<circle cx="617.1" cy="143.3" r="0.6" fill="#bb00a0"/>
<circle cx="614.6" cy="143.8" r="0.6" fill="#bb00a0"/>
<circle cx="630.3" cy="143.4" r="0.6" fill="#bb00a0"/>
<circle cx="631.8" cy="145.2" r="0.6" fill="#bb00a0"/>
<circle cx="633.0" cy="144.0" r="0.6" fill="#6359da"/>
<circle cx="635.8" cy="143.0" r="0.6" fill="#6359da"/>
<circle cx="640.6" cy="143.6" r="0.6" fill="#6359da"/>
<circle cx="637.3" cy="143.9" r="0.6" fill="#6359da"/>
<circle cx="640.6" cy="143.9" r="0.6" fill="#6359da"/>
<circle cx="611.5" cy="143.7" r="0.75" fill="#9b23ad"/>
<circle cx="701.8" cy="143.7" r="0.75" fill="#ff0051"/>
<circle cx="703.4" cy="143.6" r="0.75" fill="#ff0051"/>
<circle cx="705.0" cy="143.9" r="0.75" fill="#ff0051"/>
<circle cx="708.3" cy="143.9" r="0.75" fill="#ff0051"/>
<path d="M567.5 155.68L605 155.68L621 154.76L624.5 154.63L628 154.58L628.5 154.6L629.5 154.77L630.5 155.07L632 155.7L632.5 155.81L633.5 154.91L635.5 152.79L636 152.4L636.5 152.16L637 152.08L638.5 152.08L639.5 152.15L641 152.57L642 153L646 155.04L647 155.43L648.5 155.88L648.5 157.28L647 157.73L646 158.12L642 160.16L641 160.59L639.5 161.01L638.5 161.08L637 161.08L636.5 161L636 160.76L635.5 160.37L633.5 158.25L632.5 157.35L632 157.46L630.5 158.09L629.5 158.39L628.5 158.56L628 158.58L624.5 158.53L621 158.4L605 157.48L567.5 157.48 Z" fill="url(#g30)"/>
<circle cx="636.0" cy="153.2" r="0.6" fill="#007cf5"/>
<circle cx="636.5" cy="155.4" r="0.6" fill="#007cf5"/>
<circle cx="646.9" cy="157.1" r="0.6" fill="#007cf5"/>
<circle cx="645.9" cy="155.6" r="0.6" fill="#007cf5"/>
<circle cx="645.1" cy="157.2" r="0.6" fill="#007cf5"/>
<circle cx="642.8" cy="159.1" r="0.6" fill="#007cf5"/>
<circle cx="633.3" cy="155.8" r="0.6" fill="#007cf5"/>
<circle cx="644.6" cy="158.1" r="0.6" fill="#007cf5"/>
<circle cx="643.3" cy="155.7" r="0.6" fill="#007cf5"/>
<circle cx="641.9" cy="158.2" r="0.6" fill="#007cf5"/>
<circle cx="634.1" cy="156.0" r="0.6" fill="#007cf5"/>
<circle cx="636.5" cy="153.6" r="0.6" fill="#007cf5"/>
<circle cx="640.1" cy="154.0" r="0.6" fill="#007cf5"/>
<circle cx="636.2" cy="154.0" r="0.6" fill="#007cf5"/>
<circle cx="643.3" cy="154.3" r="0.6" fill="#007cf5"/>
<circle cx="643.9" cy="155.3" r="0.6" fill="#007cf5"/>
<circle cx="633.0" cy="157.2" r="0.6" fill="#9b23ad"/>
<circle cx="636.0" cy="159.8" r="0.6" fill="#9b23ad"/>
<circle cx="646.4" cy="157.2" r="0.6" fill="#9b23ad"/>
<circle cx="634.7" cy="156.3" r="0.6" fill="#9b23ad"/>
<circle cx="634.0" cy="158.0" r="0.6" fill="#9b23ad"/>
<circle cx="646.0" cy="156.8" r="0.6" fill="#9b23ad"/>
<circle cx="639.7" cy="155.3" r="0.6" fill="#9b23ad"/>
<circle cx="645.7" cy="156.5" r="0.6" fill="#9b23ad"/>
<path d="M605.5 168.7L612.5 168.22L615.5 167.9L618.5 167.47L621 167.01L623.5 166.42L625.5 165.84L628 164.93L628.5 164.81L629.5 164.81L630 164.86L630.5 165.19L631 165.79L632.5 168.25L633 168.08L634 167.24L634.5 166.99L635 166.91L637 166.99L639 167.22L646 168.41L673 168.41L673.5 168.86L700 168.86L700 169.96L673.5 169.96L673 170.41L646 170.41L639 171.6L637 171.83L635 171.91L634.5 171.83L634 171.58L633 170.74L632.5 170.57L631 173.03L630.5 173.63L630 173.96L629.5 174.01L628.5 174.01L628 173.89L625.5 172.98L623.5 172.4L621 171.81L618.5 171.35L615.5 170.92L612.5 170.6L605.5 170.12 Z" fill="url(#g31)"/>
<circle cx="622.5" cy="167.8" r="0.6" fill="#9b23ad"/>
<circle cx="611.3" cy="168.9" r="0.6" fill="#9b23ad"/>
<circle cx="624.9" cy="169.7" r="0.6" fill="#9b23ad"/>
<circle cx="609.2" cy="169.7" r="0.6" fill="#9b23ad"/>
<circle cx="612.6" cy="169.3" r="0.6" fill="#9b23ad"/>
<circle cx="609.5" cy="169.2" r="0.6" fill="#9b23ad"/>
<circle cx="628.4" cy="168.1" r="0.6" fill="#9b23ad"/>
<circle cx="609.8" cy="169.4" r="0.6" fill="#9b23ad"/>
<circle cx="614.0" cy="170.1" r="0.6" fill="#9b23ad"/>
<circle cx="608.4" cy="169.8" r="0.6" fill="#9b23ad"/>
<circle cx="606.8" cy="169.6" r="0.6" fill="#9b23ad"/>
<circle cx="623.6" cy="168.0" r="0.6" fill="#9b23ad"/>
<circle cx="618.4" cy="168.8" r="0.6" fill="#9b23ad"/>
<circle cx="612.3" cy="169.0" r="0.6" fill="#9b23ad"/>
<circle cx="615.3" cy="170.4" r="0.6" fill="#9b23ad"/>
<circle cx="632.7" cy="170.0" r="0.6" fill="#9b23ad"/>
<circle cx="607.9" cy="169.3" r="0.6" fill="#9b23ad"/>
<circle cx="629.9" cy="165.8" r="0.6" fill="#9b23ad"/>
<circle cx="625.3" cy="168.1" r="0.6" fill="#9b23ad"/>
<circle cx="632.2" cy="168.0" r="0.6" fill="#9b23ad"/>
<circle cx="627.5" cy="168.2" r="0.6" fill="#9b23ad"/>
<circle cx="609.1" cy="169.0" r="0.6" fill="#9b23ad"/>
<circle cx="645.4" cy="169.4" r="0.6" fill="#f90067"/>
<circle cx="635.3" cy="169.2" r="0.6" fill="#f90067"/>
<circle cx="646.6" cy="169.1" r="0.6" fill="#f90067"/>
<circle cx="641.3" cy="168.5" r="0.6" fill="#f90067"/>
<circle cx="635.2" cy="170.5" r="0.6" fill="#f90067"/>
<circle cx="643.5" cy="168.9" r="0.6" fill="#f90067"/>
<circle cx="633.6" cy="168.3" r="0.6" fill="#f90067"/>
<circle cx="641.9" cy="169.4" r="0.6" fill="#f90067"/>
<circle cx="636.7" cy="168.3" r="0.6" fill="#f90067"/>
<circle cx="702.0" cy="169.4" r="0.75" fill="#ff0051"/>
<circle cx="705.5" cy="169.5" r="0.75" fill="#ff0051"/>
<circle cx="708.7" cy="169.5" r="0.75" fill="#ff0051"/>
<path d="M618.5 181.5L620 180.71L623 178.76L624 178.2L625 177.82L625.5 177.7L626.5 177.64L628 177.65L628.5 177.8L629 178.11L629.5 178.56L631 180.22L632 181.22L632.5 179.37L633 178.74L634 178.81L634.5 179.02L635 179.37L637 181.13L696 181.14L696 183.34L637 183.35L635 185.11L634.5 185.46L634 185.67L633 185.74L632.5 185.11L632 183.26L631 184.26L629.5 185.92L629 186.37L628.5 186.68L628 186.83L626.5 186.84L625.5 186.78L625 186.66L624 186.28L623 185.72L620 183.77L618.5 182.98 Z" fill="url(#g32)"/>
<circle cx="698.0" cy="182.3" r="0.75" fill="#ff0051"/>
<circle cx="700.5" cy="182.1" r="0.75" fill="#ff0051"/>
<circle cx="703.5" cy="182.1" r="0.75" fill="#ff0051"/>
<path d="M608.5 194.36L611.5 194.14L614.5 193.84L617 193.5L619.5 193.06L621.5 192.62L623.5 192.09L625.5 191.42L627.5 190.61L628 190.47L629.5 190.49L630 190.72L630.5 191.17L631 191.78L632 193.24L632.5 193.77L633 193.25L633.5 192.9L634 192.77L635.5 193.27L637 193.66L639 194.02L640 194.12L703.5 194.12L703.5 196.02L640 196.02L639 196.12L637 196.48L635.5 196.87L634 197.37L633.5 197.24L633 196.89L632.5 196.37L632 196.9L631 198.36L630.5 198.97L630 199.42L629.5 199.65L628 199.67L627.5 199.53L625.5 198.72L623.5 198.05L621.5 197.52L619.5 197.08L617 196.64L614.5 196.3L611.5 196L608.5 195.78 Z" fill="url(#g33)"/>
<circle cx="626.3" cy="194.4" r="0.6" fill="#9b23ad"/>
<circle cx="626.0" cy="192.1" r="0.6" fill="#9b23ad"/>
<circle cx="628.2" cy="193.7" r="0.6" fill="#9b23ad"/>
<circle cx="628.9" cy="198.1" r="0.6" fill="#9b23ad"/>
<circle cx="620.4" cy="193.4" r="0.6" fill="#9b23ad"/>
<circle cx="630.6" cy="194.9" r="0.6" fill="#9b23ad"/>
<circle cx="629.7" cy="193.2" r="0.6" fill="#9b23ad"/>
<circle cx="612.9" cy="195.4" r="0.6" fill="#9b23ad"/>
<circle cx="617.4" cy="194.3" r="0.6" fill="#9b23ad"/>
<circle cx="617.5" cy="195.3" r="0.6" fill="#9b23ad"/>
<circle cx="608.5" cy="195.1" r="0.6" fill="#9b23ad"/>
<circle cx="619.3" cy="195.1" r="0.6" fill="#9b23ad"/>
<circle cx="611.3" cy="195.3" r="0.6" fill="#9b23ad"/>
<circle cx="628.3" cy="198.1" r="0.6" fill="#9b23ad"/>
<circle cx="616.2" cy="195.5" r="0.6" fill="#9b23ad"/>
<circle cx="617.7" cy="195.6" r="0.6" fill="#9b23ad"/>
<circle cx="609.9" cy="195.3" r="0.6" fill="#9b23ad"/>
<circle cx="631.7" cy="195.0" r="0.6" fill="#9b23ad"/>
<circle cx="620.9" cy="195.2" r="0.6" fill="#9b23ad"/>
<circle cx="605.2" cy="195.1" r="0.75" fill="#008bfb"/>
<path d="M583 206.9L620.5 206.87L623 206.36L625 205.76L627 204.91L628 204.36L629.5 203.4L630.5 203.4L631 203.65L631.5 204.68L632 206.1L632.5 207.05L633.5 205.61L634 205.03L634.5 204.63L635 204.42L636.5 204.4L639.5 205.46L642.5 206.19L644.5 206.53L646.5 206.8L651 207.18L651 208.62L646.5 209L644.5 209.27L642.5 209.61L639.5 210.34L636.5 211.4L635 211.38L634.5 211.17L634 210.77L633.5 210.19L632.5 208.75L632 209.7L631.5 211.12L631 212.15L630.5 212.4L629.5 212.4L628 211.44L627 210.89L625 210.04L623 209.44L620.5 208.93L583 208.9 Z" fill="url(#g34)"/>
<circle cx="618.3" cy="208.4" r="0.6" fill="#e9007c"/>
<circle cx="621.2" cy="207.5" r="0.6" fill="#e9007c"/>
<circle cx="619.5" cy="207.7" r="0.6" fill="#e9007c"/>
<circle cx="629.8" cy="204.1" r="0.6" fill="#e9007c"/>
<circle cx="619.4" cy="208.1" r="0.6" fill="#e9007c"/>
<circle cx="620.8" cy="207.3" r="0.6" fill="#e9007c"/>
<circle cx="626.6" cy="208.2" r="0.6" fill="#e9007c"/>
<circle cx="625.5" cy="208.6" r="0.6" fill="#e9007c"/>
<circle cx="619.5" cy="208.3" r="0.6" fill="#e9007c"/>
<circle cx="628.3" cy="204.8" r="0.6" fill="#e9007c"/>
<circle cx="619.8" cy="207.9" r="0.6" fill="#e9007c"/>
<circle cx="625.2" cy="207.2" r="0.6" fill="#236cea"/>
<circle cx="619.8" cy="207.8" r="0.6" fill="#236cea"/>
<circle cx="620.0" cy="208.0" r="0.6" fill="#236cea"/>
<circle cx="630.4" cy="205.1" r="0.6" fill="#236cea"/>
<circle cx="626.2" cy="208.9" r="0.6" fill="#236cea"/>
<circle cx="620.4" cy="208.2" r="0.6" fill="#236cea"/>
<circle cx="631.5" cy="207.3" r="0.6" fill="#236cea"/>
<circle cx="624.1" cy="208.8" r="0.6" fill="#236cea"/>
<path d="M603.5 219.73L614.5 219.73L620.5 218.93L623.5 218.73L625 218.8L626 218.99L628 219.54L628.5 219.49L630 218.72L632.5 217.2L633.5 216.69L634.5 216.35L635.5 216.23L637.5 216.24L638 216.37L638.5 216.61L639.5 217.37L641.5 219.15L642.5 219.79L643 219.73L660.5 219.73L660.5 221.73L643 221.73L642.5 221.67L641.5 222.31L639.5 224.09L638.5 224.85L638 225.09L637.5 225.22L637 225.23L635 225.2L634 224.96L632.5 224.26L630 222.74L628.5 221.97L628 221.92L626 222.47L625 222.66L623.5 222.73L620.5 222.53L614.5 221.73L603.5 221.73 Z" fill="url(#g35)"/>
<circle cx="621.5" cy="220.4" r="0.6" fill="#f20072"/>
<circle cx="628.9" cy="221.3" r="0.6" fill="#f20072"/>
<circle cx="618.1" cy="220.2" r="0.6" fill="#f20072"/>
<circle cx="618.0" cy="220.6" r="0.6" fill="#f20072"/>
<circle cx="629.7" cy="221.5" r="0.6" fill="#f20072"/>
<circle cx="628.4" cy="221.2" r="0.6" fill="#f20072"/>
<circle cx="627.3" cy="220.0" r="0.6" fill="#f20072"/>
<circle cx="621.3" cy="222.0" r="0.6" fill="#f20072"/>
<circle cx="628.8" cy="220.2" r="0.6" fill="#f20072"/>
<circle cx="619.6" cy="221.0" r="0.6" fill="#f20072"/>
<circle cx="632.8" cy="220.9" r="0.6" fill="#9b23ad"/>
<circle cx="628.1" cy="220.6" r="0.6" fill="#9b23ad"/>
<circle cx="635.1" cy="216.9" r="0.6" fill="#9b23ad"/>
<circle cx="629.2" cy="221.6" r="0.6" fill="#9b23ad"/>
<circle cx="639.4" cy="223.2" r="0.6" fill="#9b23ad"/>
<circle cx="637.1" cy="223.2" r="0.6" fill="#9b23ad"/>
<circle cx="641.1" cy="221.9" r="0.6" fill="#9b23ad"/>
<circle cx="627.5" cy="221.0" r="0.6" fill="#9b23ad"/>
<circle cx="631.3" cy="221.6" r="0.6" fill="#9b23ad"/>
<circle cx="631.4" cy="220.9" r="0.6" fill="#9b23ad"/>
<circle cx="641.8" cy="220.9" r="0.6" fill="#9b23ad"/>
<circle cx="631.0" cy="220.8" r="0.6" fill="#9b23ad"/>
<circle cx="667.0" cy="220.7" r="0.75" fill="#ff0051"/>
<path d="M586 232.66L619.5 232.64L623.5 231.9L625.5 231.63L627.5 231.58L629 231.91L632 229.82L633 229.3L634 229.07L636 229.06L636.5 229.39L637 229.88L638 230.68L639.5 231.57L640.5 232L641.5 232.33L642.5 232.58L644 232.86L644 234.26L642.5 234.54L641.5 234.79L640.5 235.12L639.5 235.55L638 236.44L637 237.24L636.5 237.73L636 238.06L634 238.05L633 237.82L632 237.3L629 235.21L627.5 235.54L625.5 235.49L623.5 235.22L619.5 234.48L586 234.46 Z" fill="url(#g36)"/>
<circle cx="643.2" cy="233.4" r="0.6" fill="#9b23ad"/>
<circle cx="632.2" cy="234.5" r="0.6" fill="#9b23ad"/>
<circle cx="629.0" cy="233.8" r="0.6" fill="#9b23ad"/>
<circle cx="643.3" cy="233.6" r="0.6" fill="#9b23ad"/>
<circle cx="631.6" cy="233.4" r="0.6" fill="#9b23ad"/>
<circle cx="636.1" cy="230.7" r="0.6" fill="#9b23ad"/>
<circle cx="629.1" cy="232.7" r="0.6" fill="#9b23ad"/>
<circle cx="632.0" cy="233.0" r="0.6" fill="#9b23ad"/>
<circle cx="631.9" cy="231.9" r="0.6" fill="#9b23ad"/>
<circle cx="628.5" cy="233.7" r="0.6" fill="#9b23ad"/>
<circle cx="641.3" cy="233.7" r="0.6" fill="#9b23ad"/>
<circle cx="636.7" cy="234.7" r="0.6" fill="#9b23ad"/>
<circle cx="630.4" cy="234.5" r="0.6" fill="#9b23ad"/>
<circle cx="591.1" cy="233.5" r="0.75" fill="#fe005c"/>
<circle cx="598.2" cy="233.6" r="0.75" fill="#fe005c"/>
<circle cx="582.8" cy="233.7" r="0.75" fill="#fe005c"/>
<circle cx="590.6" cy="233.5" r="0.75" fill="#fe005c"/>
<circle cx="595.1" cy="233.4" r="0.75" fill="#fe005c"/>
<circle cx="593.4" cy="233.4" r="0.75" fill="#fe005c"/>
<circle cx="589.5" cy="233.3" r="0.75" fill="#fe005c"/>
<circle cx="584.3" cy="233.6" r="0.75" fill="#fe005c"/>
<circle cx="589.9" cy="233.5" r="0.75" fill="#fe005c"/>
<path d="M612.5 245.39L615 245.38L616.5 245.1L619 244.43L623.5 242.85L625.5 242.26L627.5 241.93L629.5 241.89L630 241.89L630.5 242.02L631 242.36L631.5 242.85L632.5 244.08L633 244.57L634 243.82L634.5 243.55L635 243.37L635.5 243.29L638.5 243.34L642 243.52L645.5 243.81L661 245.49L661 247.29L645.5 248.97L642 249.26L638.5 249.44L635.5 249.49L635 249.41L634.5 249.23L634 248.96L633 248.21L632.5 248.7L631.5 249.93L631 250.42L630.5 250.76L630 250.89L629.5 250.89L627.5 250.85L625.5 250.52L623.5 249.93L619 248.35L616.5 247.68L615 247.4L612.5 247.39 Z" fill="url(#g37)"/>
<circle cx="625.0" cy="243.0" r="0.6" fill="#007cf5"/>
<circle cx="619.9" cy="247.7" r="0.6" fill="#007cf5"/>
<circle cx="617.4" cy="246.5" r="0.6" fill="#007cf5"/>
<circle cx="622.9" cy="245.2" r="0.6" fill="#007cf5"/>
<circle cx="633.7" cy="245.7" r="0.6" fill="#007cf5"/>
<circle cx="629.0" cy="243.7" r="0.6" fill="#007cf5"/>
<circle cx="613.7" cy="246.8" r="0.6" fill="#007cf5"/>
<circle cx="621.8" cy="244.2" r="0.6" fill="#007cf5"/>
<circle cx="620.7" cy="246.2" r="0.6" fill="#007cf5"/>
<circle cx="628.2" cy="243.3" r="0.6" fill="#007cf5"/>
<circle cx="617.1" cy="247.2" r="0.6" fill="#007cf5"/>
<circle cx="628.3" cy="243.6" r="0.6" fill="#007cf5"/>
<circle cx="619.5" cy="245.9" r="0.6" fill="#007cf5"/>
<circle cx="626.9" cy="247.3" r="0.6" fill="#007cf5"/>
<circle cx="630.7" cy="248.9" r="0.6" fill="#007cf5"/>
<circle cx="623.5" cy="247.8" r="0.6" fill="#007cf5"/>
<circle cx="628.4" cy="248.5" r="0.6" fill="#007cf5"/>
<circle cx="622.6" cy="247.9" r="0.6" fill="#007cf5"/>
<circle cx="627.6" cy="249.7" r="0.6" fill="#007cf5"/>
<circle cx="615.0" cy="246.8" r="0.6" fill="#007cf5"/>
<circle cx="612.3" cy="246.7" r="0.6" fill="#007cf5"/>
<circle cx="625.0" cy="246.4" r="0.6" fill="#e9007c"/>
<circle cx="633.2" cy="246.6" r="0.6" fill="#e9007c"/>
<circle cx="621.3" cy="247.7" r="0.6" fill="#e9007c"/>
<circle cx="631.2" cy="247.1" r="0.6" fill="#e9007c"/>
<circle cx="620.5" cy="246.2" r="0.6" fill="#e9007c"/>
<circle cx="622.2" cy="247.5" r="0.6" fill="#e9007c"/>
<circle cx="618.6" cy="246.1" r="0.6" fill="#e9007c"/>
<circle cx="624.3" cy="245.6" r="0.6" fill="#e9007c"/>
<circle cx="619.2" cy="247.2" r="0.6" fill="#e9007c"/>
<circle cx="630.7" cy="246.4" r="0.6" fill="#e9007c"/>
<circle cx="621.9" cy="244.8" r="0.6" fill="#e9007c"/>
<circle cx="618.8" cy="245.4" r="0.6" fill="#e9007c"/>
<circle cx="624.7" cy="246.9" r="0.6" fill="#e9007c"/>
<circle cx="667.0" cy="246.2" r="0.75" fill="#0084f9"/>
<path d="M609 258.22L617 258.22L622 257.45L624.5 257.23L626 257.29L627.5 257.64L629.5 255.86L630.5 255.1L631 254.86L631.5 254.73L633 254.72L634 254.79L634.5 254.96L635.5 255.53L637.5 257.08L638 257.16L645 257.56L652.5 257.9L670 258.42L670 260.02L652.5 260.54L645 260.88L638 261.28L637.5 261.36L635.5 262.91L634.5 263.48L634 263.65L633 263.72L631.5 263.71L631 263.58L630.5 263.34L629.5 262.58L627.5 260.8L626 261.15L624.5 261.21L622 260.99L617 260.22L609 260.22 Z" fill="url(#g38)"/>
<circle cx="638.9" cy="258.7" r="0.6" fill="#e9007c"/>
<circle cx="637.8" cy="260.3" r="0.6" fill="#e9007c"/>
<circle cx="639.4" cy="258.4" r="0.6" fill="#e9007c"/>
<circle cx="632.0" cy="262.5" r="0.6" fill="#e9007c"/>
<circle cx="626.1" cy="257.9" r="0.6" fill="#e9007c"/>
<circle cx="633.9" cy="259.2" r="0.6" fill="#e9007c"/>
<circle cx="638.9" cy="260.0" r="0.6" fill="#e9007c"/>
<circle cx="633.5" cy="263.2" r="0.6" fill="#e9007c"/>
<circle cx="633.2" cy="259.4" r="0.6" fill="#e9007c"/>
<circle cx="635.6" cy="258.5" r="0.6" fill="#e9007c"/>
<circle cx="631.0" cy="260.0" r="0.6" fill="#e9007c"/>
<circle cx="630.9" cy="262.7" r="0.6" fill="#007cf5"/>
<circle cx="635.5" cy="259.4" r="0.6" fill="#007cf5"/>
<circle cx="627.4" cy="258.9" r="0.6" fill="#007cf5"/>
<circle cx="631.6" cy="259.7" r="0.6" fill="#007cf5"/>
<circle cx="634.0" cy="262.2" r="0.6" fill="#007cf5"/>
<circle cx="639.5" cy="259.2" r="0.6" fill="#007cf5"/>
<circle cx="632.2" cy="260.2" r="0.6" fill="#007cf5"/>
<circle cx="639.9" cy="258.8" r="0.6" fill="#007cf5"/>
<text x="550.1" y="17.6" font-size="6.20" text-anchor="end" font-weight="normal" fill="#262626" >Feature 405</text>
<text x="550.1" y="30.5" font-size="6.20" text-anchor="end" font-weight="normal" fill="#262626" >Feature 389</text>
<text x="550.1" y="43.3" font-size="6.20" text-anchor="end" font-weight="normal" fill="#262626" >Feature 85</text>
<text x="550.1" y="56.1" font-size="6.20" text-anchor="end" font-weight="normal" fill="#262626" >Feature 153</text>
<text x="550.1" y="69.0" font-size="6.20" text-anchor="end" font-weight="normal" fill="#262626" >Feature 320</text>
<text x="550.1" y="81.8" font-size="6.20" text-anchor="end" font-weight="normal" fill="#262626" >Feature 3</text>
<text x="550.1" y="94.6" font-size="6.20" text-anchor="end" font-weight="normal" fill="#262626" >Feature 42</text>
<text x="550.1" y="107.5" font-size="6.20" text-anchor="end" font-weight="normal" fill="#262626" >Feature 23</text>
<text x="550.1" y="120.3" font-size="6.20" text-anchor="end" font-weight="normal" fill="#262626" >Feature 8</text>
<text x="550.1" y="133.1" font-size="6.20" text-anchor="end" font-weight="normal" fill="#262626" >Feature 18</text>
<text x="550.1" y="145.9" font-size="6.20" text-anchor="end" font-weight="normal" fill="#262626" >Feature 2</text>
<text x="550.1" y="158.8" font-size="6.20" text-anchor="end" font-weight="normal" fill="#262626" >Feature 59</text>
<text x="550.1" y="171.6" font-size="6.20" text-anchor="end" font-weight="normal" fill="#262626" >Feature 37</text>
<text x="550.1" y="184.4" font-size="6.20" text-anchor="end" font-weight="normal" fill="#262626" >Feature 280</text>
<text x="550.1" y="197.3" font-size="6.20" text-anchor="end" font-weight="normal" fill="#262626" >Feature 71</text>
<text x="550.1" y="210.1" font-size="6.20" text-anchor="end" font-weight="normal" fill="#262626" >Feature 409</text>
<text x="550.1" y="222.9" font-size="6.20" text-anchor="end" font-weight="normal" fill="#262626" >Feature 260</text>
<text x="550.1" y="235.8" font-size="6.20" text-anchor="end" font-weight="normal" fill="#262626" >Feature 276</text>
<text x="550.1" y="248.6" font-size="6.20" text-anchor="end" font-weight="normal" fill="#262626" >Feature 413</text>
<text x="550.1" y="261.4" font-size="6.20" text-anchor="end" font-weight="normal" fill="#262626" >Feature 62</text>
<line x1="560.6" x2="716.9" y1="271.75" y2="271.75" stroke="#9a9a9a" stroke-width="1.2"/>
<line x1="561.00" x2="561.00" y1="271.75" y2="273.55" stroke="#333" stroke-width="0.6"/>
<text x="561.0" y="279.0" font-size="5.20" text-anchor="middle" font-weight="normal" fill="#262626" >−1.00</text>
<line x1="578.80" x2="578.80" y1="271.75" y2="273.55" stroke="#333" stroke-width="0.6"/>
<text x="578.8" y="279.0" font-size="5.20" text-anchor="middle" font-weight="normal" fill="#262626" >−0.75</text>
<line x1="596.60" x2="596.60" y1="271.75" y2="273.55" stroke="#333" stroke-width="0.6"/>
<text x="596.6" y="279.0" font-size="5.20" text-anchor="middle" font-weight="normal" fill="#262626" >−0.50</text>
<line x1="614.40" x2="614.40" y1="271.75" y2="273.55" stroke="#333" stroke-width="0.6"/>
<text x="614.4" y="279.0" font-size="5.20" text-anchor="middle" font-weight="normal" fill="#262626" >−0.25</text>
<line x1="632.20" x2="632.20" y1="271.75" y2="273.55" stroke="#333" stroke-width="0.6"/>
<text x="632.2" y="279.0" font-size="5.20" text-anchor="middle" font-weight="normal" fill="#262626" >0.00</text>
<line x1="650.00" x2="650.00" y1="271.75" y2="273.55" stroke="#333" stroke-width="0.6"/>
<text x="650.0" y="279.0" font-size="5.20" text-anchor="middle" font-weight="normal" fill="#262626" >0.25</text>
<line x1="667.80" x2="667.80" y1="271.75" y2="273.55" stroke="#333" stroke-width="0.6"/>
<text x="667.8" y="279.0" font-size="5.20" text-anchor="middle" font-weight="normal" fill="#262626" >0.50</text>
<line x1="685.60" x2="685.60" y1="271.75" y2="273.55" stroke="#333" stroke-width="0.6"/>
<text x="685.6" y="279.0" font-size="5.20" text-anchor="middle" font-weight="normal" fill="#262626" >0.75</text>
<line x1="703.40" x2="703.40" y1="271.75" y2="273.55" stroke="#333" stroke-width="0.6"/>
<text x="703.4" y="279.0" font-size="5.20" text-anchor="middle" font-weight="normal" fill="#262626" >1.00</text>
<text x="639.0" y="285.7" font-size="6.40" text-anchor="middle" font-weight="normal" fill="#262626" >SHAP value (impact on model output)</text>
<rect x="726.4" y="2.62" width="3.2" height="269.13" fill="url(#cbar)"/>
<text x="731.1" y="4.8" font-size="5.10" text-anchor="start" font-weight="normal" fill="#262626" >High</text>
<text x="731.3" y="273.9" font-size="5.00" text-anchor="start" font-weight="normal" fill="#262626" >Low</text>
<text x="0.0" y="0.0" font-size="6.00" text-anchor="middle" font-weight="normal" fill="#262626" transform="translate(745.7,137.4) rotate(-90)">Feature value</text>
<text x="600.7" y="307.9" font-size="13.60" text-anchor="start" font-weight="bold" fill="#000" >C</text>
<text x="614.5" y="307.7" font-size="11.10" text-anchor="start" font-weight="normal" fill="#111" >A. thaliana</text>
</svg></div></body></html>
